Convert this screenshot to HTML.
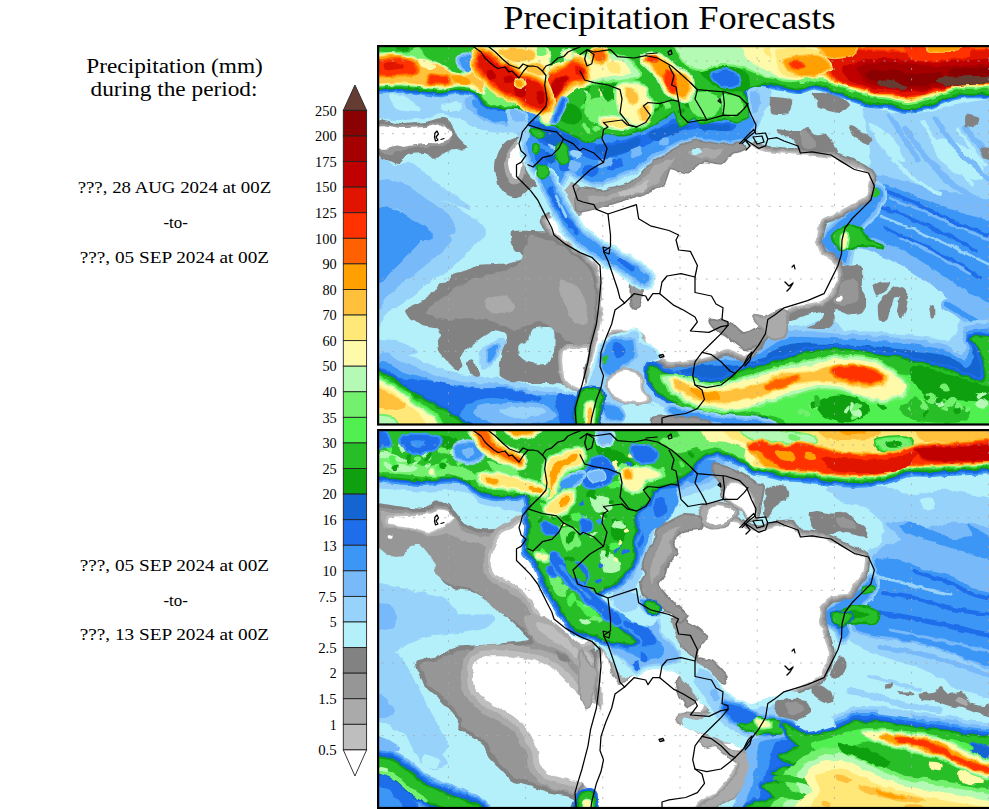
<!DOCTYPE html>
<html><head><meta charset="utf-8"><title>Precipitation Forecasts</title>
<style>html,body{margin:0;padding:0;background:#fff;}svg{display:block;}text{font-family:"Liberation Serif",serif;fill:#000;}</style></head><body>
<svg width="989" height="809" viewBox="0 0 989 809">
<rect width="989" height="809" fill="#fff"/>
<text x="669.5" y="29.2" font-size="33" text-anchor="middle" textLength="332.5" lengthAdjust="spacingAndGlyphs">Precipitation Forecasts</text>
<text x="174.6" y="73" font-size="20" text-anchor="middle" textLength="176.5" lengthAdjust="spacingAndGlyphs">Precipitation (mm)</text>
<text x="174" y="96.4" font-size="20" text-anchor="middle" textLength="167" lengthAdjust="spacingAndGlyphs">during the period:</text>
<text x="174.4" y="192.8" font-size="16.6" text-anchor="middle" textLength="193.5" lengthAdjust="spacingAndGlyphs">???, 28 AUG 2024 at 00Z</text>
<text x="175.6" y="227.8" font-size="16.6" text-anchor="middle" textLength="24.4" lengthAdjust="spacingAndGlyphs">-to-</text>
<text x="174.4" y="262.8" font-size="16.6" text-anchor="middle" textLength="189.3" lengthAdjust="spacingAndGlyphs">???, 05 SEP 2024 at 00Z</text>
<text x="174.4" y="570.6" font-size="16.6" text-anchor="middle" textLength="189.3" lengthAdjust="spacingAndGlyphs">???, 05 SEP 2024 at 00Z</text>
<text x="175.6" y="605.6" font-size="16.6" text-anchor="middle" textLength="24.4" lengthAdjust="spacingAndGlyphs">-to-</text>
<text x="174.4" y="640.0" font-size="16.6" text-anchor="middle" textLength="189.3" lengthAdjust="spacingAndGlyphs">???, 13 SEP 2024 at 00Z</text>
<g stroke="#222" stroke-width="0.9" stroke-linejoin="miter"><path d="M343.3 110.4 L354.95000000000005 85 L366.6 110.4 Z" fill="#643c32"/><rect x="343.3" y="110.40" width="23.30" height="25.58" fill="#8b0000"/><rect x="343.3" y="135.98" width="23.30" height="25.58" fill="#a50000"/><rect x="343.3" y="161.56" width="23.30" height="25.58" fill="#c00000"/><rect x="343.3" y="187.14" width="23.30" height="25.58" fill="#e11400"/><rect x="343.3" y="212.72" width="23.30" height="25.58" fill="#ff3200"/><rect x="343.3" y="238.30" width="23.30" height="25.58" fill="#ff6000"/><rect x="343.3" y="263.88" width="23.30" height="25.58" fill="#ffa000"/><rect x="343.3" y="289.46" width="23.30" height="25.58" fill="#ffc03c"/><rect x="343.3" y="315.04" width="23.30" height="25.58" fill="#ffe878"/><rect x="343.3" y="340.62" width="23.30" height="25.58" fill="#fffaaa"/><rect x="343.3" y="366.20" width="23.30" height="25.58" fill="#b4fab4"/><rect x="343.3" y="391.78" width="23.30" height="25.58" fill="#73f06e"/><rect x="343.3" y="417.36" width="23.30" height="25.58" fill="#50f050"/><rect x="343.3" y="442.94" width="23.30" height="25.58" fill="#28be28"/><rect x="343.3" y="468.52" width="23.30" height="25.58" fill="#0fa00f"/><rect x="343.3" y="494.10" width="23.30" height="25.58" fill="#1464d2"/><rect x="343.3" y="519.68" width="23.30" height="25.58" fill="#1e6eeb"/><rect x="343.3" y="545.26" width="23.30" height="25.58" fill="#3c96f5"/><rect x="343.3" y="570.84" width="23.30" height="25.58" fill="#78b9fa"/><rect x="343.3" y="596.42" width="23.30" height="25.58" fill="#96d2fa"/><rect x="343.3" y="622.00" width="23.30" height="25.58" fill="#b4f0fa"/><rect x="343.3" y="647.58" width="23.30" height="25.58" fill="#828282"/><rect x="343.3" y="673.16" width="23.30" height="25.58" fill="#969696"/><rect x="343.3" y="698.74" width="23.30" height="25.58" fill="#aaaaaa"/><rect x="343.3" y="724.32" width="23.30" height="25.58" fill="#bebebe"/><path d="M343.3 749.90 L354.95000000000005 776 L366.6 749.90 Z" fill="#fff"/></g>
<g font-size="14.2" text-anchor="end"><text x="336.7" y="115.6" textLength="21.6" lengthAdjust="spacingAndGlyphs">250</text><text x="336.7" y="141.2" textLength="21.6" lengthAdjust="spacingAndGlyphs">200</text><text x="336.7" y="166.8" textLength="21.6" lengthAdjust="spacingAndGlyphs">175</text><text x="336.7" y="192.3" textLength="21.6" lengthAdjust="spacingAndGlyphs">150</text><text x="336.7" y="217.9" textLength="21.6" lengthAdjust="spacingAndGlyphs">125</text><text x="336.7" y="243.5" textLength="21.6" lengthAdjust="spacingAndGlyphs">100</text><text x="336.7" y="269.1" textLength="14.3" lengthAdjust="spacingAndGlyphs">90</text><text x="336.7" y="294.7" textLength="14.3" lengthAdjust="spacingAndGlyphs">80</text><text x="336.7" y="320.2" textLength="14.3" lengthAdjust="spacingAndGlyphs">70</text><text x="336.7" y="345.8" textLength="14.3" lengthAdjust="spacingAndGlyphs">60</text><text x="336.7" y="371.4" textLength="14.3" lengthAdjust="spacingAndGlyphs">50</text><text x="336.7" y="397.0" textLength="14.3" lengthAdjust="spacingAndGlyphs">40</text><text x="336.7" y="422.6" textLength="14.3" lengthAdjust="spacingAndGlyphs">35</text><text x="336.7" y="448.1" textLength="14.3" lengthAdjust="spacingAndGlyphs">30</text><text x="336.7" y="473.7" textLength="14.3" lengthAdjust="spacingAndGlyphs">25</text><text x="336.7" y="499.3" textLength="14.3" lengthAdjust="spacingAndGlyphs">20</text><text x="336.7" y="524.9" textLength="14.3" lengthAdjust="spacingAndGlyphs">16</text><text x="336.7" y="550.5" textLength="14.3" lengthAdjust="spacingAndGlyphs">13</text><text x="336.7" y="576.0" textLength="14.3" lengthAdjust="spacingAndGlyphs">10</text><text x="336.7" y="601.6" textLength="18.5" lengthAdjust="spacingAndGlyphs">7.5</text><text x="336.7" y="627.2" textLength="6.9" lengthAdjust="spacingAndGlyphs">5</text><text x="336.7" y="652.8" textLength="18.5" lengthAdjust="spacingAndGlyphs">2.5</text><text x="336.7" y="678.4" textLength="6.9" lengthAdjust="spacingAndGlyphs">2</text><text x="336.7" y="703.9" textLength="18.5" lengthAdjust="spacingAndGlyphs">1.5</text><text x="336.7" y="729.5" textLength="6.9" lengthAdjust="spacingAndGlyphs">1</text><text x="336.7" y="755.1" textLength="18.5" lengthAdjust="spacingAndGlyphs">0.5</text></g>
<defs><filter id="rough" x="-2%" y="-2%" width="104%" height="104%" filterUnits="objectBoundingBox" color-interpolation-filters="sRGB"><feTurbulence type="fractalNoise" baseFrequency="0.1" numOctaves="2" seed="7" result="n"/><feDisplacementMap in="SourceGraphic" in2="n" scale="5" xChannelSelector="R" yChannelSelector="G"/></filter></defs><clipPath id="ct"><rect x="378" y="46" width="611" height="378.5"/></clipPath><g clip-path="url(#ct)"><rect x="378" y="46" width="611" height="378.5" fill="#b4f0fa"/><g filter="url(#rough)" stroke-linejoin="round" stroke-linecap="round"><path d="M379 200 C385.8 180.8 409.8 205 420 205 C430.2 205 431.7 198.3 440 200 C448.3 201.7 462.3 209.7 470 215 C477.7 220.3 486 226.2 486 232 C486 237.8 475.7 244 470 250 C464.3 256 458.3 263 452 268 C445.7 273 439.3 274.7 432 280 C424.7 285.3 415.8 294.3 408 300 C400.2 305.7 389.8 310.7 385 314 C380.2 317.3 380 339 379 320 C378 301 372.2 219.2 379 200 Z" fill="#96d2fa"/><path d="M379 220 C382.5 206.2 392.3 220.3 400 222 C407.7 223.7 417 227.7 425 230 C433 232.3 443.8 233.7 448 236 C452.2 238.3 452.7 240 450 244 C447.3 248 439.3 253.8 432 260 C424.7 266.2 413.5 274.8 406 281 C398.5 287.2 391.5 293 387 297 C382.5 301 380.3 317.8 379 305 C377.7 292.2 375.5 233.8 379 220 Z" fill="#78b9fa"/><path d="M379 232 C382.5 223.8 392.8 231.3 400 232 C407.2 232.7 420.7 232.2 422 236 C423.3 239.8 413 249.2 408 255 C403 260.8 396.8 266.7 392 271 C387.2 275.3 381.2 287.5 379 281 C376.8 274.5 375.5 240.2 379 232 Z" fill="#3c96f5"/><path d="M379 160 C381.7 154.2 389.3 164.5 395 165 C400.7 165.5 407.2 160.8 413 163 C418.8 165.2 423 172.7 430 178 C437 183.3 448.3 189.7 455 195 C461.7 200.3 472.5 209.2 470 210 C467.5 210.8 448.3 200.8 440 200 C431.7 199.2 430.2 205 420 205 C409.8 205 385.8 207.5 379 200 C372.2 192.5 376.3 165.8 379 160 Z" fill="#96d2fa"/><path d="M379 181 C383.5 177.2 398.3 181.2 406 184 C413.7 186.8 418 193 425 198 C432 203 443 208.2 448 214 C453 219.8 458 229.5 455 233 C452 236.5 437.3 237.3 430 235 C422.7 232.7 416.5 223.3 411 219 C405.5 214.7 402.3 211 397 209 C391.7 207 382 211.7 379 207 C376 202.3 374.5 184.8 379 181 Z" fill="#78b9fa"/><path d="M379 208 C382 203 391.7 208.2 397 210 C402.3 211.8 406 216 411 219 C416 222 423.8 224.5 427 228 C430.2 231.5 434.5 238 430 240 C425.5 242 408.5 240 400 240 C391.5 240 382.5 245.3 379 240 C375.5 234.7 376 213 379 208 Z" fill="#3c96f5"/><path d="M370 88 C370 88 394.3 87.5 402 88 C409.7 88.5 428.4 92 436 92 C443.6 92 461.6 87.5 467 88 C472.4 88.5 478.1 93.7 482 96 C485.9 98.3 495.1 106.1 500 108 C504.9 109.9 520.5 110.1 524 112 C527.5 113.9 531 121.7 530 124 C529 126.3 519.7 131.1 515 132 C510.3 132.9 495 132.7 490 132 C485 131.3 475.5 127.6 472 126 C468.5 124.4 462.7 119.2 460 118 C457.3 116.8 451.2 116.5 449 116 C446.8 115.5 443.8 113.8 441 114 C438.2 114.2 429.7 117.3 425 118 C420.3 118.7 407.4 120 401 120 C394.6 120 370 118 370 118 L370 88 Z" fill="#96d2fa"/><path d="M466 98 C468.3 96.7 475.3 96.7 480 98 C484.7 99.3 490.7 103 494 106 C497.3 109 500.7 113.7 500 116 C499.3 118.3 494.3 120.3 490 120 C485.7 119.7 478 116.3 474 114 C470 111.7 467.3 108.7 466 106 C464.7 103.3 463.7 99.3 466 98 Z" fill="#78b9fa"/><path d="M441.2 103 C443.7 102 459 101.9 461.3 103 C463.6 104.1 460.9 110.6 458.4 111.6 C455.9 112.6 444.9 111.3 442.6 110.2 C440.3 109.1 438.7 104 441.2 103 Z" fill="#b4f0fa"/><path d="M389.5 94.8 C391 93.8 399.8 94.1 403.8 95.8 C407.8 97.5 417.7 105.2 419.6 107.3 C421.5 109.4 420.9 111.2 418.2 111.6 C415.5 112 402.9 111.3 399.5 110.2 C396.1 109.1 393.7 105.1 392.4 103 C391.1 100.9 388 95.8 389.5 94.8 Z" fill="#b4f0fa"/><path d="M474 100 C476.3 99.7 482.5 105.7 490 108 C497.5 110.3 515.3 111.7 519 114 C522.7 116.3 516.8 121 512 122 C507.2 123 496 122 490 120 C484 118 478.7 113.3 476 110 C473.3 106.7 471.7 100.3 474 100 Z" fill="#78b9fa" stroke="#78b9fa" stroke-width="6"/><path d="M474 100 C476.3 99.7 482.5 105.7 490 108 C497.5 110.3 515.3 111.7 519 114 C522.7 116.3 516.8 121 512 122 C507.2 123 496 122 490 120 C484 118 478.7 113.3 476 110 C473.3 106.7 471.7 100.3 474 100 Z" fill="#3c96f5"/><path d="M379 340 C382.5 338.3 393.5 340 400 342 C406.5 344 418 349.7 418 352 C418 354.3 406.5 356 400 356 C393.5 356 382.5 354.7 379 352 C375.5 349.3 375.5 341.7 379 340 Z" fill="#96d2fa"/><path d="M379 346 C382.7 333.7 393.3 349.3 401 352 C408.7 354.7 417.2 358.8 425 362 C432.8 365.2 440.2 368.7 448 371 C455.8 373.3 463.3 374.8 472 376 C480.7 377.2 490.7 376.5 500 378 C509.3 379.5 518.7 383.3 528 385 C537.3 386.7 546.8 386.3 556 388 C565.2 389.7 575.7 393 583 395 C590.3 397 597.2 394.8 600 400 C602.8 405.2 600 426 600 426 L379 426 C379 426 375.3 358.3 379 346 Z" fill="#96d2fa"/><path d="M379 356 C382.7 345.3 393.3 359.5 401 362 C408.7 364.5 417.2 368.2 425 371 C432.8 373.8 440.2 377 448 379 C455.8 381 463.3 382.2 472 383 C480.7 383.8 490.7 382.8 500 384 C509.3 385.2 518.7 388.5 528 390 C537.3 391.5 547.3 391.3 556 393 C564.7 394.7 576 394.5 580 400 C584 405.5 580 426 580 426 L379 426 C379 426 375.3 366.7 379 356 Z" fill="#78b9fa"/><path d="M379 364 C382.7 354.8 393.3 368.7 401 371 C408.7 373.3 417.2 375.8 425 378 C432.8 380.2 438.8 382.3 448 384 C457.2 385.7 469.7 387.3 480 388 C490.3 388.7 500 386.7 510 388 C520 389.3 531.7 394.7 540 396 C548.3 397.3 553.3 395 560 396 C566.7 397 578.3 397 580 402 C581.7 407 570 426 570 426 L379 426 C379 426 375.3 373.2 379 364 Z" fill="#3c96f5"/><path d="M379 370 C382.5 362 391.2 376.2 400 378 C408.8 379.8 420.3 379.3 432 381 C443.7 382.7 457 386.7 470 388 C483 389.3 498 387.2 510 389 C522 390.8 540.5 397 542 399 C543.5 401 527.5 401.2 519 401 C510.5 400.8 499.7 397.3 491 398 C482.3 398.7 473 400.3 467 405 C461 409.7 455 426 455 426 L379 426 C379 426 375.5 378 379 370 Z" fill="#1e6eeb"/><path d="M476 407 C480.3 404 499 403.5 510 403 C521 402.5 534.3 401.5 542 404 C549.7 406.5 559.8 414.7 556 418 C552.2 421.3 531 423.5 519 424 C507 424.5 491.2 423.8 484 421 C476.8 418.2 471.7 410 476 407 Z" fill="#78b9fa"/><path d="M500 409 C503.3 407.2 527.5 406.2 535 407 C542.5 407.8 548.3 412.2 545 414 C541.7 415.8 522.5 418.8 515 418 C507.5 417.2 496.7 410.8 500 409 Z" fill="#96d2fa"/><path d="M556 395 C558.8 390.5 574.3 393.8 578 399 C581.7 404.2 578 426 578 426 L561 426 C561 426 553.2 399.5 556 395 Z" fill="#1e6eeb"/><path d="M370 370 C370 370 375.5 370.8 380 373 C384.5 375.2 391.5 379.3 397 383 C402.5 386.7 407.5 391.5 413 395 C418.5 398.5 424.2 400.8 430 404 C435.8 407.2 441.3 410 448 414 C454.7 418 470 428 470 428 L370 428 L370 370 Z" fill="#1464d2" stroke="#1464d2" stroke-width="8"/><path d="M370 370 C370 370 375.5 370.8 380 373 C384.5 375.2 391.5 379.3 397 383 C402.5 386.7 407.5 391.5 413 395 C418.5 398.5 424.2 400.8 430 404 C435.8 407.2 441.3 410 448 414 C454.7 418 470 428 470 428 L370 428 L370 370 Z" fill="#0fa00f" stroke="#0fa00f" stroke-width="4"/><path d="M370 370 C370 370 375.5 370.8 380 373 C384.5 375.2 391.5 379.3 397 383 C402.5 386.7 407.5 391.5 413 395 C418.5 398.5 424.2 400.8 430 404 C435.8 407.2 441.3 410 448 414 C454.7 418 470 428 470 428 L370 428 L370 370 Z" fill="#28be28"/><path d="M370 377 C370 377 375.5 376.2 380 378 C384.5 379.8 391.2 384.2 397 388 C402.8 391.8 409.2 396.8 415 401 C420.8 405.2 427 408.5 432 413 C437 417.5 445 428 445 428 L370 428 L370 377 Z" fill="#50f050" stroke="#50f050" stroke-width="4"/><path d="M370 377 C370 377 375.5 376.2 380 378 C384.5 379.8 391.2 384.2 397 388 C402.8 391.8 409.2 396.8 415 401 C420.8 405.2 427 408.5 432 413 C437 417.5 445 428 445 428 L370 428 L370 377 Z" fill="#73f06e"/><path d="M370 380 C370 380 375.5 379.2 380 381 C384.5 382.8 391.2 387 397 391 C402.8 395 409.2 400.7 415 405 C420.8 409.3 428.2 413.2 432 417 C435.8 420.8 438 428 438 428 L370 428 L370 380 Z" fill="#b4fab4" stroke="#b4fab4" stroke-width="3"/><path d="M370 380 C370 380 375.5 379.2 380 381 C384.5 382.8 391.2 387 397 391 C402.8 395 409.2 400.7 415 405 C420.8 409.3 428.2 413.2 432 417 C435.8 420.8 438 428 438 428 L370 428 L370 380 Z" fill="#fffaaa"/><path d="M370 384 C370 384 375.8 383.3 380 385 C384.2 386.7 389.7 390.2 395 394 C400.3 397.8 407 403.7 412 408 C417 412.3 422.5 416.7 425 420 C427.5 423.3 427 428 427 428 L370 428 L370 384 Z" fill="#ffe878"/><path d="M370 388 C370 388 376.3 386.8 380 388 C383.7 389.2 387.7 392.3 392 395 C396.3 397.7 404.5 401.7 406 404 C407.5 406.3 404.2 408.2 401 409 C397.8 409.8 392.2 409.7 387 409 C381.8 408.3 370 405 370 405 L370 388 Z" fill="#ffc03c"/><path d="M370 417 C370 417 385 416.2 390 418 C395 419.8 400 428 400 428 L370 428 L370 417 Z" fill="#73f06e" stroke="#73f06e" stroke-width="4"/><path d="M370 417 C370 417 385 416.2 390 418 C395 419.8 400 428 400 428 L370 428 L370 417 Z" fill="#b4fab4"/><path d="M864 106 C868 103.3 879.8 111 890 112 C900.2 113 913.3 113.3 925 112 C936.7 110.7 948.3 106.3 960 104 C971.7 101.7 995 98 995 98 L995 430 L930 430 C930 430 881.7 373 860 360 C838.3 347 816.7 354.5 800 352 C783.3 349.5 761.7 348.7 760 345 C758.3 341.3 778.3 334.2 790 330 C801.7 325.8 820 319.2 830 320 C840 320.8 838.3 330.8 850 335 C861.7 339.2 883.3 344.2 900 345 C916.7 345.8 940 347.5 950 340 C960 332.5 961.7 311.7 960 300 C958.3 288.3 950 277.5 940 270 C930 262.5 911.7 258.3 900 255 C888.3 251.7 878.3 251.7 870 250 C861.7 248.3 850 250.8 850 245 C850 239.2 865.3 223.8 870 215 C874.7 206.2 878 198.5 878 192 C878 185.5 871.3 183 870 176 C868.7 169 870.7 158 870 150 C869.3 142 867 135.3 866 128 C865 120.7 860 108.7 864 106 Z" fill="#96d2fa"/><path d="M855 270 C863.3 263.7 885.8 261.2 900 262 C914.2 262.8 930.8 267.8 940 275 C949.2 282.2 954.2 295 955 305 C955.8 315 954.2 328.8 945 335 C935.8 341.2 914.2 342 900 342 C885.8 342 868.3 342 860 335 C851.7 328 850.8 310.8 850 300 C849.2 289.2 846.7 276.3 855 270 Z" fill="#b4f0fa"/><path d="M934 139 C939.3 137.3 963.5 143.5 972 150 C980.5 156.5 987 173.8 985 178 C983 182.2 967.5 178 960 175 C952.5 172 944.3 166 940 160 C935.7 154 928.7 140.7 934 139 Z" fill="#b4f0fa"/><path d="M868 122 C870.3 121.2 883.8 128.7 890 135 C896.2 141.3 904.7 156.2 905 160 C905.3 163.8 896.8 161.3 892 158 C887.2 154.7 880 146 876 140 C872 134 865.7 122.8 868 122 Z" fill="#b4f0fa"/><path d="M874 176 C877.3 173.7 893.5 178.6 900 180 C906.5 181.4 923 186.4 930 188 C937 189.6 952.4 192.6 960 194 C967.6 195.4 995 200 995 200 L995 332 C995 332 971.4 316.7 965 312 C958.6 307.3 945.8 296.4 940 292 C934.2 287.6 920.8 277.7 915 274 C909.2 270.3 895.5 262.8 890 260 C884.5 257.2 873.1 252.1 868 250 C862.9 247.9 846.9 245.3 846 242 C845.1 238.7 857 226.9 860 222 C863 217.1 870.4 205.4 872 200 C873.6 194.6 870.7 178.3 874 176 Z" fill="#78b9fa"/><path d="M878 184 C882.3 181.7 898.4 189.7 905 192 C911.6 194.3 928 201.4 935 204 C942 206.6 958 211.9 965 214 C972 216.1 995 222 995 222 L995 306 C995 306 969.4 292.4 962 288 C954.6 283.6 939 272.4 932 268 C925 263.6 908.8 253.5 902 250 C895.2 246.5 879.1 239.4 874 238 C868.9 236.6 858.7 241 858 238 C857.3 235 865.7 218.3 868 212 C870.3 205.7 873.7 186.3 878 184 Z" fill="#3c96f5"/><path d="M884 190 C889.2 192.2 904 198 915 203 C926 208 937.2 214.5 950 220 C962.8 225.5 992 236 992 236" fill="none" stroke="#1e6eeb" stroke-width="3.5"/><path d="M878 206 C883.3 208 898.8 213.3 910 218 C921.2 222.7 934.2 228.7 945 234 C955.8 239.3 970 247.3 975 250" fill="none" stroke="#1e6eeb" stroke-width="3.5"/><path d="M885 228 C890.8 230.7 908.3 238.3 920 244 C931.7 249.7 945 256.3 955 262 C965 267.7 975.8 275.3 980 278" fill="none" stroke="#1e6eeb" stroke-width="3"/><path d="M890 198 C895.8 200.3 912.5 206.7 925 212 C937.5 217.3 953.8 225.3 965 230 C976.2 234.7 992 240 992 240" fill="none" stroke="#78b9fa" stroke-width="2.5"/><path d="M880 216 C885.8 218.3 902.5 224.7 915 230 C927.5 235.3 942.2 242 955 248 C967.8 254 992 266 992 266" fill="none" stroke="#96d2fa" stroke-width="2.5"/><path d="M900 238 C905.8 240.7 923.3 248 935 254 C946.7 260 964.2 270.7 970 274" fill="none" stroke="#78b9fa" stroke-width="2.5"/><path d="M948 305 C951.7 307.2 962.7 313.5 970 318 C977.3 322.5 992 332 992 332" fill="none" stroke="#78b9fa" stroke-width="12"/><path d="M948 305 C951.7 307.2 962.7 313.5 970 318 C977.3 322.5 992 332 992 332" fill="none" stroke="#3c96f5" stroke-width="6"/><path d="M905 128 C908.3 132.7 917.5 147 925 156 C932.5 165 940 174 950 182 C960 190 979.2 200.3 985 204" fill="none" stroke="#78b9fa" stroke-width="6"/><path d="M890 116 C892.3 119.7 899.3 130.7 904 138 C908.7 145.3 915.7 156.3 918 160" fill="none" stroke="#78b9fa" stroke-width="5"/><path d="M935 118 C938.8 123.3 948.8 139.7 958 150 C967.2 160.3 984.7 175 990 180" fill="none" stroke="#78b9fa" stroke-width="5"/><path d="M965 128 L992 160" fill="none" stroke="#78b9fa" stroke-width="6"/><path d="M922 122 C925.3 126.7 933.7 139.7 942 150 C950.3 160.3 967 178.3 972 184" fill="none" stroke="#b4f0fa" stroke-width="4"/><path d="M893 160 C896.7 163.3 907.2 174.3 915 180 C922.8 185.7 935.8 191.7 940 194" fill="none" stroke="#b4f0fa" stroke-width="4"/><path d="M958 130 L985 165" fill="none" stroke="#b4f0fa" stroke-width="3"/><path d="M648 360 C650.6 356.4 668.8 364.6 674 364 C679.2 363.4 693 355 700 354 C707 353 737 355.6 744 354 C751 352.4 765.4 340.4 770 338 C774.6 335.6 784 330.5 790 330 C796 329.5 823.6 332.5 830 333 C836.4 333.5 849 334.7 854 335 C859 335.3 872.9 335.4 880 336 C887.1 336.6 918 339.9 925 341 C932 342.1 946.3 345.7 950 347 C953.7 348.3 960.4 353.9 962 354 C963.6 354.1 966 349.8 966 348 C966 346.2 962 338.2 962 336 C962 333.8 962.7 327.4 966 326 C969.3 324.6 995 322 995 322 L995 400 C995 400 682.7 404 648 400 C613.3 396 645.4 363.6 648 360 Z" fill="#96d2fa" stroke="#96d2fa" stroke-width="8"/><path d="M648 360 C650.6 356.4 668.8 364.6 674 364 C679.2 363.4 693 355 700 354 C707 353 737 355.6 744 354 C751 352.4 765.4 340.4 770 338 C774.6 335.6 784 330.5 790 330 C796 329.5 823.6 332.5 830 333 C836.4 333.5 849 334.7 854 335 C859 335.3 872.9 335.4 880 336 C887.1 336.6 918 339.9 925 341 C932 342.1 946.3 345.7 950 347 C953.7 348.3 960.4 353.9 962 354 C963.6 354.1 966 349.8 966 348 C966 346.2 962 338.2 962 336 C962 333.8 962.7 327.4 966 326 C969.3 324.6 995 322 995 322 L995 400 C995 400 682.7 404 648 400 C613.3 396 645.4 363.6 648 360 Z" fill="#78b9fa"/><path d="M650 363 C652.4 359.8 669 368.3 674 368 C679 367.7 693 360.8 700 360 C707 359.2 737 361.4 744 360 C751 358.6 765.4 348.3 770 346 C774.6 343.7 784 337.8 790 337 C796 336.2 823.6 337.8 830 338 C836.4 338.2 849 339.2 854 339.5 C859 339.8 872.9 340.4 880 341 C887.1 341.6 918 344.9 925 346 C932 347.1 946.1 350.6 950 352 C953.9 353.4 962 360 964 360 C966 360 969.8 354 970 352 C970.2 350 966.2 342.1 966 340 C965.8 337.9 965.1 332.2 968 331 C970.9 329.8 995 328 995 328 L995 400 C995 400 684.5 403.7 650 400 C615.5 396.3 647.6 366.2 650 363 Z" fill="#3c96f5"/><path d="M650 365 C652.4 362.1 669 370.9 674 371 C679 371.1 693 366.6 700 366 C707 365.4 737 366.3 744 365 C751 363.7 765.4 355.1 770 353 C774.6 350.9 784 344.9 790 344 C796 343.1 823.6 343.9 830 344 C836.4 344.1 849 344.7 854 345 C859 345.3 872.9 346.3 880 347 C887.1 347.7 918 351 925 352 C932 353 945.9 355.5 950 357 C954.1 358.5 963.6 366.9 966 367 C968.4 367.1 973.6 360.3 974 358 C974.4 355.7 970.4 346.3 970 344 C969.6 341.7 967.5 336.1 970 335 C972.5 333.9 995 332.5 995 332.5 L995 400 C995 400 684.5 403.5 650 400 C615.5 396.5 647.6 367.9 650 365 Z" fill="#1464d2"/><path d="M822 240 C823 236 829.7 230.2 834 226 C838.3 221.8 843.3 218.7 848 215 C852.7 211.3 858 207.8 862 204 C866 200.2 869.3 195 872 192 C874.7 189 876.3 185.3 878 186 C879.7 186.7 883 191.3 882 196 C881 200.7 876 208.7 872 214 C868 219.3 861.7 223 858 228 C854.3 233 852 238.3 850 244 C848 249.7 848 259.7 846 262 C844 264.3 841 260 838 258 C835 256 830.7 253 828 250 C825.3 247 821 244 822 240 Z" fill="#96d2fa" stroke="#96d2fa" stroke-width="10"/><path d="M822 240 C823 236 829.7 230.2 834 226 C838.3 221.8 843.3 218.7 848 215 C852.7 211.3 858 207.8 862 204 C866 200.2 869.3 195 872 192 C874.7 189 876.3 185.3 878 186 C879.7 186.7 883 191.3 882 196 C881 200.7 876 208.7 872 214 C868 219.3 861.7 223 858 228 C854.3 233 852 238.3 850 244 C848 249.7 848 259.7 846 262 C844 264.3 841 260 838 258 C835 256 830.7 253 828 250 C825.3 247 821 244 822 240 Z" fill="#78b9fa" stroke="#78b9fa" stroke-width="5"/><path d="M822 240 C823 236 829.7 230.2 834 226 C838.3 221.8 843.3 218.7 848 215 C852.7 211.3 858 207.8 862 204 C866 200.2 869.3 195 872 192 C874.7 189 876.3 185.3 878 186 C879.7 186.7 883 191.3 882 196 C881 200.7 876 208.7 872 214 C868 219.3 861.7 223 858 228 C854.3 233 852 238.3 850 244 C848 249.7 848 259.7 846 262 C844 264.3 841 260 838 258 C835 256 830.7 253 828 250 C825.3 247 821 244 822 240 Z" fill="#3c96f5"/><path d="M833 236 C834.7 232.7 843.8 227.3 848 226 C852.2 224.7 854.7 225.7 858 228 C861.3 230.3 864 236.8 868 240 C872 243.2 883.5 246.2 882 247 C880.5 247.8 865.5 244.5 859 245 C852.5 245.5 846.5 249.8 843 250 C839.5 250.2 839.7 248.3 838 246 C836.3 243.7 831.3 239.3 833 236 Z" fill="#0fa00f" stroke="#0fa00f" stroke-width="4"/><path d="M833 236 C834.7 232.7 843.8 227.3 848 226 C852.2 224.7 854.7 225.7 858 228 C861.3 230.3 864 236.8 868 240 C872 243.2 883.5 246.2 882 247 C880.5 247.8 865.5 244.5 859 245 C852.5 245.5 846.5 249.8 843 250 C839.5 250.2 839.7 248.3 838 246 C836.3 243.7 831.3 239.3 833 236 Z" fill="#28be28"/><path d="M874 186 C875.2 185 878.5 188 879 190 C879.5 192 878.2 197 877 198 C875.8 199 872.5 198 872 196 C871.5 194 872.8 187 874 186 Z" fill="#28be28"/><path d="M842 236 C843 234 847.3 232 848 234 C848.7 236 847 246 846 248 C845 250 842.7 248 842 246 C841.3 244 841 238 842 236 Z" fill="#73f06e" stroke="#73f06e" stroke-width="4"/><path d="M842 236 C843 234 847.3 232 848 234 C848.7 236 847 246 846 248 C845 250 842.7 248 842 246 C841.3 244 841 238 842 236 Z" fill="#b4fab4" stroke="#b4fab4" stroke-width="2"/><path d="M842 236 C843 234 847.3 232 848 234 C848.7 236 847 246 846 248 C845 250 842.7 248 842 246 C841.3 244 841 238 842 236 Z" fill="#fffaaa"/><path d="M379 121 C381.6 117.3 395.6 123.9 401 124 C406.4 124.1 420.3 122.7 425 122 C429.7 121.3 438.2 118.1 441 118 C443.8 117.9 447 118.8 449 121 C451 123.2 455.8 133.8 458 137 C460.2 140.2 468.4 146.5 468 148 C467.6 149.5 457.6 149.7 455 150 C452.4 150.3 448.4 149.9 446 151 C443.6 152.1 436.4 158.8 434 159 C431.6 159.2 428 153.5 425 153 C422 152.5 411 153.7 408 155 C405 156.3 401.1 163.3 399 164 C396.9 164.7 392.3 161.9 390 161 C387.7 160.1 380.3 160.7 379 156 C377.7 151.3 376.4 124.7 379 121 Z" fill="#828282"/><path d="M379 124 C381.6 121.2 395.6 125.9 401 126 C406.4 126.1 420.3 125.5 425 125 C429.7 124.5 437.9 121.3 441 122 C444.1 122.7 450.8 128.9 452 131 C453.2 133.1 452.4 138.2 451 140 C449.6 141.8 443 145.3 440 146 C437 146.7 429.1 145.7 425 146 C420.9 146.3 408.9 148.1 405 149 C401.1 149.9 395 153.9 392 154 C389 154.1 380.5 153.5 379 150 C377.5 146.5 376.4 126.8 379 124 Z" fill="#969696"/><path d="M379 126 C381.6 123.7 395.6 127.9 401 128 C406.4 128.1 420.3 127.4 425 127 C429.7 126.6 438 123.9 441 124.5 C444 125.1 450.1 130.3 451 132 C451.9 133.7 450.5 137.7 449 139 C447.5 140.3 440.9 142.5 438 143 C435.1 143.5 428.3 142.7 424 143 C419.7 143.3 406.2 145.4 401 146 C395.8 146.6 381.6 150.3 379 148 C376.4 145.7 376.4 128.3 379 126 Z" fill="#ffffff"/><path d="M519 138 C516.3 136.8 510.7 139.3 508 141 C505.3 142.7 500.7 147.5 499 151 C497.3 154.5 495.1 162.7 495 167 C494.9 171.3 496.5 179.3 498 183 C499.5 186.7 503.5 193 506 195 C508.5 197 514.1 198.7 517 198 C519.9 197.3 524.9 191.6 528 190 C531.1 188.4 537.3 185.3 540 186 C542.7 186.7 548 195.8 548 195 C548 194.2 542.7 186 540 180 C537.3 174 530.8 155.6 528 150 C525.2 144.4 521.7 139.2 519 138 Z" fill="#828282"/><path d="M520 139 C517.6 139.3 512.1 144.9 510 148 C507.9 151.1 504.4 158 504 162 C503.6 166 505.4 175.1 507 178 C508.6 180.9 513.7 184 516 184 C518.3 184 522.7 181.2 524 178 C525.3 174.8 525.5 164.3 526 160 C526.5 155.7 528.8 148.8 528 146 C527.2 143.2 522.4 138.7 520 139 Z" fill="#aaaaaa"/><path d="M520 141 C518.5 140.7 513.6 148.2 512 151 C510.4 153.8 508.1 158.8 508 162 C507.9 165.2 509.8 172.9 511 175 C512.2 177.1 515.7 178.9 517 178 C518.3 177.1 520.2 171.3 521 168 C521.8 164.7 523.1 156.6 523 153 C522.9 149.4 521.5 141.3 520 141 Z" fill="#ffffff"/><path d="M511 232 C509.4 233.8 512.7 246.4 514 249 C515.3 251.6 524.4 256.6 524 258 C523.6 259.4 512.9 262.4 510 263 C507.1 263.6 498.3 263.8 495 264 C491.7 264.2 479.8 264.4 477 265 C474.2 265.6 469.4 269.1 467 270 C464.6 270.9 454.9 272.8 453 274 C451.1 275.2 449.4 281 448 282 C446.6 283 440.8 282.6 439 284 C437.2 285.4 432.1 294.1 430 296 C427.9 297.9 420.5 301.6 418 303 C415.5 304.4 405.7 308.3 405 310 C404.3 311.7 409.2 318.5 411 320 C412.8 321.5 420.4 324.2 423 325 C425.6 325.8 435.2 327.1 437 328 C438.8 328.9 441 332.5 441 334 C441 335.5 437.2 341.2 437 343 C436.8 344.8 437.9 350.1 439 352 C440.1 353.9 446.1 360.1 448 362 C449.9 363.9 456.6 370.9 458 371 C459.4 371.1 461.8 364.4 462 363 C462.2 361.6 459 358.8 460 357 C461 355.2 469.9 346.9 472 345 C474.1 343.1 478.9 339.4 481 338 C483.1 336.6 490.6 331.4 493 331 C495.4 330.6 503.6 333.3 505 334 C506.4 334.7 507.3 336.2 507 338 C506.7 339.8 502.7 349.2 502 352 C501.3 354.8 500.2 363.6 500 366 C499.8 368.4 499 374.5 500 376 C501 377.5 507.2 380.3 510 381 C512.8 381.7 524.3 382.8 528 383 C531.7 383.2 543.4 382.8 547 383 C550.6 383.2 560.4 384.3 564 385 C567.6 385.7 579.8 390 583 390 C586.2 390 594.2 389 596 385 C597.8 381 600.4 358.5 601 350 C601.6 341.5 602.1 308.2 602 300 C601.9 291.8 602.2 273 600 268 C597.8 263 584 253 580 250 C576 247 562.8 239.8 560 238 C557.2 236.2 555 232.7 552 232 C549 231.3 534.1 231 530 231 C525.9 231 512.6 230.2 511 232 Z" fill="#828282"/><path d="M520 262 C516 266.8 506.7 269.6 500 272 C493.3 274.4 477.3 276.8 470 280 C462.7 283.2 451 291.7 445 296 C439 300.3 425 308.8 425 312 C425 315.2 439 319.2 445 320 C451 320.8 463.3 317.7 470 318 C476.7 318.3 489 320.4 495 322 C501 323.6 509 330 515 330 C521 330 534 321.3 540 322 C546 322.7 555.3 331.9 560 335 C564.7 338.1 571 344.3 575 345 C579 345.7 587.2 346 590 340 C592.8 334 596 309.3 596 300 C596 290.7 593.5 276.4 590 270 C586.5 263.6 575.6 256 570 252 C564.4 248 553.3 242.1 548 240 C542.7 237.9 533.7 233.1 530 236 C526.3 238.9 524 257.2 520 262 Z" fill="#969696"/><path d="M487 298 C490.2 296 500.3 294.3 505 296 C509.7 297.7 516.2 305 515 308 C513.8 311 502.8 314 498 314 C493.2 314 487.8 310.7 486 308 C484.2 305.3 483.8 300 487 298 Z" fill="#aaaaaa"/><path d="M560 280 C563 278.3 575.3 283.3 580 290 C584.7 296.7 588.8 314.7 588 320 C587.2 325.3 579.3 325.3 575 322 C570.7 318.7 564.5 307 562 300 C559.5 293 557 281.7 560 280 Z" fill="#aaaaaa"/><path d="M533 329 C535.2 327.4 544.5 326.8 547 327 C549.5 327.2 553.2 328.1 554 331 C554.8 333.9 554.8 348.1 554 352 C553.2 355.9 550 362.8 547 364 C544 365.2 531.3 363.1 528 362 C524.7 360.9 520 357 519 355 C518 353 518 346.6 519 345 C520 343.4 526.4 342.9 528 341 C529.6 339.1 530.8 330.6 533 329 Z" fill="#b4f0fa"/><path d="M481 350 C484.2 345.3 496 338.8 500 338 C504 337.2 507 339.8 505 345 C503 350.2 492 365.5 488 369 C484 372.5 482.2 369.2 481 366 C479.8 362.8 477.8 354.7 481 350 Z" fill="#96d2fa"/><path d="M488 350 C489.7 347 497 343 498 344 C499 345 495.7 353 494 356 C492.3 359 489 363 488 362 C487 361 486.3 353 488 350 Z" fill="#78b9fa" stroke="#78b9fa" stroke-width="4"/><path d="M488 350 C489.7 347 497 343 498 344 C499 345 495.7 353 494 356 C492.3 359 489 363 488 362 C487 361 486.3 353 488 350 Z" fill="#3c96f5"/><path d="M467 363 C467.3 360.3 472 357.8 474 360 C476 362.2 479.3 373.3 479 376 C478.7 378.7 474 378.2 472 376 C470 373.8 466.7 365.7 467 363 Z" fill="#828282"/><path d="M563 352 C564.8 347.5 570.2 349.3 575 349 C579.8 348.7 588.8 346.5 592 350 C595.2 353.5 595 363.7 594 370 C593 376.3 589.8 385.5 586 388 C582.2 390.5 574.7 387 571 385 C567.3 383 565.3 381.5 564 376 C562.7 370.5 561.2 356.5 563 352 Z" fill="#aaaaaa" stroke="#aaaaaa" stroke-width="8"/><path d="M563 352 C564.8 347.5 570.2 349.3 575 349 C579.8 348.7 588.8 346.5 592 350 C595.2 353.5 595 363.7 594 370 C593 376.3 589.8 385.5 586 388 C582.2 390.5 574.7 387 571 385 C567.3 383 565.3 381.5 564 376 C562.7 370.5 561.2 356.5 563 352 Z" fill="#bebebe" stroke="#bebebe" stroke-width="4"/><path d="M563 352 C564.8 347.5 570.2 349.3 575 349 C579.8 348.7 588.8 346.5 592 350 C595.2 353.5 595 363.7 594 370 C593 376.3 589.8 385.5 586 388 C582.2 390.5 574.7 387 571 385 C567.3 383 565.3 381.5 564 376 C562.7 370.5 561.2 356.5 563 352 Z" fill="#ffffff"/><path d="M767 97 C769 95.7 791.1 98.4 793 100 C794.9 101.6 788 111.7 786 113 C784 114.3 774.9 114.6 773 113 C771.1 111.4 765 98.3 767 97 Z" fill="#828282"/><path d="M812 94 C813.4 93.2 827.9 92.5 831 93 C834.1 93.5 841.1 97.7 843 99 C844.9 100.3 850.3 104.6 850 106 C849.7 107.4 843.1 112.8 840 113 C836.9 113.2 821.3 109.2 819 108 C816.7 106.8 817.7 102.4 817 101 C816.3 99.6 810.6 94.8 812 94 Z" fill="#828282"/><path d="M784 100 C785.1 98.7 792.5 97.7 793 99 C793.5 100.3 790.1 111.7 789 113 C787.9 114.3 782.5 113.3 782 112 C781.5 110.7 782.9 101.3 784 100 Z" fill="#828282"/><path d="M849 127 C849.1 126 852.8 125.8 855 127 C857.2 128.2 869.7 137.3 871 139 C872.3 140.7 869.7 144.2 868 144 C866.3 143.8 855.9 138.7 854 137 C852.1 135.3 848.9 128 849 127 Z" fill="#828282"/><path d="M965 115 C966.4 114.1 977.9 117 979 118 C980.1 119 977.4 124.1 976 125 C974.6 125.9 966.1 128 965 127 C963.9 126 963.6 115.9 965 115 Z" fill="#828282"/><path d="M980 148 C980.7 147 991 148 991 148 L991 160 C991 160 985.1 159.2 984 158 C982.9 156.8 979.3 149 980 148 Z" fill="#828282"/><path d="M929 305 C929.3 303.8 933.5 304.8 934 306 C934.5 307.2 934.3 315.8 934 317 C933.7 318.2 931.5 319.2 931 318 C930.5 316.8 928.7 306.2 929 305 Z" fill="#828282"/><path d="M776 129 C777.4 128.5 794.9 132.2 798 132 C801.1 131.8 805.3 126.8 807 127 C808.7 127.2 813.1 133.3 815 134 C816.9 134.7 823.7 132.3 826 134 C828.3 135.7 837.5 148.8 838 151 C838.5 153.2 833.3 155.9 831 156 C828.7 156.1 818.1 152.5 815 152 C811.9 151.5 802.2 152.3 800 151 C797.8 149.7 794.6 140.4 793 139 C791.4 137.6 785.7 138 784 137 C782.3 136 774.6 129.5 776 129 Z" fill="#828282"/><path d="M800 132 C800.7 129.7 807.5 131.7 810 134 C812.5 136.3 815.7 143.7 815 146 C814.3 148.3 808.5 150.3 806 148 C803.5 145.7 799.3 134.3 800 132 Z" fill="#969696"/><path d="M840 267 C842.5 265.3 858.8 262.8 861 265 C863.2 267.2 861.6 285.9 862 289 C862.4 292.1 864.8 293.7 865 296 C865.2 298.3 865.3 310.1 864 312 C862.7 313.9 854.8 315.2 852 315 C849.2 314.8 837.8 309.1 836 310 C834.2 310.9 835.2 322.1 834 324 C832.8 325.9 826.7 328.6 824 329 C821.3 329.4 807.5 328.7 807 328 C806.5 327.3 817.3 323.6 819 322 C820.7 320.4 825.2 312.7 824 312 C822.8 311.3 811 313.8 807 315 C803 316.2 787.7 322.5 784 324 C780.3 325.5 771.9 330.2 770 330 C768.1 329.8 763.6 324.2 765 322 C766.4 319.8 779.8 309.9 784 308 C788.2 306.1 802.8 304 807 303 C811.2 302 823.1 300.1 826 298 C828.9 295.9 834.6 285.1 836 282 C837.4 278.9 837.5 268.7 840 267 Z" fill="#828282"/><path d="M838 285 C841.8 281.3 851.7 277.5 855 280 C858.3 282.5 859.7 295.7 858 300 C856.3 304.3 849.3 305.7 845 306 C840.7 306.3 833.2 305.5 832 302 C830.8 298.5 834.2 288.7 838 285 Z" fill="#969696"/><path d="M836 297 C837 296.2 841 295.3 842 296 C843 296.7 843 300.2 842 301 C841 301.8 837 301.7 836 301 C835 300.3 835 297.8 836 297 Z" fill="#ffffff"/><path d="M872 287 C872.4 285.5 878.2 282.5 880 282 C881.8 281.5 889.3 281.3 890 282 C890.7 282.7 888.4 287.5 887 289 C885.6 290.5 877.5 297.2 876 297 C874.5 296.8 871.6 288.5 872 287 Z" fill="#828282"/><path d="M878 305 C878.6 302.6 883.4 297.8 885 296 C886.6 294.2 892.1 287.7 894 287 C895.9 286.3 902.6 288.1 904 289 C905.4 289.9 907.8 293.9 908 296 C908.2 298.1 906.7 307.8 906 310 C905.3 312.2 901.9 317.8 901 318 C900.1 318.2 897.2 314 897 312 C896.8 310 899.3 299.4 899 298 C898.7 296.6 894.9 296.8 894 298 C893.1 299.2 890.7 307.8 890 310 C889.3 312.2 888.1 319 887 320 C885.9 321 879.9 321.5 879 320 C878.1 318.5 877.4 307.4 878 305 Z" fill="#828282"/><path d="M546 222 C546 219.8 556.6 215.5 560 214 C563.4 212.5 575.2 208.4 580 207 C584.8 205.6 602.1 201.6 608 200 C613.9 198.4 633.6 192.9 639 191 C644.4 189.1 659 183.7 662 181 C665 178.3 666.6 165.1 669 164 C671.4 162.9 682.7 170.6 686 170 C689.3 169.4 698.5 159 702 158 C705.5 157 718.2 160.9 721 160 C723.8 159.1 727.7 150.4 730 149 C732.3 147.6 740.3 145.7 744 146 C747.7 146.3 761.5 151.1 767 152 C772.5 152.9 792.6 154.4 799 155 C805.4 155.6 824.5 156.4 831 158 C837.5 159.6 860.1 168.8 864 171 C867.9 173.2 869.8 177.6 870 180 C870.2 182.4 867.8 192.6 866 195 C864.2 197.4 855 202.2 852 204 C849 205.8 839 211.5 836 213 C833 214.5 823.9 217.1 822 219 C820.1 220.9 817.6 229.7 817 232 C816.4 234.3 815.5 239.7 816 242 C816.5 244.3 820.2 253 822 255 C823.8 257 832.4 260 834 262 C835.6 264 838.3 272.1 838 275 C837.7 277.9 832.6 288.4 831 291 C829.4 293.6 825.2 299.6 822 301 C818.8 302.4 803.6 303.7 799 305 C794.4 306.3 779.2 312.2 776 314 C772.8 315.8 768.9 320.1 767 323 C765.1 325.9 759.3 339.8 757 343 C754.7 346.2 746.9 354.4 744 355 C741.1 355.6 731.2 349 728 349 C724.8 349 715.2 354 712 355 C708.8 356 700.2 358.3 696 359 C691.8 359.7 674.4 362.7 670 362 C665.6 361.3 655 355 652 352 C649 349 644 334.2 640 332 C636 329.8 615.7 328.7 612 330 C608.3 331.3 604.4 341.4 603 345 C601.6 348.6 599.1 361.7 598 366 C596.9 370.3 592.8 387.4 592 388 C591.2 388.6 589.6 376.3 590 372 C590.4 367.7 594.9 350.2 596 345 C597.1 339.8 600.4 325.5 601 320 C601.6 314.5 602.3 295.2 602 290 C601.7 284.8 600.2 272 598 268 C595.8 264 583.8 253.2 580 250 C576.2 246.8 563.4 238.8 560 236 C556.6 233.2 546 224.2 546 222 Z" fill="#828282" stroke="#828282" stroke-width="12.8"/><path d="M546 222 C546 219.8 556.6 215.5 560 214 C563.4 212.5 575.2 208.4 580 207 C584.8 205.6 602.1 201.6 608 200 C613.9 198.4 633.6 192.9 639 191 C644.4 189.1 659 183.7 662 181 C665 178.3 666.6 165.1 669 164 C671.4 162.9 682.7 170.6 686 170 C689.3 169.4 698.5 159 702 158 C705.5 157 718.2 160.9 721 160 C723.8 159.1 727.7 150.4 730 149 C732.3 147.6 740.3 145.7 744 146 C747.7 146.3 761.5 151.1 767 152 C772.5 152.9 792.6 154.4 799 155 C805.4 155.6 824.5 156.4 831 158 C837.5 159.6 860.1 168.8 864 171 C867.9 173.2 869.8 177.6 870 180 C870.2 182.4 867.8 192.6 866 195 C864.2 197.4 855 202.2 852 204 C849 205.8 839 211.5 836 213 C833 214.5 823.9 217.1 822 219 C820.1 220.9 817.6 229.7 817 232 C816.4 234.3 815.5 239.7 816 242 C816.5 244.3 820.2 253 822 255 C823.8 257 832.4 260 834 262 C835.6 264 838.3 272.1 838 275 C837.7 277.9 832.6 288.4 831 291 C829.4 293.6 825.2 299.6 822 301 C818.8 302.4 803.6 303.7 799 305 C794.4 306.3 779.2 312.2 776 314 C772.8 315.8 768.9 320.1 767 323 C765.1 325.9 759.3 339.8 757 343 C754.7 346.2 746.9 354.4 744 355 C741.1 355.6 731.2 349 728 349 C724.8 349 715.2 354 712 355 C708.8 356 700.2 358.3 696 359 C691.8 359.7 674.4 362.7 670 362 C665.6 361.3 655 355 652 352 C649 349 644 334.2 640 332 C636 329.8 615.7 328.7 612 330 C608.3 331.3 604.4 341.4 603 345 C601.6 348.6 599.1 361.7 598 366 C596.9 370.3 592.8 387.4 592 388 C591.2 388.6 589.6 376.3 590 372 C590.4 367.7 594.9 350.2 596 345 C597.1 339.8 600.4 325.5 601 320 C601.6 314.5 602.3 295.2 602 290 C601.7 284.8 600.2 272 598 268 C595.8 264 583.8 253.2 580 250 C576.2 246.8 563.4 238.8 560 236 C556.6 233.2 546 224.2 546 222 Z" fill="#969696" stroke="#969696" stroke-width="9.6"/><path d="M546 222 C546 219.8 556.6 215.5 560 214 C563.4 212.5 575.2 208.4 580 207 C584.8 205.6 602.1 201.6 608 200 C613.9 198.4 633.6 192.9 639 191 C644.4 189.1 659 183.7 662 181 C665 178.3 666.6 165.1 669 164 C671.4 162.9 682.7 170.6 686 170 C689.3 169.4 698.5 159 702 158 C705.5 157 718.2 160.9 721 160 C723.8 159.1 727.7 150.4 730 149 C732.3 147.6 740.3 145.7 744 146 C747.7 146.3 761.5 151.1 767 152 C772.5 152.9 792.6 154.4 799 155 C805.4 155.6 824.5 156.4 831 158 C837.5 159.6 860.1 168.8 864 171 C867.9 173.2 869.8 177.6 870 180 C870.2 182.4 867.8 192.6 866 195 C864.2 197.4 855 202.2 852 204 C849 205.8 839 211.5 836 213 C833 214.5 823.9 217.1 822 219 C820.1 220.9 817.6 229.7 817 232 C816.4 234.3 815.5 239.7 816 242 C816.5 244.3 820.2 253 822 255 C823.8 257 832.4 260 834 262 C835.6 264 838.3 272.1 838 275 C837.7 277.9 832.6 288.4 831 291 C829.4 293.6 825.2 299.6 822 301 C818.8 302.4 803.6 303.7 799 305 C794.4 306.3 779.2 312.2 776 314 C772.8 315.8 768.9 320.1 767 323 C765.1 325.9 759.3 339.8 757 343 C754.7 346.2 746.9 354.4 744 355 C741.1 355.6 731.2 349 728 349 C724.8 349 715.2 354 712 355 C708.8 356 700.2 358.3 696 359 C691.8 359.7 674.4 362.7 670 362 C665.6 361.3 655 355 652 352 C649 349 644 334.2 640 332 C636 329.8 615.7 328.7 612 330 C608.3 331.3 604.4 341.4 603 345 C601.6 348.6 599.1 361.7 598 366 C596.9 370.3 592.8 387.4 592 388 C591.2 388.6 589.6 376.3 590 372 C590.4 367.7 594.9 350.2 596 345 C597.1 339.8 600.4 325.5 601 320 C601.6 314.5 602.3 295.2 602 290 C601.7 284.8 600.2 272 598 268 C595.8 264 583.8 253.2 580 250 C576.2 246.8 563.4 238.8 560 236 C556.6 233.2 546 224.2 546 222 Z" fill="#aaaaaa" stroke="#aaaaaa" stroke-width="6.4"/><path d="M546 222 C546 219.8 556.6 215.5 560 214 C563.4 212.5 575.2 208.4 580 207 C584.8 205.6 602.1 201.6 608 200 C613.9 198.4 633.6 192.9 639 191 C644.4 189.1 659 183.7 662 181 C665 178.3 666.6 165.1 669 164 C671.4 162.9 682.7 170.6 686 170 C689.3 169.4 698.5 159 702 158 C705.5 157 718.2 160.9 721 160 C723.8 159.1 727.7 150.4 730 149 C732.3 147.6 740.3 145.7 744 146 C747.7 146.3 761.5 151.1 767 152 C772.5 152.9 792.6 154.4 799 155 C805.4 155.6 824.5 156.4 831 158 C837.5 159.6 860.1 168.8 864 171 C867.9 173.2 869.8 177.6 870 180 C870.2 182.4 867.8 192.6 866 195 C864.2 197.4 855 202.2 852 204 C849 205.8 839 211.5 836 213 C833 214.5 823.9 217.1 822 219 C820.1 220.9 817.6 229.7 817 232 C816.4 234.3 815.5 239.7 816 242 C816.5 244.3 820.2 253 822 255 C823.8 257 832.4 260 834 262 C835.6 264 838.3 272.1 838 275 C837.7 277.9 832.6 288.4 831 291 C829.4 293.6 825.2 299.6 822 301 C818.8 302.4 803.6 303.7 799 305 C794.4 306.3 779.2 312.2 776 314 C772.8 315.8 768.9 320.1 767 323 C765.1 325.9 759.3 339.8 757 343 C754.7 346.2 746.9 354.4 744 355 C741.1 355.6 731.2 349 728 349 C724.8 349 715.2 354 712 355 C708.8 356 700.2 358.3 696 359 C691.8 359.7 674.4 362.7 670 362 C665.6 361.3 655 355 652 352 C649 349 644 334.2 640 332 C636 329.8 615.7 328.7 612 330 C608.3 331.3 604.4 341.4 603 345 C601.6 348.6 599.1 361.7 598 366 C596.9 370.3 592.8 387.4 592 388 C591.2 388.6 589.6 376.3 590 372 C590.4 367.7 594.9 350.2 596 345 C597.1 339.8 600.4 325.5 601 320 C601.6 314.5 602.3 295.2 602 290 C601.7 284.8 600.2 272 598 268 C595.8 264 583.8 253.2 580 250 C576.2 246.8 563.4 238.8 560 236 C556.6 233.2 546 224.2 546 222 Z" fill="#bebebe" stroke="#bebebe" stroke-width="3.2"/><path d="M546 222 C546 219.8 556.6 215.5 560 214 C563.4 212.5 575.2 208.4 580 207 C584.8 205.6 602.1 201.6 608 200 C613.9 198.4 633.6 192.9 639 191 C644.4 189.1 659 183.7 662 181 C665 178.3 666.6 165.1 669 164 C671.4 162.9 682.7 170.6 686 170 C689.3 169.4 698.5 159 702 158 C705.5 157 718.2 160.9 721 160 C723.8 159.1 727.7 150.4 730 149 C732.3 147.6 740.3 145.7 744 146 C747.7 146.3 761.5 151.1 767 152 C772.5 152.9 792.6 154.4 799 155 C805.4 155.6 824.5 156.4 831 158 C837.5 159.6 860.1 168.8 864 171 C867.9 173.2 869.8 177.6 870 180 C870.2 182.4 867.8 192.6 866 195 C864.2 197.4 855 202.2 852 204 C849 205.8 839 211.5 836 213 C833 214.5 823.9 217.1 822 219 C820.1 220.9 817.6 229.7 817 232 C816.4 234.3 815.5 239.7 816 242 C816.5 244.3 820.2 253 822 255 C823.8 257 832.4 260 834 262 C835.6 264 838.3 272.1 838 275 C837.7 277.9 832.6 288.4 831 291 C829.4 293.6 825.2 299.6 822 301 C818.8 302.4 803.6 303.7 799 305 C794.4 306.3 779.2 312.2 776 314 C772.8 315.8 768.9 320.1 767 323 C765.1 325.9 759.3 339.8 757 343 C754.7 346.2 746.9 354.4 744 355 C741.1 355.6 731.2 349 728 349 C724.8 349 715.2 354 712 355 C708.8 356 700.2 358.3 696 359 C691.8 359.7 674.4 362.7 670 362 C665.6 361.3 655 355 652 352 C649 349 644 334.2 640 332 C636 329.8 615.7 328.7 612 330 C608.3 331.3 604.4 341.4 603 345 C601.6 348.6 599.1 361.7 598 366 C596.9 370.3 592.8 387.4 592 388 C591.2 388.6 589.6 376.3 590 372 C590.4 367.7 594.9 350.2 596 345 C597.1 339.8 600.4 325.5 601 320 C601.6 314.5 602.3 295.2 602 290 C601.7 284.8 600.2 272 598 268 C595.8 264 583.8 253.2 580 250 C576.2 246.8 563.4 238.8 560 236 C556.6 233.2 546 224.2 546 222 Z" fill="#ffffff"/><path d="M711 320 C713.3 319.2 724.5 321.7 730 324 C735.5 326.3 739.3 333.2 744 334 C748.7 334.8 754 329 758 329 C762 329 768 331.3 768 334 C768 336.7 762 342.7 758 345 C754 347.3 748.7 349.2 744 348 C739.3 346.8 734.7 341.2 730 338 C725.3 334.8 719.2 332 716 329 C712.8 326 708.7 320.8 711 320 Z" fill="#828282" stroke="#828282" stroke-width="4"/><path d="M711 320 C713.3 319.2 724.5 321.7 730 324 C735.5 326.3 739.3 333.2 744 334 C748.7 334.8 754 329 758 329 C762 329 768 331.3 768 334 C768 336.7 762 342.7 758 345 C754 347.3 748.7 349.2 744 348 C739.3 346.8 734.7 341.2 730 338 C725.3 334.8 719.2 332 716 329 C712.8 326 708.7 320.8 711 320 Z" fill="#969696"/><path d="M754 317 C754.5 315.7 759.8 319.2 765 318 C770.2 316.8 781.7 307.5 785 310 C788.3 312.5 787.2 328.3 785 333 C782.8 337.7 775.8 339.2 772 338 C768.2 336.8 765 329.5 762 326 C759 322.5 753.5 318.3 754 317 Z" fill="#969696" stroke="#969696" stroke-width="4"/><path d="M754 317 C754.5 315.7 759.8 319.2 765 318 C770.2 316.8 781.7 307.5 785 310 C788.3 312.5 787.2 328.3 785 333 C782.8 337.7 775.8 339.2 772 338 C768.2 336.8 765 329.5 762 326 C759 322.5 753.5 318.3 754 317 Z" fill="#aaaaaa"/><path d="M632 282 C633.5 279.3 639.8 285.2 641 289 C642.2 292.8 640.5 302.3 639 305 C637.5 307.7 633.2 308.8 632 305 C630.8 301.2 630.5 284.7 632 282 Z" fill="#828282" stroke="#828282" stroke-width="3"/><path d="M632 282 C633.5 279.3 639.8 285.2 641 289 C642.2 292.8 640.5 302.3 639 305 C637.5 307.7 633.2 308.8 632 305 C630.8 301.2 630.5 284.7 632 282 Z" fill="#969696"/><path d="M563 181 C564.5 178.3 571.7 180.8 575 184 C578.3 187.2 582.5 195 583 200 C583.5 205 580.8 214 578 214 C575.2 214 568.5 205.5 566 200 C563.5 194.5 561.5 183.7 563 181 Z" fill="#969696" stroke="#969696" stroke-width="4"/><path d="M563 181 C564.5 178.3 571.7 180.8 575 184 C578.3 187.2 582.5 195 583 200 C583.5 205 580.8 214 578 214 C575.2 214 568.5 205.5 566 200 C563.5 194.5 561.5 183.7 563 181 Z" fill="#aaaaaa"/><path d="M640 180 C641.2 177.7 649.5 176.3 652 178 C654.5 179.7 656.2 187.7 655 190 C653.8 192.3 647.5 193.7 645 192 C642.5 190.3 638.8 182.3 640 180 Z" fill="#969696"/><path d="M684 152 C685 150.3 690.3 149 692 150 C693.7 151 695 156.3 694 158 C693 159.7 687.7 161 686 160 C684.3 159 683 153.7 684 152 Z" fill="#b4f0fa"/><path d="M370 88.4 C370 88.4 377 88.4 380 88.3 C383 88.2 396.1 87.1 400.4 87.2 C404.7 87.3 418.9 89 422.9 89.4 C426.9 89.9 437.4 91.8 440.8 91.7 C444.2 91.6 454.1 88.7 457 88.5 C459.9 88.3 467.9 89.4 470 89.9 C472.1 90.4 477.1 92.3 478.5 93.5 C479.9 94.7 482.8 100.1 484.2 101.4 C485.6 102.7 490.6 105.8 492.9 106.4 C495.2 107 504.5 107 507.2 107.2 C509.9 107.4 517.7 107.7 520 107.9 C522.3 108.1 528.6 108.2 530.6 108.8 C532.6 109.4 538.2 112.4 539.6 113.5 C541 114.6 543 118.5 545 120 C547 121.5 556.5 126.2 560 128 C563.5 129.8 576.8 136.6 580 138 C583.2 139.4 589.6 142.5 592 142 C594.4 141.5 601.4 133.7 604 133 C606.6 132.3 614.5 135.3 618 135 C621.5 134.7 635 131.4 639 130 C643 128.6 654.5 122.8 658 121 C661.5 119.2 671.7 111.5 674 112 C676.3 112.5 679.1 125.5 681 126 C682.9 126.5 690.9 117.3 693 117 C695.1 116.7 699.2 122.8 702 123 C704.8 123.2 717.2 119.2 721 119 C724.8 118.8 737.3 121.2 740 121 C742.7 120.8 747.3 118.7 748 117 C748.7 115.3 747.5 106.5 747 104 C746.5 101.5 742.7 93.8 743 92 C743.3 90.2 747.5 86.9 750 86 C752.5 85.1 764.6 83 768 83 C771.4 83 781 85.5 784 86 C787 86.5 795 88.7 798 88.5 C801 88.3 810.7 84 814 84 C817.3 84 827.4 87.3 831 88.5 C834.6 89.7 845.8 94.1 850 95.5 C854.2 96.9 869 101.7 873 102.5 C877 103.3 886.7 103.4 890 104 C893.3 104.6 902.5 108.4 906 108.5 C909.5 108.6 921.2 106 925 105 C928.8 104 940.3 99.2 944 98 C947.7 96.8 956.9 93.5 962 93 C967.1 92.5 995 93 995 93 L995 40 L370 40 L370 88.4 Z" fill="#3c96f5" stroke="#3c96f5" stroke-width="11"/><path d="M370 88.4 C370 88.4 377 88.4 380 88.3 C383 88.2 396.1 87.1 400.4 87.2 C404.7 87.3 418.9 89 422.9 89.4 C426.9 89.9 437.4 91.8 440.8 91.7 C444.2 91.6 454.1 88.7 457 88.5 C459.9 88.3 467.9 89.4 470 89.9 C472.1 90.4 477.1 92.3 478.5 93.5 C479.9 94.7 482.8 100.1 484.2 101.4 C485.6 102.7 490.6 105.8 492.9 106.4 C495.2 107 504.5 107 507.2 107.2 C509.9 107.4 517.7 107.7 520 107.9 C522.3 108.1 528.6 108.2 530.6 108.8 C532.6 109.4 538.2 112.4 539.6 113.5 C541 114.6 543 118.5 545 120 C547 121.5 556.5 126.2 560 128 C563.5 129.8 576.8 136.6 580 138 C583.2 139.4 589.6 142.5 592 142 C594.4 141.5 601.4 133.7 604 133 C606.6 132.3 614.5 135.3 618 135 C621.5 134.7 635 131.4 639 130 C643 128.6 654.5 122.8 658 121 C661.5 119.2 671.7 111.5 674 112 C676.3 112.5 679.1 125.5 681 126 C682.9 126.5 690.9 117.3 693 117 C695.1 116.7 699.2 122.8 702 123 C704.8 123.2 717.2 119.2 721 119 C724.8 118.8 737.3 121.2 740 121 C742.7 120.8 747.3 118.7 748 117 C748.7 115.3 747.5 106.5 747 104 C746.5 101.5 742.7 93.8 743 92 C743.3 90.2 747.5 86.9 750 86 C752.5 85.1 764.6 83 768 83 C771.4 83 781 85.5 784 86 C787 86.5 795 88.7 798 88.5 C801 88.3 810.7 84 814 84 C817.3 84 827.4 87.3 831 88.5 C834.6 89.7 845.8 94.1 850 95.5 C854.2 96.9 869 101.7 873 102.5 C877 103.3 886.7 103.4 890 104 C893.3 104.6 902.5 108.4 906 108.5 C909.5 108.6 921.2 106 925 105 C928.8 104 940.3 99.2 944 98 C947.7 96.8 956.9 93.5 962 93 C967.1 92.5 995 93 995 93 L995 40 L370 40 L370 88.4 Z" fill="#1e6eeb" stroke="#1e6eeb" stroke-width="8"/><path d="M370 88.4 C370 88.4 377 88.4 380 88.3 C383 88.2 396.1 87.1 400.4 87.2 C404.7 87.3 418.9 89 422.9 89.4 C426.9 89.9 437.4 91.8 440.8 91.7 C444.2 91.6 454.1 88.7 457 88.5 C459.9 88.3 467.9 89.4 470 89.9 C472.1 90.4 477.1 92.3 478.5 93.5 C479.9 94.7 482.8 100.1 484.2 101.4 C485.6 102.7 490.6 105.8 492.9 106.4 C495.2 107 504.5 107 507.2 107.2 C509.9 107.4 517.7 107.7 520 107.9 C522.3 108.1 528.6 108.2 530.6 108.8 C532.6 109.4 538.2 112.4 539.6 113.5 C541 114.6 543 118.5 545 120 C547 121.5 556.5 126.2 560 128 C563.5 129.8 576.8 136.6 580 138 C583.2 139.4 589.6 142.5 592 142 C594.4 141.5 601.4 133.7 604 133 C606.6 132.3 614.5 135.3 618 135 C621.5 134.7 635 131.4 639 130 C643 128.6 654.5 122.8 658 121 C661.5 119.2 671.7 111.5 674 112 C676.3 112.5 679.1 125.5 681 126 C682.9 126.5 690.9 117.3 693 117 C695.1 116.7 699.2 122.8 702 123 C704.8 123.2 717.2 119.2 721 119 C724.8 118.8 737.3 121.2 740 121 C742.7 120.8 747.3 118.7 748 117 C748.7 115.3 747.5 106.5 747 104 C746.5 101.5 742.7 93.8 743 92 C743.3 90.2 747.5 86.9 750 86 C752.5 85.1 764.6 83 768 83 C771.4 83 781 85.5 784 86 C787 86.5 795 88.7 798 88.5 C801 88.3 810.7 84 814 84 C817.3 84 827.4 87.3 831 88.5 C834.6 89.7 845.8 94.1 850 95.5 C854.2 96.9 869 101.7 873 102.5 C877 103.3 886.7 103.4 890 104 C893.3 104.6 902.5 108.4 906 108.5 C909.5 108.6 921.2 106 925 105 C928.8 104 940.3 99.2 944 98 C947.7 96.8 956.9 93.5 962 93 C967.1 92.5 995 93 995 93 L995 40 L370 40 L370 88.4 Z" fill="#1464d2" stroke="#1464d2" stroke-width="5.6"/><path d="M370 88.4 C370 88.4 377 88.4 380 88.3 C383 88.2 396.1 87.1 400.4 87.2 C404.7 87.3 418.9 89 422.9 89.4 C426.9 89.9 437.4 91.8 440.8 91.7 C444.2 91.6 454.1 88.7 457 88.5 C459.9 88.3 467.9 89.4 470 89.9 C472.1 90.4 477.1 92.3 478.5 93.5 C479.9 94.7 482.8 100.1 484.2 101.4 C485.6 102.7 490.6 105.8 492.9 106.4 C495.2 107 504.5 107 507.2 107.2 C509.9 107.4 517.7 107.7 520 107.9 C522.3 108.1 528.6 108.2 530.6 108.8 C532.6 109.4 538.2 112.4 539.6 113.5 C541 114.6 543 118.5 545 120 C547 121.5 556.5 126.2 560 128 C563.5 129.8 576.8 136.6 580 138 C583.2 139.4 589.6 142.5 592 142 C594.4 141.5 601.4 133.7 604 133 C606.6 132.3 614.5 135.3 618 135 C621.5 134.7 635 131.4 639 130 C643 128.6 654.5 122.8 658 121 C661.5 119.2 671.7 111.5 674 112 C676.3 112.5 679.1 125.5 681 126 C682.9 126.5 690.9 117.3 693 117 C695.1 116.7 699.2 122.8 702 123 C704.8 123.2 717.2 119.2 721 119 C724.8 118.8 737.3 121.2 740 121 C742.7 120.8 747.3 118.7 748 117 C748.7 115.3 747.5 106.5 747 104 C746.5 101.5 742.7 93.8 743 92 C743.3 90.2 747.5 86.9 750 86 C752.5 85.1 764.6 83 768 83 C771.4 83 781 85.5 784 86 C787 86.5 795 88.7 798 88.5 C801 88.3 810.7 84 814 84 C817.3 84 827.4 87.3 831 88.5 C834.6 89.7 845.8 94.1 850 95.5 C854.2 96.9 869 101.7 873 102.5 C877 103.3 886.7 103.4 890 104 C893.3 104.6 902.5 108.4 906 108.5 C909.5 108.6 921.2 106 925 105 C928.8 104 940.3 99.2 944 98 C947.7 96.8 956.9 93.5 962 93 C967.1 92.5 995 93 995 93 L995 40 L370 40 L370 88.4 Z" fill="#0fa00f" stroke="#0fa00f" stroke-width="3.2"/><path d="M370 88.4 C370 88.4 377 88.4 380 88.3 C383 88.2 396.1 87.1 400.4 87.2 C404.7 87.3 418.9 89 422.9 89.4 C426.9 89.9 437.4 91.8 440.8 91.7 C444.2 91.6 454.1 88.7 457 88.5 C459.9 88.3 467.9 89.4 470 89.9 C472.1 90.4 477.1 92.3 478.5 93.5 C479.9 94.7 482.8 100.1 484.2 101.4 C485.6 102.7 490.6 105.8 492.9 106.4 C495.2 107 504.5 107 507.2 107.2 C509.9 107.4 517.7 107.7 520 107.9 C522.3 108.1 528.6 108.2 530.6 108.8 C532.6 109.4 538.2 112.4 539.6 113.5 C541 114.6 543 118.5 545 120 C547 121.5 556.5 126.2 560 128 C563.5 129.8 576.8 136.6 580 138 C583.2 139.4 589.6 142.5 592 142 C594.4 141.5 601.4 133.7 604 133 C606.6 132.3 614.5 135.3 618 135 C621.5 134.7 635 131.4 639 130 C643 128.6 654.5 122.8 658 121 C661.5 119.2 671.7 111.5 674 112 C676.3 112.5 679.1 125.5 681 126 C682.9 126.5 690.9 117.3 693 117 C695.1 116.7 699.2 122.8 702 123 C704.8 123.2 717.2 119.2 721 119 C724.8 118.8 737.3 121.2 740 121 C742.7 120.8 747.3 118.7 748 117 C748.7 115.3 747.5 106.5 747 104 C746.5 101.5 742.7 93.8 743 92 C743.3 90.2 747.5 86.9 750 86 C752.5 85.1 764.6 83 768 83 C771.4 83 781 85.5 784 86 C787 86.5 795 88.7 798 88.5 C801 88.3 810.7 84 814 84 C817.3 84 827.4 87.3 831 88.5 C834.6 89.7 845.8 94.1 850 95.5 C854.2 96.9 869 101.7 873 102.5 C877 103.3 886.7 103.4 890 104 C893.3 104.6 902.5 108.4 906 108.5 C909.5 108.6 921.2 106 925 105 C928.8 104 940.3 99.2 944 98 C947.7 96.8 956.9 93.5 962 93 C967.1 92.5 995 93 995 93 L995 40 L370 40 L370 88.4 Z" fill="#28be28"/><path d="M522 112 C523.6 110.6 535.6 116.4 540 118 C544.4 119.6 553.9 123.4 560 126 C566.1 128.6 586.9 139.1 592 140 C597.1 140.9 598.5 135.2 604 134 C609.5 132.8 632.7 131.5 639 130 C645.3 128.5 653.9 123.1 658 121 C662.1 118.9 669.1 112.6 674 112 C678.9 111.4 692.3 115.3 700 116 C707.7 116.7 734.2 118.5 740 118 C745.8 117.5 748.1 111.8 750 112 C751.9 112.2 755.8 118.1 756 120 C756.2 121.9 753.3 125.9 752 128 C750.7 130.1 748.6 136.5 745 138 C741.4 139.5 726.6 141.1 721 141 C715.4 140.9 701.9 137 697 137 C692.1 137 683.3 139.4 679 141 C674.7 142.6 663.9 148.8 660 151 C656.1 153.2 649.3 157.9 646 160 C642.7 162.1 635.6 167.1 632 169 C628.4 170.9 619.4 174.4 615 176 C610.6 177.6 598.1 183 594 183 C589.9 183 583 177.5 580 176 C577 174.5 570.3 169.3 568 170 C565.7 170.7 562.3 181.1 560 182 C557.7 182.9 550.8 179.4 548 178 C545.2 176.6 538.3 173.3 536 170 C533.7 166.7 529.2 154.7 528 150 C526.8 145.3 526.7 134.4 526 130 C525.3 125.6 520.4 113.4 522 112 Z" fill="#b4f0fa" stroke="#b4f0fa" stroke-width="17"/><path d="M522 112 C523.6 110.6 535.6 116.4 540 118 C544.4 119.6 553.9 123.4 560 126 C566.1 128.6 586.9 139.1 592 140 C597.1 140.9 598.5 135.2 604 134 C609.5 132.8 632.7 131.5 639 130 C645.3 128.5 653.9 123.1 658 121 C662.1 118.9 669.1 112.6 674 112 C678.9 111.4 692.3 115.3 700 116 C707.7 116.7 734.2 118.5 740 118 C745.8 117.5 748.1 111.8 750 112 C751.9 112.2 755.8 118.1 756 120 C756.2 121.9 753.3 125.9 752 128 C750.7 130.1 748.6 136.5 745 138 C741.4 139.5 726.6 141.1 721 141 C715.4 140.9 701.9 137 697 137 C692.1 137 683.3 139.4 679 141 C674.7 142.6 663.9 148.8 660 151 C656.1 153.2 649.3 157.9 646 160 C642.7 162.1 635.6 167.1 632 169 C628.4 170.9 619.4 174.4 615 176 C610.6 177.6 598.1 183 594 183 C589.9 183 583 177.5 580 176 C577 174.5 570.3 169.3 568 170 C565.7 170.7 562.3 181.1 560 182 C557.7 182.9 550.8 179.4 548 178 C545.2 176.6 538.3 173.3 536 170 C533.7 166.7 529.2 154.7 528 150 C526.8 145.3 526.7 134.4 526 130 C525.3 125.6 520.4 113.4 522 112 Z" fill="#96d2fa" stroke="#96d2fa" stroke-width="10"/><path d="M522 112 C523.6 110.6 535.6 116.4 540 118 C544.4 119.6 553.9 123.4 560 126 C566.1 128.6 586.9 139.1 592 140 C597.1 140.9 598.5 135.2 604 134 C609.5 132.8 632.7 131.5 639 130 C645.3 128.5 653.9 123.1 658 121 C662.1 118.9 669.1 112.6 674 112 C678.9 111.4 692.3 115.3 700 116 C707.7 116.7 734.2 118.5 740 118 C745.8 117.5 748.1 111.8 750 112 C751.9 112.2 755.8 118.1 756 120 C756.2 121.9 753.3 125.9 752 128 C750.7 130.1 748.6 136.5 745 138 C741.4 139.5 726.6 141.1 721 141 C715.4 140.9 701.9 137 697 137 C692.1 137 683.3 139.4 679 141 C674.7 142.6 663.9 148.8 660 151 C656.1 153.2 649.3 157.9 646 160 C642.7 162.1 635.6 167.1 632 169 C628.4 170.9 619.4 174.4 615 176 C610.6 177.6 598.1 183 594 183 C589.9 183 583 177.5 580 176 C577 174.5 570.3 169.3 568 170 C565.7 170.7 562.3 181.1 560 182 C557.7 182.9 550.8 179.4 548 178 C545.2 176.6 538.3 173.3 536 170 C533.7 166.7 529.2 154.7 528 150 C526.8 145.3 526.7 134.4 526 130 C525.3 125.6 520.4 113.4 522 112 Z" fill="#78b9fa" stroke="#78b9fa" stroke-width="5"/><path d="M522 112 C523.6 110.6 535.6 116.4 540 118 C544.4 119.6 553.9 123.4 560 126 C566.1 128.6 586.9 139.1 592 140 C597.1 140.9 598.5 135.2 604 134 C609.5 132.8 632.7 131.5 639 130 C645.3 128.5 653.9 123.1 658 121 C662.1 118.9 669.1 112.6 674 112 C678.9 111.4 692.3 115.3 700 116 C707.7 116.7 734.2 118.5 740 118 C745.8 117.5 748.1 111.8 750 112 C751.9 112.2 755.8 118.1 756 120 C756.2 121.9 753.3 125.9 752 128 C750.7 130.1 748.6 136.5 745 138 C741.4 139.5 726.6 141.1 721 141 C715.4 140.9 701.9 137 697 137 C692.1 137 683.3 139.4 679 141 C674.7 142.6 663.9 148.8 660 151 C656.1 153.2 649.3 157.9 646 160 C642.7 162.1 635.6 167.1 632 169 C628.4 170.9 619.4 174.4 615 176 C610.6 177.6 598.1 183 594 183 C589.9 183 583 177.5 580 176 C577 174.5 570.3 169.3 568 170 C565.7 170.7 562.3 181.1 560 182 C557.7 182.9 550.8 179.4 548 178 C545.2 176.6 538.3 173.3 536 170 C533.7 166.7 529.2 154.7 528 150 C526.8 145.3 526.7 134.4 526 130 C525.3 125.6 520.4 113.4 522 112 Z" fill="#3c96f5"/><path d="M532 120 C534.9 119.3 553 127.2 560 130 C567 132.8 585 142.8 592 144 C599 145.2 613.2 141.4 620 140 C626.8 138.6 643.9 134.3 650 132 C656.1 129.7 666.2 121.2 672 120 C677.8 118.8 692.6 121.5 700 122 C707.4 122.5 731.5 123 735 124 C738.5 125 734.1 130.4 730 131 C725.9 131.6 706.1 128.9 700 129 C693.9 129.1 683.2 130.6 678 132 C672.8 133.4 660 138.9 655 141 C650 143.1 640 148.1 635 150 C630 151.9 616.8 155.8 612 157 C607.2 158.2 598.3 160.6 594 160 C589.7 159.4 579 153.2 575 152 C571 150.8 563.5 150.7 560 150 C556.5 149.3 547.9 147.6 545 146 C542.1 144.4 536.5 139 535 136 C533.5 133 529.1 120.7 532 120 Z" fill="#1e6eeb"/><path d="M536 150 C537.1 147.9 544.4 149.9 546 152 C547.6 154.1 549.1 163.9 548 166 C546.9 168.1 539.6 170.1 538 168 C536.4 165.9 534.9 152.1 536 150 Z" fill="#1e6eeb"/><path d="M560 156 C561.6 154.4 570.7 156.1 572 158 C573.3 159.9 571.6 168.4 570 170 C568.4 171.6 561.3 171.9 560 170 C558.7 168.1 558.4 157.6 560 156 Z" fill="#1e6eeb"/><path d="M584 166 C585.9 164.9 596.4 164.7 598 166 C599.6 167.3 597.9 174.9 596 176 C594.1 177.1 585.6 175.3 584 174 C582.4 172.7 582.1 167.1 584 166 Z" fill="#1e6eeb"/><path d="M606 162 C607.6 160.4 617.9 157.5 620 158 C622.1 158.5 623.6 164.4 622 166 C620.4 167.6 610.1 170.5 608 170 C605.9 169.5 604.4 163.6 606 162 Z" fill="#1e6eeb"/><path d="M550 140 C551.3 139.2 558.9 140.7 560 142 C561.1 143.3 559.3 149.2 558 150 C556.7 150.8 551.1 149.3 550 148 C548.9 146.7 548.7 140.8 550 140 Z" fill="#96d2fa"/><path d="M572 150 C573.3 149.5 580.9 150.9 582 152 C583.1 153.1 581.3 157.5 580 158 C578.7 158.5 573.1 157.1 572 156 C570.9 154.9 570.7 150.5 572 150 Z" fill="#96d2fa"/><path d="M540 172 C541.1 171.5 547.2 172.9 548 174 C548.8 175.1 547.1 179.5 546 180 C544.9 180.5 540.8 179.1 540 178 C539.2 176.9 538.9 172.5 540 172 Z" fill="#96d2fa"/><path d="M540 124 C542.7 123.2 554.7 129.6 560 132 C565.3 134.4 578 139.6 580 142 C582 144.4 578.2 149.5 575 150 C571.8 150.5 560.7 147.6 556 146 C551.3 144.4 542.1 140.9 540 138 C537.9 135.1 537.3 124.8 540 124 Z" fill="#1464d2"/><path d="M596 146 C598.9 144.5 614.1 144.1 620 143 C625.9 141.9 637.9 137.3 640 138 C642.1 138.7 639.7 145.6 636 148 C632.3 150.4 617.1 155.2 612 156 C606.9 156.8 600.1 155.3 598 154 C595.9 152.7 593.1 147.5 596 146 Z" fill="#1464d2"/><path d="M650 134 C652.1 131.6 666.7 125.1 672 124 C677.3 122.9 689.5 124.7 690 126 C690.5 127.3 680.5 131.9 676 134 C671.5 136.1 659.5 142 656 142 C652.5 142 647.9 136.4 650 134 Z" fill="#1464d2"/><path d="M700 124 C703.7 123.6 726.5 125.1 730 126 C733.5 126.9 729.7 130.6 726 131 C722.3 131.4 705.5 129.9 702 129 C698.5 128.1 696.3 124.4 700 124 Z" fill="#1464d2"/><path d="M546 152 C547.3 151.5 554.9 154.4 556 156 C557.1 157.6 555.3 163.5 554 164 C552.7 164.5 547.1 161.6 546 160 C544.9 158.4 544.7 152.5 546 152 Z" fill="#1464d2"/><path d="M600 160 C601.6 158.7 610.7 157.2 612 158 C613.3 158.8 611.6 164.7 610 166 C608.4 167.3 601.3 168.8 600 168 C598.7 167.2 598.4 161.3 600 160 Z" fill="#78b9fa"/><path d="M630 150 C631.1 148.4 638.4 145.5 640 146 C641.6 146.5 643.1 152.4 642 154 C640.9 155.6 633.6 158.5 632 158 C630.4 157.5 628.9 151.6 630 150 Z" fill="#78b9fa"/><path d="M570 160 C571.6 159.5 579.2 162.4 580 164 C580.8 165.6 577.6 171.5 576 172 C574.4 172.5 568.8 169.6 568 168 C567.2 166.4 568.4 160.5 570 160 Z" fill="#78b9fa"/><path d="M660 140 C661.1 138.9 666.9 137.5 668 138 C669.1 138.5 669.1 142.9 668 144 C666.9 145.1 661.1 146.5 660 146 C658.9 145.5 658.9 141.1 660 140 Z" fill="#78b9fa"/><path d="M748 90 C750 87.7 756 86 760 86 C764 86 770.3 87.7 772 90 C773.7 92.3 771.3 96.3 770 100 C768.7 103.7 766.3 108.3 764 112 C761.7 115.7 758.3 122 756 122 C753.7 122 751.3 115.7 750 112 C748.7 108.3 748.3 103.7 748 100 C747.7 96.3 746 92.3 748 90 Z" fill="#96d2fa"/><path d="M750 94 C750.7 90.7 756.3 90.3 758 92 C759.7 93.7 760.7 100.7 760 104 C759.3 107.3 755.7 113.7 754 112 C752.3 110.3 749.3 97.3 750 94 Z" fill="#78b9fa"/><path d="M506 108 C507.9 106.6 521.2 109.7 524 112 C526.8 114.3 529.8 124.5 530 128 C530.2 131.5 527.6 141.1 526 142 C524.4 142.9 518.1 138.1 516 136 C513.9 133.9 509.2 127.3 508 124 C506.8 120.7 504.1 109.4 506 108 Z" fill="#96d2fa"/><path d="M510 110 C511.3 108.8 519.7 111 522 113 C524.3 115 525.3 120.8 524 122 C522.7 123.2 516.3 122 514 120 C511.7 118 508.7 111.2 510 110 Z" fill="#78b9fa"/><path d="M545 178 C546.8 181.7 551.5 191.7 556 200 C560.5 208.3 566.3 220.5 572 228 C577.7 235.5 583.3 240 590 245 C596.7 250 605 253.8 612 258 C619 262.2 626.7 266.5 632 270 C637.3 273.5 642 277.5 644 279" fill="none" stroke="#b4f0fa" stroke-width="23.2"/><path d="M545 178 C546.8 181.7 551.5 191.7 556 200 C560.5 208.3 566.3 220.5 572 228 C577.7 235.5 583.3 240 590 245 C596.7 250 605 253.8 612 258 C619 262.2 626.7 266.5 632 270 C637.3 273.5 642 277.5 644 279" fill="none" stroke="#96d2fa" stroke-width="18.8"/><path d="M545 178 C546.8 181.7 551.5 191.7 556 200 C560.5 208.3 566.3 220.5 572 228 C577.7 235.5 583.3 240 590 245 C596.7 250 605 253.8 612 258 C619 262.2 626.7 266.5 632 270 C637.3 273.5 642 277.5 644 279" fill="none" stroke="#78b9fa" stroke-width="14.4"/><path d="M545 178 C546.8 181.7 551.5 191.7 556 200 C560.5 208.3 566.3 220.5 572 228 C577.7 235.5 583.3 240 590 245 C596.7 250 605 253.8 612 258 C619 262.2 626.7 266.5 632 270 C637.3 273.5 642 277.5 644 279" fill="none" stroke="#3c96f5" stroke-width="10"/><path d="M550 190 C552 193.7 557.7 205 562 212 C566.3 219 573.7 228.7 576 232" fill="none" stroke="#1e6eeb" stroke-width="5"/><path d="M556 196 L566 216" fill="none" stroke="#96d2fa" stroke-width="2.5"/><path d="M620 260 L632 269" fill="none" stroke="#1e6eeb" stroke-width="5"/><path d="M578 189 C580.5 187 598.1 191.4 603 191 C607.9 190.6 623.4 186.5 627 185 C630.6 183.5 636.7 178 639 176 C641.3 174 647.7 166.9 650 165 C652.3 163.1 659.1 158.8 662 157 C664.9 155.2 675.5 148.6 679 147 C682.5 145.4 692.8 141.2 697 141 C701.2 140.8 716.6 144.8 721 145 C725.4 145.2 738.6 142.6 741 143 C743.4 143.4 746 148 745 149 C744 150 733.3 151.6 731 153 C728.7 154.4 724.8 162.2 722 163 C719.2 163.8 706.5 160 703 161 C699.5 162 690.3 172.3 687 173 C683.7 173.7 672.4 166.9 670 168 C667.6 169.1 666 181.4 663 184 C660 186.6 645.4 192 640 194 C634.6 196 615.2 202.3 609 204 C602.8 205.7 581.1 212.5 578 211 C574.9 209.5 575.5 191 578 189 Z" fill="#828282" stroke="#828282" stroke-width="3"/><path d="M578 189 C580.5 187 598.1 191.4 603 191 C607.9 190.6 623.4 186.5 627 185 C630.6 183.5 636.7 178 639 176 C641.3 174 647.7 166.9 650 165 C652.3 163.1 659.1 158.8 662 157 C664.9 155.2 675.5 148.6 679 147 C682.5 145.4 692.8 141.2 697 141 C701.2 140.8 716.6 144.8 721 145 C725.4 145.2 738.6 142.6 741 143 C743.4 143.4 746 148 745 149 C744 150 733.3 151.6 731 153 C728.7 154.4 724.8 162.2 722 163 C719.2 163.8 706.5 160 703 161 C699.5 162 690.3 172.3 687 173 C683.7 173.7 672.4 166.9 670 168 C667.6 169.1 666 181.4 663 184 C660 186.6 645.4 192 640 194 C634.6 196 615.2 202.3 609 204 C602.8 205.7 581.1 212.5 578 211 C574.9 209.5 575.5 191 578 189 Z" fill="#969696"/><path d="M590 196 C592.2 195 607.6 195 612 194 C616.4 193 630.6 187.8 634 186 C637.4 184.2 643.9 178 646 176 C648.1 174 652.8 167.6 655 166 C657.2 164.4 665.9 160.8 668 160 C670.1 159.2 676.4 156.8 676 158 C675.6 159.2 666 169.4 664 172 C662 174.6 658.8 182 656 184 C653.2 186 640.6 190.4 636 192 C631.4 193.6 614.6 198.8 610 200 C605.4 201.2 592 204.4 590 204 C588 203.6 587.8 197 590 196 Z" fill="#aaaaaa"/><path d="M620 192 C621.6 190.9 637 187.2 640 186 C643 184.8 649.6 179.6 650 180 C650.4 180.4 646.6 188.3 644 190 C641.4 191.7 626.4 196.8 624 197 C621.6 197.2 618.4 193.1 620 192 Z" fill="#bebebe"/><path d="M688 152 C688.4 151 700.6 148.2 704 148 C707.4 147.8 720.8 149 722 150 C723.2 151 718.2 157.2 716 158 C713.8 158.8 702.8 158.6 700 158 C697.2 157.4 687.6 153 688 152 Z" fill="#aaaaaa"/><path d="M692 150 C692.8 148.8 697.5 147.5 699 148 C700.5 148.5 701.8 151.8 701 153 C700.2 154.2 695.5 155.5 694 155 C692.5 154.5 691.2 151.2 692 150 Z" fill="#b4f0fa"/><path d="M531 130 C532.5 129.2 540.3 129.8 542 131 C543.7 132.2 542.5 136.2 541 137 C539.5 137.8 534.7 137.2 533 136 C531.3 134.8 529.5 130.8 531 130 Z" fill="#0fa00f" stroke="#0fa00f" stroke-width="3"/><path d="M531 130 C532.5 129.2 540.3 129.8 542 131 C543.7 132.2 542.5 136.2 541 137 C539.5 137.8 534.7 137.2 533 136 C531.3 134.8 529.5 130.8 531 130 Z" fill="#28be28"/><path d="M557 144 C558.7 143 564.2 143.3 566 146 C567.8 148.7 569 157.3 568 160 C567 162.7 562 163.3 560 162 C558 160.7 556.5 155 556 152 C555.5 149 555.3 145 557 144 Z" fill="#0fa00f" stroke="#0fa00f" stroke-width="3"/><path d="M557 144 C558.7 143 564.2 143.3 566 146 C567.8 148.7 569 157.3 568 160 C567 162.7 562 163.3 560 162 C558 160.7 556.5 155 556 152 C555.5 149 555.3 145 557 144 Z" fill="#28be28"/><path d="M538 167 C539.3 165.7 545.7 166.5 547 168 C548.3 169.5 547.3 174.7 546 176 C544.7 177.3 540.3 177.5 539 176 C537.7 174.5 536.7 168.3 538 167 Z" fill="#0fa00f" stroke="#0fa00f" stroke-width="3"/><path d="M538 167 C539.3 165.7 545.7 166.5 547 168 C548.3 169.5 547.3 174.7 546 176 C544.7 177.3 540.3 177.5 539 176 C537.7 174.5 536.7 168.3 538 167 Z" fill="#28be28"/><path d="M534 146 C534.7 145 537.3 145 538 146 C538.7 147 538.7 151 538 152 C537.3 153 534.7 153 534 152 C533.3 151 533.3 147 534 146 Z" fill="#0fa00f" stroke="#0fa00f" stroke-width="3"/><path d="M534 146 C534.7 145 537.3 145 538 146 C538.7 147 538.7 151 538 152 C537.3 153 534.7 153 534 152 C533.3 151 533.3 147 534 146 Z" fill="#28be28"/><path d="M612 338 C616.2 336 632.9 330.6 636 331 C639.1 331.4 637.4 339.2 639 341 C640.6 342.8 647.7 344.1 650 346 C652.3 347.9 658.9 355.1 659 357 C659.1 358.9 652.2 360.4 651 362 C649.8 363.6 648.4 368.3 649 371 C649.6 373.7 653.7 381.7 656 385 C658.3 388.3 665.9 396.3 669 399 C672.1 401.7 682 406.4 683 408 C684 409.6 680.5 413.2 678 413 C675.5 412.8 665.3 407.5 662 406 C658.7 404.5 652.5 400.2 650 400 C647.5 399.8 644.3 403.3 641 404 C637.7 404.7 624 403 622 406 C620 409 624 430 624 430 L578 430 C578 430 580.8 405.2 582 400 C583.2 394.8 586.5 389 588 385 C589.5 381 593.6 370.3 595 366 C596.4 361.7 598 351.3 600 348 C602 344.7 607.8 340 612 338 Z" fill="#b4f0fa" stroke="#b4f0fa" stroke-width="5"/><path d="M612 338 C616.2 336 632.9 330.6 636 331 C639.1 331.4 637.4 339.2 639 341 C640.6 342.8 647.7 344.1 650 346 C652.3 347.9 658.9 355.1 659 357 C659.1 358.9 652.2 360.4 651 362 C649.8 363.6 648.4 368.3 649 371 C649.6 373.7 653.7 381.7 656 385 C658.3 388.3 665.9 396.3 669 399 C672.1 401.7 682 406.4 683 408 C684 409.6 680.5 413.2 678 413 C675.5 412.8 665.3 407.5 662 406 C658.7 404.5 652.5 400.2 650 400 C647.5 399.8 644.3 403.3 641 404 C637.7 404.7 624 403 622 406 C620 409 624 430 624 430 L578 430 C578 430 580.8 405.2 582 400 C583.2 394.8 586.5 389 588 385 C589.5 381 593.6 370.3 595 366 C596.4 361.7 598 351.3 600 348 C602 344.7 607.8 340 612 338 Z" fill="#96d2fa"/><path d="M611 341 C616.2 338.3 628.2 338.3 632 341 C635.8 343.7 635.7 352.8 634 357 C632.3 361.2 625.5 362.8 622 366 C618.5 369.2 616 375.2 613 376 C610 376.8 606 374.2 604 371 C602 367.8 599.8 362 601 357 C602.2 352 605.8 343.7 611 341 Z" fill="#78b9fa" stroke="#78b9fa" stroke-width="5"/><path d="M611 341 C616.2 338.3 628.2 338.3 632 341 C635.8 343.7 635.7 352.8 634 357 C632.3 361.2 625.5 362.8 622 366 C618.5 369.2 616 375.2 613 376 C610 376.8 606 374.2 604 371 C602 367.8 599.8 362 601 357 C602.2 352 605.8 343.7 611 341 Z" fill="#3c96f5"/><path d="M614 345 C615 342.7 620.3 342.5 622 344 C623.7 345.5 625 351.7 624 354 C623 356.3 617.7 359.5 616 358 C614.3 356.5 613 347.3 614 345 Z" fill="#1e6eeb"/><path d="M603 357 C603.7 355.8 606.3 355 607 356 C607.7 357 607.7 361.8 607 363 C606.3 364.2 603.7 364 603 363 C602.3 362 602.3 358.2 603 357 Z" fill="#28be28"/><path d="M613 376 C615.7 374 620.7 371 625 371 C629.3 371 636.3 372.8 639 376 C641.7 379.2 639.5 386.2 641 390 C642.5 393.8 648.3 397 648 399 C647.7 401 643.7 402 639 402 C634.3 402 624.7 400.7 620 399 C615.3 397.3 612.8 394.7 611 392 C609.2 389.3 608.7 385.7 609 383 C609.3 380.3 610.3 378 613 376 Z" fill="#aaaaaa" stroke="#aaaaaa" stroke-width="6"/><path d="M613 376 C615.7 374 620.7 371 625 371 C629.3 371 636.3 372.8 639 376 C641.7 379.2 639.5 386.2 641 390 C642.5 393.8 648.3 397 648 399 C647.7 401 643.7 402 639 402 C634.3 402 624.7 400.7 620 399 C615.3 397.3 612.8 394.7 611 392 C609.2 389.3 608.7 385.7 609 383 C609.3 380.3 610.3 378 613 376 Z" fill="#bebebe" stroke="#bebebe" stroke-width="3"/><path d="M613 376 C615.7 374 620.7 371 625 371 C629.3 371 636.3 372.8 639 376 C641.7 379.2 639.5 386.2 641 390 C642.5 393.8 648.3 397 648 399 C647.7 401 643.7 402 639 402 C634.3 402 624.7 400.7 620 399 C615.3 397.3 612.8 394.7 611 392 C609.2 389.3 608.7 385.7 609 383 C609.3 380.3 610.3 378 613 376 Z" fill="#ffffff"/><path d="M604 404 C606 402.5 617 406.3 620 409 C623 411.7 624 418.5 622 420 C620 421.5 611 420.7 608 418 C605 415.3 602 405.5 604 404 Z" fill="#78b9fa" stroke="#78b9fa" stroke-width="4"/><path d="M604 404 C606 402.5 617 406.3 620 409 C623 411.7 624 418.5 622 420 C620 421.5 611 420.7 608 418 C605 415.3 602 405.5 604 404 Z" fill="#3c96f5"/><path d="M652 364 C653.3 362.7 658.7 368 662 372 C665.3 376 667.3 383.3 672 388 C676.7 392.7 688.7 397.3 690 400 C691.3 402.7 684.3 405 680 404 C675.7 403 668.3 398 664 394 C659.7 390 656 385 654 380 C652 375 650.7 365.3 652 364 Z" fill="#78b9fa" stroke="#78b9fa" stroke-width="4"/><path d="M652 364 C653.3 362.7 658.7 368 662 372 C665.3 376 667.3 383.3 672 388 C676.7 392.7 688.7 397.3 690 400 C691.3 402.7 684.3 405 680 404 C675.7 403 668.3 398 664 394 C659.7 390 656 385 654 380 C652 375 650.7 365.3 652 364 Z" fill="#3c96f5"/><path d="M580 395 C583.3 388.3 592.5 389.3 596 390 C599.5 390.7 601.3 392.3 601 399 C600.7 405.7 594 430 594 430 L576 430 C576 430 576.7 401.7 580 395 Z" fill="#1464d2" stroke="#1464d2" stroke-width="8"/><path d="M580 395 C583.3 388.3 592.5 389.3 596 390 C599.5 390.7 601.3 392.3 601 399 C600.7 405.7 594 430 594 430 L576 430 C576 430 576.7 401.7 580 395 Z" fill="#0fa00f" stroke="#0fa00f" stroke-width="4"/><path d="M580 395 C583.3 388.3 592.5 389.3 596 390 C599.5 390.7 601.3 392.3 601 399 C600.7 405.7 594 430 594 430 L576 430 C576 430 576.7 401.7 580 395 Z" fill="#28be28"/><path d="M586 406 C587.5 401.7 593 400 594 404 C595 408 592 430 592 430 L585 430 C585 430 584.5 410.3 586 406 Z" fill="#73f06e" stroke="#73f06e" stroke-width="4"/><path d="M586 406 C587.5 401.7 593 400 594 404 C595 408 592 430 592 430 L585 430 C585 430 584.5 410.3 586 406 Z" fill="#b4fab4" stroke="#b4fab4" stroke-width="2"/><path d="M586 406 C587.5 401.7 593 400 594 404 C595 408 592 430 592 430 L585 430 C585 430 584.5 410.3 586 406 Z" fill="#fffaaa"/><path d="M588 410 C588.8 406.8 591.5 406 592 409 C592.5 412 591 428 591 428 L587 428 C587 428 587.2 413.2 588 410 Z" fill="#ffc03c"/><path d="M370 88.4 C370 88.4 377 88.4 380 88.3 C383 88.2 396.1 87.1 400.4 87.2 C404.7 87.3 418.9 89 422.9 89.4 C426.9 89.9 437.4 91.8 440.8 91.7 C444.2 91.6 454.1 88.7 457 88.5 C459.9 88.3 467.9 89.4 470 89.9 C472.1 90.4 477.1 92.3 478.5 93.5 C479.9 94.7 482.8 100.1 484.2 101.4 C485.6 102.7 490.6 105.8 492.9 106.4 C495.2 107 504.5 107 507.2 107.2 C509.9 107.4 517.7 107.7 520 107.9 C522.3 108.1 528.6 108.2 530.6 108.8 C532.6 109.4 538.2 112.4 539.6 113.5 C541 114.6 543 118.5 545 120 C547 121.5 556.5 126.2 560 128 C563.5 129.8 576.8 136.6 580 138 C583.2 139.4 589.6 142.5 592 142 C594.4 141.5 601.4 133.7 604 133 C606.6 132.3 614.5 135.3 618 135 C621.5 134.7 635 131.4 639 130 C643 128.6 654.5 122.8 658 121 C661.5 119.2 671.7 111.5 674 112 C676.3 112.5 679.1 125.5 681 126 C682.9 126.5 690.9 117.3 693 117 C695.1 116.7 699.2 122.8 702 123 C704.8 123.2 717.2 119.2 721 119 C724.8 118.8 737.3 121.2 740 121 C742.7 120.8 747.3 118.7 748 117 C748.7 115.3 747.5 106.5 747 104 C746.5 101.5 742.7 93.8 743 92 C743.3 90.2 747.5 86.9 750 86 C752.5 85.1 764.6 83 768 83 C771.4 83 781 85.5 784 86 C787 86.5 795 88.7 798 88.5 C801 88.3 810.7 84 814 84 C817.3 84 827.4 87.3 831 88.5 C834.6 89.7 845.8 94.1 850 95.5 C854.2 96.9 869 101.7 873 102.5 C877 103.3 886.7 103.4 890 104 C893.3 104.6 902.5 108.4 906 108.5 C909.5 108.6 921.2 106 925 105 C928.8 104 940.3 99.2 944 98 C947.7 96.8 956.9 93.5 962 93 C967.1 92.5 995 93 995 93 L995 40 L370 40 L370 88.4 Z" fill="#0fa00f" stroke="#0fa00f" stroke-width="3.2"/><path d="M370 88.4 C370 88.4 377 88.4 380 88.3 C383 88.2 396.1 87.1 400.4 87.2 C404.7 87.3 418.9 89 422.9 89.4 C426.9 89.9 437.4 91.8 440.8 91.7 C444.2 91.6 454.1 88.7 457 88.5 C459.9 88.3 467.9 89.4 470 89.9 C472.1 90.4 477.1 92.3 478.5 93.5 C479.9 94.7 482.8 100.1 484.2 101.4 C485.6 102.7 490.6 105.8 492.9 106.4 C495.2 107 504.5 107 507.2 107.2 C509.9 107.4 517.7 107.7 520 107.9 C522.3 108.1 528.6 108.2 530.6 108.8 C532.6 109.4 538.2 112.4 539.6 113.5 C541 114.6 543 118.5 545 120 C547 121.5 556.5 126.2 560 128 C563.5 129.8 576.8 136.6 580 138 C583.2 139.4 589.6 142.5 592 142 C594.4 141.5 601.4 133.7 604 133 C606.6 132.3 614.5 135.3 618 135 C621.5 134.7 635 131.4 639 130 C643 128.6 654.5 122.8 658 121 C661.5 119.2 671.7 111.5 674 112 C676.3 112.5 679.1 125.5 681 126 C682.9 126.5 690.9 117.3 693 117 C695.1 116.7 699.2 122.8 702 123 C704.8 123.2 717.2 119.2 721 119 C724.8 118.8 737.3 121.2 740 121 C742.7 120.8 747.3 118.7 748 117 C748.7 115.3 747.5 106.5 747 104 C746.5 101.5 742.7 93.8 743 92 C743.3 90.2 747.5 86.9 750 86 C752.5 85.1 764.6 83 768 83 C771.4 83 781 85.5 784 86 C787 86.5 795 88.7 798 88.5 C801 88.3 810.7 84 814 84 C817.3 84 827.4 87.3 831 88.5 C834.6 89.7 845.8 94.1 850 95.5 C854.2 96.9 869 101.7 873 102.5 C877 103.3 886.7 103.4 890 104 C893.3 104.6 902.5 108.4 906 108.5 C909.5 108.6 921.2 106 925 105 C928.8 104 940.3 99.2 944 98 C947.7 96.8 956.9 93.5 962 93 C967.1 92.5 995 93 995 93 L995 40 L370 40 L370 88.4 Z" fill="#28be28"/><path d="M593.6 115.8 C593.1 115.5 592.8 114.3 592.8 113.5 C592.7 112.8 593 111.9 593.4 111.3 C593.8 110.7 594.7 110 595.2 109.9 C595.7 109.9 596.2 110.4 596.5 110.9 C596.7 111.3 596.9 111.9 596.7 112.6 C596.5 113.3 595.9 114.5 595.4 115.1 C594.9 115.6 594 116 593.6 115.8 Z" fill="#0fa00f"/><path d="M710.7 108.2 C710.4 108.9 709 109.3 707.9 109.3 C706.8 109.4 705.1 109.2 704.1 108.7 C703.1 108.3 702.3 107.5 702 106.7 C701.7 106 701.7 104.7 702.4 104.2 C703 103.6 704.5 103.3 705.7 103.5 C706.9 103.6 708.6 104.4 709.5 105.2 C710.3 106 710.9 107.5 710.7 108.2 Z" fill="#50f050"/><path d="M702.6 107.4 C702.2 107.2 702.5 106.5 703 105.7 C703.4 104.9 704.5 103.3 705.4 102.6 C706.2 102 707.4 101.6 707.9 101.6 C708.5 101.7 708.7 102.3 708.6 102.8 C708.4 103.3 707.8 104.2 707.2 104.9 C706.6 105.6 705.6 106.5 704.8 106.9 C704 107.3 702.9 107.6 702.6 107.4 Z" fill="#73f06e"/><path d="M722.6 106.8 C722.1 106.5 721.7 105.3 721.8 104.3 C721.9 103.3 722.7 101.7 723.2 100.8 C723.8 99.9 724.4 99.1 725.1 98.9 C725.8 98.7 727 98.9 727.4 99.6 C727.7 100.2 727.5 101.9 727 103 C726.6 104 725.5 105.2 724.8 105.9 C724 106.5 723.1 107.1 722.6 106.8 Z" fill="#0fa00f"/><path d="M622.2 123.3 C622 124.2 621.5 125.2 620.4 125.5 C619.3 125.8 617.1 125.6 615.8 125.2 C614.5 124.8 613.1 123.9 612.7 123.1 C612.3 122.2 612.7 120.8 613.4 120.2 C614 119.6 615.3 119.5 616.7 119.5 C618 119.5 620.5 119.5 621.4 120.2 C622.3 120.8 622.4 122.4 622.2 123.3 Z" fill="#73f06e"/><path d="M612.4 95.6 C612 96.4 610.9 97.3 609.9 97.3 C608.8 97.3 607 96.6 606.2 95.7 C605.4 94.9 605.2 93.4 605.2 92.3 C605.2 91.3 605.3 89.7 606.1 89.4 C606.8 89.1 608.6 89.9 609.7 90.5 C610.8 91 612.1 91.8 612.6 92.7 C613.1 93.5 612.9 94.8 612.4 95.6 Z" fill="#73f06e"/><path d="M590 133.7 C589.3 134.2 587.2 133.1 585.9 132.3 C584.7 131.5 583.3 130.2 582.5 129 C581.7 127.9 581.2 126.3 581.3 125.3 C581.4 124.4 582.3 123.5 583.2 123.5 C584.1 123.5 585.5 124.6 586.6 125.5 C587.7 126.4 589.2 127.5 589.8 128.8 C590.3 130.2 590.6 133.1 590 133.7 Z" fill="#73f06e"/><path d="M603 120.6 C603 120 603.1 118.8 603.9 118.4 C604.7 117.9 606.5 117.8 607.7 117.7 C608.8 117.6 610.5 117.5 611 117.9 C611.5 118.3 611.2 119.5 610.8 120.2 C610.4 120.9 609.8 121.7 608.7 122 C607.6 122.3 605.1 122 604.1 121.8 C603.2 121.5 603.1 121.1 603 120.6 Z" fill="#b4fab4"/><path d="M601.8 100.2 C601.4 100.1 600.9 99.7 600.5 98.8 C600.1 98 599.3 96 599.3 95 C599.3 93.9 599.9 93 600.3 92.5 C600.8 92 601.4 91.5 601.9 91.9 C602.3 92.3 603.1 93.7 603.3 94.9 C603.5 96.1 603.3 98.3 603.1 99.2 C602.9 100.1 602.2 100.2 601.8 100.2 Z" fill="#b4fab4"/><path d="M584 101.8 C583.7 101.5 583.3 101 583.4 100.5 C583.5 99.9 584.2 98.8 584.8 98.2 C585.4 97.7 586.5 97.1 587 97.1 C587.5 97.1 587.7 97.6 587.8 98.1 C587.8 98.6 587.6 99.4 587.2 100 C586.8 100.7 585.8 101.7 585.2 102 C584.7 102.3 584.3 102 584 101.8 Z" fill="#0fa00f"/><path d="M597.5 117.4 C596.7 117.7 595 117 594.3 116.1 C593.5 115.1 593.1 113.1 593 112 C593 110.8 593.3 109.9 593.9 109.2 C594.6 108.4 595.9 107.3 596.8 107.5 C597.7 107.7 598.9 109.1 599.3 110.2 C599.8 111.4 599.8 113.4 599.5 114.6 C599.3 115.8 598.4 117.2 597.5 117.4 Z" fill="#73f06e"/><path d="M566.9 116.4 C566.7 116.2 566.7 115.8 566.9 115.4 C567.1 115 567.6 114.4 568 114.1 C568.5 113.7 569.2 113.3 569.6 113.3 C570 113.4 570.5 113.9 570.5 114.3 C570.5 114.8 570 115.6 569.7 116.1 C569.3 116.5 568.7 116.8 568.2 116.9 C567.8 116.9 567.2 116.7 566.9 116.4 Z" fill="#73f06e"/><path d="M616 116.4 C615.5 117.1 613.9 117.3 612.8 117.2 C611.7 117.1 610.3 116.5 609.5 115.8 C608.8 115.2 608.6 114.2 608.4 113.2 C608.2 112.3 607.9 110.6 608.6 110.2 C609.2 109.8 611.1 110.6 612.4 111.1 C613.6 111.6 615.2 112.3 615.8 113.2 C616.4 114.1 616.5 115.8 616 116.4 Z" fill="#73f06e"/><path d="M677.2 112.2 C677.1 111.7 677.6 110.8 678.3 110.3 C678.9 109.8 680.2 109.4 681 109.2 C681.8 109.1 682.6 109.2 683.1 109.5 C683.6 109.7 684.2 110.2 684 110.8 C683.8 111.3 682.9 112.3 682 112.7 C681.2 113.1 679.6 113.2 678.8 113.1 C678 113 677.3 112.7 677.2 112.2 Z" fill="#0fa00f"/><path d="M689.8 108 C689.3 108.3 688.2 108 687.3 107.6 C686.4 107.3 685.1 106.5 684.5 105.8 C683.9 105 683.7 103.9 683.8 103.1 C683.9 102.3 684.4 101.3 685.1 101.2 C685.8 101.1 687.3 101.6 688.2 102.4 C689.1 103.2 690.1 104.9 690.4 105.9 C690.6 106.8 690.4 107.7 689.8 108 Z" fill="#0fa00f"/><path d="M630.6 127.3 C630.1 128 628.8 128.3 627.8 128 C626.7 127.8 625 126.6 624.2 125.7 C623.4 124.8 623 123.9 623 122.8 C623.1 121.8 623.4 119.9 624.4 119.5 C625.3 119.1 627.7 119.8 628.7 120.5 C629.8 121.2 630.3 122.7 630.6 123.8 C630.9 124.9 631.1 126.6 630.6 127.3 Z" fill="#0fa00f"/><path d="M612.5 111.4 C611.9 111.2 611.5 109.7 611.3 108.6 C611.2 107.4 611.2 105.9 611.7 104.5 C612.3 103.2 613.9 101.1 614.6 100.5 C615.4 99.9 616 100.1 616.4 100.9 C616.7 101.8 616.9 104.1 616.7 105.6 C616.5 107 615.7 108.6 615 109.6 C614.3 110.6 613.1 111.6 612.5 111.4 Z" fill="#73f06e"/><path d="M621.1 125.5 C620.8 126.1 620.2 126.7 619.2 126.5 C618.2 126.3 616 125.1 615 124.4 C613.9 123.6 613.2 122.7 613 121.9 C612.9 121.1 613.2 119.7 614 119.4 C614.8 119.1 616.7 119.5 617.8 120.1 C619 120.7 620.4 122.1 620.9 123 C621.4 123.9 621.4 124.9 621.1 125.5 Z" fill="#0fa00f"/><path d="M600.3 107.2 C599.5 107.1 598.1 106.5 597.6 105.6 C597.1 104.8 597 103.1 597.3 101.8 C597.5 100.6 598.5 98.8 599.2 98.3 C599.9 97.9 600.8 98.7 601.7 99.4 C602.5 100 603.9 101.1 604.1 102.2 C604.3 103.3 603.3 105.3 602.6 106.1 C602 106.9 601.1 107.3 600.3 107.2 Z" fill="#73f06e"/><path d="M581.8 108.5 C581.4 108.1 581.2 106.9 581.7 106 C582.1 105.1 583.4 103.7 584.5 102.9 C585.7 102 587.5 100.9 588.4 100.7 C589.2 100.6 589.9 101.3 589.8 102.1 C589.7 102.9 588.7 104.4 587.7 105.5 C586.8 106.6 585.3 108.2 584.3 108.6 C583.3 109.1 582.2 108.9 581.8 108.5 Z" fill="#50f050"/><path d="M654.5 108 C654.4 108.6 654.2 109.5 653.5 109.8 C652.8 110.1 651.2 110.2 650.2 109.9 C649.3 109.5 648.1 108.6 647.8 108 C647.5 107.4 647.9 106.9 648.4 106.5 C648.8 106.1 649.9 105.5 650.8 105.5 C651.7 105.5 653.2 106 653.9 106.4 C654.5 106.8 654.6 107.5 654.5 108 Z" fill="#0fa00f"/><path d="M587 93.3 C586.4 93.4 585.6 93 585.2 92.2 C584.8 91.4 584.3 89.6 584.6 88.5 C584.9 87.4 586.1 85.9 586.9 85.6 C587.6 85.2 588.5 85.8 589 86.3 C589.5 86.9 589.8 88.1 589.8 89 C589.8 89.9 589.5 91.1 589 91.8 C588.5 92.6 587.7 93.3 587 93.3 Z" fill="#0fa00f"/><path d="M588.3 93.6 C588.1 93.9 587.6 94 587.1 94 C586.6 94 585.8 93.9 585.3 93.5 C584.8 93.2 584.2 92.2 584.1 91.8 C584.1 91.4 584.5 91.1 585 90.9 C585.4 90.8 586.5 90.5 587 90.8 C587.5 91 587.9 91.9 588.2 92.4 C588.4 92.8 588.5 93.4 588.3 93.6 Z" fill="#b4fab4"/><path d="M619 90.6 C618.7 90.9 617.4 90.2 616.6 89.7 C615.8 89.3 614.8 88.6 614.3 87.9 C613.8 87.2 613.8 86.2 613.8 85.6 C613.9 84.9 614.2 84.2 614.7 84.2 C615.1 84.3 616.1 85.3 616.7 85.9 C617.3 86.6 617.9 87.3 618.2 88.1 C618.6 88.9 619.2 90.4 619 90.6 Z" fill="#0fa00f"/><path d="M611.8 121.4 C611.3 121.9 609.9 122 608.8 121.3 C607.7 120.6 606.1 118.6 605.1 117 C604.2 115.5 603.1 113 603.1 112 C603.2 111 604.4 110.5 605.4 110.8 C606.4 111.2 608 112.7 609.1 113.9 C610.2 115.1 611.5 116.7 612 118 C612.4 119.2 612.3 120.8 611.8 121.4 Z" fill="#73f06e"/><path d="M627.7 109.5 C627.7 110.1 626.6 110.9 625.9 111.3 C625.1 111.6 624.1 111.8 623.3 111.6 C622.4 111.4 621.1 110.5 620.7 109.9 C620.3 109.3 620.4 108.4 620.8 108 C621.3 107.5 622.8 107.2 623.7 107.2 C624.5 107.2 625.3 107.4 626 107.7 C626.7 108.1 627.7 108.9 627.7 109.5 Z" fill="#0fa00f"/><path d="M655.3 107.9 C654.9 107.5 654.6 107.1 655 106.2 C655.4 105.2 656.7 103.1 657.8 102.4 C658.8 101.7 660.4 101.5 661.2 101.7 C662 101.9 662.4 102.8 662.4 103.6 C662.4 104.5 662.1 105.8 661.2 106.7 C660.4 107.5 658.4 108.6 657.4 108.8 C656.4 109 655.7 108.3 655.3 107.9 Z" fill="#0fa00f"/><path d="M665.7 110.4 C665.3 110.4 665.1 109.7 665.1 108.9 C665.1 108.1 665.3 106.4 665.6 105.5 C665.9 104.7 666.5 104.2 667 103.8 C667.5 103.5 668.3 102.9 668.5 103.3 C668.8 103.7 668.8 105.4 668.6 106.3 C668.4 107.3 667.8 108.4 667.3 109.1 C666.8 109.7 666.1 110.5 665.7 110.4 Z" fill="#50f050"/><path d="M648.4 105.9 C648.2 105.1 648.2 103.9 649.2 103.3 C650.2 102.6 653.1 102 654.5 101.9 C655.8 101.9 656.6 102.2 657.3 102.8 C657.9 103.5 658.5 105.1 658.2 106 C657.8 106.8 656.5 107.3 655.2 107.7 C653.9 108 651.4 108.5 650.3 108.2 C649.1 107.9 648.6 106.8 648.4 105.9 Z" fill="#50f050"/><path d="M635.4 103.6 C634.9 103.9 633.6 103.9 632.7 103.6 C631.9 103.3 630.8 102.7 630.3 101.8 C629.8 100.9 629.4 99 629.6 98.3 C629.9 97.5 631.1 97.5 631.9 97.6 C632.7 97.6 633.9 98 634.6 98.6 C635.3 99.2 636.1 100.5 636.2 101.3 C636.4 102.1 636 103.2 635.4 103.6 Z" fill="#0fa00f"/><path d="M610.6 96.3 C610.3 97 609.2 97.9 608.1 98 C607.1 98.2 605.3 98 604.2 97.3 C603 96.6 601.3 94.7 601.2 93.9 C601.1 93 602.7 92.4 603.6 92 C604.6 91.7 605.8 91.3 606.9 91.6 C608 92 609.5 93.3 610.1 94 C610.7 94.8 611 95.7 610.6 96.3 Z" fill="#73f06e"/><path d="M600.8 128.7 C600.9 129.3 600 129.9 599.2 130.2 C598.3 130.5 596.7 130.9 595.6 130.7 C594.5 130.4 593.1 129.3 592.7 128.6 C592.2 128 592.3 126.9 592.9 126.5 C593.5 126.1 595.2 126 596.2 126 C597.2 126 598.1 125.9 598.9 126.4 C599.7 126.8 600.8 128.1 600.8 128.7 Z" fill="#73f06e"/><path d="M670.8 107.5 C670.2 108.2 668.9 108.5 667.8 108.4 C666.7 108.2 665.1 107.6 664.1 106.7 C663.1 105.8 661.8 103.9 661.8 103 C661.8 102.2 663.1 101.9 664.1 101.6 C665.1 101.3 666.6 101 667.7 101.4 C668.9 101.9 670.6 103.3 671.1 104.3 C671.6 105.3 671.3 106.8 670.8 107.5 Z" fill="#73f06e"/><path d="M653.7 110 C653.5 109.3 653.3 108.2 653.7 107.8 C654.2 107.3 655.5 107.2 656.4 107.2 C657.3 107.2 658.5 107.2 659 107.6 C659.4 108 659.2 109.1 658.9 109.7 C658.7 110.2 658.1 110.7 657.4 111 C656.7 111.4 655.5 112 654.9 111.9 C654.2 111.7 653.9 110.7 653.7 110 Z" fill="#0fa00f"/><path d="M613.5 106.5 C613.1 106.8 612.1 106.6 611.3 106.2 C610.5 105.8 609.2 104.9 608.4 104 C607.7 103.2 606.8 101.5 606.8 101 C606.8 100.4 608 100.6 608.6 100.7 C609.3 100.9 609.8 101.1 610.6 101.7 C611.4 102.4 612.8 103.7 613.3 104.5 C613.8 105.3 613.8 106.2 613.5 106.5 Z" fill="#73f06e"/><path d="M598.7 113 C598.6 112.5 598.5 111.6 598.9 111.3 C599.3 110.9 600.3 111 601 111.1 C601.7 111.1 602.8 111.3 603.1 111.7 C603.4 112.1 603 113.1 602.8 113.5 C602.5 114 602.2 114.1 601.6 114.3 C601 114.5 599.7 114.9 599.2 114.7 C598.7 114.4 598.7 113.6 598.7 113 Z" fill="#73f06e"/><path d="M593.7 104.9 C593.3 104.6 592.6 103.8 592.9 102.9 C593.1 101.9 594.3 99.9 595.2 99 C596.1 98.1 597.3 97.4 598.2 97.2 C599 97 600 97 600.2 97.8 C600.4 98.6 600.1 100.8 599.3 102 C598.6 103.2 596.6 104.5 595.7 105 C594.7 105.5 594.2 105.3 593.7 104.9 Z" fill="#0fa00f"/><path d="M601.2 95 C600.8 95.2 600.2 95.6 599.8 95 C599.4 94.5 599 92.7 598.8 91.7 C598.6 90.6 598.6 89.2 598.8 88.7 C599 88.2 599.5 88.3 600 88.7 C600.4 89.1 601.2 90.2 601.6 91.1 C601.9 91.9 602.1 93.2 602 93.9 C602 94.5 601.6 94.8 601.2 95 Z" fill="#fffaaa"/><path d="M616.1 99.4 C615.9 98.8 616.8 98 617.8 97.5 C618.9 97 620.9 96.4 622.3 96.5 C623.7 96.5 625.6 97.2 626.3 97.7 C627 98.3 626.8 99.2 626.3 99.8 C625.7 100.5 624.3 101.3 623 101.5 C621.8 101.8 619.9 101.7 618.7 101.3 C617.6 101 616.2 100.1 616.1 99.4 Z" fill="#0fa00f"/><path d="M631.3 119 C631.1 118.7 631.5 118 632.1 117.4 C632.7 116.8 634 116 635 115.5 C636 115.1 637.5 114.7 638.1 114.8 C638.7 114.9 638.9 115.4 638.6 115.9 C638.3 116.4 637.1 117.3 636.2 117.8 C635.4 118.3 634.3 118.8 633.5 119 C632.6 119.2 631.5 119.2 631.3 119 Z" fill="#b4fab4"/><path d="M625.5 121.2 C625.1 121.7 623.5 122 622.5 121.9 C621.5 121.8 620.5 121.2 619.6 120.7 C618.7 120.1 617.3 119.4 617.1 118.6 C616.9 117.8 617.6 116.6 618.4 116.1 C619.1 115.6 620.6 115.4 621.8 115.8 C622.9 116.2 624.6 117.7 625.2 118.6 C625.9 119.5 626 120.6 625.5 121.2 Z" fill="#0fa00f"/><path d="M626.8 111.4 C626.4 112 625.6 112.5 624.4 112.2 C623.3 111.9 620.8 110.8 619.7 109.8 C618.5 108.9 617.7 107.7 617.5 106.7 C617.4 105.8 617.6 104.5 618.6 104.2 C619.5 103.9 621.8 104.2 623.2 105 C624.5 105.8 626.2 107.9 626.8 109 C627.4 110 627.2 110.9 626.8 111.4 Z" fill="#73f06e"/><path d="M616.9 107.8 C616.6 108.2 615.8 108.6 614.9 108.3 C614 107.9 612.4 106.6 611.6 105.9 C610.8 105.1 610.3 104.5 610.1 103.8 C609.9 103.2 609.7 102 610.3 101.8 C611 101.6 613 102.1 614 102.7 C615.1 103.3 616 104.6 616.5 105.5 C617 106.3 617.2 107.3 616.9 107.8 Z" fill="#50f050"/><path d="M587.2 104.2 C586.5 104.1 585.3 103 585.1 101.7 C584.8 100.5 585.4 98.1 585.7 96.6 C586.1 95.1 586.6 93.3 587.2 92.8 C587.9 92.4 589.1 92.9 589.7 93.6 C590.4 94.3 591.2 95.7 591.1 97.1 C591 98.6 589.9 101.1 589.3 102.3 C588.7 103.5 587.9 104.3 587.2 104.2 Z" fill="#73f06e"/><path d="M732 104.3 C731.8 104.8 730.4 105.3 729.6 105.4 C728.7 105.6 727.8 105.5 727.1 105.3 C726.3 105.1 725.5 104.7 725.1 104.2 C724.7 103.8 724.3 103 724.7 102.7 C725.1 102.3 726.6 102.2 727.5 102.1 C728.4 102.1 729.5 102.2 730.3 102.6 C731 102.9 732.1 103.8 732 104.3 Z" fill="#73f06e"/><path d="M595.4 124.5 C594.9 124.3 594.1 123.7 594 123.1 C593.9 122.5 594.5 121.5 594.9 120.8 C595.3 120.1 595.7 119 596.3 118.9 C596.8 118.7 597.7 119.3 598.2 119.9 C598.6 120.5 599.1 121.6 599 122.3 C598.8 123 597.8 123.9 597.2 124.3 C596.6 124.7 596 124.7 595.4 124.5 Z" fill="#0fa00f"/><path d="M590 100 C594 96.7 604.2 94.7 610 96 C615.8 97.3 620 103.2 625 108 C630 112.8 640.8 121.3 640 125 C639.2 128.7 626.7 129.8 620 130 C613.3 130.2 605.7 128.3 600 126 C594.3 123.7 587.7 120.3 586 116 C584.3 111.7 586 103.3 590 100 Z" fill="#73f06e"/><path d="M560 108 C562.8 105.7 571.3 102.3 575 104 C578.7 105.7 582.8 114.7 582 118 C581.2 121.3 574 124 570 124 C566 124 559.7 120.7 558 118 C556.3 115.3 557.2 110.3 560 108 Z" fill="#0fa00f"/><path d="M600 86 C602 83.3 614.3 82.3 618 84 C621.7 85.7 624 93.3 622 96 C620 98.7 609.7 101.7 606 100 C602.3 98.3 598 88.7 600 86 Z" fill="#0fa00f"/><path d="M690 95 C693 92.3 703 91.2 708 92 C713 92.8 718.7 96.3 720 100 C721.3 103.7 719.3 111 716 114 C712.7 117 704.3 119 700 118 C695.7 117 691.7 111.8 690 108 C688.3 104.2 687 97.7 690 95 Z" fill="#73f06e"/><path d="M722 95 C724.7 93 734.7 93.5 738 96 C741.3 98.5 743.3 106.7 742 110 C740.7 113.3 733.3 116.3 730 116 C726.7 115.7 723.3 111.5 722 108 C720.7 104.5 719.3 97 722 95 Z" fill="#73f06e"/><path d="M700 70 C700.3 67 707 66 714 66 C721 66 736 67 742 70 C748 73 750.3 80.3 750 84 C749.7 87.7 744.3 91 740 92 C735.7 93 728.7 91.3 724 90 C719.3 88.7 716 87.3 712 84 C708 80.7 699.7 73 700 70 Z" fill="#0fa00f"/><path d="M714 73 C716.7 71.5 725.7 69.3 730 71 C734.3 72.7 740.7 80.3 740 83 C739.3 85.7 730.3 87.5 726 87 C721.7 86.5 716 82.3 714 80 C712 77.7 711.3 74.5 714 73 Z" fill="#3c96f5" stroke="#3c96f5" stroke-width="4"/><path d="M714 73 C716.7 71.5 725.7 69.3 730 71 C734.3 72.7 740.7 80.3 740 83 C739.3 85.7 730.3 87.5 726 87 C721.7 86.5 716 82.3 714 80 C712 77.7 711.3 74.5 714 73 Z" fill="#1e6eeb"/><path d="M674 44 L800 44 C800 44 805.3 72.7 800 78 C794.7 83.3 777.3 77.8 768 76 C758.7 74.2 751.8 69 744 67 C736.2 65 728 63.7 721 64 C714 64.3 707.8 69 702 69 C696.2 69 690.7 68.2 686 64 C681.3 59.8 674 44 674 44 Z" fill="#73f06e" stroke="#73f06e" stroke-width="4"/><path d="M674 44 L800 44 C800 44 805.3 72.7 800 78 C794.7 83.3 777.3 77.8 768 76 C758.7 74.2 751.8 69 744 67 C736.2 65 728 63.7 721 64 C714 64.3 707.8 69 702 69 C696.2 69 690.7 68.2 686 64 C681.3 59.8 674 44 674 44 Z" fill="#b4fab4"/><path d="M740 44 L800 44 C800 44 805.3 68.7 800 73 C794.7 77.3 776.7 72.2 768 70 C759.3 67.8 752.7 64.3 748 60 C743.3 55.7 740 44 740 44 Z" fill="#fffaaa"/><path d="M765 48 C769.2 45.3 800 46 800 46 C800 46 804.2 59.3 800 62 C795.8 64.7 780.8 64.3 775 62 C769.2 59.7 760.8 50.7 765 48 Z" fill="#ffe878"/><path d="M620 85 C624 82.5 636 82.2 641 85 C646 87.8 648.5 97 650 102 C651.5 107 651.8 111.2 650 115 C648.2 118.8 643.7 125 639 125 C634.3 125 625.7 119.2 622 115 C618.3 110.8 617.3 105 617 100 C616.7 95 616 87.5 620 85 Z" fill="#73f06e" stroke="#73f06e" stroke-width="6"/><path d="M620 85 C624 82.5 636 82.2 641 85 C646 87.8 648.5 97 650 102 C651.5 107 651.8 111.2 650 115 C648.2 118.8 643.7 125 639 125 C634.3 125 625.7 119.2 622 115 C618.3 110.8 617.3 105 617 100 C616.7 95 616 87.5 620 85 Z" fill="#b4fab4" stroke="#b4fab4" stroke-width="3"/><path d="M620 85 C624 82.5 636 82.2 641 85 C646 87.8 648.5 97 650 102 C651.5 107 651.8 111.2 650 115 C648.2 118.8 643.7 125 639 125 C634.3 125 625.7 119.2 622 115 C618.3 110.8 617.3 105 617 100 C616.7 95 616 87.5 620 85 Z" fill="#fffaaa"/><path d="M625 90 C625.7 87.3 631.8 86.3 634 88 C636.2 89.7 638.7 97.3 638 100 C637.3 102.7 632.2 105.7 630 104 C627.8 102.3 624.3 92.7 625 90 Z" fill="#ffe878" stroke="#ffe878" stroke-width="3"/><path d="M625 90 C625.7 87.3 631.8 86.3 634 88 C636.2 89.7 638.7 97.3 638 100 C637.3 102.7 632.2 105.7 630 104 C627.8 102.3 624.3 92.7 625 90 Z" fill="#ffc03c"/><path d="M640 108 C641.2 106 646.7 106 648 108 C649.3 110 649.2 118 648 120 C646.8 122 642.3 122 641 120 C639.7 118 638.8 110 640 108 Z" fill="#ffe878" stroke="#ffe878" stroke-width="3"/><path d="M640 108 C641.2 106 646.7 106 648 108 C649.3 110 649.2 118 648 120 C646.8 122 642.3 122 641 120 C639.7 118 638.8 110 640 108 Z" fill="#ffc03c"/><path d="M603 118 C606.8 117.7 623.5 120.3 627 122 C630.5 123.7 627.8 127.7 624 128 C620.2 128.3 607.5 125.7 604 124 C600.5 122.3 599.2 118.3 603 118 Z" fill="#b4fab4" stroke="#b4fab4" stroke-width="6"/><path d="M603 118 C606.8 117.7 623.5 120.3 627 122 C630.5 123.7 627.8 127.7 624 128 C620.2 128.3 607.5 125.7 604 124 C600.5 122.3 599.2 118.3 603 118 Z" fill="#fffaaa" stroke="#fffaaa" stroke-width="3"/><path d="M603 118 C606.8 117.7 623.5 120.3 627 122 C630.5 123.7 627.8 127.7 624 128 C620.2 128.3 607.5 125.7 604 124 C600.5 122.3 599.2 118.3 603 118 Z" fill="#ffe878"/><path d="M580 59 C583.3 53.5 592.2 52 600 52 C607.8 52 620.5 55.2 627 59 C633.5 62.8 640.2 71.5 639 75 C637.8 78.5 626 79.2 620 80 C614 80.8 609.7 79.2 603 80 C596.3 80.8 583.8 88.5 580 85 C576.2 81.5 576.7 64.5 580 59 Z" fill="#73f06e" stroke="#73f06e" stroke-width="4"/><path d="M580 59 C583.3 53.5 592.2 52 600 52 C607.8 52 620.5 55.2 627 59 C633.5 62.8 640.2 71.5 639 75 C637.8 78.5 626 79.2 620 80 C614 80.8 609.7 79.2 603 80 C596.3 80.8 583.8 88.5 580 85 C576.2 81.5 576.7 64.5 580 59 Z" fill="#b4fab4"/><path d="M584 62 C585.7 58.7 593.7 58 600 58 C606.3 58 617 59.5 622 62 C627 64.5 632 70.7 630 73 C628 75.3 616.7 75.2 610 76 C603.3 76.8 594.3 80.3 590 78 C585.7 75.7 582.3 65.3 584 62 Z" fill="#fffaaa"/><path d="M594 52 C595.5 50.7 602.3 50.7 604 52 C605.7 53.3 605.5 58.7 604 60 C602.5 61.3 596.7 61.3 595 60 C593.3 58.7 592.5 53.3 594 52 Z" fill="#ffe878" stroke="#ffe878" stroke-width="9"/><path d="M594 52 C595.5 50.7 602.3 50.7 604 52 C605.7 53.3 605.5 58.7 604 60 C602.5 61.3 596.7 61.3 595 60 C593.3 58.7 592.5 53.3 594 52 Z" fill="#ffc03c" stroke="#ffc03c" stroke-width="6"/><path d="M594 52 C595.5 50.7 602.3 50.7 604 52 C605.7 53.3 605.5 58.7 604 60 C602.5 61.3 596.7 61.3 595 60 C593.3 58.7 592.5 53.3 594 52 Z" fill="#ffa000" stroke="#ffa000" stroke-width="3"/><path d="M594 52 C595.5 50.7 602.3 50.7 604 52 C605.7 53.3 605.5 58.7 604 60 C602.5 61.3 596.7 61.3 595 60 C593.3 58.7 592.5 53.3 594 52 Z" fill="#ff6000"/><path d="M608 64 C609.3 62.7 616 62.7 618 64 C620 65.3 621.3 70.7 620 72 C618.7 73.3 612 73.3 610 72 C608 70.7 606.7 65.3 608 64 Z" fill="#ffe878"/><path d="M646 59 C647.3 58 653.3 56 658 58 C662.7 60 669 67.3 674 71 C679 74.7 686 75.7 688 80 C690 84.3 688.3 95 686 97 C683.7 99 677.2 93.7 674 92 C670.8 90.3 669 89.7 667 87 C665 84.3 664.8 79.8 662 76 C659.2 72.2 652.7 66.8 650 64 C647.3 61.2 644.7 60 646 59 Z" fill="#b4fab4" stroke="#b4fab4" stroke-width="12"/><path d="M646 59 C647.3 58 653.3 56 658 58 C662.7 60 669 67.3 674 71 C679 74.7 686 75.7 688 80 C690 84.3 688.3 95 686 97 C683.7 99 677.2 93.7 674 92 C670.8 90.3 669 89.7 667 87 C665 84.3 664.8 79.8 662 76 C659.2 72.2 652.7 66.8 650 64 C647.3 61.2 644.7 60 646 59 Z" fill="#fffaaa" stroke="#fffaaa" stroke-width="9"/><path d="M646 59 C647.3 58 653.3 56 658 58 C662.7 60 669 67.3 674 71 C679 74.7 686 75.7 688 80 C690 84.3 688.3 95 686 97 C683.7 99 677.2 93.7 674 92 C670.8 90.3 669 89.7 667 87 C665 84.3 664.8 79.8 662 76 C659.2 72.2 652.7 66.8 650 64 C647.3 61.2 644.7 60 646 59 Z" fill="#ffe878" stroke="#ffe878" stroke-width="6"/><path d="M646 59 C647.3 58 653.3 56 658 58 C662.7 60 669 67.3 674 71 C679 74.7 686 75.7 688 80 C690 84.3 688.3 95 686 97 C683.7 99 677.2 93.7 674 92 C670.8 90.3 669 89.7 667 87 C665 84.3 664.8 79.8 662 76 C659.2 72.2 652.7 66.8 650 64 C647.3 61.2 644.7 60 646 59 Z" fill="#ffc03c" stroke="#ffc03c" stroke-width="3"/><path d="M646 59 C647.3 58 653.3 56 658 58 C662.7 60 669 67.3 674 71 C679 74.7 686 75.7 688 80 C690 84.3 688.3 95 686 97 C683.7 99 677.2 93.7 674 92 C670.8 90.3 669 89.7 667 87 C665 84.3 664.8 79.8 662 76 C659.2 72.2 652.7 66.8 650 64 C647.3 61.2 644.7 60 646 59 Z" fill="#ffa000"/><path d="M666 72 C667.3 71 671.3 71 673 74 C674.7 77 676.5 87.3 676 90 C675.5 92.7 671.8 91.7 670 90 C668.2 88.3 665.7 83 665 80 C664.3 77 664.7 73 666 72 Z" fill="#ff6000" stroke="#ff6000" stroke-width="3"/><path d="M666 72 C667.3 71 671.3 71 673 74 C674.7 77 676.5 87.3 676 90 C675.5 92.7 671.8 91.7 670 90 C668.2 88.3 665.7 83 665 80 C664.3 77 664.7 73 666 72 Z" fill="#ff3200"/><path d="M648 57 C649 56.2 654.5 56.2 656 57 C657.5 57.8 658 61.2 657 62 C656 62.8 651.5 62.8 650 62 C648.5 61.2 647 57.8 648 57 Z" fill="#ff6000" stroke="#ff6000" stroke-width="3"/><path d="M648 57 C649 56.2 654.5 56.2 656 57 C657.5 57.8 658 61.2 657 62 C656 62.8 651.5 62.8 650 62 C648.5 61.2 647 57.8 648 57 Z" fill="#ff3200"/><path d="M547 80 C548.7 74.2 552.8 75 556 73 C559.2 71 563 69.8 566 68 C569 66.2 571.2 62.3 574 62 C576.8 61.7 581.3 63.3 583 66 C584.7 68.7 585.5 75.7 584 78 C582.5 80.3 577 78.7 574 80 C571 81.3 568.5 83.8 566 86 C563.5 88.2 561.3 90 559 93 C556.7 96 554.2 101.5 552 104 C549.8 106.5 546.8 112 546 108 C545.2 104 545.3 85.8 547 80 Z" fill="#fffaaa" stroke="#fffaaa" stroke-width="17"/><path d="M547 80 C548.7 74.2 552.8 75 556 73 C559.2 71 563 69.8 566 68 C569 66.2 571.2 62.3 574 62 C576.8 61.7 581.3 63.3 583 66 C584.7 68.7 585.5 75.7 584 78 C582.5 80.3 577 78.7 574 80 C571 81.3 568.5 83.8 566 86 C563.5 88.2 561.3 90 559 93 C556.7 96 554.2 101.5 552 104 C549.8 106.5 546.8 112 546 108 C545.2 104 545.3 85.8 547 80 Z" fill="#ffe878" stroke="#ffe878" stroke-width="13.6"/><path d="M547 80 C548.7 74.2 552.8 75 556 73 C559.2 71 563 69.8 566 68 C569 66.2 571.2 62.3 574 62 C576.8 61.7 581.3 63.3 583 66 C584.7 68.7 585.5 75.7 584 78 C582.5 80.3 577 78.7 574 80 C571 81.3 568.5 83.8 566 86 C563.5 88.2 561.3 90 559 93 C556.7 96 554.2 101.5 552 104 C549.8 106.5 546.8 112 546 108 C545.2 104 545.3 85.8 547 80 Z" fill="#ffc03c" stroke="#ffc03c" stroke-width="10.2"/><path d="M547 80 C548.7 74.2 552.8 75 556 73 C559.2 71 563 69.8 566 68 C569 66.2 571.2 62.3 574 62 C576.8 61.7 581.3 63.3 583 66 C584.7 68.7 585.5 75.7 584 78 C582.5 80.3 577 78.7 574 80 C571 81.3 568.5 83.8 566 86 C563.5 88.2 561.3 90 559 93 C556.7 96 554.2 101.5 552 104 C549.8 106.5 546.8 112 546 108 C545.2 104 545.3 85.8 547 80 Z" fill="#ffa000" stroke="#ffa000" stroke-width="6.8"/><path d="M547 80 C548.7 74.2 552.8 75 556 73 C559.2 71 563 69.8 566 68 C569 66.2 571.2 62.3 574 62 C576.8 61.7 581.3 63.3 583 66 C584.7 68.7 585.5 75.7 584 78 C582.5 80.3 577 78.7 574 80 C571 81.3 568.5 83.8 566 86 C563.5 88.2 561.3 90 559 93 C556.7 96 554.2 101.5 552 104 C549.8 106.5 546.8 112 546 108 C545.2 104 545.3 85.8 547 80 Z" fill="#ff6000" stroke="#ff6000" stroke-width="3.4"/><path d="M547 80 C548.7 74.2 552.8 75 556 73 C559.2 71 563 69.8 566 68 C569 66.2 571.2 62.3 574 62 C576.8 61.7 581.3 63.3 583 66 C584.7 68.7 585.5 75.7 584 78 C582.5 80.3 577 78.7 574 80 C571 81.3 568.5 83.8 566 86 C563.5 88.2 561.3 90 559 93 C556.7 96 554.2 101.5 552 104 C549.8 106.5 546.8 112 546 108 C545.2 104 545.3 85.8 547 80 Z" fill="#ff3200"/><path d="M552 84 C553.5 80.5 557.3 78 560 77 C562.7 76 567.7 76.2 568 78 C568.3 79.8 564 85 562 88 C560 91 557.8 94.3 556 96 C554.2 97.7 551.7 100 551 98 C550.3 96 550.5 87.5 552 84 Z" fill="#e11400" stroke="#e11400" stroke-width="3"/><path d="M552 84 C553.5 80.5 557.3 78 560 77 C562.7 76 567.7 76.2 568 78 C568.3 79.8 564 85 562 88 C560 91 557.8 94.3 556 96 C554.2 97.7 551.7 100 551 98 C550.3 96 550.5 87.5 552 84 Z" fill="#c00000"/><path d="M576 65 C577.2 64 582 66.2 583 68 C584 69.8 583.2 75 582 76 C580.8 77 577 75.8 576 74 C575 72.2 574.8 66 576 65 Z" fill="#e11400"/><path d="M562 52 C562.8 50.7 568.3 49 570 50 C571.7 51 572.8 56.7 572 58 C571.2 59.3 566.7 59 565 58 C563.3 57 561.2 53.3 562 52 Z" fill="#b4fab4" stroke="#b4fab4" stroke-width="4"/><path d="M562 52 C562.8 50.7 568.3 49 570 50 C571.7 51 572.8 56.7 572 58 C571.2 59.3 566.7 59 565 58 C563.3 57 561.2 53.3 562 52 Z" fill="#fffaaa"/><path d="M542 113 C543.5 112 550.7 112.5 552 114 C553.3 115.5 551.5 121 550 122 C548.5 123 544.3 121.5 543 120 C541.7 118.5 540.5 114 542 113 Z" fill="#73f06e" stroke="#73f06e" stroke-width="6"/><path d="M542 113 C543.5 112 550.7 112.5 552 114 C553.3 115.5 551.5 121 550 122 C548.5 123 544.3 121.5 543 120 C541.7 118.5 540.5 114 542 113 Z" fill="#b4fab4" stroke="#b4fab4" stroke-width="3"/><path d="M542 113 C543.5 112 550.7 112.5 552 114 C553.3 115.5 551.5 121 550 122 C548.5 123 544.3 121.5 543 120 C541.7 118.5 540.5 114 542 113 Z" fill="#fffaaa"/><path d="M564 101 C563.3 102.5 561.5 107 560 110 C558.5 113 555.8 117.5 555 119" fill="none" stroke="#78b9fa" stroke-width="10"/><path d="M564 101 C563.3 102.5 561.5 107 560 110 C558.5 113 555.8 117.5 555 119" fill="none" stroke="#3c96f5" stroke-width="7"/><path d="M564 101 C563.3 102.5 561.5 107 560 110 C558.5 113 555.8 117.5 555 119" fill="none" stroke="#1e6eeb" stroke-width="4"/><path d="M370 44 L546 44 C546 44 546.6 101.2 546 108 C545.4 114.8 541.1 111.6 539.6 111.5 C538.1 111.4 532.6 107.4 530.6 106.8 C528.6 106.2 522.3 106.1 520 105.9 C517.7 105.7 509.9 105.4 507.2 105.2 C504.5 105 495.2 105 492.9 104.4 C490.6 103.8 485.6 100.7 484.2 99.4 C482.8 98.1 479.9 92.7 478.5 91.5 C477.1 90.3 472.1 88.4 470 87.9 C467.9 87.4 459.9 86.3 457 86.5 C454.1 86.7 444.2 89.6 440.8 89.7 C437.4 89.8 426.9 87.9 422.9 87.4 C418.9 87 404.7 85.3 400.4 85.2 C396.1 85.1 383 86.2 380 86.3 C377 86.4 370 86.4 370 86.4 L370 44 Z" fill="#73f06e"/><path d="M420 44 L480 44 C480 44 479.7 55 478 60 C476.3 65 473.7 72 470 74 C466.3 76 461 73.7 456 72 C451 70.3 445.2 66.7 440 64 C434.8 61.3 428.3 59.3 425 56 C421.7 52.7 420 44 420 44 Z" fill="#28be28"/><path d="M460 57 C461.3 55.3 466.7 54.5 469 56 C471.3 57.5 474.2 63.3 474 66 C473.8 68.7 470.2 72 468 72 C465.8 72 462.3 68.5 461 66 C459.7 63.5 458.7 58.7 460 57 Z" fill="#96d2fa" stroke="#96d2fa" stroke-width="6"/><path d="M460 57 C461.3 55.3 466.7 54.5 469 56 C471.3 57.5 474.2 63.3 474 66 C473.8 68.7 470.2 72 468 72 C465.8 72 462.3 68.5 461 66 C459.7 63.5 458.7 58.7 460 57 Z" fill="#78b9fa" stroke="#78b9fa" stroke-width="3"/><path d="M460 57 C461.3 55.3 466.7 54.5 469 56 C471.3 57.5 474.2 63.3 474 66 C473.8 68.7 470.2 72 468 72 C465.8 72 462.3 68.5 461 66 C459.7 63.5 458.7 58.7 460 57 Z" fill="#3c96f5"/><path d="M379 44 L420 44 C420 44 415 49.7 410 51 C405 52.3 395.2 52 390 52 C384.8 52 380.8 52.3 379 51 C377.2 49.7 379 44 379 44 Z" fill="#28be28"/><path d="M396 46 L410 46 C410 46 410 49.3 408 50 C406 50.7 400 50.7 398 50 C396 49.3 396 46 396 46 Z" fill="#0fa00f"/><path d="M484 48 C489.4 47.2 539.8 44.8 546 48 C552.2 51.2 547.6 77.2 546 80 C544.4 82.8 533 77 530 76 C527 75 518.6 71.4 516 70 C513.4 68.6 506.4 63.4 504 62 C501.6 60.6 494 57.4 492 56 C490 54.6 478.6 48.8 484 48 Z" fill="#b4fab4" stroke="#b4fab4" stroke-width="3"/><path d="M484 48 C489.4 47.2 539.8 44.8 546 48 C552.2 51.2 547.6 77.2 546 80 C544.4 82.8 533 77 530 76 C527 75 518.6 71.4 516 70 C513.4 68.6 506.4 63.4 504 62 C501.6 60.6 494 57.4 492 56 C490 54.6 478.6 48.8 484 48 Z" fill="#fffaaa"/><path d="M500 50 C504 48.7 524.3 48.7 530 50 C535.7 51.3 535.7 56 534 58 C532.3 60 524.7 62 520 62 C515.3 62 509.3 60 506 58 C502.7 56 496 51.3 500 50 Z" fill="#ffe878" stroke="#ffe878" stroke-width="2.4"/><path d="M500 50 C504 48.7 524.3 48.7 530 50 C535.7 51.3 535.7 56 534 58 C532.3 60 524.7 62 520 62 C515.3 62 509.3 60 506 58 C502.7 56 496 51.3 500 50 Z" fill="#ffc03c"/><path d="M526 66 C527.3 64.3 537 62.7 540 64 C543 65.3 545.3 72.3 544 74 C542.7 75.7 535 75.3 532 74 C529 72.7 524.7 67.7 526 66 Z" fill="#ffe878" stroke="#ffe878" stroke-width="2.4"/><path d="M526 66 C527.3 64.3 537 62.7 540 64 C543 65.3 545.3 72.3 544 74 C542.7 75.7 535 75.3 532 74 C529 72.7 524.7 67.7 526 66 Z" fill="#ffc03c"/><path d="M536 46 L546 46 C546 46 547.3 52.7 546 54 C544.7 55.3 539.7 55.3 538 54 C536.3 52.7 536 46 536 46 Z" fill="#73f06e"/><path d="M370 54.5 C370 54.5 377.9 54.6 380 54.5 C382.1 54.4 388.3 53.1 391.5 53.4 C394.7 53.6 408.6 56 411.7 57 C414.8 58 420.8 62.5 423 63 C425.2 63.5 431.8 61 434 61.5 C436.2 62 443.2 66.9 445 68 C446.8 69.1 449.7 71.9 452 72.5 C454.3 73.1 465.1 74.2 467.8 73.6 C470.5 72.9 477.4 65.4 479 66 C480.6 66.6 483.5 77.2 484 80 C484.5 82.8 485.4 93.3 484 94 C482.6 94.7 472.7 87.6 470 86.7 C467.3 85.8 459.9 85.1 457 85.3 C454.1 85.5 444.2 88.4 440.8 88.5 C437.4 88.6 426.9 86.7 422.9 86.2 C418.9 85.8 404.7 84.1 400.4 84 C396.1 83.9 383 85 380 85.1 C377 85.2 370 85.2 370 85.2 L370 54.5 Z" fill="#b4fab4" stroke="#b4fab4" stroke-width="2.4"/><path d="M370 54.5 C370 54.5 377.9 54.6 380 54.5 C382.1 54.4 388.3 53.1 391.5 53.4 C394.7 53.6 408.6 56 411.7 57 C414.8 58 420.8 62.5 423 63 C425.2 63.5 431.8 61 434 61.5 C436.2 62 443.2 66.9 445 68 C446.8 69.1 449.7 71.9 452 72.5 C454.3 73.1 465.1 74.2 467.8 73.6 C470.5 72.9 477.4 65.4 479 66 C480.6 66.6 483.5 77.2 484 80 C484.5 82.8 485.4 93.3 484 94 C482.6 94.7 472.7 87.6 470 86.7 C467.3 85.8 459.9 85.1 457 85.3 C454.1 85.5 444.2 88.4 440.8 88.5 C437.4 88.6 426.9 86.7 422.9 86.2 C418.9 85.8 404.7 84.1 400.4 84 C396.1 83.9 383 85 380 85.1 C377 85.2 370 85.2 370 85.2 L370 54.5 Z" fill="#fffaaa"/><path d="M370 56.2 C370 56.2 377.9 56.3 380 56.2 C382.1 56.1 388.3 54.8 391.5 55 C394.7 55.2 408.6 57.5 411.7 58.5 C414.8 59.5 420.8 64.5 423 65 C425.2 65.5 431.8 63 434 63.5 C436.2 64 443.2 68.6 445 69.7 C446.8 70.8 449.7 73.6 452 74.2 C454.3 74.8 465 75.8 467.8 75.3 C470.6 74.8 478.4 68.5 480 69 C481.6 69.5 483.8 77.7 484 80 C484.2 82.3 482.9 91.5 482 92 C481.1 92.5 477 85.5 474.5 84.6 C472 83.7 460 83 456.6 83.2 C453.2 83.4 444.2 86.5 440.8 86.6 C437.4 86.7 426.9 84.8 422.9 84.4 C418.9 84 404.7 82.3 400.4 82.2 C396.1 82.1 383 83.1 380 83.2 C377 83.3 370 83.2 370 83.2 L370 56.2 Z" fill="#ffe878" stroke="#ffe878" stroke-width="2.4"/><path d="M370 56.2 C370 56.2 377.9 56.3 380 56.2 C382.1 56.1 388.3 54.8 391.5 55 C394.7 55.2 408.6 57.5 411.7 58.5 C414.8 59.5 420.8 64.5 423 65 C425.2 65.5 431.8 63 434 63.5 C436.2 64 443.2 68.6 445 69.7 C446.8 70.8 449.7 73.6 452 74.2 C454.3 74.8 465 75.8 467.8 75.3 C470.6 74.8 478.4 68.5 480 69 C481.6 69.5 483.8 77.7 484 80 C484.2 82.3 482.9 91.5 482 92 C481.1 92.5 477 85.5 474.5 84.6 C472 83.7 460 83 456.6 83.2 C453.2 83.4 444.2 86.5 440.8 86.6 C437.4 86.7 426.9 84.8 422.9 84.4 C418.9 84 404.7 82.3 400.4 82.2 C396.1 82.1 383 83.1 380 83.2 C377 83.3 370 83.2 370 83.2 L370 56.2 Z" fill="#ffc03c"/><path d="M418 59 C419 57.7 425 58.8 428 60 C431 61.2 435.3 64.3 436 66 C436.7 67.7 434.3 69.7 432 70 C429.7 70.3 424.3 69.8 422 68 C419.7 66.2 417 60.3 418 59 Z" fill="#fffaaa"/><path d="M370 60.7 C370 60.7 374.9 61.1 380 60.7 C385.1 60.3 394.7 57.8 400.4 58.5 C406.1 59.2 411.4 62.8 414 65 C416.6 67.2 418.3 70.4 416 72 C413.7 73.6 406.4 74.1 400.4 74.5 C394.4 74.9 385.1 74.5 380 74.5 C374.9 74.5 370 74.5 370 74.5 L370 60.7 Z" fill="#ffa000" stroke="#ffa000" stroke-width="6.4"/><path d="M370 60.7 C370 60.7 374.9 61.1 380 60.7 C385.1 60.3 394.7 57.8 400.4 58.5 C406.1 59.2 411.4 62.8 414 65 C416.6 67.2 418.3 70.4 416 72 C413.7 73.6 406.4 74.1 400.4 74.5 C394.4 74.9 385.1 74.5 380 74.5 C374.9 74.5 370 74.5 370 74.5 L370 60.7 Z" fill="#ff6000" stroke="#ff6000" stroke-width="3.2"/><path d="M370 60.7 C370 60.7 374.9 61.1 380 60.7 C385.1 60.3 394.7 57.8 400.4 58.5 C406.1 59.2 411.4 62.8 414 65 C416.6 67.2 418.3 70.4 416 72 C413.7 73.6 406.4 74.1 400.4 74.5 C394.4 74.9 385.1 74.5 380 74.5 C374.9 74.5 370 74.5 370 74.5 L370 60.7 Z" fill="#ff3200"/><path d="M384 63 C386.3 61.9 394.7 61.8 398 62.5 C401.3 63.2 405 65.8 404 67 C403 68.2 395.3 69.7 392 70 C388.7 70.3 385.3 70.2 384 69 C382.7 67.8 381.7 64.1 384 63 Z" fill="#e11400"/><path d="M429.6 76.4 C431.8 75.3 442.3 75.5 445.3 76.4 C448.3 77.3 449.8 80.9 447.6 82 C445.4 83.1 434.9 83.9 431.9 83 C428.9 82.1 427.4 77.5 429.6 76.4 Z" fill="#ffa000" stroke="#ffa000" stroke-width="5.6"/><path d="M429.6 76.4 C431.8 75.3 442.3 75.5 445.3 76.4 C448.3 77.3 449.8 80.9 447.6 82 C445.4 83.1 434.9 83.9 431.9 83 C428.9 82.1 427.4 77.5 429.6 76.4 Z" fill="#ff6000" stroke="#ff6000" stroke-width="2.8"/><path d="M429.6 76.4 C431.8 75.3 442.3 75.5 445.3 76.4 C448.3 77.3 449.8 80.9 447.6 82 C445.4 83.1 434.9 83.9 431.9 83 C428.9 82.1 427.4 77.5 429.6 76.4 Z" fill="#ff3200"/><path d="M452 76 C453.7 75.2 463 75.7 466 77 C469 78.3 471.7 83.2 470 84 C468.3 84.8 459 83.3 456 82 C453 80.7 450.3 76.8 452 76 Z" fill="#ffa000"/><path d="M479 54 C480.1 52.9 485.6 55.1 488 56.5 C490.4 57.9 497.5 64.6 500 66 C502.5 67.4 507.3 67.1 509.5 68.5 C511.7 69.9 516.5 76.7 519 78 C521.5 79.3 528.3 79 531 80 C533.7 81 540.1 84.7 542 87 C543.9 89.3 546.5 97.7 547 100 C547.5 102.3 546.8 106 546 107 C545.2 108 542.1 108.8 540 108.5 C537.9 108.2 530.5 105.3 528 104 C525.5 102.7 521.7 98.4 519 97 C516.3 95.6 507.7 93.4 505 92 C502.3 90.6 497.7 86.9 495.5 85 C493.3 83.1 487.9 77.7 486 75.5 C484.1 73.3 479.8 68.5 479 66 C478.2 63.5 477.9 55.1 479 54 Z" fill="#ffe878" stroke="#ffe878" stroke-width="15.6"/><path d="M479 54 C480.1 52.9 485.6 55.1 488 56.5 C490.4 57.9 497.5 64.6 500 66 C502.5 67.4 507.3 67.1 509.5 68.5 C511.7 69.9 516.5 76.7 519 78 C521.5 79.3 528.3 79 531 80 C533.7 81 540.1 84.7 542 87 C543.9 89.3 546.5 97.7 547 100 C547.5 102.3 546.8 106 546 107 C545.2 108 542.1 108.8 540 108.5 C537.9 108.2 530.5 105.3 528 104 C525.5 102.7 521.7 98.4 519 97 C516.3 95.6 507.7 93.4 505 92 C502.3 90.6 497.7 86.9 495.5 85 C493.3 83.1 487.9 77.7 486 75.5 C484.1 73.3 479.8 68.5 479 66 C478.2 63.5 477.9 55.1 479 54 Z" fill="#ffc03c" stroke="#ffc03c" stroke-width="12.6"/><path d="M479 54 C480.1 52.9 485.6 55.1 488 56.5 C490.4 57.9 497.5 64.6 500 66 C502.5 67.4 507.3 67.1 509.5 68.5 C511.7 69.9 516.5 76.7 519 78 C521.5 79.3 528.3 79 531 80 C533.7 81 540.1 84.7 542 87 C543.9 89.3 546.5 97.7 547 100 C547.5 102.3 546.8 106 546 107 C545.2 108 542.1 108.8 540 108.5 C537.9 108.2 530.5 105.3 528 104 C525.5 102.7 521.7 98.4 519 97 C516.3 95.6 507.7 93.4 505 92 C502.3 90.6 497.7 86.9 495.5 85 C493.3 83.1 487.9 77.7 486 75.5 C484.1 73.3 479.8 68.5 479 66 C478.2 63.5 477.9 55.1 479 54 Z" fill="#ffa000" stroke="#ffa000" stroke-width="9.6"/><path d="M479 54 C480.1 52.9 485.6 55.1 488 56.5 C490.4 57.9 497.5 64.6 500 66 C502.5 67.4 507.3 67.1 509.5 68.5 C511.7 69.9 516.5 76.7 519 78 C521.5 79.3 528.3 79 531 80 C533.7 81 540.1 84.7 542 87 C543.9 89.3 546.5 97.7 547 100 C547.5 102.3 546.8 106 546 107 C545.2 108 542.1 108.8 540 108.5 C537.9 108.2 530.5 105.3 528 104 C525.5 102.7 521.7 98.4 519 97 C516.3 95.6 507.7 93.4 505 92 C502.3 90.6 497.7 86.9 495.5 85 C493.3 83.1 487.9 77.7 486 75.5 C484.1 73.3 479.8 68.5 479 66 C478.2 63.5 477.9 55.1 479 54 Z" fill="#ff6000" stroke="#ff6000" stroke-width="6.4"/><path d="M479 54 C480.1 52.9 485.6 55.1 488 56.5 C490.4 57.9 497.5 64.6 500 66 C502.5 67.4 507.3 67.1 509.5 68.5 C511.7 69.9 516.5 76.7 519 78 C521.5 79.3 528.3 79 531 80 C533.7 81 540.1 84.7 542 87 C543.9 89.3 546.5 97.7 547 100 C547.5 102.3 546.8 106 546 107 C545.2 108 542.1 108.8 540 108.5 C537.9 108.2 530.5 105.3 528 104 C525.5 102.7 521.7 98.4 519 97 C516.3 95.6 507.7 93.4 505 92 C502.3 90.6 497.7 86.9 495.5 85 C493.3 83.1 487.9 77.7 486 75.5 C484.1 73.3 479.8 68.5 479 66 C478.2 63.5 477.9 55.1 479 54 Z" fill="#ff3200" stroke="#ff3200" stroke-width="3.2"/><path d="M479 54 C480.1 52.9 485.6 55.1 488 56.5 C490.4 57.9 497.5 64.6 500 66 C502.5 67.4 507.3 67.1 509.5 68.5 C511.7 69.9 516.5 76.7 519 78 C521.5 79.3 528.3 79 531 80 C533.7 81 540.1 84.7 542 87 C543.9 89.3 546.5 97.7 547 100 C547.5 102.3 546.8 106 546 107 C545.2 108 542.1 108.8 540 108.5 C537.9 108.2 530.5 105.3 528 104 C525.5 102.7 521.7 98.4 519 97 C516.3 95.6 507.7 93.4 505 92 C502.3 90.6 497.7 86.9 495.5 85 C493.3 83.1 487.9 77.7 486 75.5 C484.1 73.3 479.8 68.5 479 66 C478.2 63.5 477.9 55.1 479 54 Z" fill="#e11400"/><path d="M486 72 C486.3 70.3 490.3 69 492 70 C493.7 71 496.3 76.3 496 78 C495.7 79.7 491.7 81 490 80 C488.3 79 485.7 73.7 486 72 Z" fill="#c00000"/><path d="M514 88 C514.7 86.3 520 85 522 86 C524 87 526.7 92.3 526 94 C525.3 95.7 520 97 518 96 C516 95 513.3 89.7 514 88 Z" fill="#c00000"/><path d="M536 92 C536.7 90.3 540.7 90.3 542 92 C543.3 93.7 544.7 100.3 544 102 C543.3 103.7 539.3 103.7 538 102 C536.7 100.3 535.3 93.7 536 92 Z" fill="#c00000"/><path d="M504 76 C505 75 510.3 75 512 76 C513.7 77 515 81 514 82 C513 83 507.7 83 506 82 C504.3 81 503 77 504 76 Z" fill="#c00000"/><path d="M517 81 C517.7 80.2 521 80.2 522 81 C523 81.8 523.7 85.2 523 86 C522.3 86.8 519 86.8 518 86 C517 85.2 516.3 81.8 517 81 Z" fill="#ffe878" stroke="#ffe878" stroke-width="4.8"/><path d="M517 81 C517.7 80.2 521 80.2 522 81 C523 81.8 523.7 85.2 523 86 C522.3 86.8 519 86.8 518 86 C517 85.2 516.3 81.8 517 81 Z" fill="#ffc03c" stroke="#ffc03c" stroke-width="2.4"/><path d="M517 81 C517.7 80.2 521 80.2 522 81 C523 81.8 523.7 85.2 523 86 C522.3 86.8 519 86.8 518 86 C517 85.2 516.3 81.8 517 81 Z" fill="#ffa000"/><path d="M800 44 L995 44 L995 89 C995 89 967.1 88.5 962 89 C956.9 89.5 947.7 92.8 944 94 C940.3 95.2 928.8 100 925 101 C921.2 102 909.5 104.1 906 104 C902.5 103.9 893.3 100.6 890 100 C886.7 99.4 877 98.9 873 98 C869 97.1 854.2 92.4 850 91 C845.8 89.6 834.6 85.1 831 84 C827.4 82.9 817.1 80.1 814 80 C810.9 79.9 801.4 86.6 800 83 C798.6 79.4 800 44 800 44 Z" fill="#73f06e"/><path d="M770 44 L995 44 L995 87 C995 87 967.1 86.5 962 87 C956.9 87.5 947.7 90.8 944 92 C940.3 93.2 928.8 98 925 99 C921.2 100 909.5 102.1 906 102 C902.5 101.9 893.3 98.6 890 98 C886.7 97.4 877 96.9 873 96 C869 95.1 854.2 90.4 850 89 C845.8 87.6 834.6 83.2 831 82 C827.4 80.8 817.3 77.2 814 77 C810.7 76.8 801 79.9 798 80 C795 80.1 786.6 78.8 784 78 C781.4 77.2 773.4 75.4 772 72 C770.6 68.6 770 44 770 44 Z" fill="#fffaaa"/><path d="M776 50 C778 47.6 794.6 47.8 800 48 C805.4 48.2 827 49.2 830 52 C833 54.8 831.8 73.8 830 76 C828.2 78.2 815.4 73.9 812 74 C808.6 74.1 799.2 77.2 796 77 C792.8 76.8 782 74.7 780 72 C778 69.3 774 52.4 776 50 Z" fill="#ffe878"/><path d="M812 62 C812.4 60 818.2 53.6 820 52 C821.8 50.4 830 46 830 46 L995 44 L995 85 C995 85 967.1 84.5 962 85 C956.9 85.5 947.7 88.8 944 90 C940.3 91.2 928.6 96 925 97 C921.4 98 911.3 100.1 908 100 C904.7 99.9 895.5 96.6 892 96 C888.5 95.4 877 94.9 873 94 C869 93.1 855.5 88.2 852 87 C848.5 85.8 840.6 82.9 838 82 C835.4 81.1 828.2 79 826 78 C823.8 77 817.4 73.6 816 72 C814.6 70.4 811.6 64 812 62 Z" fill="#ffe878" stroke="#ffe878" stroke-width="2.4"/><path d="M812 62 C812.4 60 818.2 53.6 820 52 C821.8 50.4 830 46 830 46 L995 44 L995 85 C995 85 967.1 84.5 962 85 C956.9 85.5 947.7 88.8 944 90 C940.3 91.2 928.6 96 925 97 C921.4 98 911.3 100.1 908 100 C904.7 99.9 895.5 96.6 892 96 C888.5 95.4 877 94.9 873 94 C869 93.1 855.5 88.2 852 87 C848.5 85.8 840.6 82.9 838 82 C835.4 81.1 828.2 79 826 78 C823.8 77 817.4 73.6 816 72 C814.6 70.4 811.6 64 812 62 Z" fill="#ffc03c"/><path d="M820 62 C820 60.1 824.6 55.4 826 54 C827.4 52.6 817.1 49 834 48 C850.9 47 995 44 995 44 L995 84 C995 84 967.1 83.5 962 84 C956.9 84.5 947.7 87.9 944 89 C940.3 90.1 928.6 94.1 925 95 C921.4 95.9 910.8 98.1 908 98 C905.2 97.9 900 94.5 897 94 C894 93.5 881.6 93.6 878 93 C874.4 92.4 864.3 88.9 861 88 C857.7 87.1 847.6 84.8 845 84 C842.4 83.2 836.9 81.1 835 80 C833.1 78.9 827.5 74.8 826 73 C824.5 71.2 820 63.9 820 62 Z" fill="#ffa000" stroke="#ffa000" stroke-width="2.4"/><path d="M820 62 C820 60.1 824.6 55.4 826 54 C827.4 52.6 817.1 49 834 48 C850.9 47 995 44 995 44 L995 84 C995 84 967.1 83.5 962 84 C956.9 84.5 947.7 87.9 944 89 C940.3 90.1 928.6 94.1 925 95 C921.4 95.9 910.8 98.1 908 98 C905.2 97.9 900 94.5 897 94 C894 93.5 881.6 93.6 878 93 C874.4 92.4 864.3 88.9 861 88 C857.7 87.1 847.6 84.8 845 84 C842.4 83.2 836.9 81.1 835 80 C833.1 78.9 827.5 74.8 826 73 C824.5 71.2 820 63.9 820 62 Z" fill="#ff6000"/><path d="M828 62 C828.6 60.4 832.8 55.2 836 54 C839.2 52.8 853.6 50.2 860 50 C866.4 49.8 892 51.8 900 52 C908 52.2 930.5 52.2 940 52 C949.5 51.8 995 50 995 50 L995 83 C995 83 967.1 82.5 962 83 C956.9 83.5 947.7 86.9 944 88 C940.3 89.1 928.6 93.1 925 94 C921.4 94.9 910.8 97.1 908 97 C905.2 96.9 900 93.5 897 93 C894 92.5 881.6 92.6 878 92 C874.4 91.4 864.3 87.9 861 87 C857.7 86.1 847.5 83.9 845 83 C842.5 82.1 837.5 79.3 836 78 C834.5 76.7 830.8 71.6 830 70 C829.2 68.4 827.4 63.6 828 62 Z" fill="#ff3200" stroke="#ff3200" stroke-width="3"/><path d="M828 62 C828.6 60.4 832.8 55.2 836 54 C839.2 52.8 853.6 50.2 860 50 C866.4 49.8 892 51.8 900 52 C908 52.2 930.5 52.2 940 52 C949.5 51.8 995 50 995 50 L995 83 C995 83 967.1 82.5 962 83 C956.9 83.5 947.7 86.9 944 88 C940.3 89.1 928.6 93.1 925 94 C921.4 94.9 910.8 97.1 908 97 C905.2 96.9 900 93.5 897 93 C894 92.5 881.6 92.6 878 92 C874.4 91.4 864.3 87.9 861 87 C857.7 86.1 847.5 83.9 845 83 C842.5 82.1 837.5 79.3 836 78 C834.5 76.7 830.8 71.6 830 70 C829.2 68.4 827.4 63.6 828 62 Z" fill="#e11400"/><path d="M842 66 C845.2 63.8 871.2 58.4 880 58 C888.8 57.6 918.5 62 930 62 C941.5 62 995 58 995 58 L995 82 C995 82 956 86 948 87 C940 88 920.1 91.7 915 92 C909.9 92.3 901.2 90.4 897 90 C892.8 89.6 877.9 89 873 88 C868.1 87 851.1 82.2 848 80 C844.9 77.8 838.8 68.2 842 66 Z" fill="#c00000"/><path d="M857 66 C859.4 64 881.7 62 890 62 C898.3 62 929.5 65.8 940 66 C950.5 66.2 995 64 995 64 L995 81 C995 81 958 84.1 950 85 C942 85.9 920.8 89.8 915 90 C909.2 90.2 896.9 87.8 892 87 C887.1 86.2 869.5 84.1 866 82 C862.5 79.9 854.6 68 857 66 Z" fill="#a50000"/><path d="M866 72 C868.7 70.7 883.5 69.7 890 70 C896.5 70.3 908.3 73.7 915 74 C921.7 74.3 936.7 70.9 940 72 C943.3 73.1 943.3 80.1 940 82 C936.7 83.9 921.7 85.9 915 86 C908.3 86.1 896 83.8 890 83 C884 82.2 873.2 81.5 870 80 C866.8 78.5 863.3 73.3 866 72 Z" fill="#8b0000"/><path d="M950 70 C955.3 67.9 995 67 995 67 L995 80 C995 80 961 84.3 955 83 C949 81.7 944.7 72.1 950 70 Z" fill="#8b0000"/><path d="M940.6 77.4 C948.9 75.8 995 76 995 76 L995 83 C995 83 954.1 86.4 945 85.5 C935.9 84.6 932.3 79 940.6 77.4 Z" fill="#643c32"/><path d="M878 81 C879.5 80 886.2 79.4 889.7 79.7 C893.2 80 896 81.8 899 83 C902 84.2 908 85.7 908 86.7 C908 87.7 903.6 89.2 899 89 C894.4 88.8 883.9 86.8 880.4 85.5 C876.9 84.2 876.5 82 878 81 Z" fill="#643c32"/><path d="M785.5 60 C788 57.8 799.2 57.5 805 57 C810.8 56.5 815.9 55.2 820 57 C824.1 58.8 831 65 829.5 68 C828 71 817.6 74.6 811 75 C804.4 75.4 794.2 73 790 70.5 C785.8 68 783 62.2 785.5 60 Z" fill="#ffe878" stroke="#ffe878" stroke-width="6"/><path d="M785.5 60 C788 57.8 799.2 57.5 805 57 C810.8 56.5 815.9 55.2 820 57 C824.1 58.8 831 65 829.5 68 C828 71 817.6 74.6 811 75 C804.4 75.4 794.2 73 790 70.5 C785.8 68 783 62.2 785.5 60 Z" fill="#ffc03c" stroke="#ffc03c" stroke-width="3"/><path d="M785.5 60 C788 57.8 799.2 57.5 805 57 C810.8 56.5 815.9 55.2 820 57 C824.1 58.8 831 65 829.5 68 C828 71 817.6 74.6 811 75 C804.4 75.4 794.2 73 790 70.5 C785.8 68 783 62.2 785.5 60 Z" fill="#ffa000"/><path d="M790 63.5 C790.8 62.3 796.8 61.6 799 62 C801.2 62.4 803.8 64.8 803 66 C802.2 67.2 796.2 69.4 794 69 C791.8 68.6 789.2 64.7 790 63.5 Z" fill="#ff6000" stroke="#ff6000" stroke-width="3"/><path d="M790 63.5 C790.8 62.3 796.8 61.6 799 62 C801.2 62.4 803.8 64.8 803 66 C802.2 67.2 796.2 69.4 794 69 C791.8 68.6 789.2 64.7 790 63.5 Z" fill="#ff3200"/><path d="M903.5 44 L968 44 C968 44 975.7 53.8 968 56.6 C960.3 59.4 932 61 922 61 C912 61 911.1 59.4 908 56.6 C904.9 53.8 903.5 44 903.5 44 Z" fill="#ff3200"/><path d="M925 44 L960 44 C960 44 960 48.8 955 50 C950 51.2 935 52 930 51 C925 50 925 44 925 44 Z" fill="#ffc03c" stroke="#ffc03c" stroke-width="3"/><path d="M925 44 L960 44 C960 44 960 48.8 955 50 C950 51.2 935 52 930 51 C925 50 925 44 925 44 Z" fill="#ffa000"/><path d="M818 44 L857 44 C857 44 857.2 51.8 852.6 54 C848 56.2 835.3 58.7 829.5 57 C823.7 55.3 818 44 818 44 Z" fill="#ffc03c" stroke="#ffc03c" stroke-width="3"/><path d="M818 44 L857 44 C857 44 857.2 51.8 852.6 54 C848 56.2 835.3 58.7 829.5 57 C823.7 55.3 818 44 818 44 Z" fill="#ffa000"/><path d="M650 367 C651 366.1 657.6 370.1 660 371 C662.4 371.9 670.8 375.2 674 376 C677.2 376.8 689.2 377.8 692 378.5 C694.8 379.2 699.4 382.6 702 383 C704.6 383.4 715.2 383.6 718 383 C720.8 382.4 727.4 378.8 730 377.5 C732.6 376.2 740.7 371.6 744 370.5 C747.3 369.4 759 367.6 763 366.5 C767 365.4 779.6 361.4 784 360 C788.4 358.6 802.3 354 807 353 C811.7 352 826.3 350.2 831 350 C835.7 349.8 849.3 350.5 854 351 C858.7 351.5 873.3 354.2 878 355 C882.7 355.8 896.3 357.4 901 358.5 C905.7 359.6 920.3 364.3 925 365.5 C929.7 366.7 943.9 369.2 948 370.5 C952.1 371.8 962.8 376.8 966 378 C969.2 379.2 977.9 383.2 980 383 C982.1 382.8 986.7 378.7 987 376 C987.3 373.3 983.9 359 983 356 C982.1 353 979.6 347.7 978.5 346 C977.4 344.3 969.9 339.9 971.5 339 C973.1 338.1 995 337.5 995 337.5 L995 430 L776 430 C776 430 769.7 416.4 767 415 C764.3 413.6 752.7 416.1 749 416 C745.3 415.9 733.8 414 730 413.5 C726.2 413 714.7 411.4 711 411 C707.3 410.6 696.7 409.9 693 409 C689.3 408.1 677.3 403.7 674 402 C670.7 400.3 662.4 394.2 660 392 C657.6 389.8 651 382.5 650 380 C649 377.5 649 367.9 650 367 Z" fill="#1e6eeb" stroke="#1e6eeb" stroke-width="10"/><path d="M650 367 C651 366.1 657.6 370.1 660 371 C662.4 371.9 670.8 375.2 674 376 C677.2 376.8 689.2 377.8 692 378.5 C694.8 379.2 699.4 382.6 702 383 C704.6 383.4 715.2 383.6 718 383 C720.8 382.4 727.4 378.8 730 377.5 C732.6 376.2 740.7 371.6 744 370.5 C747.3 369.4 759 367.6 763 366.5 C767 365.4 779.6 361.4 784 360 C788.4 358.6 802.3 354 807 353 C811.7 352 826.3 350.2 831 350 C835.7 349.8 849.3 350.5 854 351 C858.7 351.5 873.3 354.2 878 355 C882.7 355.8 896.3 357.4 901 358.5 C905.7 359.6 920.3 364.3 925 365.5 C929.7 366.7 943.9 369.2 948 370.5 C952.1 371.8 962.8 376.8 966 378 C969.2 379.2 977.9 383.2 980 383 C982.1 382.8 986.7 378.7 987 376 C987.3 373.3 983.9 359 983 356 C982.1 353 979.6 347.7 978.5 346 C977.4 344.3 969.9 339.9 971.5 339 C973.1 338.1 995 337.5 995 337.5 L995 430 L776 430 C776 430 769.7 416.4 767 415 C764.3 413.6 752.7 416.1 749 416 C745.3 415.9 733.8 414 730 413.5 C726.2 413 714.7 411.4 711 411 C707.3 410.6 696.7 409.9 693 409 C689.3 408.1 677.3 403.7 674 402 C670.7 400.3 662.4 394.2 660 392 C657.6 389.8 651 382.5 650 380 C649 377.5 649 367.9 650 367 Z" fill="#1464d2" stroke="#1464d2" stroke-width="6.4"/><path d="M650 367 C651 366.1 657.6 370.1 660 371 C662.4 371.9 670.8 375.2 674 376 C677.2 376.8 689.2 377.8 692 378.5 C694.8 379.2 699.4 382.6 702 383 C704.6 383.4 715.2 383.6 718 383 C720.8 382.4 727.4 378.8 730 377.5 C732.6 376.2 740.7 371.6 744 370.5 C747.3 369.4 759 367.6 763 366.5 C767 365.4 779.6 361.4 784 360 C788.4 358.6 802.3 354 807 353 C811.7 352 826.3 350.2 831 350 C835.7 349.8 849.3 350.5 854 351 C858.7 351.5 873.3 354.2 878 355 C882.7 355.8 896.3 357.4 901 358.5 C905.7 359.6 920.3 364.3 925 365.5 C929.7 366.7 943.9 369.2 948 370.5 C952.1 371.8 962.8 376.8 966 378 C969.2 379.2 977.9 383.2 980 383 C982.1 382.8 986.7 378.7 987 376 C987.3 373.3 983.9 359 983 356 C982.1 353 979.6 347.7 978.5 346 C977.4 344.3 969.9 339.9 971.5 339 C973.1 338.1 995 337.5 995 337.5 L995 430 L776 430 C776 430 769.7 416.4 767 415 C764.3 413.6 752.7 416.1 749 416 C745.3 415.9 733.8 414 730 413.5 C726.2 413 714.7 411.4 711 411 C707.3 410.6 696.7 409.9 693 409 C689.3 408.1 677.3 403.7 674 402 C670.7 400.3 662.4 394.2 660 392 C657.6 389.8 651 382.5 650 380 C649 377.5 649 367.9 650 367 Z" fill="#0fa00f" stroke="#0fa00f" stroke-width="3.2"/><path d="M650 367 C651 366.1 657.6 370.1 660 371 C662.4 371.9 670.8 375.2 674 376 C677.2 376.8 689.2 377.8 692 378.5 C694.8 379.2 699.4 382.6 702 383 C704.6 383.4 715.2 383.6 718 383 C720.8 382.4 727.4 378.8 730 377.5 C732.6 376.2 740.7 371.6 744 370.5 C747.3 369.4 759 367.6 763 366.5 C767 365.4 779.6 361.4 784 360 C788.4 358.6 802.3 354 807 353 C811.7 352 826.3 350.2 831 350 C835.7 349.8 849.3 350.5 854 351 C858.7 351.5 873.3 354.2 878 355 C882.7 355.8 896.3 357.4 901 358.5 C905.7 359.6 920.3 364.3 925 365.5 C929.7 366.7 943.9 369.2 948 370.5 C952.1 371.8 962.8 376.8 966 378 C969.2 379.2 977.9 383.2 980 383 C982.1 382.8 986.7 378.7 987 376 C987.3 373.3 983.9 359 983 356 C982.1 353 979.6 347.7 978.5 346 C977.4 344.3 969.9 339.9 971.5 339 C973.1 338.1 995 337.5 995 337.5 L995 430 L776 430 C776 430 769.7 416.4 767 415 C764.3 413.6 752.7 416.1 749 416 C745.3 415.9 733.8 414 730 413.5 C726.2 413 714.7 411.4 711 411 C707.3 410.6 696.7 409.9 693 409 C689.3 408.1 677.3 403.7 674 402 C670.7 400.3 662.4 394.2 660 392 C657.6 389.8 651 382.5 650 380 C649 377.5 649 367.9 650 367 Z" fill="#28be28"/><path d="M700 392 C702 389.7 731.6 387 740 385 C748.4 383 774.9 374.3 784 372 C793.1 369.7 823.4 363 831 362 C838.6 361 853.9 361 860 362 C866.1 363 885.5 370.2 892 372 C898.5 373.8 918.2 378 925 380 C931.8 382 953 390.2 960 392 C967 393.8 995 398 995 398 L995 430 L790 430 C790 430 784 419.8 780 418 C776 416.2 756 413 750 412 C744 411 725 410 720 408 C715 406 698 394.3 700 392 Z" fill="#50f050"/><path d="M915 366 C921.5 365.2 940.5 371.3 950 374 C959.5 376.7 964.5 379.7 972 382 C979.5 384.3 995 388 995 388 L995 402 C995 402 948 400.8 934 397 C920 393.2 914.2 384.2 911 379 C907.8 373.8 908.5 366.8 915 366 Z" fill="#0fa00f"/><path d="M820 400 C824.7 396.7 841.7 394.3 850 396 C858.3 397.7 870 405.7 870 410 C870 414.3 858 421 850 422 C842 423 827 419.7 822 416 C817 412.3 815.3 403.3 820 400 Z" fill="#0fa00f"/><path d="M900 405 C904.2 401.7 928.3 399.2 940 400 C951.7 400.8 966.7 406.3 970 410 C973.3 413.7 969.2 420.3 960 422 C950.8 423.7 925 422.8 915 420 C905 417.2 895.8 408.3 900 405 Z" fill="#28be28"/><path d="M934.2 403.3 C933.7 404 931.8 404.1 930.7 403.7 C929.5 403.2 927.9 401.7 927.2 400.7 C926.4 399.8 925.9 398.9 926 398 C926 397 926.6 395.3 927.5 395.1 C928.4 394.9 930.4 395.8 931.5 396.5 C932.5 397.2 933.2 398.3 933.7 399.4 C934.1 400.5 934.7 402.6 934.2 403.3 Z" fill="#73f06e"/><path d="M818.3 405 C818.4 406.1 818.2 408.1 817.3 408.7 C816.4 409.3 814.3 409 812.9 408.6 C811.5 408.2 809.7 407.1 809.1 406.2 C808.5 405.3 808.6 404.3 809.3 403.3 C809.9 402.3 811.8 400.4 813 400.2 C814.3 399.9 816 400.9 816.9 401.7 C817.8 402.5 818.2 403.8 818.3 405 Z" fill="#73f06e"/><path d="M927.7 412.1 C926.9 412.7 925.4 413 924.1 412 C922.8 411 920.5 408 919.8 406.1 C919.1 404.2 919.2 401.5 919.7 400.4 C920.2 399.2 921.7 398.8 922.8 399.2 C923.8 399.5 925.2 400.9 926.1 402.5 C927.1 404.1 928.5 407.2 928.7 408.8 C929 410.3 928.4 411.6 927.7 412.1 Z" fill="#73f06e"/><path d="M945.9 406.6 C945.3 405.8 945.8 403.4 946.3 402.1 C946.9 400.7 948.1 399.2 949.2 398.3 C950.3 397.5 951.8 397 952.7 397 C953.6 397.1 954.6 397.8 954.7 398.6 C954.9 399.4 954.5 400.6 953.6 402 C952.8 403.3 951.1 405.8 949.8 406.5 C948.6 407.3 946.5 407.3 945.9 406.6 Z" fill="#73f06e"/><path d="M985.2 396.6 C985 397.1 983.9 397.7 983.2 397.8 C982.4 397.8 981.4 397.4 980.8 396.9 C980.1 396.4 979.2 395.4 979.1 394.7 C979 394.1 979.6 393.3 980.1 393 C980.7 392.7 981.9 392.6 982.6 392.9 C983.3 393.2 983.9 394 984.3 394.6 C984.8 395.2 985.4 396.1 985.2 396.6 Z" fill="#0fa00f"/><path d="M810.1 415.6 C809.7 416.1 808.7 416.9 807.7 416.8 C806.8 416.8 805.2 416.1 804.5 415.5 C803.8 414.9 803.7 414 803.6 413.1 C803.4 412.2 803.1 410.7 803.7 410.4 C804.3 410 806.2 410.4 807.3 411 C808.4 411.5 809.7 413 810.2 413.8 C810.6 414.5 810.5 415.1 810.1 415.6 Z" fill="#73f06e"/><path d="M915.7 406 C915.1 405.6 914.9 404.8 915.1 403.9 C915.2 403.1 915.7 401.7 916.4 401 C917.1 400.3 918.6 399.7 919.4 399.8 C920.2 399.9 921 400.6 921.2 401.4 C921.5 402.2 921.4 403.9 920.9 404.7 C920.5 405.5 919.4 405.9 918.6 406.1 C917.7 406.3 916.3 406.3 915.7 406 Z" fill="#28be28"/><path d="M915.6 411.6 C915.1 412 914.6 412.7 913.7 412.5 C912.7 412.4 910.8 411.6 909.8 410.8 C908.8 410 907.8 408.4 907.7 407.6 C907.7 406.9 908.8 406.3 909.6 406 C910.4 405.8 911.4 405.6 912.6 406.2 C913.7 406.8 916 408.7 916.5 409.6 C917 410.5 916.1 411.1 915.6 411.6 Z" fill="#73f06e"/><path d="M949.8 390.1 C949.7 390.8 948.5 391.5 947.4 391.6 C946.2 391.7 944.1 391.3 943.1 390.7 C942 390.1 941.2 388.7 940.9 387.8 C940.6 386.9 940.4 386 941.2 385.5 C942 384.9 944.2 384.3 945.4 384.6 C946.6 385 947.6 386.5 948.4 387.4 C949.1 388.3 950 389.4 949.8 390.1 Z" fill="#73f06e"/><path d="M962.4 409.4 C961.8 410 960.3 410.1 959.3 409.7 C958.3 409.4 957 408.4 956.4 407.4 C955.9 406.3 955.8 404.3 956.1 403.6 C956.4 402.9 957.5 403 958.3 403 C959.1 403 960.2 403.1 961 403.6 C961.7 404.1 962.5 405.1 962.8 406.1 C963 407 963 408.8 962.4 409.4 Z" fill="#73f06e"/><path d="M885.7 408.8 C885.2 409.3 883.9 410.1 882.9 409.9 C881.9 409.7 880.5 408.5 879.5 407.6 C878.5 406.7 877.2 405.3 877.1 404.5 C876.9 403.6 877.8 402.9 878.7 402.6 C879.7 402.3 881.4 402.1 882.6 402.8 C883.8 403.4 885.5 405.6 886 406.6 C886.5 407.6 886.2 408.2 885.7 408.8 Z" fill="#0fa00f"/><path d="M852 418.8 C851.4 418.5 850.5 418.2 850.7 417.3 C850.9 416.4 852.2 414.4 852.9 413.5 C853.7 412.6 854.5 412.3 855.4 412.1 C856.4 412 858.4 411.9 858.8 412.8 C859.2 413.6 858.6 416.2 857.8 417.3 C857 418.4 855.1 419.2 854.2 419.4 C853.2 419.7 852.6 419.2 852 418.8 Z" fill="#73f06e"/><path d="M928.8 399.3 C928.1 399.5 926.6 398.5 925.9 397.9 C925.2 397.3 924.9 396.7 924.7 395.7 C924.6 394.8 924.5 393.1 924.9 392.4 C925.3 391.7 926.5 391.2 927.2 391.4 C927.9 391.7 928.7 393.1 929.2 394 C929.7 394.9 930.3 395.8 930.2 396.7 C930.2 397.6 929.5 399.1 928.8 399.3 Z" fill="#0fa00f"/><path d="M947.6 410.8 C947.2 411.4 946.6 411.9 945.8 411.9 C944.9 411.8 943.1 411.3 942.3 410.5 C941.5 409.8 940.9 408 941 407.2 C941.1 406.5 942 406.1 942.8 406 C943.6 405.8 944.8 405.9 945.6 406.3 C946.5 406.7 947.7 407.8 948.1 408.5 C948.4 409.3 948 410.3 947.6 410.8 Z" fill="#73f06e"/><path d="M988.7 405.8 C988.4 407.1 985.8 408.1 984.2 408.5 C982.6 408.8 980.5 408.7 979 408 C977.5 407.4 975.5 405.8 975.2 404.7 C975 403.5 976.4 401.9 977.5 401 C978.5 400 980.1 398.9 981.5 398.8 C983 398.8 985.1 399.6 986.3 400.7 C987.5 401.9 989.1 404.5 988.7 405.8 Z" fill="#b4fab4"/><path d="M825 411.2 C824.3 410.4 823.6 409.5 824.3 408.4 C825 407.4 827.7 405.5 829.2 404.9 C830.7 404.3 832.1 404.4 833.2 404.7 C834.3 405.1 835.7 406 835.7 407.1 C835.6 408.1 834.2 410.2 832.9 411.2 C831.7 412.2 829.4 413 828.1 413.1 C826.7 413.1 825.6 412 825 411.2 Z" fill="#0fa00f"/><path d="M982.8 395.6 C982.7 396.1 981.2 396.4 980.4 396.6 C979.6 396.7 978.8 396.6 978 396.3 C977.3 396.1 976.5 395.5 976.2 395.1 C975.8 394.6 975.5 393.8 975.9 393.4 C976.3 393.1 977.7 393 978.6 393 C979.5 393.1 980.5 393.3 981.2 393.7 C981.9 394.1 983 395.2 982.8 395.6 Z" fill="#73f06e"/><path d="M954.9 413.7 C954.2 413.1 954.2 411.5 954.2 410.5 C954.2 409.6 954.4 408.4 955 407.9 C955.6 407.3 957 407.2 957.9 407.2 C958.8 407.3 960 407.5 960.5 408.2 C960.9 409 960.8 411 960.4 411.9 C960.1 412.8 959.3 413.4 958.4 413.7 C957.4 413.9 955.6 414.2 954.9 413.7 Z" fill="#0fa00f"/><path d="M942.6 405.3 C942.1 404.5 942.5 403.3 943.6 402.2 C944.7 401.1 947.2 399.4 949.2 398.8 C951.2 398.1 954.5 398 955.6 398.6 C956.8 399.1 956.7 400.9 956.1 402.1 C955.4 403.3 953.4 404.9 951.7 405.7 C950.1 406.5 947.9 407.1 946.4 407 C944.9 407 943.1 406.1 942.6 405.3 Z" fill="#73f06e"/><path d="M814.8 407.7 C814.1 408 812.9 408.2 812.2 407.8 C811.5 407.4 810.6 406.4 810.5 405.3 C810.3 404.3 810.7 402.4 811.2 401.7 C811.8 401.1 812.9 401.1 813.7 401.3 C814.6 401.6 815.8 402.1 816.3 402.9 C816.7 403.8 816.7 405.5 816.5 406.3 C816.2 407.1 815.5 407.5 814.8 407.7 Z" fill="#0fa00f"/><path d="M923.5 417.7 C923.1 417.5 922.7 416.9 922.7 415.8 C922.8 414.7 923.2 412.4 923.8 411.2 C924.5 410 925.9 409 926.7 408.6 C927.4 408.3 928.2 408.5 928.5 409.2 C928.8 410 929 412 928.5 413.3 C928 414.6 926.3 416.1 925.5 416.8 C924.7 417.6 924 417.9 923.5 417.7 Z" fill="#0fa00f"/><path d="M844.7 412.9 C844.3 412.6 843.9 412.3 844.1 411.5 C844.2 410.8 845 409.1 845.7 408.3 C846.4 407.5 847.5 406.8 848.1 406.8 C848.7 406.8 849.2 407.5 849.3 408.1 C849.4 408.7 849 409.4 848.6 410.3 C848.1 411.1 847.1 412.8 846.5 413.2 C845.8 413.6 845.1 413.2 844.7 412.9 Z" fill="#b4fab4"/><path d="M861.2 416.7 C860.2 417.4 857.7 416.7 855.9 415.8 C854.1 414.9 851.5 412.8 850.5 411.4 C849.4 409.9 849.5 408.4 849.5 406.9 C849.5 405.5 849.5 402.7 850.5 402.6 C851.6 402.5 854.1 404.9 855.9 406.4 C857.7 407.9 860.6 409.8 861.4 411.5 C862.3 413.2 862.1 415.9 861.2 416.7 Z" fill="#b4fab4"/><path d="M797.3 412.5 C797.1 411.9 797.9 411 798.4 410.4 C799 409.7 799.7 408.6 800.5 408.5 C801.3 408.4 802.7 409.1 803.2 409.6 C803.8 410.2 803.8 411.2 803.6 411.8 C803.4 412.4 802.6 413.1 802 413.5 C801.3 413.9 800.4 414.3 799.6 414.1 C798.8 413.9 797.5 413.1 797.3 412.5 Z" fill="#73f06e"/><path d="M818.4 406.2 C817.4 406.5 816.3 407.2 815.5 406.3 C814.6 405.5 813.6 402.5 813.3 401.1 C813 399.7 813.2 398.8 813.7 397.9 C814.2 397.1 815.3 395.9 816.3 396.1 C817.3 396.3 818.8 397.8 819.7 399.2 C820.5 400.5 821.6 403.1 821.4 404.3 C821.2 405.5 819.4 405.8 818.4 406.2 Z" fill="#28be28"/><path d="M964.3 410.3 C964.1 409.6 964.6 408.6 965.1 408 C965.7 407.4 966.7 406.7 967.4 406.6 C968.2 406.5 969.1 407.1 969.6 407.5 C970.1 408 970.4 408.9 970.4 409.6 C970.3 410.2 969.8 411.1 969.1 411.5 C968.4 411.9 967 412.2 966.2 412 C965.4 411.7 964.5 411 964.3 410.3 Z" fill="#73f06e"/><path d="M941.3 405.8 C940.5 406.2 939.6 406.4 938.6 406 C937.7 405.6 936.4 404.3 935.7 403.3 C934.9 402.3 934 400.8 934 399.9 C934.1 398.9 935 397.7 936 397.6 C937 397.5 938.7 398.5 939.9 399.5 C941.1 400.5 942.9 402.5 943.2 403.5 C943.4 404.5 942 405.3 941.3 405.8 Z" fill="#b4fab4"/><path d="M957.8 393.3 C957.1 393.5 956 392.8 954.9 392 C953.8 391.1 952 389.7 951.3 388.1 C950.7 386.6 950.7 383.9 951.1 382.7 C951.5 381.5 952.8 380.5 953.8 381 C954.9 381.4 956.3 383.8 957.2 385.4 C958.1 387 959.3 389.4 959.4 390.7 C959.5 392 958.6 393 957.8 393.3 Z" fill="#0fa00f"/><path d="M934.7 396.8 C934.5 397.4 933.6 397.8 932.7 397.8 C931.8 397.7 930.4 397 929.3 396.3 C928.3 395.7 926.7 394.5 926.5 393.9 C926.3 393.3 927.3 392.9 928.1 392.6 C928.8 392.4 930.1 392.4 931.1 392.7 C932.1 392.9 933.4 393.6 934 394.3 C934.6 395 934.9 396.2 934.7 396.8 Z" fill="#73f06e"/><path d="M852.3 409.5 C851.9 408.9 852.7 407.3 853.3 406.2 C853.9 405.1 854.9 403.6 855.8 403.2 C856.8 402.7 858.1 403.3 859 403.7 C859.9 404.1 861.3 404.7 861.3 405.4 C861.3 406.2 859.7 407.7 858.8 408.4 C857.8 409.1 856.8 409.4 855.7 409.6 C854.6 409.8 852.7 410.1 852.3 409.5 Z" fill="#73f06e"/><path d="M922.9 414.7 C922.4 414.8 921.4 414.5 921.1 414 C920.7 413.5 920.7 412.4 920.8 411.7 C920.8 411 921.1 410.3 921.4 409.9 C921.7 409.5 922.2 409.1 922.7 409.3 C923.1 409.5 923.8 410.5 924 411.2 C924.2 411.9 924 413 923.8 413.6 C923.6 414.2 923.4 414.6 922.9 414.7 Z" fill="#28be28"/><path d="M935.9 402.6 C935.3 402 935.2 401 935.6 399.9 C936 398.7 937.3 396.8 938.3 395.9 C939.3 394.9 940.7 394.2 941.6 394.3 C942.5 394.3 943.5 395.3 943.7 396.2 C943.9 397.1 943.4 398.7 942.8 399.8 C942.1 400.9 940.8 402.6 939.6 403 C938.5 403.5 936.6 403.1 935.9 402.6 Z" fill="#0fa00f"/><path d="M975.8 398.4 C975.6 397.8 975.8 396.8 976.7 396 C977.5 395.1 979.5 393.8 980.9 393.3 C982.2 392.7 983.9 392.4 984.7 392.5 C985.6 392.6 986.2 393.3 985.8 394 C985.4 394.8 983.7 395.9 982.3 396.9 C981 397.8 979 399.3 977.9 399.6 C976.8 399.8 976 399 975.8 398.4 Z" fill="#b4fab4"/><path d="M912 413.4 C911 412.9 910.5 409.8 910 407.9 C909.5 406.1 908.4 404.3 909 402.4 C909.6 400.5 912.3 397.3 913.8 396.6 C915.2 395.9 917 396.9 917.9 398.2 C918.7 399.4 919.1 402 918.8 404.2 C918.5 406.3 917.3 409.5 916.1 411.1 C915 412.6 913 413.9 912 413.4 Z" fill="#28be28"/><path d="M662 376 C663.3 374.6 679.5 375.4 683 376 C686.5 376.6 694.2 381.1 697 382 C699.8 382.9 707.7 385 711 385 C714.3 385 726.7 382.7 730 382 C733.3 381.3 740.7 378.9 744 378 C747.3 377.1 759 374.2 763 373 C767 371.8 779.6 367.1 784 366 C788.4 364.9 802.3 362.9 807 362 C811.7 361.1 826.3 357.5 831 357 C835.7 356.5 849.3 356.6 854 357 C858.7 357.4 874 359.5 878 361 C882 362.5 891 369.6 894 372 C897 374.4 907.1 382.6 908 385 C908.9 387.4 905.5 394.3 903 396 C900.5 397.7 886.9 401.7 883 402 C879.1 402.3 868 400.2 864 399 C860 397.8 847.5 391.1 843 390 C838.5 388.9 823.5 387.7 819 388 C814.5 388.3 802.9 391.6 798 393 C793.1 394.4 775.8 400.3 770 402 C764.2 403.7 745.4 409.2 740 410 C734.6 410.8 720.3 410.4 716 410 C711.7 409.6 700.3 407.1 697 406 C693.7 404.9 685.7 400.6 683 399 C680.3 397.4 672.1 392.3 670 390 C667.9 387.7 660.7 377.4 662 376 Z" fill="#73f06e" stroke="#73f06e" stroke-width="4"/><path d="M662 376 C663.3 374.6 679.5 375.4 683 376 C686.5 376.6 694.2 381.1 697 382 C699.8 382.9 707.7 385 711 385 C714.3 385 726.7 382.7 730 382 C733.3 381.3 740.7 378.9 744 378 C747.3 377.1 759 374.2 763 373 C767 371.8 779.6 367.1 784 366 C788.4 364.9 802.3 362.9 807 362 C811.7 361.1 826.3 357.5 831 357 C835.7 356.5 849.3 356.6 854 357 C858.7 357.4 874 359.5 878 361 C882 362.5 891 369.6 894 372 C897 374.4 907.1 382.6 908 385 C908.9 387.4 905.5 394.3 903 396 C900.5 397.7 886.9 401.7 883 402 C879.1 402.3 868 400.2 864 399 C860 397.8 847.5 391.1 843 390 C838.5 388.9 823.5 387.7 819 388 C814.5 388.3 802.9 391.6 798 393 C793.1 394.4 775.8 400.3 770 402 C764.2 403.7 745.4 409.2 740 410 C734.6 410.8 720.3 410.4 716 410 C711.7 409.6 700.3 407.1 697 406 C693.7 404.9 685.7 400.6 683 399 C680.3 397.4 672.1 392.3 670 390 C667.9 387.7 660.7 377.4 662 376 Z" fill="#b4fab4"/><path d="M669 378 C670.1 377 680.2 377.3 683 378 C685.8 378.7 694.2 384 697 385 C699.8 386 707.7 387.6 711 387.6 C714.3 387.6 726.7 385.7 730 385 C733.3 384.3 740.7 381.5 744 380.6 C747.3 379.7 759 377.2 763 376 C767 374.8 779.5 369.9 784 369 C788.5 368.1 802.8 367.4 807.5 366.5 C812.2 365.6 826.3 360.2 831 359.5 C835.7 358.8 849.7 359.1 854.4 359.5 C859.1 359.9 874.2 362.6 878 364 C881.8 365.4 889.2 371.4 892 373.5 C894.8 375.6 905.1 382.9 906 385 C906.9 387.1 903.3 393.3 901 394.7 C898.7 396.1 886.3 399.2 882.6 399.4 C878.9 399.6 867.8 398.2 863.8 397 C859.8 395.8 847.2 388.8 842.7 387.6 C838.2 386.4 823.5 384.8 819 385 C814.5 385.2 802.9 388.6 798 390 C793.1 391.4 775.8 397.1 770 399 C764.2 400.9 745.1 407.8 739.7 408.7 C734.3 409.6 720.2 408.1 716 407.6 C711.8 407.1 700.7 405.1 697.4 404 C694.1 402.9 685.9 398.6 683.3 397 C680.7 395.4 673 389.5 671.6 387.6 C670.2 385.7 667.9 379 669 378 Z" fill="#fffaaa"/><path d="M674 380.6 C674.7 380 681.4 381.1 683.3 381.8 C685.2 382.5 690.8 386.8 692.7 387.6 C694.6 388.4 699.7 389.5 702 390 C704.3 390.5 712.7 392.3 716 392.3 C719.3 392.3 730.3 390.9 735 390 C739.7 389.1 758.1 384.6 763 383 C767.9 381.4 779.5 374.4 784 373.5 C788.5 372.6 802.8 374.2 807.5 373.5 C812.2 372.8 826.3 367.4 831 366.5 C835.7 365.6 849.7 363.6 854.4 364 C859.1 364.4 874.7 368.6 878 370 C881.3 371.4 886.8 376.5 887.3 378 C887.8 379.5 885 384 882.6 385 C880.2 386 867.6 387.8 863.8 387.6 C860 387.4 849.5 383.7 845 383 C840.5 382.3 823.7 380.6 819 380.6 C814.3 380.6 801.5 382.3 798 383 C794.5 383.7 787.5 386.8 784 388 C780.5 389.2 767 393.6 763 394.7 C759 395.8 747.7 398.7 744 399.4 C740.3 400.1 728.9 401.3 725.6 401.7 C722.4 402.1 714.3 403.2 711.5 403 C708.7 402.8 700 400.2 697.4 399.4 C694.8 398.6 687.8 395.9 685.7 394.7 C683.6 393.5 677.2 389 676 387.6 C674.8 386.2 673.3 381.2 674 380.6 Z" fill="#ffe878" stroke="#ffe878" stroke-width="3"/><path d="M674 380.6 C674.7 380 681.4 381.1 683.3 381.8 C685.2 382.5 690.8 386.8 692.7 387.6 C694.6 388.4 699.7 389.5 702 390 C704.3 390.5 712.7 392.3 716 392.3 C719.3 392.3 730.3 390.9 735 390 C739.7 389.1 758.1 384.6 763 383 C767.9 381.4 779.5 374.4 784 373.5 C788.5 372.6 802.8 374.2 807.5 373.5 C812.2 372.8 826.3 367.4 831 366.5 C835.7 365.6 849.7 363.6 854.4 364 C859.1 364.4 874.7 368.6 878 370 C881.3 371.4 886.8 376.5 887.3 378 C887.8 379.5 885 384 882.6 385 C880.2 386 867.6 387.8 863.8 387.6 C860 387.4 849.5 383.7 845 383 C840.5 382.3 823.7 380.6 819 380.6 C814.3 380.6 801.5 382.3 798 383 C794.5 383.7 787.5 386.8 784 388 C780.5 389.2 767 393.6 763 394.7 C759 395.8 747.7 398.7 744 399.4 C740.3 400.1 728.9 401.3 725.6 401.7 C722.4 402.1 714.3 403.2 711.5 403 C708.7 402.8 700 400.2 697.4 399.4 C694.8 398.6 687.8 395.9 685.7 394.7 C683.6 393.5 677.2 389 676 387.6 C674.8 386.2 673.3 381.2 674 380.6 Z" fill="#ffc03c"/><path d="M765 385 C767.7 383 780.2 379.3 786 378 C791.8 376.7 799.3 376 800 377 C800.7 378 795 381.8 790 384 C785 386.2 774.2 389.8 770 390 C765.8 390.2 762.3 387 765 385 Z" fill="#ffa000" stroke="#ffa000" stroke-width="3"/><path d="M765 385 C767.7 383 780.2 379.3 786 378 C791.8 376.7 799.3 376 800 377 C800.7 378 795 381.8 790 384 C785 386.2 774.2 389.8 770 390 C765.8 390.2 762.3 387 765 385 Z" fill="#ff6000"/><path d="M690 388 C691 387 699.7 390.2 704 391 C708.3 391.8 713.3 391.7 716 393 C718.7 394.3 721 397.7 720 399 C719 400.3 713.7 401.3 710 401 C706.3 400.7 701.3 399.2 698 397 C694.7 394.8 689 389 690 388 Z" fill="#ffa000"/><path d="M833 369 C835.7 367.4 847.3 366.2 854 366.5 C860.7 366.8 868.2 369.1 873 371 C877.8 372.9 882.6 376.2 882.6 378 C882.6 379.8 877.8 381.6 873 382 C868.2 382.4 859.8 381.6 854 380.6 C848.2 379.6 841.5 377.9 838 376 C834.5 374.1 830.3 370.6 833 369 Z" fill="#ffa000" stroke="#ffa000" stroke-width="6"/><path d="M833 369 C835.7 367.4 847.3 366.2 854 366.5 C860.7 366.8 868.2 369.1 873 371 C877.8 372.9 882.6 376.2 882.6 378 C882.6 379.8 877.8 381.6 873 382 C868.2 382.4 859.8 381.6 854 380.6 C848.2 379.6 841.5 377.9 838 376 C834.5 374.1 830.3 370.6 833 369 Z" fill="#ff6000" stroke="#ff6000" stroke-width="3"/><path d="M833 369 C835.7 367.4 847.3 366.2 854 366.5 C860.7 366.8 868.2 369.1 873 371 C877.8 372.9 882.6 376.2 882.6 378 C882.6 379.8 877.8 381.6 873 382 C868.2 382.4 859.8 381.6 854 380.6 C848.2 379.6 841.5 377.9 838 376 C834.5 374.1 830.3 370.6 833 369 Z" fill="#ff3200"/><path d="M672 408 C676.7 408 689.7 412.2 700 414 C710.3 415.8 722.8 417.7 734 419 C745.2 420.3 760 420.2 767 422 C774 423.8 776 430 776 430 L760 427 C760 427 740 425 730 424 C720 423 709.7 422.7 700 421 C690.3 419.3 676.7 416.2 672 414 C667.3 411.8 667.3 408 672 408 Z" fill="#96d2fa" stroke="#96d2fa" stroke-width="8"/><path d="M672 408 C676.7 408 689.7 412.2 700 414 C710.3 415.8 722.8 417.7 734 419 C745.2 420.3 760 420.2 767 422 C774 423.8 776 430 776 430 L760 427 C760 427 740 425 730 424 C720 423 709.7 422.7 700 421 C690.3 419.3 676.7 416.2 672 414 C667.3 411.8 667.3 408 672 408 Z" fill="#78b9fa" stroke="#78b9fa" stroke-width="4"/><path d="M672 408 C676.7 408 689.7 412.2 700 414 C710.3 415.8 722.8 417.7 734 419 C745.2 420.3 760 420.2 767 422 C774 423.8 776 430 776 430 L760 427 C760 427 740 425 730 424 C720 423 709.7 422.7 700 421 C690.3 419.3 676.7 416.2 672 414 C667.3 411.8 667.3 408 672 408 Z" fill="#3c96f5"/><path d="M655 418 C662.5 416.3 689.8 418 700 420 C710.2 422 716 430 716 430 L655 430 C655 430 647.5 419.7 655 418 Z" fill="#828282" stroke="#828282" stroke-width="4"/><path d="M655 418 C662.5 416.3 689.8 418 700 420 C710.2 422 716 430 716 430 L655 430 C655 430 647.5 419.7 655 418 Z" fill="#969696"/><path d="M976 341 C978.5 339.6 995 339.5 995 339.5 L995 384 C995 384 990.7 380.3 989 376 C987.3 371.7 986.5 362.7 985 358 C983.5 353.3 981.5 350.8 980 348 C978.5 345.2 973.5 342.4 976 341 Z" fill="#28be28"/></g><g stroke="#a8a8a8" stroke-width="1" stroke-dasharray="2 8.46" fill="none" opacity="0.8"><path d="M381.5 61.0 H990"/><path d="M381.5 133.7 H990"/><path d="M381.5 206.3 H990"/><path d="M381.5 279.0 H990"/><path d="M381.5 351.6 H990"/><path d="M448.4 47 V425"/><path d="M525.6 47 V425"/><path d="M602.8 47 V425"/><path d="M680.0 47 V425"/><path d="M757.2 47 V425"/><path d="M834.4 47 V425"/><path d="M911.6 47 V425"/><path d="M988.8 47 V425"/></g><g stroke-linejoin="round" stroke-linecap="round"><path d="M474 47 L481 52 L485 58 L488 61 L494 66 L498 68.5 L505 67 L509 72 L512 71 L519 78 L523.6 71 L528 66 L533 66 L537.7 67 L542.4 71 L546 75.5 L544.7 85 L547 99 L546 106 L540 113 L535 117.8 L528 124.8 L522.4 131.9 L521 137.7 L519 143.6 L521 150.7 L526 155.4 L521 162.4 L516.5 164.7 L516.5 176.5 L523.6 183.5 L530.6 190.6 L537.7 200 L542.4 209.4 L547 218.8 L551.8 228 L554 235 L565.8 244.4 L580 252.6 L591.7 257.3 L600 265.5 L601 282 L598.8 305.4 L596.4 324 L590.6 345.4 L588 361.8 L582 385 L577.6 399.4 L575 408.7 L576.4 426" fill="none" stroke="#000" stroke-width="1.25"/><path d="M489 47 L495.4 52 L502.5 59 L509.5 65 L519 68.5 L523 64 L528 66" fill="none" stroke="#000" stroke-width="1.25"/><path d="M542.4 71 L546 66 L551.8 63.8 L558 58 L563.5 56.7 L568 52 L573 49.7 L580 47" fill="none" stroke="#000" stroke-width="1.25"/><path d="M580 54.4 L587 49.7 L594 52 L610.5 49.7 L617.6 56.7 L634 58 L645.7 55.6 L657.5 58 L671.6 66 L678.6 72 L690.4 82.6 L697.4 89.6 L711.5 90.8 L725.6 92 L739.7 96.7 L746.7 103.7 L751.4 115.4 L756 124.8 L755 131.9 L749 136.6 L742 143.6" fill="none" stroke="#000" stroke-width="1.25"/><path d="M587 49.7 L594 54.4 L591.7 63.8 L587 66 L584.7 59 L587 49.7" fill="none" stroke="#000" stroke-width="1.25"/><path d="M646 54 L657 53" fill="none" stroke="#000" stroke-width="1.25"/><path d="M668 52 L671 50 L672 54 L669 55 Z" fill="none" stroke="#000" stroke-width="1.25"/><path d="M739.7 143.6 L749 134 L753.8 129.5 L756 134 L765.5 133 L767.8 139 L765.5 146 L758.5 148.3 L751.4 143.6 L744.4 139 L750 146 L746 150" fill="none" stroke="#000" stroke-width="1.25"/><path d="M753 137 L762 136 L764 142 L757 144 L753 137" fill="none" stroke="#000" stroke-width="1.25"/><path d="M767.8 139 L777 137.7 L784 141 L798 146 L800.4 153 L812 151.8 L831 155 L842.7 162.4 L854.4 169.5 L868.5 173 L874.4 185.9 L870.9 200 L861.5 209.4 L852 218.8 L845 228 L842 240 L841.5 253.8 L838 265.5 L831 279.6 L824 293.7 L807.5 300.7 L784 307.8 L775 314.8 L767.8 319.5 L765.5 333.6 L758.5 345.4 L751.4 354.7 L744.4 364 L735 373.5 L730 378 L721 385 L706.8 387.6 L695 385" fill="none" stroke="#000" stroke-width="1.25"/><path d="M528 124.8 L542.4 129.5 L556.5 131.9 L563.5 139 L558.8 148.3 L551.8 155.4 L542.4 157.7 L533 167 L528 164.7" fill="none" stroke="#000" stroke-width="1.25"/><path d="M563.5 139 L573 143.6 L580 150.7 L583 148.3 L594 153 L603.5 162.4 L598.8 164.7 L590 170 L583 176.5 L573 186 L577.6 200 L583 202 L594 204.7 L596.4 209.4 L608 214 L636.4 204.7 L638.7 218.8 L650.4 225.8 L669 230.5 L678.6 235 L676 240 L678.6 250 L690.4 251.4 L692.7 256 L697.4 265.5 L695 277" fill="none" stroke="#000" stroke-width="1.25"/><path d="M580 70.8 L584.7 80 L594 82.6 L608 85 L620 89.6 L622 99 L620 113 L629.3 124.8 L636.4 127 L645.7 122.5 L650.4 115.4 L643.4 106 L648 102.5 L659.8 103.7 L671.6 100 L678.6 101.4 L676 87 L671.6 85 L674 75.5 L669 66" fill="none" stroke="#000" stroke-width="1.25"/><path d="M603.5 162.4 L607 148.3 L602 139 L603.5 129.5 L608 127 L603.5 122.5 L622 120 L627 124.8 L636.4 127" fill="none" stroke="#000" stroke-width="1.25"/><path d="M678.6 101.4 L681 115.4 L688 122.5 L702 120 L706.8 120 L723 115.4 L737.3 115.4 L744.4 108.4 L748 103.7" fill="none" stroke="#000" stroke-width="1.25"/><path d="M690.4 82.6 L697.4 89.6 L695 99 L702 110.7 L706.8 120" fill="none" stroke="#000" stroke-width="1.25"/><path d="M723 92 L724.4 103.7 L723 115.4" fill="none" stroke="#000" stroke-width="1.25"/><path d="M608 214 L610.5 235 L610.5 246.7 L603.5 251.4 L608 260.8 L612.9 275 L617.6 289 L620 298.4 L624.6 303 L615 310 L611.7 324 L605.8 338.3 L601 352.4 L600 366.5 L603.5 375.9 L601 387.6 L596.4 399.4 L591.7 418 L590.6 426" fill="none" stroke="#000" stroke-width="1.25"/><path d="M603 247 L610 249 L609 254 L604 252 Z" fill="none" stroke="#000" stroke-width="1.25"/><path d="M624.6 303 L634 293.7 L645.7 296 L648 300.7 L652.8 293.7 L659.8 293.7 L662 282 L667 276 L681 273.7 L695 277 L695 292.5 L711.5 296 L716 304 L723 307.8 L722 319.5 L728 321.9 L728 325.4" fill="none" stroke="#000" stroke-width="1.25"/><path d="M659.8 293.7 L674 305.4 L683.3 310 L695 317 L697.4 321.9 L690.4 331 L709 332.4 L721 326.6 L728 325.4 L721 333.6 L711.5 343 L702 352.4 L695 361.8 L692.7 375.9 L695 385 L702 390 L704.5 399.4 L697.4 408.7 L685.7 413.5 L669 415.8 L662 418 L662 426" fill="none" stroke="#000" stroke-width="1.25"/><path d="M702 352.4 L711.5 354.7 L721 361.8 L730 371 L735 373.5" fill="none" stroke="#000" stroke-width="1.25"/><path d="M744 364 L748 356 L752 352 L750 360 L745 366" fill="none" stroke="#000" stroke-width="1.25"/><path d="M435 133 L437 131 L438.5 134 L436 137 L438 140 L435.5 141 L434.5 137 Z" fill="none" stroke="#000" stroke-width="1.2"/><path d="M441 139.5 L444 138.5" fill="none" stroke="#000" stroke-width="1.2"/><path d="M792 267 L794 265 L795 269" fill="none" stroke="#000" stroke-width="1.2"/><path d="M785 282 L789 286 L793 283 L790 288 L787 291" fill="none" stroke="#000" stroke-width="1.4"/><path d="M718 101 L720 99 L721 103 Z" fill="none" stroke="#000" stroke-width="1.25"/><path d="M659 355.5 L663 354.5 L664 356.5 L660 357.5 Z" fill="none" stroke="#000" stroke-width="1.3"/></g></g><clipPath id="cb"><rect x="378" y="430" width="611" height="378"/></clipPath><g clip-path="url(#cb)"><rect x="378" y="430" width="611" height="378" fill="#b4f0fa"/><g filter="url(#rough)" stroke-linejoin="round" stroke-linecap="round"><path d="M370 476 C370 476 396.5 478.6 402 479 C407.5 479.4 420.4 480.1 425 480 C429.6 479.9 443.8 478 448 478 C452.2 478 463.9 478.7 467 480 C470.1 481.3 476.2 489.5 479 491 C481.8 492.5 491.5 494.7 495 495 C498.5 495.3 510.7 494 514 494 C517.3 494 525.4 494.4 528 495 C530.6 495.6 538.8 498.3 540 500 C541.2 501.7 542 510.8 540 512 C538 513.2 524 512.4 520 512 C516 511.6 504 508.8 500 508 C496 507.2 483 505.4 480 504 C477 502.6 473 495.4 470 494 C467 492.6 454.5 490.2 450 490 C445.5 489.8 429.8 492 425 492 C420.2 492 407.5 490.4 402 490 C396.5 489.6 370 488 370 488 L370 476 Z" fill="#96d2fa"/><path d="M370 615 C370 615 474.5 613.5 488 615 C501.5 616.5 489.3 625.9 486 628 C482.7 630.1 465.7 632.2 460 633 C454.3 633.8 442.5 634 437 635 C431.5 636 418.2 639.8 413 642 C407.8 644.2 395.4 651 392 654 C388.6 657 384 663.8 384 668 C384 672.2 389.4 685.3 392 690 C394.6 694.7 404.8 704.7 406 708 C407.2 711.3 404.1 717.3 402 718 C399.9 718.7 391.7 716.1 388 714 C384.3 711.9 370 700 370 700 L370 615 Z" fill="#96d2fa"/><path d="M370 600 C370 600 410.7 604.6 420 606 C429.3 607.4 445.3 609.9 450 612 C454.7 614.1 462.3 621.9 460 624 C457.7 626.1 437 628.8 430 630 C423 631.2 407 632.8 400 634 C393 635.2 370 640 370 640 L370 600 Z" fill="#96d2fa"/><path d="M370 582 C370 582 394.6 586.7 401 588 C407.4 589.3 420 591.8 425 593 C430 594.2 440.5 595.3 444 598 C447.5 600.7 463.6 613.4 455 616 C446.4 618.6 370 620 370 620 L370 582 Z" fill="#96d2fa"/><path d="M370 603 C370 603 387.5 602.3 392 605 C396.5 607.7 397 615.2 397 619 C397 622.8 395.2 626.2 392 628 C388.8 629.8 381.7 630 378 630 C374.3 630 370 628 370 628 L370 603 Z" fill="#78b9fa"/><path d="M370 698 C370 698 387.7 705.3 390 708 C392.3 710.7 387.3 713.3 384 714 C380.7 714.7 370 712 370 712 L370 698 Z" fill="#78b9fa"/><path d="M406 718 C408.9 719.6 421.1 732.3 425 736 C428.9 739.7 436.3 746.7 439 750 C441.7 753.3 448.6 761.8 448 764 C447.4 766.2 437.3 769.5 434 769 C430.7 768.5 423.3 763.9 420 760 C416.7 756.1 408.3 740.4 406 736 C403.7 731.6 400 724.1 400 722 C400 719.9 403.1 716.4 406 718 Z" fill="#96d2fa"/><path d="M425 755 C427.7 754.3 438.2 757.8 440 760 C441.8 762.2 438.7 767.3 436 768 C433.3 768.7 425.8 766.2 424 764 C422.2 761.8 422.3 755.7 425 755 Z" fill="#b4f0fa"/><path d="M370 640 C370 640 387.6 644.7 392 648 C396.4 651.3 404.5 662.6 408 668 C411.5 673.4 418.7 687.7 422 694 C425.3 700.3 433 715.9 436 722 C439 728.1 447.5 742.3 448 746 C448.5 749.7 442.8 754 440 754 C437.2 754 428.1 748.2 424 746 C419.9 743.8 409.6 737.6 405 735 C400.4 732.4 389.1 725.8 385 724 C380.9 722.2 370 720 370 720 L370 640 Z" fill="#96d2fa"/><path d="M370 690 C370 690 380 692.3 384 696 C388 699.7 394 708.3 394 712 C394 715.7 388 717.3 384 718 C380 718.7 370 716 370 716 L370 690 Z" fill="#78b9fa"/><path d="M370 736 C370 736 380 736 385 738 C390 740 399.2 745.7 400 748 C400.8 750.3 395 752 390 752 C385 752 370 748 370 748 L370 736 Z" fill="#78b9fa"/><path d="M826 488 C827.4 486.1 846.5 486 854 486 C861.5 486 883.4 486.9 890 488 C896.6 489.1 904.2 495 911 495 C917.8 495 938.2 487.4 948 488 C957.8 488.6 995 500 995 500 L995 700 C995 700 967.6 693.3 960 690 C952.4 686.7 937 675.3 930 672 C923 668.7 907 664.3 900 662 C893 659.7 875.8 654.6 870 652 C864.2 649.4 853.3 642.8 850 640 C846.7 637.2 842 631.3 842 628 C842 624.7 847.7 615.5 850 612 C852.3 608.5 859.2 602.3 862 598 C864.8 593.7 873.3 580.5 874 575 C874.7 569.5 867.1 554.9 868 551 C868.9 547.1 880.4 545.3 882 542 C883.6 538.7 884.1 527.2 882 523 C879.9 518.8 868.7 508.4 864 506 C859.3 503.6 846.4 504.1 842 502 C837.6 499.9 824.6 489.9 826 488 Z" fill="#96d2fa"/><path d="M911 476 C916.8 473 936 475 950 474 C964 473 995 470 995 470 L995 500 C995 500 961.3 491.3 948 490 C934.7 488.7 921.2 494.3 915 492 C908.8 489.7 905.2 479 911 476 Z" fill="#b4f0fa"/><path d="M887 523 C888.6 522 901.6 520.4 906 521 C910.4 521.6 920.1 527.8 925 528 C929.9 528.2 942.5 523.6 948 523 C953.5 522.4 966.5 522 972 523 C977.5 524 995 532 995 532 L995 672 C995 672 976.4 664.6 970 662 C963.6 659.4 946.4 652.1 940 650 C933.6 647.9 920.8 645.2 915 644 C909.2 642.8 896.2 640.9 890 640 C883.8 639.1 866.7 637.6 862 636 C857.3 634.4 849.8 630.2 850 626 C850.2 621.8 861 605.6 864 600 C867 594.4 875 583.1 876 578 C877 572.9 872 559.7 873 556 C874 552.3 881.7 547.9 885 546 C888.3 544.1 900.2 541.9 901 540 C901.8 538.1 893.6 532 892 530 C890.4 528 885.4 524 887 523 Z" fill="#78b9fa"/><path d="M920 500 C921.3 498 929.7 496.7 932 498 C934.3 499.3 935.3 506 934 508 C932.7 510 926.3 511.3 924 510 C921.7 508.7 918.7 502 920 500 Z" fill="#b4f0fa"/><path d="M899 525 C900 524 910.9 522.2 915 523 C919.1 523.8 929.6 530.1 934 532 C938.4 533.9 948.6 538.6 953 539 C957.4 539.4 970.4 536.9 972 535 C973.6 533.1 964.3 522.4 967 523 C969.7 523.6 995 540 995 540 L995 562 C995 562 968 552.9 962 551 C956 549.1 948.3 547.4 944 546 C939.7 544.6 929.4 540.6 925 539 C920.6 537.4 909 533.6 906 532 C903 530.4 898 526 899 525 Z" fill="#3c96f5"/><path d="M876 560 C878.7 557.4 895.3 558.8 901 560 C906.7 561.2 919.5 568.2 925 570 C930.5 571.8 942.5 572.9 948 575 C953.5 577.1 966.5 585.8 972 588 C977.5 590.2 995 594 995 594 L995 668 C995 668 976.4 662.3 970 660 C963.6 657.7 946.4 650.1 940 648 C933.6 645.9 920.8 643.2 915 642 C909.2 640.8 896 638.9 890 638 C884 637.1 868.2 635.6 864 634 C859.8 632.4 853.5 628 854 624 C854.5 620 865.2 604.9 868 600 C870.8 595.1 877.1 586.7 878 582 C878.9 577.3 873.3 562.6 876 560 Z" fill="#3c96f5"/><path d="M915 572 C920.5 573.7 938.5 578.3 948 582 C957.5 585.7 964.7 591.2 972 594 C979.3 596.8 992 599 992 599" fill="none" stroke="#1e6eeb" stroke-width="4"/><path d="M884 594 C889.2 594.7 904.3 595.7 915 598 C925.7 600.3 935.2 605.2 948 608 C960.8 610.8 992 615 992 615" fill="none" stroke="#1e6eeb" stroke-width="4"/><path d="M878 577 C881.8 577.8 892.3 579.8 901 582 C909.7 584.2 921.8 588 930 590 C938.2 592 946.7 593.3 950 594" fill="none" stroke="#96d2fa" stroke-width="3"/><path d="M870 612 C875 612.7 888.3 614 900 616 C911.7 618 924.7 620.7 940 624 C955.3 627.3 992 636 992 636" fill="none" stroke="#1e6eeb" stroke-width="5"/><path d="M890 630 C896.7 631.3 913 634.3 930 638 C947 641.7 992 652 992 652" fill="none" stroke="#78b9fa" stroke-width="3"/><path d="M880 647 C887.5 648.3 906.3 650.2 925 655 C943.7 659.8 992 676 992 676" fill="none" stroke="#78b9fa" stroke-width="5"/><path d="M820 619 C820 615 831 607.8 836 604 C841 600.2 845.7 598.7 850 596 C854.3 593.3 858.3 591.3 862 588 C865.7 584.7 869.7 576.7 872 576 C874.3 575.3 876.3 580.7 876 584 C875.7 587.3 873 592.3 870 596 C867 599.7 861.7 602.7 858 606 C854.3 609.3 849.7 611.7 848 616 C846.3 620.3 849 628 848 632 C847 636 844 640.7 842 640 C840 639.3 839.7 631.5 836 628 C832.3 624.5 820 623 820 619 Z" fill="#96d2fa" stroke="#96d2fa" stroke-width="8"/><path d="M820 619 C820 615 831 607.8 836 604 C841 600.2 845.7 598.7 850 596 C854.3 593.3 858.3 591.3 862 588 C865.7 584.7 869.7 576.7 872 576 C874.3 575.3 876.3 580.7 876 584 C875.7 587.3 873 592.3 870 596 C867 599.7 861.7 602.7 858 606 C854.3 609.3 849.7 611.7 848 616 C846.3 620.3 849 628 848 632 C847 636 844 640.7 842 640 C840 639.3 839.7 631.5 836 628 C832.3 624.5 820 623 820 619 Z" fill="#78b9fa" stroke="#78b9fa" stroke-width="4"/><path d="M820 619 C820 615 831 607.8 836 604 C841 600.2 845.7 598.7 850 596 C854.3 593.3 858.3 591.3 862 588 C865.7 584.7 869.7 576.7 872 576 C874.3 575.3 876.3 580.7 876 584 C875.7 587.3 873 592.3 870 596 C867 599.7 861.7 602.7 858 606 C854.3 609.3 849.7 611.7 848 616 C846.3 620.3 849 628 848 632 C847 636 844 640.7 842 640 C840 639.3 839.7 631.5 836 628 C832.3 624.5 820 623 820 619 Z" fill="#3c96f5"/><path d="M864 589 C865.3 587.8 871.8 585.7 873 586 C874.2 586.3 872.3 589.8 871 591 C869.7 592.2 866.2 593.3 865 593 C863.8 592.7 862.7 590.2 864 589 Z" fill="#0fa00f" stroke="#0fa00f" stroke-width="2.4"/><path d="M864 589 C865.3 587.8 871.8 585.7 873 586 C874.2 586.3 872.3 589.8 871 591 C869.7 592.2 866.2 593.3 865 593 C863.8 592.7 862.7 590.2 864 589 Z" fill="#28be28"/><path d="M843 610 C847.3 607.5 858.2 606.2 864 607 C869.8 607.8 876.5 612 878 614.5 C879.5 617 877.7 620.8 873 622 C868.3 623.2 854.7 621.3 850 622 C845.3 622.7 847 626 845 626 C843 626 838.3 624.7 838 622 C837.7 619.3 838.7 612.5 843 610 Z" fill="#0fa00f" stroke="#0fa00f" stroke-width="4"/><path d="M843 610 C847.3 607.5 858.2 606.2 864 607 C869.8 607.8 876.5 612 878 614.5 C879.5 617 877.7 620.8 873 622 C868.3 623.2 854.7 621.3 850 622 C845.3 622.7 847 626 845 626 C843 626 838.3 624.7 838 622 C837.7 619.3 838.7 612.5 843 610 Z" fill="#28be28"/><path d="M848 612 C849.7 610.8 858.7 610.3 862 611 C865.3 611.7 869.7 614.8 868 616 C866.3 617.2 855.3 618.7 852 618 C848.7 617.3 846.3 613.2 848 612 Z" fill="#0fa00f"/><path d="M760 706 C762.4 697.9 780.7 708 784 708.7 C787.3 709.4 791 712.2 793.4 713.4 C795.8 714.6 804.2 719.9 807.5 720.4 C810.8 720.9 822.2 718.9 826 718 C829.8 717.1 842.2 712.2 845 711 C847.8 709.8 851.1 706.8 854.4 706.3 C857.7 705.8 873.3 705.9 878 706.3 C882.7 706.6 896.7 709.1 901.4 709.8 C906.1 710.5 920.3 712.8 925 713.4 C929.7 714 943.7 715 948.4 715.7 C953.1 716.4 967.1 719.7 971.8 720.4 C976.5 721.1 995 722.7 995 722.7 L995 790 C995 790 783.5 798.4 760 790 C736.5 781.6 757.6 714.1 760 706 Z" fill="#96d2fa"/><path d="M760 709.5 C762.4 701.7 780.7 711.5 784 712.2 C787.3 712.9 791 715.7 793.4 716.9 C795.8 718.1 804.2 723.4 807.5 723.9 C810.8 724.4 822.2 722.4 826 721.5 C829.8 720.6 842.2 715.7 845 714.5 C847.8 713.3 851.1 710.3 854.4 709.8 C857.7 709.3 873.3 709.4 878 709.8 C882.7 710.1 896.7 712.6 901.4 713.3 C906.1 714 920.3 716.3 925 716.9 C929.7 717.5 943.7 718.5 948.4 719.2 C953.1 719.9 967.1 723.2 971.8 723.9 C976.5 724.6 995 726.2 995 726.2 L995 790 C995 790 783.5 798 760 790 C736.5 782 757.6 717.3 760 709.5 Z" fill="#78b9fa"/><path d="M760 713 C762.4 705.6 780.7 715 784 715.7 C787.3 716.4 791 719.2 793.4 720.4 C795.8 721.6 804.2 726.9 807.5 727.4 C810.8 727.9 822.2 725.9 826 725 C829.8 724.1 842.2 719.2 845 718 C847.8 716.8 851.1 713.8 854.4 713.3 C857.7 712.8 873.3 712.9 878 713.3 C882.7 713.6 896.7 716.1 901.4 716.8 C906.1 717.5 920.3 719.8 925 720.4 C929.7 721 943.7 722 948.4 722.7 C953.1 723.4 967.1 726.7 971.8 727.4 C976.5 728.1 995 729.7 995 729.7 L995 790 C995 790 783.5 797.7 760 790 C736.5 782.3 757.6 720.4 760 713 Z" fill="#3c96f5"/><path d="M760 716 C762.4 708.9 780.7 718 784 718.7 C787.3 719.4 791 722.2 793.4 723.4 C795.8 724.6 804.2 729.9 807.5 730.4 C810.8 730.9 822.2 728.9 826 728 C829.8 727.1 842.2 722.2 845 721 C847.8 719.8 851.1 716.8 854.4 716.3 C857.7 715.8 873.3 715.9 878 716.3 C882.7 716.6 896.7 719.1 901.4 719.8 C906.1 720.5 920.3 722.8 925 723.4 C929.7 724 943.7 725 948.4 725.7 C953.1 726.4 967.1 729.7 971.8 730.4 C976.5 731.1 995 732.7 995 732.7 L995 790 C995 790 783.5 797.4 760 790 C736.5 782.6 757.6 723.1 760 716 Z" fill="#1e6eeb"/><path d="M850 690 C855 691.3 870 695.3 880 698 C890 700.7 900 704 910 706 C920 708 935 709.3 940 710" fill="none" stroke="#96d2fa" stroke-width="6"/><path d="M870 676 C875 677.3 891.7 681.7 900 684 C908.3 686.3 916.7 689 920 690" fill="none" stroke="#96d2fa" stroke-width="4"/><path d="M880 712 L910 716" fill="none" stroke="#96d2fa" stroke-width="5"/><path d="M809.8 513.5 C810.4 512.3 814.9 511 817 511 C819.1 511 828 513.4 831 513.5 C834 513.6 845.1 511.7 847.4 512.4 C849.7 513.1 852.8 519.1 854.4 520.6 C856 522.1 862.4 526 863.8 527.6 C865.2 529.2 869.4 536.3 868.5 537 C867.6 537.7 857.2 535.2 854.4 534.7 C851.6 534.2 843.2 532.3 840.4 532.3 C837.6 532.3 828.6 534.9 826 534.7 C823.4 534.5 816 531.2 814.5 530 C813 528.8 811.5 524.6 811 523 C810.5 521.4 809.2 514.7 809.8 513.5 Z" fill="#828282"/><path d="M784 490 C784.7 489.4 788.2 490.3 788.7 491 C789.2 491.7 789.4 496.4 788.7 497 C788 497.6 782.5 497.7 782 497 C781.5 496.3 783.3 490.6 784 490 Z" fill="#828282"/><path d="M917.8 694 C918.9 693.2 931.7 692.5 934 691.8 C936.3 691.1 939.6 686.8 941 687 C942.4 687.2 946.2 693.5 948.4 694 C950.5 694.5 960.2 690.8 962.5 691.8 C964.8 692.8 969.7 702.1 971.8 703.5 C973.9 704.9 981.3 706.1 983.6 705.9 C985.9 705.6 995 701 995 701 L995 717.6 C995 717.6 979.8 714 976.5 713 C973.2 712 965.3 708.7 962.5 708 C959.7 707.3 951.2 706.6 948.4 705.9 C945.5 705.2 936.6 701.6 934 701 C931.4 700.4 924.1 700.7 922.5 700 C920.9 699.3 916.6 694.8 917.8 694 Z" fill="#828282"/><path d="M885 684.7 C885.6 684.2 891.4 683.3 892 683.6 C892.6 683.9 891.6 687.5 891 688 C890.4 688.5 886.6 688.8 886 688.5 C885.4 688.2 884.4 685.2 885 684.7 Z" fill="#828282"/><path d="M896.7 691.8 C897.9 691.6 909.2 691.4 910.8 691.8 C912.4 692.1 914.2 695.1 913 695.3 C911.8 695.5 900.6 694.4 899 694 C897.4 693.6 895.5 692 896.7 691.8 Z" fill="#828282"/><path d="M812 687 C813 686.1 819.7 684.2 821.6 684.7 C823.5 685.2 829.8 690.2 831 691.8 C832.2 693.4 833.8 699.8 833.3 701 C832.8 702.2 827.6 703.7 826 703.5 C824.4 703.3 818.4 699.8 817 698.8 C815.6 697.8 812.5 695.2 812 694 C811.5 692.8 811 687.9 812 687 Z" fill="#828282"/><path d="M776 701 C778.2 699.6 794.9 698.8 798 698.8 C801.1 698.8 806.1 699.8 807.5 701 C808.9 702.2 812.5 708.9 812 710.6 C811.5 712.3 804.4 716.7 802.8 717.6 C801.2 718.5 797.6 720 795.7 720 C793.8 720 786 718.3 784 717.6 C782 716.9 776.8 714.7 776 713 C775.2 711.3 773.8 702.4 776 701 Z" fill="#828282"/><path d="M840.4 656.6 C841.6 655.9 844.5 657.6 845 659 C845.5 660.4 845.7 668.8 845 670.7 C844.3 672.6 839.4 677.2 838 677.7 C836.6 678.2 831.5 676.6 831 675.4 C830.5 674.2 832.4 667.9 833.3 666 C834.2 664.1 839.2 657.3 840.4 656.6 Z" fill="#828282"/><path d="M765.5 490 C766.5 488.6 773 485.6 775 485.4 C777 485.2 784 486.3 785 487.7 C786 489.1 785.5 498 785 499.4 C784.5 500.8 780.9 500.6 779.6 501.8 C778.4 503 773.7 509.4 772.5 511 C771.3 512.6 768.8 517.8 767.8 518 C766.8 518.2 763.2 515.4 763 513.5 C762.8 511.6 765.2 501.8 765.5 499.4 C765.8 497 764.5 491.4 765.5 490 Z" fill="#828282"/><path d="M836 518 C837.3 516.8 846.7 518.3 850 520 C853.3 521.7 857.3 526.8 856 528 C854.7 529.2 845.3 528.7 842 527 C838.7 525.3 834.7 519.2 836 518 Z" fill="#969696"/><path d="M958 696 C960 695.7 966.7 698.3 968 700 C969.3 701.7 968 705.7 966 706 C964 706.3 957.3 703.7 956 702 C954.7 700.3 956 696.3 958 696 Z" fill="#aaaaaa"/><path d="M370 502 C370 502 396 505.8 401.5 506.5 C407 507.2 421.7 509.3 425 508.8 C428.3 508.3 432.3 502.4 434.4 501.8 C436.5 501.2 443.9 502.1 446 503 C448.1 503.9 453.6 509 455.5 511 C457.4 513 462.6 521.2 465 523 C467.4 524.8 476 528.2 479 528.8 C482 529.4 492.3 529.4 495.4 528.8 C498.4 528.2 506.9 523.9 509.5 523 C512.1 522.1 519 519.7 521 519.4 C523 519.1 527.9 518.9 529 520 C530.1 521.1 531.9 526.8 532 530 C532.1 533.2 529.2 548.8 530 552 C530.8 555.2 538.5 559.5 540 562 C541.5 564.5 543.6 573.7 545 577 C546.4 580.3 551.9 591.3 554 595 C556.1 598.7 563.9 610.3 566 614 C568.1 617.7 572.6 629.2 575 632 C577.4 634.8 587.5 639.2 590 642 C592.5 644.8 598.8 654.2 600 660 C601.2 665.8 602.2 692 602 700 C601.8 708 599.2 733 598 740 C596.8 747 591.5 765 590 770 C588.5 775 584.5 787 583 790 C581.5 793 576.7 799.4 575 800 C573.3 800.6 568.6 797 565.8 796.3 C563 795.6 550.8 793.9 547 792.8 C543.2 791.7 531.8 786.9 528.3 785.7 C524.8 784.5 514.6 782.6 511.8 781 C509 779.4 502.3 771.6 500 769.3 C497.7 766.9 490 759.9 488.4 757.5 C486.8 755.1 485.3 747.9 483.7 745.8 C482.1 743.7 474.6 738 472 736.4 C469.4 734.8 459.2 731 457.8 729.4 C456.4 727.8 458.5 721.9 457.8 720 C457.1 718.1 452.7 712.7 450.8 710.6 C448.9 708.5 441.6 701.2 439 698.8 C436.4 696.4 427.1 689.6 425 687 C422.9 684.4 418.9 675.6 418 673 C417.1 670.4 414 662.9 415.6 661.3 C417.2 659.7 431.4 657.5 434.4 656.6 C437.4 655.7 443.9 652.9 446 651.9 C448.1 650.9 451.7 647.7 455.5 647 C459.3 646.3 478.3 645.2 483.7 644.8 C489.1 644.3 505 643 509.5 642.5 C514 642 526.9 641 528.3 640 C529.7 639 525.5 635.1 523.6 633 C521.7 630.9 511.4 620.6 509.5 619 C507.6 617.4 506.2 618 504.8 616.8 C503.4 615.6 497.5 609.3 495.4 607.4 C493.3 605.5 486 599.6 483.7 598 C481.4 596.4 474.8 591.9 472 591 C469.2 590.1 458.3 589.6 455.5 588.7 C452.7 587.8 445.6 583.3 443.7 581.6 C441.8 579.9 437.2 573.7 436.7 572 C436.2 570.3 439.2 566.9 439 565 C438.8 563.1 436 555.9 434.4 553.4 C432.8 550.9 425.2 541.7 422.6 540.5 C420 539.3 410.6 540.7 408.5 541.7 C406.4 542.8 403.4 550.1 401.5 551 C399.6 551.9 391.8 551.7 389.7 551 C387.6 550.3 382 545.1 380 544 C378 542.9 370 540 370 540 L370 502 Z" fill="#828282"/><path d="M370 506 C370 506 396 509.4 401.5 510 C407 510.6 421.6 512.4 425 512 C428.4 511.6 433.9 506.5 436 506 C438.1 505.5 444.3 506.2 446 507 C447.7 507.8 451.4 512.1 453 514 C454.6 515.9 459.4 524.1 462 526 C464.6 527.9 475.6 531.9 479 532.5 C482.4 533.1 492.9 533 496 532.5 C499.1 532 507.5 528 510 527 C512.5 526 519.3 523.3 521 523 C522.7 522.7 526.3 523.1 527 524 C527.7 524.9 528.1 529.2 528 532 C527.9 534.8 525.2 548.8 526 552 C526.8 555.2 534.5 561.4 536 564 C537.5 566.6 539.6 574.8 541 578 C542.4 581.2 547.9 592.3 550 596 C552.1 599.7 559.9 611.3 562 615 C564.1 618.7 568.6 630 571 633 C573.4 636 583.5 642.1 586 645 C588.5 647.9 594.8 656.5 596 662 C597.2 667.5 598.2 692.2 598 700 C597.8 707.8 595.2 733 594 740 C592.8 747 587.5 765.2 586 770 C584.5 774.8 580.4 785.6 579 788 C577.6 790.4 573.4 793.6 572 794 C570.6 794.4 567.5 792.5 565 792 C562.5 791.5 550.5 789.5 547 788.5 C543.5 787.5 532.8 782.6 529.5 781.5 C526.2 780.4 516.6 778.5 514 777 C511.4 775.5 505.7 768.7 503.5 766.5 C501.3 764.3 494 757.3 492.4 755 C490.8 752.7 489.4 745.6 487.7 743.5 C486 741.4 477.6 735.1 475 733.5 C472.4 731.9 463.3 728.5 462 727 C460.7 725.5 462.8 720.4 462 718.5 C461.2 716.6 456 710.2 454 708 C452 705.8 444.6 698.4 442 696 C439.4 693.6 430.5 686.9 428.5 684.5 C426.5 682.1 422.9 674 422 672 C421.1 670 418.6 665.6 420 664.5 C421.4 663.4 433.2 661.4 436 660.5 C438.8 659.6 445.4 656.8 447.5 655.8 C449.6 654.8 452.9 651.7 456.5 651 C460.1 650.3 478.6 649.2 484 648.8 C489.4 648.3 505.1 647 510 646.5 C514.9 646 531.2 645 533 643.5 C534.8 642 529.9 634.4 528 632 C526.1 629.6 516.7 621.8 514 620 C511.3 618.2 503.2 615.5 501 614 C498.8 612.5 494 606.4 492 604.5 C490 602.6 483.2 596.6 481 595 C478.8 593.4 472.7 589 470 588 C467.3 587 456.9 586 454 585 C451.1 584 443.1 579.4 441 578 C438.9 576.6 433.6 572.3 433 571 C432.4 569.7 435.3 566.6 435 565 C434.7 563.4 431.4 557 430 555 C428.6 553 422.9 545.5 421 544.5 C419.1 543.5 412.8 544.5 411 545.5 C409.2 546.5 405.8 554 403.5 555 C401.2 556 390.4 555.7 388 555 C385.6 554.3 380.8 549 379 548 C377.2 547 370 545 370 545 L370 506 Z" fill="#969696"/><path d="M380 512 C381.6 510.7 397 514 401.5 514 C406 514 421.4 512.6 425 512 C428.6 511.4 434.7 508.3 437 508 C439.3 507.7 446.6 508 448.4 509 C450.2 510 453.6 515.9 455 518 C456.4 520.1 459.5 528.2 462 530 C464.5 531.8 476.5 535.4 480 536 C483.5 536.6 493.9 536.5 497 536 C500.1 535.5 508.7 531.9 511 531 C513.3 530.1 518.7 526.7 520 527 C521.3 527.3 523.8 531.5 524 534 C524.2 536.5 521.3 548.8 522 552 C522.7 555.2 529.5 563.2 531 566 C532.5 568.8 535.5 576.8 537 580 C538.5 583.2 543.9 594.3 546 598 C548.1 601.7 556 613.5 558 617 C560 620.5 565.8 631.1 566 633 C566.2 634.9 562.1 637.1 560 636 C557.9 634.9 548 625 545 622 C542 619 533.3 608.8 530 606 C526.7 603.2 515.5 596.4 512 594 C508.5 591.6 497.6 584.8 495 582 C492.4 579.2 486.8 569.2 486 566 C485.2 562.8 487.6 552.2 487 550 C486.4 547.8 482.5 545 480 544 C477.5 543 465.2 541 462 540 C458.8 539 451 534.4 448 534 C445 533.6 435.5 536.3 432 536 C428.5 535.7 416.5 531.8 413 531 C409.5 530.2 399.8 528.9 397 528.5 C394.2 528.1 386.7 528.6 385 527 C383.3 525.4 378.4 513.3 380 512 Z" fill="#aaaaaa"/><path d="M386 516 C387.9 515.1 402.1 515.8 406 515.5 C409.9 515.2 421.9 514.1 425 513.5 C428.1 512.9 434.7 509.4 437 509 C439.3 508.6 446.3 509.1 448 510 C449.7 510.9 454.1 516.4 454 518 C453.9 519.6 449.4 524.5 447 526 C444.6 527.5 433.4 533.2 430 533.5 C426.6 533.8 416.3 529.7 413 529 C409.7 528.3 399.6 527 397 526.5 C394.4 526 388.1 525.5 387 524.5 C385.9 523.5 384.1 516.9 386 516 Z" fill="#bebebe"/><path d="M389.7 518 C391.4 517.4 402.5 517.3 406 517 C409.5 516.7 421.9 515.4 425 514.7 C428.1 514 434.4 510.4 436.7 510 C439 509.6 446.8 510.2 448.4 511 C450 511.8 453.2 516.6 453 518 C452.8 519.4 448.3 523.6 446 525 C443.7 526.4 433 531.7 429.7 532 C426.4 532.3 416.3 528.3 413 527.6 C409.7 526.9 399.2 525.5 396.8 525 C394.4 524.5 389.3 523.7 388.6 523 C387.9 522.3 388 518.6 389.7 518 Z" fill="#ffffff"/><path d="M387 534.5 C387.8 534 391.2 534.3 392 535 C392.8 535.7 392.8 538 392 538.5 C391.2 539 388.3 538.7 387.5 538 C386.7 537.3 386.2 535 387 534.5 Z" fill="#ffffff"/><path d="M521 523 C519.5 522.6 516.1 526.4 514 527.6 C511.9 528.8 502.1 532.4 500 534.7 C497.9 537 493.9 548 493 551 C492.1 554 490.5 562.6 490.7 565 C490.9 567.4 493.5 572.9 495.4 574.6 C497.3 576.3 506.7 580 509.5 581.6 C512.3 583.2 521.2 588.9 523.6 591 C526 593.1 531.1 600 533 602.8 C534.9 605.6 540.5 616.1 542.4 619 C544.3 621.9 549.6 629.9 552 632 C554.4 634.1 562.9 638.8 566 640 C569.1 641.2 580.6 644 583 644 C585.4 644 590.8 641.4 590 640 C589.2 638.6 577.8 632.8 575 630 C572.2 627.2 564.3 615.7 562 612 C559.7 608.3 554 597.1 552 593.4 C550 589.7 543.5 577.9 542 574.6 C540.5 571.3 538.4 562.9 537 560.5 C535.6 558.1 528.8 553.9 528 551 C527.2 548.1 529.7 534.8 529 532 C528.3 529.2 522.5 523.4 521 523 Z" fill="#aaaaaa" stroke="#aaaaaa" stroke-width="16"/><path d="M521 523 C519.5 522.6 516.1 526.4 514 527.6 C511.9 528.8 502.1 532.4 500 534.7 C497.9 537 493.9 548 493 551 C492.1 554 490.5 562.6 490.7 565 C490.9 567.4 493.5 572.9 495.4 574.6 C497.3 576.3 506.7 580 509.5 581.6 C512.3 583.2 521.2 588.9 523.6 591 C526 593.1 531.1 600 533 602.8 C534.9 605.6 540.5 616.1 542.4 619 C544.3 621.9 549.6 629.9 552 632 C554.4 634.1 562.9 638.8 566 640 C569.1 641.2 580.6 644 583 644 C585.4 644 590.8 641.4 590 640 C589.2 638.6 577.8 632.8 575 630 C572.2 627.2 564.3 615.7 562 612 C559.7 608.3 554 597.1 552 593.4 C550 589.7 543.5 577.9 542 574.6 C540.5 571.3 538.4 562.9 537 560.5 C535.6 558.1 528.8 553.9 528 551 C527.2 548.1 529.7 534.8 529 532 C528.3 529.2 522.5 523.4 521 523 Z" fill="#bebebe" stroke="#bebebe" stroke-width="7"/><path d="M521 523 C519.5 522.6 516.1 526.4 514 527.6 C511.9 528.8 502.1 532.4 500 534.7 C497.9 537 493.9 548 493 551 C492.1 554 490.5 562.6 490.7 565 C490.9 567.4 493.5 572.9 495.4 574.6 C497.3 576.3 506.7 580 509.5 581.6 C512.3 583.2 521.2 588.9 523.6 591 C526 593.1 531.1 600 533 602.8 C534.9 605.6 540.5 616.1 542.4 619 C544.3 621.9 549.6 629.9 552 632 C554.4 634.1 562.9 638.8 566 640 C569.1 641.2 580.6 644 583 644 C585.4 644 590.8 641.4 590 640 C589.2 638.6 577.8 632.8 575 630 C572.2 627.2 564.3 615.7 562 612 C559.7 608.3 554 597.1 552 593.4 C550 589.7 543.5 577.9 542 574.6 C540.5 571.3 538.4 562.9 537 560.5 C535.6 558.1 528.8 553.9 528 551 C527.2 548.1 529.7 534.8 529 532 C528.3 529.2 522.5 523.4 521 523 Z" fill="#ffffff"/><path d="M466 664 C467.4 660.6 473.6 655.2 478 654 C482.4 652.8 503.3 651.7 509.5 652 C515.7 652.3 535 655.5 540 657 C545 658.5 556.6 664.5 560 667 C563.4 669.5 571.2 678.7 574 682 C576.8 685.3 586.4 691.2 588 700 C589.6 708.8 591.6 761.7 590 770 C588.4 778.3 576.2 782 572 783 C567.8 784 552 781.4 548 780 C544 778.6 534.2 771.8 532 769 C529.8 766.2 527.3 755.1 526 752 C524.7 748.9 520.4 740.5 519 738 C517.6 735.5 513.9 729 512 727 C510.1 725 502.8 719.8 500 718 C497.2 716.2 487 710.9 484 709 C481 707.1 472 701.1 470 699 C468 696.9 464.4 691.5 464 688 C463.6 684.5 464.6 667.4 466 664 Z" fill="#aaaaaa"/><path d="M470 664 C471.1 660.8 477.1 656.5 481 655.5 C484.9 654.5 503.7 654.1 509.5 654.5 C515.3 654.9 534.1 658 539 659.5 C543.9 661 554.7 667 558 669.5 C561.3 672 569.2 680.9 572 684 C574.8 687.1 584.4 692.2 586 701 C587.6 709.8 589.8 764.1 588 772 C586.2 779.9 571.9 779.5 568 780 C564.1 780.5 552.1 777.8 549 776.5 C545.9 775.2 538.6 769.5 537 767 C535.4 764.5 534.1 754 533 751 C531.9 748 527.4 739.5 526 737 C524.6 734.5 520.9 727.6 519 725.5 C517.1 723.4 509.8 717.9 507 716 C504.2 714.1 494 708.9 491 707 C488 705.1 479.1 699.5 477 697.5 C474.9 695.5 470.7 690.9 470 687.5 C469.3 684.1 468.9 667.2 470 664 Z" fill="#bebebe"/><path d="M474.3 663.6 C475.4 661.7 480.2 657.3 483.7 656.6 C487.2 655.9 504.1 656.1 509.5 656.6 C514.9 657.1 533 659.9 537.7 661.3 C542.4 662.7 553.2 668.4 556.5 670.7 C559.8 673 567.9 681.8 570.5 684.7 C573.1 687.6 580.5 697.4 583 700 C585.5 702.6 593.3 707 595 711 C596.7 715 599.8 733.9 600 740 C600.2 746.1 598.2 767.8 597 772 C595.8 776.2 591.1 781.3 588 782 C584.9 782.7 569.7 779.5 565.8 778.7 C561.9 777.9 552 775.4 549.4 774 C546.8 772.6 541.2 767 540 764.6 C538.8 762.2 538.6 753.3 537.7 750.5 C536.8 747.7 532 739 530.6 736.4 C529.2 733.8 525.5 726.8 523.6 724.7 C521.7 722.6 514.6 717.2 511.8 715.3 C509 713.4 498.4 707.8 495.4 705.9 C492.3 704 483.4 698.4 481.3 696.5 C479.2 694.6 475.1 689.1 474.3 687 C473.5 684.9 473 677.7 473 675.4 C473 673.1 473.2 665.5 474.3 663.6 Z" fill="#aaaaaa" stroke="#aaaaaa" stroke-width="24"/><path d="M474.3 663.6 C475.4 661.7 480.2 657.3 483.7 656.6 C487.2 655.9 504.1 656.1 509.5 656.6 C514.9 657.1 533 659.9 537.7 661.3 C542.4 662.7 553.2 668.4 556.5 670.7 C559.8 673 567.9 681.8 570.5 684.7 C573.1 687.6 580.5 697.4 583 700 C585.5 702.6 593.3 707 595 711 C596.7 715 599.8 733.9 600 740 C600.2 746.1 598.2 767.8 597 772 C595.8 776.2 591.1 781.3 588 782 C584.9 782.7 569.7 779.5 565.8 778.7 C561.9 777.9 552 775.4 549.4 774 C546.8 772.6 541.2 767 540 764.6 C538.8 762.2 538.6 753.3 537.7 750.5 C536.8 747.7 532 739 530.6 736.4 C529.2 733.8 525.5 726.8 523.6 724.7 C521.7 722.6 514.6 717.2 511.8 715.3 C509 713.4 498.4 707.8 495.4 705.9 C492.3 704 483.4 698.4 481.3 696.5 C479.2 694.6 475.1 689.1 474.3 687 C473.5 684.9 473 677.7 473 675.4 C473 673.1 473.2 665.5 474.3 663.6 Z" fill="#bebebe" stroke="#bebebe" stroke-width="12"/><path d="M474.3 663.6 C475.4 661.7 480.2 657.3 483.7 656.6 C487.2 655.9 504.1 656.1 509.5 656.6 C514.9 657.1 533 659.9 537.7 661.3 C542.4 662.7 553.2 668.4 556.5 670.7 C559.8 673 567.9 681.8 570.5 684.7 C573.1 687.6 580.5 697.4 583 700 C585.5 702.6 593.3 707 595 711 C596.7 715 599.8 733.9 600 740 C600.2 746.1 598.2 767.8 597 772 C595.8 776.2 591.1 781.3 588 782 C584.9 782.7 569.7 779.5 565.8 778.7 C561.9 777.9 552 775.4 549.4 774 C546.8 772.6 541.2 767 540 764.6 C538.8 762.2 538.6 753.3 537.7 750.5 C536.8 747.7 532 739 530.6 736.4 C529.2 733.8 525.5 726.8 523.6 724.7 C521.7 722.6 514.6 717.2 511.8 715.3 C509 713.4 498.4 707.8 495.4 705.9 C492.3 704 483.4 698.4 481.3 696.5 C479.2 694.6 475.1 689.1 474.3 687 C473.5 684.9 473 677.7 473 675.4 C473 673.1 473.2 665.5 474.3 663.6 Z" fill="#ffffff"/><path d="M524 617 C525.7 615.7 540.8 615.4 545 617 C549.2 618.6 562.5 630.2 566 633 C569.5 635.8 577.4 642.3 580 645 C582.6 647.7 590.2 656.5 592 660 C593.8 663.5 597.4 676 598 680 C598.6 684 598.8 699 598 700 C597.2 701 591.8 693 590 690 C588.2 687 582.4 673.6 580 670 C577.6 666.4 569 656.4 566 654 C563 651.6 553.1 647.4 550 646 C546.9 644.6 537.2 641.6 535 640 C532.8 638.4 529.1 632.3 528 630 C526.9 627.7 522.3 618.3 524 617 Z" fill="#aaaaaa"/><path d="M536 622 C537.2 621.4 548.8 624.2 552 626 C555.2 627.8 565 637.2 568 640 C571 642.8 579.8 651.2 582 654 C584.2 656.8 590 667 590 668 C590 669 584.2 665.8 582 664 C579.8 662.2 571 652.4 568 650 C565 647.6 554.8 641.8 552 640 C549.2 638.2 541.6 633.8 540 632 C538.4 630.2 534.8 622.6 536 622 Z" fill="#bebebe"/><path d="M556 652 C557 651.3 563.7 654.3 566 656 C568.3 657.7 571 661.3 570 662 C569 662.7 562.3 661.7 560 660 C557.7 658.3 555 652.7 556 652 Z" fill="#828282"/><path d="M580 652 C581.7 649.3 587 652.7 590 656 C593 659.3 596.3 664.7 598 672 C599.7 679.3 600.7 694.3 600 700 C599.3 705.7 596.3 707.3 594 706 C591.7 704.7 588.3 697.7 586 692 C583.7 686.3 581 678.7 580 672 C579 665.3 578.3 654.7 580 652 Z" fill="#aaaaaa" stroke="#aaaaaa" stroke-width="4"/><path d="M580 652 C581.7 649.3 587 652.7 590 656 C593 659.3 596.3 664.7 598 672 C599.7 679.3 600.7 694.3 600 700 C599.3 705.7 596.3 707.3 594 706 C591.7 704.7 588.3 697.7 586 692 C583.7 686.3 581 678.7 580 672 C579 665.3 578.3 654.7 580 652 Z" fill="#bebebe"/><path d="M596 664 C596.8 660 601 669.3 602 676 C603 682.7 602.8 700 602 704 C601.2 708 598 706.7 597 700 C596 693.3 595.2 668 596 664 Z" fill="#ffffff"/><path d="M681 527.6 C683.8 526.5 694.4 527.9 697.4 527.6 C700.4 527.3 707.7 525.5 711.5 525 C715.3 524.5 731.7 522.7 735 523 C738.3 523.3 742 526.7 744.4 527.6 C746.8 528.5 755.4 532 758.5 532 C761.6 532 771.9 528.2 775 527.6 C778.1 527 787.5 525.2 790 526 C792.5 526.8 797 534.8 800 536 C803 537.2 816 537 820 538 C824 539 836.4 544.4 840 546 C843.6 547.6 853.6 552.7 856 554 C858.4 555.3 863.5 556.9 864 559 C864.5 561.1 862.5 572.1 861.5 574.6 C860.5 577.1 855.8 582.1 854.4 584 C853 585.9 849.7 592.2 847.4 593.4 C845.1 594.6 833.6 594.5 831 595.7 C828.4 596.9 822.8 602.9 821.6 605 C820.4 607.1 819 614.5 819 617 C819 619.5 821.1 626.7 822 630 C822.9 633.3 827.6 646.6 828 650 C828.4 653.4 826.8 661.4 826 664 C825.2 666.6 822 674 820 676 C818 678 809 682.6 806 684 C803 685.4 793 688.7 790 690 C787 691.3 778.2 695.6 776 697 C773.8 698.4 769.6 701.5 768 704 C766.4 706.5 761.8 718.6 760 722 C758.2 725.4 752 735.2 750 738 C748 740.8 741.4 747.6 740 750 C738.6 752.4 737 759.5 736 762 C735 764.5 731.8 772.2 730 775 C728.2 777.8 721 787.5 718 790 C715 792.5 702.8 797.5 700 800 C697.2 802.5 690 815 690 815 L575 815 C575 815 583.3 794.5 585 790 C586.7 785.5 590.7 775 592 770 C593.3 765 597 747 598 740 C599 733 601.8 707.6 602 700 C602.2 692.4 599.8 668.8 600 664 C600.2 659.2 602.8 651.4 604 652 C605.2 652.6 609.9 667.2 612 670 C614.1 672.8 622.2 679.8 625 680 C627.8 680.2 637 673.2 640 672 C643 670.8 651.8 668.6 655 668 C658.2 667.4 669.1 665.6 672 666 C674.9 666.4 681.8 669.6 684 672 C686.2 674.4 692 686.7 694 690 C696 693.3 703.4 702.8 704 705 C704.6 707.2 701.9 711.3 700 712 C698.1 712.7 687 711 685 712 C683 713 679.5 720.2 680 722 C680.5 723.8 686.8 728.4 690 730 C693.2 731.6 708.4 736.6 712 738 C715.6 739.4 723.4 743.6 726 744 C728.6 744.4 735.8 743.6 738 742 C740.2 740.4 748 730.6 748 728 C748 725.4 740.6 718.2 738 716 C735.4 713.8 725 708.6 722 706 C719 703.4 710.6 693 708 690 C705.4 687 698.4 678.6 696 676 C693.6 673.4 686 666.6 684 664 C682 661.4 677.6 652.8 676 650 C674.4 647.2 669.6 638.8 668 636 C666.4 633.2 659.2 624.4 660 622 C660.8 619.6 675.3 613.9 676 612 C676.7 610.1 668.9 604.7 667 602.8 C665.1 600.9 659.2 595.3 657.5 593.4 C655.8 591.5 650.4 585.4 650.4 584 C650.4 582.6 656.6 580.4 657.5 579 C658.4 577.6 658.4 571.9 659.8 570 C661.2 568.1 670 562.4 671.6 560.5 C673.2 558.6 676.3 553.1 676 551 C675.7 548.9 668.5 541.3 669 539 C669.5 536.7 678.2 528.7 681 527.6 Z" fill="#828282" stroke="#828282" stroke-width="12.8"/><path d="M681 527.6 C683.8 526.5 694.4 527.9 697.4 527.6 C700.4 527.3 707.7 525.5 711.5 525 C715.3 524.5 731.7 522.7 735 523 C738.3 523.3 742 526.7 744.4 527.6 C746.8 528.5 755.4 532 758.5 532 C761.6 532 771.9 528.2 775 527.6 C778.1 527 787.5 525.2 790 526 C792.5 526.8 797 534.8 800 536 C803 537.2 816 537 820 538 C824 539 836.4 544.4 840 546 C843.6 547.6 853.6 552.7 856 554 C858.4 555.3 863.5 556.9 864 559 C864.5 561.1 862.5 572.1 861.5 574.6 C860.5 577.1 855.8 582.1 854.4 584 C853 585.9 849.7 592.2 847.4 593.4 C845.1 594.6 833.6 594.5 831 595.7 C828.4 596.9 822.8 602.9 821.6 605 C820.4 607.1 819 614.5 819 617 C819 619.5 821.1 626.7 822 630 C822.9 633.3 827.6 646.6 828 650 C828.4 653.4 826.8 661.4 826 664 C825.2 666.6 822 674 820 676 C818 678 809 682.6 806 684 C803 685.4 793 688.7 790 690 C787 691.3 778.2 695.6 776 697 C773.8 698.4 769.6 701.5 768 704 C766.4 706.5 761.8 718.6 760 722 C758.2 725.4 752 735.2 750 738 C748 740.8 741.4 747.6 740 750 C738.6 752.4 737 759.5 736 762 C735 764.5 731.8 772.2 730 775 C728.2 777.8 721 787.5 718 790 C715 792.5 702.8 797.5 700 800 C697.2 802.5 690 815 690 815 L575 815 C575 815 583.3 794.5 585 790 C586.7 785.5 590.7 775 592 770 C593.3 765 597 747 598 740 C599 733 601.8 707.6 602 700 C602.2 692.4 599.8 668.8 600 664 C600.2 659.2 602.8 651.4 604 652 C605.2 652.6 609.9 667.2 612 670 C614.1 672.8 622.2 679.8 625 680 C627.8 680.2 637 673.2 640 672 C643 670.8 651.8 668.6 655 668 C658.2 667.4 669.1 665.6 672 666 C674.9 666.4 681.8 669.6 684 672 C686.2 674.4 692 686.7 694 690 C696 693.3 703.4 702.8 704 705 C704.6 707.2 701.9 711.3 700 712 C698.1 712.7 687 711 685 712 C683 713 679.5 720.2 680 722 C680.5 723.8 686.8 728.4 690 730 C693.2 731.6 708.4 736.6 712 738 C715.6 739.4 723.4 743.6 726 744 C728.6 744.4 735.8 743.6 738 742 C740.2 740.4 748 730.6 748 728 C748 725.4 740.6 718.2 738 716 C735.4 713.8 725 708.6 722 706 C719 703.4 710.6 693 708 690 C705.4 687 698.4 678.6 696 676 C693.6 673.4 686 666.6 684 664 C682 661.4 677.6 652.8 676 650 C674.4 647.2 669.6 638.8 668 636 C666.4 633.2 659.2 624.4 660 622 C660.8 619.6 675.3 613.9 676 612 C676.7 610.1 668.9 604.7 667 602.8 C665.1 600.9 659.2 595.3 657.5 593.4 C655.8 591.5 650.4 585.4 650.4 584 C650.4 582.6 656.6 580.4 657.5 579 C658.4 577.6 658.4 571.9 659.8 570 C661.2 568.1 670 562.4 671.6 560.5 C673.2 558.6 676.3 553.1 676 551 C675.7 548.9 668.5 541.3 669 539 C669.5 536.7 678.2 528.7 681 527.6 Z" fill="#969696" stroke="#969696" stroke-width="9.6"/><path d="M681 527.6 C683.8 526.5 694.4 527.9 697.4 527.6 C700.4 527.3 707.7 525.5 711.5 525 C715.3 524.5 731.7 522.7 735 523 C738.3 523.3 742 526.7 744.4 527.6 C746.8 528.5 755.4 532 758.5 532 C761.6 532 771.9 528.2 775 527.6 C778.1 527 787.5 525.2 790 526 C792.5 526.8 797 534.8 800 536 C803 537.2 816 537 820 538 C824 539 836.4 544.4 840 546 C843.6 547.6 853.6 552.7 856 554 C858.4 555.3 863.5 556.9 864 559 C864.5 561.1 862.5 572.1 861.5 574.6 C860.5 577.1 855.8 582.1 854.4 584 C853 585.9 849.7 592.2 847.4 593.4 C845.1 594.6 833.6 594.5 831 595.7 C828.4 596.9 822.8 602.9 821.6 605 C820.4 607.1 819 614.5 819 617 C819 619.5 821.1 626.7 822 630 C822.9 633.3 827.6 646.6 828 650 C828.4 653.4 826.8 661.4 826 664 C825.2 666.6 822 674 820 676 C818 678 809 682.6 806 684 C803 685.4 793 688.7 790 690 C787 691.3 778.2 695.6 776 697 C773.8 698.4 769.6 701.5 768 704 C766.4 706.5 761.8 718.6 760 722 C758.2 725.4 752 735.2 750 738 C748 740.8 741.4 747.6 740 750 C738.6 752.4 737 759.5 736 762 C735 764.5 731.8 772.2 730 775 C728.2 777.8 721 787.5 718 790 C715 792.5 702.8 797.5 700 800 C697.2 802.5 690 815 690 815 L575 815 C575 815 583.3 794.5 585 790 C586.7 785.5 590.7 775 592 770 C593.3 765 597 747 598 740 C599 733 601.8 707.6 602 700 C602.2 692.4 599.8 668.8 600 664 C600.2 659.2 602.8 651.4 604 652 C605.2 652.6 609.9 667.2 612 670 C614.1 672.8 622.2 679.8 625 680 C627.8 680.2 637 673.2 640 672 C643 670.8 651.8 668.6 655 668 C658.2 667.4 669.1 665.6 672 666 C674.9 666.4 681.8 669.6 684 672 C686.2 674.4 692 686.7 694 690 C696 693.3 703.4 702.8 704 705 C704.6 707.2 701.9 711.3 700 712 C698.1 712.7 687 711 685 712 C683 713 679.5 720.2 680 722 C680.5 723.8 686.8 728.4 690 730 C693.2 731.6 708.4 736.6 712 738 C715.6 739.4 723.4 743.6 726 744 C728.6 744.4 735.8 743.6 738 742 C740.2 740.4 748 730.6 748 728 C748 725.4 740.6 718.2 738 716 C735.4 713.8 725 708.6 722 706 C719 703.4 710.6 693 708 690 C705.4 687 698.4 678.6 696 676 C693.6 673.4 686 666.6 684 664 C682 661.4 677.6 652.8 676 650 C674.4 647.2 669.6 638.8 668 636 C666.4 633.2 659.2 624.4 660 622 C660.8 619.6 675.3 613.9 676 612 C676.7 610.1 668.9 604.7 667 602.8 C665.1 600.9 659.2 595.3 657.5 593.4 C655.8 591.5 650.4 585.4 650.4 584 C650.4 582.6 656.6 580.4 657.5 579 C658.4 577.6 658.4 571.9 659.8 570 C661.2 568.1 670 562.4 671.6 560.5 C673.2 558.6 676.3 553.1 676 551 C675.7 548.9 668.5 541.3 669 539 C669.5 536.7 678.2 528.7 681 527.6 Z" fill="#aaaaaa" stroke="#aaaaaa" stroke-width="6.4"/><path d="M681 527.6 C683.8 526.5 694.4 527.9 697.4 527.6 C700.4 527.3 707.7 525.5 711.5 525 C715.3 524.5 731.7 522.7 735 523 C738.3 523.3 742 526.7 744.4 527.6 C746.8 528.5 755.4 532 758.5 532 C761.6 532 771.9 528.2 775 527.6 C778.1 527 787.5 525.2 790 526 C792.5 526.8 797 534.8 800 536 C803 537.2 816 537 820 538 C824 539 836.4 544.4 840 546 C843.6 547.6 853.6 552.7 856 554 C858.4 555.3 863.5 556.9 864 559 C864.5 561.1 862.5 572.1 861.5 574.6 C860.5 577.1 855.8 582.1 854.4 584 C853 585.9 849.7 592.2 847.4 593.4 C845.1 594.6 833.6 594.5 831 595.7 C828.4 596.9 822.8 602.9 821.6 605 C820.4 607.1 819 614.5 819 617 C819 619.5 821.1 626.7 822 630 C822.9 633.3 827.6 646.6 828 650 C828.4 653.4 826.8 661.4 826 664 C825.2 666.6 822 674 820 676 C818 678 809 682.6 806 684 C803 685.4 793 688.7 790 690 C787 691.3 778.2 695.6 776 697 C773.8 698.4 769.6 701.5 768 704 C766.4 706.5 761.8 718.6 760 722 C758.2 725.4 752 735.2 750 738 C748 740.8 741.4 747.6 740 750 C738.6 752.4 737 759.5 736 762 C735 764.5 731.8 772.2 730 775 C728.2 777.8 721 787.5 718 790 C715 792.5 702.8 797.5 700 800 C697.2 802.5 690 815 690 815 L575 815 C575 815 583.3 794.5 585 790 C586.7 785.5 590.7 775 592 770 C593.3 765 597 747 598 740 C599 733 601.8 707.6 602 700 C602.2 692.4 599.8 668.8 600 664 C600.2 659.2 602.8 651.4 604 652 C605.2 652.6 609.9 667.2 612 670 C614.1 672.8 622.2 679.8 625 680 C627.8 680.2 637 673.2 640 672 C643 670.8 651.8 668.6 655 668 C658.2 667.4 669.1 665.6 672 666 C674.9 666.4 681.8 669.6 684 672 C686.2 674.4 692 686.7 694 690 C696 693.3 703.4 702.8 704 705 C704.6 707.2 701.9 711.3 700 712 C698.1 712.7 687 711 685 712 C683 713 679.5 720.2 680 722 C680.5 723.8 686.8 728.4 690 730 C693.2 731.6 708.4 736.6 712 738 C715.6 739.4 723.4 743.6 726 744 C728.6 744.4 735.8 743.6 738 742 C740.2 740.4 748 730.6 748 728 C748 725.4 740.6 718.2 738 716 C735.4 713.8 725 708.6 722 706 C719 703.4 710.6 693 708 690 C705.4 687 698.4 678.6 696 676 C693.6 673.4 686 666.6 684 664 C682 661.4 677.6 652.8 676 650 C674.4 647.2 669.6 638.8 668 636 C666.4 633.2 659.2 624.4 660 622 C660.8 619.6 675.3 613.9 676 612 C676.7 610.1 668.9 604.7 667 602.8 C665.1 600.9 659.2 595.3 657.5 593.4 C655.8 591.5 650.4 585.4 650.4 584 C650.4 582.6 656.6 580.4 657.5 579 C658.4 577.6 658.4 571.9 659.8 570 C661.2 568.1 670 562.4 671.6 560.5 C673.2 558.6 676.3 553.1 676 551 C675.7 548.9 668.5 541.3 669 539 C669.5 536.7 678.2 528.7 681 527.6 Z" fill="#bebebe" stroke="#bebebe" stroke-width="3.2"/><path d="M681 527.6 C683.8 526.5 694.4 527.9 697.4 527.6 C700.4 527.3 707.7 525.5 711.5 525 C715.3 524.5 731.7 522.7 735 523 C738.3 523.3 742 526.7 744.4 527.6 C746.8 528.5 755.4 532 758.5 532 C761.6 532 771.9 528.2 775 527.6 C778.1 527 787.5 525.2 790 526 C792.5 526.8 797 534.8 800 536 C803 537.2 816 537 820 538 C824 539 836.4 544.4 840 546 C843.6 547.6 853.6 552.7 856 554 C858.4 555.3 863.5 556.9 864 559 C864.5 561.1 862.5 572.1 861.5 574.6 C860.5 577.1 855.8 582.1 854.4 584 C853 585.9 849.7 592.2 847.4 593.4 C845.1 594.6 833.6 594.5 831 595.7 C828.4 596.9 822.8 602.9 821.6 605 C820.4 607.1 819 614.5 819 617 C819 619.5 821.1 626.7 822 630 C822.9 633.3 827.6 646.6 828 650 C828.4 653.4 826.8 661.4 826 664 C825.2 666.6 822 674 820 676 C818 678 809 682.6 806 684 C803 685.4 793 688.7 790 690 C787 691.3 778.2 695.6 776 697 C773.8 698.4 769.6 701.5 768 704 C766.4 706.5 761.8 718.6 760 722 C758.2 725.4 752 735.2 750 738 C748 740.8 741.4 747.6 740 750 C738.6 752.4 737 759.5 736 762 C735 764.5 731.8 772.2 730 775 C728.2 777.8 721 787.5 718 790 C715 792.5 702.8 797.5 700 800 C697.2 802.5 690 815 690 815 L575 815 C575 815 583.3 794.5 585 790 C586.7 785.5 590.7 775 592 770 C593.3 765 597 747 598 740 C599 733 601.8 707.6 602 700 C602.2 692.4 599.8 668.8 600 664 C600.2 659.2 602.8 651.4 604 652 C605.2 652.6 609.9 667.2 612 670 C614.1 672.8 622.2 679.8 625 680 C627.8 680.2 637 673.2 640 672 C643 670.8 651.8 668.6 655 668 C658.2 667.4 669.1 665.6 672 666 C674.9 666.4 681.8 669.6 684 672 C686.2 674.4 692 686.7 694 690 C696 693.3 703.4 702.8 704 705 C704.6 707.2 701.9 711.3 700 712 C698.1 712.7 687 711 685 712 C683 713 679.5 720.2 680 722 C680.5 723.8 686.8 728.4 690 730 C693.2 731.6 708.4 736.6 712 738 C715.6 739.4 723.4 743.6 726 744 C728.6 744.4 735.8 743.6 738 742 C740.2 740.4 748 730.6 748 728 C748 725.4 740.6 718.2 738 716 C735.4 713.8 725 708.6 722 706 C719 703.4 710.6 693 708 690 C705.4 687 698.4 678.6 696 676 C693.6 673.4 686 666.6 684 664 C682 661.4 677.6 652.8 676 650 C674.4 647.2 669.6 638.8 668 636 C666.4 633.2 659.2 624.4 660 622 C660.8 619.6 675.3 613.9 676 612 C676.7 610.1 668.9 604.7 667 602.8 C665.1 600.9 659.2 595.3 657.5 593.4 C655.8 591.5 650.4 585.4 650.4 584 C650.4 582.6 656.6 580.4 657.5 579 C658.4 577.6 658.4 571.9 659.8 570 C661.2 568.1 670 562.4 671.6 560.5 C673.2 558.6 676.3 553.1 676 551 C675.7 548.9 668.5 541.3 669 539 C669.5 536.7 678.2 528.7 681 527.6 Z" fill="#ffffff"/><path d="M582 704 C583.6 696.6 595.6 704.9 598 707 C600.4 709.1 605.2 720.7 606 725 C606.8 729.3 606.4 745.3 606 750 C605.6 754.7 603.2 768.5 602 772 C600.8 775.5 596 784.1 594 785 C592 785.9 583.2 789.1 582 781 C580.8 772.9 580.4 711.4 582 704 Z" fill="#ffffff"/><path d="M667 621 C667.5 619.4 675.6 618.3 678.6 619 C681.6 619.7 694.6 626.5 697.4 628.4 C700.2 630.3 706.8 635.7 706.8 637.8 C706.8 639.9 698.6 647.4 697.4 649.5 C696.2 651.6 696.2 659 695 659 C693.8 659 687.8 651.9 685.7 649.5 C683.6 647.1 675.9 638.2 674 635.4 C672.1 632.5 666.5 622.6 667 621 Z" fill="#828282" stroke="#828282" stroke-width="3"/><path d="M667 621 C667.5 619.4 675.6 618.3 678.6 619 C681.6 619.7 694.6 626.5 697.4 628.4 C700.2 630.3 706.8 635.7 706.8 637.8 C706.8 639.9 698.6 647.4 697.4 649.5 C696.2 651.6 696.2 659 695 659 C693.8 659 687.8 651.9 685.7 649.5 C683.6 647.1 675.9 638.2 674 635.4 C672.1 632.5 666.5 622.6 667 621 Z" fill="#969696"/><path d="M697.4 659 C698.4 658.3 708.9 659.9 711.5 661.3 C714.1 662.7 721.6 670.9 723 673 C724.4 675.1 726.8 681.9 725.6 682.4 C724.5 682.9 713.9 679.1 711.5 677.7 C709.1 676.3 703.4 670.2 702 668.3 C700.6 666.4 696.4 659.7 697.4 659 Z" fill="#828282" stroke="#828282" stroke-width="3"/><path d="M697.4 659 C698.4 658.3 708.9 659.9 711.5 661.3 C714.1 662.7 721.6 670.9 723 673 C724.4 675.1 726.8 681.9 725.6 682.4 C724.5 682.9 713.9 679.1 711.5 677.7 C709.1 676.3 703.4 670.2 702 668.3 C700.6 666.4 696.4 659.7 697.4 659 Z" fill="#969696"/><path d="M678.6 677.7 C679.7 676.8 686.1 674.5 688 675.4 C689.9 676.3 696.5 684.7 697.4 687 C698.3 689.3 698.3 696.9 697.4 698.8 C696.5 700.7 689.6 706.1 688 705.9 C686.4 705.7 682.1 698.6 681 696.5 C679.9 694.4 677.6 686.6 677.4 684.7 C677.2 682.8 677.5 678.6 678.6 677.7 Z" fill="#828282" stroke="#828282" stroke-width="3"/><path d="M678.6 677.7 C679.7 676.8 686.1 674.5 688 675.4 C689.9 676.3 696.5 684.7 697.4 687 C698.3 689.3 698.3 696.9 697.4 698.8 C696.5 700.7 689.6 706.1 688 705.9 C686.4 705.7 682.1 698.6 681 696.5 C679.9 694.4 677.6 686.6 677.4 684.7 C677.2 682.8 677.5 678.6 678.6 677.7 Z" fill="#969696"/><path d="M676 717.6 C676.2 716.4 679.8 713.2 683.3 713 C686.8 712.8 707.3 713.9 711.5 715.3 C715.7 716.7 725.6 726.1 725.6 727 C725.6 727.9 714.8 725.2 711.5 724.7 C708.2 724.2 695.8 722.3 692.7 722.3 C689.7 722.3 682.7 725.2 681 724.7 C679.3 724.2 675.8 718.8 676 717.6 Z" fill="#969696" stroke="#969696" stroke-width="3"/><path d="M676 717.6 C676.2 716.4 679.8 713.2 683.3 713 C686.8 712.8 707.3 713.9 711.5 715.3 C715.7 716.7 725.6 726.1 725.6 727 C725.6 727.9 714.8 725.2 711.5 724.7 C708.2 724.2 695.8 722.3 692.7 722.3 C689.7 722.3 682.7 725.2 681 724.7 C679.3 724.2 675.8 718.8 676 717.6 Z" fill="#aaaaaa"/><path d="M702 738.7 C702.7 737.5 708.7 735.2 711.5 736.4 C714.3 737.6 726.7 748.9 730 750.5 C733.3 752.1 742 751.9 744.4 752.8 C746.8 753.7 753.3 758.2 753.8 759.9 C754.3 761.5 749.9 766.9 749 769.3 C748.1 771.6 745.8 780.6 744.4 783.4 C743 786.2 737.3 795.6 735 797.5 C732.7 799.4 723.4 800.5 721 802 C718.6 803.5 711.5 812 711.5 812 L692.7 812 C692.7 812 717 796.1 721 792.8 C725 789.5 730.7 781.5 732.6 778.7 C734.5 775.9 740 766.7 739.7 764.6 C739.4 762.5 732.4 759.4 730 757.5 C727.6 755.6 718.5 746.8 716 745.8 C713.5 744.8 705.9 748.7 704.5 748 C703.1 747.3 701.3 739.9 702 738.7 Z" fill="#969696" stroke="#969696" stroke-width="3"/><path d="M702 738.7 C702.7 737.5 708.7 735.2 711.5 736.4 C714.3 737.6 726.7 748.9 730 750.5 C733.3 752.1 742 751.9 744.4 752.8 C746.8 753.7 753.3 758.2 753.8 759.9 C754.3 761.5 749.9 766.9 749 769.3 C748.1 771.6 745.8 780.6 744.4 783.4 C743 786.2 737.3 795.6 735 797.5 C732.7 799.4 723.4 800.5 721 802 C718.6 803.5 711.5 812 711.5 812 L692.7 812 C692.7 812 717 796.1 721 792.8 C725 789.5 730.7 781.5 732.6 778.7 C734.5 775.9 740 766.7 739.7 764.6 C739.4 762.5 732.4 759.4 730 757.5 C727.6 755.6 718.5 746.8 716 745.8 C713.5 744.8 705.9 748.7 704.5 748 C703.1 747.3 701.3 739.9 702 738.7 Z" fill="#aaaaaa"/><path d="M775 701 C775.8 699.6 784 697.6 785 698.8 C786 700 785.8 711.6 785 713 C784.2 714.4 778 714.2 777 713 C776 711.8 774.2 702.4 775 701 Z" fill="#828282" stroke="#828282" stroke-width="3"/><path d="M775 701 C775.8 699.6 784 697.6 785 698.8 C786 700 785.8 711.6 785 713 C784.2 714.4 778 714.2 777 713 C776 711.8 774.2 702.4 775 701 Z" fill="#969696"/><path d="M580 651.9 C580.7 649.1 585.4 659.2 587 661.3 C588.6 663.4 595.7 670.2 596.4 673 C597.1 675.8 594.9 685.9 594 689.4 C593.1 692.9 588.4 708 587 708 C585.6 708 580.7 695 580 689.4 C579.3 683.8 579.3 654.7 580 651.9 Z" fill="#969696" stroke="#969696" stroke-width="3"/><path d="M580 651.9 C580.7 649.1 585.4 659.2 587 661.3 C588.6 663.4 595.7 670.2 596.4 673 C597.1 675.8 594.9 685.9 594 689.4 C593.1 692.9 588.4 708 587 708 C585.6 708 580.7 695 580 689.4 C579.3 683.8 579.3 654.7 580 651.9 Z" fill="#aaaaaa"/><path d="M610.5 661.3 C611.9 660.1 624.9 660.1 627 661.3 C629.1 662.5 632.4 670.9 631.7 673 C631 675.1 621.9 682.4 620 682.4 C618.1 682.4 613.9 675.1 612.9 673 C611.9 670.9 609.1 662.5 610.5 661.3 Z" fill="#969696" stroke="#969696" stroke-width="3"/><path d="M610.5 661.3 C611.9 660.1 624.9 660.1 627 661.3 C629.1 662.5 632.4 670.9 631.7 673 C631 675.1 621.9 682.4 620 682.4 C618.1 682.4 613.9 675.1 612.9 673 C611.9 670.9 609.1 662.5 610.5 661.3 Z" fill="#aaaaaa"/><path d="M627 586 C627.2 585.1 635 587 636.4 588.7 C637.8 590.4 641.2 601.9 641 602.8 C640.8 603.7 635.4 599.7 634 598 C632.6 596.3 626.8 586.9 627 586 Z" fill="#828282" stroke="#828282" stroke-width="3"/><path d="M627 586 C627.2 585.1 635 587 636.4 588.7 C637.8 590.4 641.2 601.9 641 602.8 C640.8 603.7 635.4 599.7 634 598 C632.6 596.3 626.8 586.9 627 586 Z" fill="#969696"/><path d="M650.4 615 C655.3 613.5 666.2 612.2 669 615 C671.8 617.8 676.2 638.1 678.6 642.5 C681 646.9 689.9 656.4 692.7 659 C695.5 661.6 704 665.7 706.8 668.3 C709.6 670.9 718.4 681.9 721 684.7 C723.6 687.5 729.8 694.6 732.6 696.5 C735.4 698.4 745.5 703.3 749 703.5 C752.5 703.7 763.7 700.2 767.8 698.8 C771.9 697.4 785.8 689.3 790 689.4 C794.2 689.5 806 697.4 810 700 C814 702.6 827 711 830 715 C833 719 843 735.5 840 740 C837 744.5 807 756 800 760 C793 764 774 774.5 770 780 C766 785.5 760 815 760 815 L730 815 C730 815 742 788.4 744.4 783.4 C746.8 778.4 753.8 767.9 753.8 764.6 C753.8 761.3 746.8 752.6 744.4 750.5 C742 748.4 733.3 744.8 730 743.4 C726.7 742 714.8 737.6 711.5 736.4 C708.2 735.2 700.2 732.6 697.4 731.7 C694.6 730.8 684.7 728.4 683.3 727 C681.9 725.6 681.9 718.3 683.3 717.6 C684.7 716.9 694.6 720.5 697.4 720 C700.2 719.5 711 714.6 711.5 713 C712 711.4 703.9 705.9 702 703.5 C700.1 701.1 695 692.2 692.7 689.4 C690.4 686.6 681.4 677.5 678.6 675.4 C675.8 673.3 667.8 669.2 664.5 668.3 C661.2 667.4 648.5 665.5 645.7 666 C642.9 666.5 638.8 671.8 636.4 673 C634 674.2 624.4 678.4 622 677.7 C619.6 677 614.5 668.8 612.9 666 C611.3 663.2 606.9 652.6 606 650 C605.1 647.4 602.1 642 603.5 640 C604.9 638 615.3 632.5 620 630 C624.7 627.5 645.5 616.5 650.4 615 Z" fill="#b4f0fa"/><path d="M700 668 C702.1 667.5 709.4 673.4 712 676 C714.6 678.6 719.4 687.2 722 690 C724.6 692.8 730.7 697.9 734 700 C737.3 702.1 745.8 707.3 750 708 C754.2 708.7 765.3 706.9 770 706 C774.7 705.1 787.7 694.9 790 700 C792.3 705.1 792.3 744.8 790 750 C787.7 755.2 774.7 746.4 770 745 C765.3 743.6 754.4 739.8 750 738 C745.6 736.2 735.5 731.9 732 730 C728.5 728.1 722.3 724.6 720 722 C717.7 719.4 714.1 711.3 712 708 C709.9 704.7 704.1 697.3 702 694 C699.9 690.7 694.2 683 694 680 C693.8 677 697.9 668.5 700 668 Z" fill="#96d2fa"/><path d="M725.6 703.5 C728.1 703.2 740.6 706.4 744.4 708 C748.2 709.6 753.2 715.9 758.5 717.6 C763.8 719.3 786.3 719.9 790 722.3 C793.7 724.7 792.6 736.5 790 738 C787.4 739.5 772.6 736 767.8 735 C763 734 753.1 731.1 749 729.4 C744.9 727.6 735.6 722.2 732.6 720 C729.6 717.8 723.8 712.5 723 710.6 C722.2 708.7 723.1 703.8 725.6 703.5 Z" fill="#78b9fa" stroke="#78b9fa" stroke-width="8"/><path d="M725.6 703.5 C728.1 703.2 740.6 706.4 744.4 708 C748.2 709.6 753.2 715.9 758.5 717.6 C763.8 719.3 786.3 719.9 790 722.3 C793.7 724.7 792.6 736.5 790 738 C787.4 739.5 772.6 736 767.8 735 C763 734 753.1 731.1 749 729.4 C744.9 727.6 735.6 722.2 732.6 720 C729.6 717.8 723.8 712.5 723 710.6 C722.2 708.7 723.1 703.8 725.6 703.5 Z" fill="#3c96f5" stroke="#3c96f5" stroke-width="4"/><path d="M725.6 703.5 C728.1 703.2 740.6 706.4 744.4 708 C748.2 709.6 753.2 715.9 758.5 717.6 C763.8 719.3 786.3 719.9 790 722.3 C793.7 724.7 792.6 736.5 790 738 C787.4 739.5 772.6 736 767.8 735 C763 734 753.1 731.1 749 729.4 C744.9 727.6 735.6 722.2 732.6 720 C729.6 717.8 723.8 712.5 723 710.6 C722.2 708.7 723.1 703.8 725.6 703.5 Z" fill="#1e6eeb"/><path d="M739.7 725.8 C740.5 724.6 750.7 723.7 753.8 722.3 C756.9 720.9 756.2 718 758.5 717.6 C760.8 717.2 762.5 718.8 767.8 720 C773 721.2 786.3 722.4 790 724.7 C793.7 727 793.7 732.8 790 734 C786.3 735.2 773 731.7 767.8 731.7 C762.5 731.7 761.6 734.4 758.5 734 C755.4 733.6 752.1 730.8 749 729.4 C745.9 728 738.9 727 739.7 725.8 Z" fill="#0fa00f" stroke="#0fa00f" stroke-width="3"/><path d="M739.7 725.8 C740.5 724.6 750.7 723.7 753.8 722.3 C756.9 720.9 756.2 718 758.5 717.6 C760.8 717.2 762.5 718.8 767.8 720 C773 721.2 786.3 722.4 790 724.7 C793.7 727 793.7 732.8 790 734 C786.3 735.2 773 731.7 767.8 731.7 C762.5 731.7 761.6 734.4 758.5 734 C755.4 733.6 752.1 730.8 749 729.4 C745.9 728 738.9 727 739.7 725.8 Z" fill="#28be28"/><path d="M756 720.5 C757 719.5 763.7 720.1 766 721 C768.3 721.9 771 725 770 726 C769 727 762.3 727.9 760 727 C757.7 726.1 755 721.5 756 720.5 Z" fill="#73f06e" stroke="#73f06e" stroke-width="4.8"/><path d="M756 720.5 C757 719.5 763.7 720.1 766 721 C768.3 721.9 771 725 770 726 C769 727 762.3 727.9 760 727 C757.7 726.1 755 721.5 756 720.5 Z" fill="#b4fab4" stroke="#b4fab4" stroke-width="2.4"/><path d="M756 720.5 C757 719.5 763.7 720.1 766 721 C768.3 721.9 771 725 770 726 C769 727 762.3 727.9 760 727 C757.7 726.1 755 721.5 756 720.5 Z" fill="#fffaaa"/><path d="M710 692 C710.3 690.3 714.3 689 716 690 C717.7 691 720.3 696.3 720 698 C719.7 699.7 715.7 701 714 700 C712.3 699 709.7 693.7 710 692 Z" fill="#78b9fa"/><path d="M776 701 C778.2 699.6 794.9 698.8 798 698.8 C801.1 698.8 806.1 699.8 807.5 701 C808.9 702.2 812.5 708.9 812 710.6 C811.5 712.3 804.4 716.7 802.8 717.6 C801.2 718.5 797.6 720 795.7 720 C793.8 720 786 718.3 784 717.6 C782 716.9 776.8 714.7 776 713 C775.2 711.3 773.8 702.4 776 701 Z" fill="#828282"/><path d="M784 704 C785 702.2 794.8 702 798 703 C801.2 704 804 708.2 803 710 C802 711.8 795.2 715 792 714 C788.8 713 783 705.8 784 704 Z" fill="#969696"/><path d="M574 612 C583.1 610.4 640.4 609.5 650.4 612 C660.4 614.5 657 628.9 659.8 633 C662.6 637.1 671.8 644 674 647 C676.2 650 679.2 657.1 678.6 659 C678 660.9 671.8 663.1 669 663.6 C666.2 664.1 658 663.3 655 663.6 C652 663.9 645.6 665.2 643.4 666 C641.2 666.8 638.3 671.2 636.4 670.7 C634.5 670.2 629.5 663.5 627 661.3 C624.5 659.1 617.7 654.1 615 651.9 C612.3 649.7 606.2 644.4 603.5 642.5 C600.8 640.6 594.4 636.5 591.7 635.4 C589 634.3 582.3 634.1 580 633 C577.7 631.9 572.7 628.5 572 626 C571.3 623.5 564.9 613.6 574 612 Z" fill="#b4f0fa" stroke="#b4f0fa" stroke-width="11"/><path d="M574 612 C583.1 610.4 640.4 609.5 650.4 612 C660.4 614.5 657 628.9 659.8 633 C662.6 637.1 671.8 644 674 647 C676.2 650 679.2 657.1 678.6 659 C678 660.9 671.8 663.1 669 663.6 C666.2 664.1 658 663.3 655 663.6 C652 663.9 645.6 665.2 643.4 666 C641.2 666.8 638.3 671.2 636.4 670.7 C634.5 670.2 629.5 663.5 627 661.3 C624.5 659.1 617.7 654.1 615 651.9 C612.3 649.7 606.2 644.4 603.5 642.5 C600.8 640.6 594.4 636.5 591.7 635.4 C589 634.3 582.3 634.1 580 633 C577.7 631.9 572.7 628.5 572 626 C571.3 623.5 564.9 613.6 574 612 Z" fill="#96d2fa" stroke="#96d2fa" stroke-width="5"/><path d="M574 612 C583.1 610.4 640.4 609.5 650.4 612 C660.4 614.5 657 628.9 659.8 633 C662.6 637.1 671.8 644 674 647 C676.2 650 679.2 657.1 678.6 659 C678 660.9 671.8 663.1 669 663.6 C666.2 664.1 658 663.3 655 663.6 C652 663.9 645.6 665.2 643.4 666 C641.2 666.8 638.3 671.2 636.4 670.7 C634.5 670.2 629.5 663.5 627 661.3 C624.5 659.1 617.7 654.1 615 651.9 C612.3 649.7 606.2 644.4 603.5 642.5 C600.8 640.6 594.4 636.5 591.7 635.4 C589 634.3 582.3 634.1 580 633 C577.7 631.9 572.7 628.5 572 626 C571.3 623.5 564.9 613.6 574 612 Z" fill="#78b9fa"/><path d="M600 616 C604.2 613.9 633.9 613.9 640 616 C646.1 618.1 649.2 630.3 652 634 C654.8 637.7 663.1 645.2 664 648 C664.9 650.8 662.3 656.6 660 658 C657.7 659.4 647.5 660.5 644 660 C640.5 659.5 633.3 655.9 630 654 C626.7 652.1 619 646.3 616 644 C613 641.7 605.9 637.3 604 634 C602.1 630.7 595.8 618.1 600 616 Z" fill="#3c96f5"/><path d="M640 652 C640.8 650.5 644.8 650.7 646 652 C647.2 653.3 647.8 658.5 647 660 C646.2 661.5 642.2 662.3 641 661 C639.8 659.7 639.2 653.5 640 652 Z" fill="#1e6eeb"/><path d="M634 662 C634.7 660.8 638 660.8 639 662 C640 663.2 640.7 667.8 640 669 C639.3 670.2 636 670.2 635 669 C634 667.8 633.3 663.2 634 662 Z" fill="#1e6eeb"/><path d="M612 626 C613.3 623 623.7 621.3 630 622 C636.3 622.7 645.8 626.3 650 630 C654.2 633.7 656.7 641.3 655 644 C653.3 646.7 645.5 646.7 640 646 C634.5 645.3 626.7 643.3 622 640 C617.3 636.7 610.7 629 612 626 Z" fill="#1e6eeb"/><path d="M574 618 C577.7 617.2 589.1 618.8 594 621 C598.9 623.2 600.8 630.5 603.5 631 C606.2 631.5 607.4 624 610.5 624 C613.6 624 617.7 627.9 622 631 C626.3 634.1 635.6 640.3 636.4 642.5 C637.2 644.7 630.6 644.2 627 644 C623.4 643.8 618.9 641.8 615 641 C611.1 640.2 607 640.2 603.5 639 C600 637.8 597.9 635.5 594 634 C590.1 632.5 583.7 631.3 580 630 C576.3 628.7 573 628 572 626 C571 624 570.3 618.8 574 618 Z" fill="#0fa00f" stroke="#0fa00f" stroke-width="3"/><path d="M574 618 C577.7 617.2 589.1 618.8 594 621 C598.9 623.2 600.8 630.5 603.5 631 C606.2 631.5 607.4 624 610.5 624 C613.6 624 617.7 627.9 622 631 C626.3 634.1 635.6 640.3 636.4 642.5 C637.2 644.7 630.6 644.2 627 644 C623.4 643.8 618.9 641.8 615 641 C611.1 640.2 607 640.2 603.5 639 C600 637.8 597.9 635.5 594 634 C590.1 632.5 583.7 631.3 580 630 C576.3 628.7 573 628 572 626 C571 624 570.3 618.8 574 618 Z" fill="#28be28"/><path d="M582 622 C582 621 589 622.5 592 624 C595 625.5 600 630 600 631 C600 632 595 631.5 592 630 C589 628.5 582 623 582 622 Z" fill="#b4fab4"/><path d="M614 630 C614.7 629.3 621.3 632.3 624 634 C626.7 635.7 630.7 639.3 630 640 C629.3 640.7 622.7 639.7 620 638 C617.3 636.3 613.3 630.7 614 630 Z" fill="#73f06e"/><path d="M580 797 C582.3 793.5 589.7 791 592 794 C594.3 797 594 815 594 815 L578 815 C578 815 577.7 800.5 580 797 Z" fill="#1e6eeb" stroke="#1e6eeb" stroke-width="9.6"/><path d="M580 797 C582.3 793.5 589.7 791 592 794 C594.3 797 594 815 594 815 L578 815 C578 815 577.7 800.5 580 797 Z" fill="#1464d2" stroke="#1464d2" stroke-width="6.4"/><path d="M580 797 C582.3 793.5 589.7 791 592 794 C594.3 797 594 815 594 815 L578 815 C578 815 577.7 800.5 580 797 Z" fill="#0fa00f" stroke="#0fa00f" stroke-width="3.2"/><path d="M580 797 C582.3 793.5 589.7 791 592 794 C594.3 797 594 815 594 815 L578 815 C578 815 577.7 800.5 580 797 Z" fill="#28be28"/><path d="M584 802 C585 799.7 589 798.8 590 801 C591 803.2 590 815 590 815 L584 815 C584 815 583 804.3 584 802 Z" fill="#b4fab4" stroke="#b4fab4" stroke-width="2"/><path d="M584 802 C585 799.7 589 798.8 590 801 C591 803.2 590 815 590 815 L584 815 C584 815 583 804.3 584 802 Z" fill="#fffaaa"/><path d="M758.5 783.4 C759.7 779.8 764.8 778.4 770 776 C775.2 773.6 786.7 762.8 790 769.3 C793.3 775.8 790 815 790 815 L767.8 815 C767.8 815 764.5 802.8 763 797.5 C761.5 792.2 757.3 787 758.5 783.4 Z" fill="#1e6eeb" stroke="#1e6eeb" stroke-width="12"/><path d="M758.5 783.4 C759.7 779.8 764.8 778.4 770 776 C775.2 773.6 786.7 762.8 790 769.3 C793.3 775.8 790 815 790 815 L767.8 815 C767.8 815 764.5 802.8 763 797.5 C761.5 792.2 757.3 787 758.5 783.4 Z" fill="#1464d2" stroke="#1464d2" stroke-width="8"/><path d="M758.5 783.4 C759.7 779.8 764.8 778.4 770 776 C775.2 773.6 786.7 762.8 790 769.3 C793.3 775.8 790 815 790 815 L767.8 815 C767.8 815 764.5 802.8 763 797.5 C761.5 792.2 757.3 787 758.5 783.4 Z" fill="#0fa00f" stroke="#0fa00f" stroke-width="4"/><path d="M758.5 783.4 C759.7 779.8 764.8 778.4 770 776 C775.2 773.6 786.7 762.8 790 769.3 C793.3 775.8 790 815 790 815 L767.8 815 C767.8 815 764.5 802.8 763 797.5 C761.5 792.2 757.3 787 758.5 783.4 Z" fill="#28be28"/><path d="M690 468 C692.4 465.2 697.4 454.2 700 452 C702.6 449.8 712.8 446.2 716 446 C719.2 445.8 729 448.8 732 450 C735 451.2 743.6 456.4 746 458 C748.4 459.6 753.6 465 756 466 C758.4 467 768.6 466.6 770 468 C771.4 469.4 771.4 478.4 770 480 C768.6 481.6 758.6 484 756 484 C753.4 484 746 479.8 744 480 C742 480.2 738 484.6 736 486 C734 487.4 726.4 492.6 724 494 C721.6 495.4 714.4 498.8 712 500 C709.6 501.2 702.2 504.8 700 506 C697.8 507.2 692 510.6 690 512 C688 513.4 682.2 518.4 680 520 C677.8 521.6 670 526 668 528 C666 530 661.2 537.2 660 540 C658.8 542.8 657 553 656 556 C655 559 650.8 567.2 650 570 C649.2 572.8 649 581.4 648 584 C647 586.6 639.8 593.8 640 596 C640.2 598.2 648 604 650 606 C652 608 660 614 660 616 C660 618 653 625.6 650 626 C647 626.4 634 622.6 630 620 C626 617.4 610 605 610 600 C610 595 627.4 577 630 570 C632.6 563 634 537.5 636 530 C638 522.5 646 500 650 495 C654 490 672 482.7 676 480 C680 477.3 687.6 470.8 690 468 Z" fill="#b4f0fa"/><path d="M690 470 C692.6 467.6 699.4 458 702 456 C704.6 454 713.2 450.2 716 450 C718.8 449.8 727.4 452.8 730 454 C732.6 455.2 741.6 460 742 462 C742.4 464 736 471.8 734 474 C732 476.2 724.6 482.4 722 484 C719.4 485.6 711 489 708 490 C705 491 695.2 493 692 494 C688.8 495 678.8 498.4 676 500 C673.2 501.6 666 507.6 664 510 C662 512.4 657.2 521 656 524 C654.8 527 652.8 536.8 652 540 C651.2 543.2 649 552.8 648 556 C647 559.2 643.2 569 642 572 C640.8 575 637.6 583.6 636 586 C634.4 588.4 628.6 594.6 626 596 C623.4 597.4 609.6 602.6 610 600 C610.4 597.4 627.4 577 630 570 C632.6 563 634 537.5 636 530 C638 522.5 646 500 650 495 C654 490 672 482.5 676 480 C680 477.5 687.4 472.4 690 470 Z" fill="#96d2fa"/><path d="M688 474 C690.6 472.2 699.2 463.8 702 462 C704.8 460.2 713.6 456.2 716 456 C718.4 455.8 725.4 458.4 726 460 C726.6 461.6 723.8 469.8 722 472 C720.2 474.2 711 480.6 708 482 C705 483.4 695.4 485 692 486 C688.6 487 677.2 490.2 674 492 C670.8 493.8 662.4 501.4 660 504 C657.6 506.6 651.4 515 650 518 C648.6 521 646.6 530.8 646 534 C645.4 537.2 644.8 546.8 644 550 C643.2 553.2 639.4 563 638 566 C636.6 569 632 577.6 630 580 C628 582.4 620.2 588.6 618 590 C615.8 591.4 606.8 596 608 594 C609.2 592 627.2 576.4 630 570 C632.8 563.6 634 537.5 636 530 C638 522.5 646 500 650 495 C654 490 672.2 482.1 676 480 C679.8 477.9 685.4 475.8 688 474 Z" fill="#78b9fa"/><path d="M640 600 C640.7 598.7 648.7 602 652 604 C655.3 606 660.7 610.7 660 612 C659.3 613.3 651.3 614 648 612 C644.7 610 639.3 601.3 640 600 Z" fill="#96d2fa" stroke="#96d2fa" stroke-width="6"/><path d="M640 600 C640.7 598.7 648.7 602 652 604 C655.3 606 660.7 610.7 660 612 C659.3 613.3 651.3 614 648 612 C644.7 610 639.3 601.3 640 600 Z" fill="#78b9fa" stroke="#78b9fa" stroke-width="3"/><path d="M640 600 C640.7 598.7 648.7 602 652 604 C655.3 606 660.7 610.7 660 612 C659.3 613.3 651.3 614 648 612 C644.7 610 639.3 601.3 640 600 Z" fill="#3c96f5"/><path d="M640 486 C641.9 483.9 652.3 482 656 482 C659.7 482 669.4 484.1 672 486 C674.6 487.9 677.8 495 678 498 C678.2 501 675.6 509 674 512 C672.4 515 666.6 521.7 664 524 C661.4 526.3 654.3 529.2 652 532 C649.7 534.8 645.6 544.5 644 548 C642.4 551.5 639.6 558.7 638 562 C636.4 565.3 631.9 573.4 630 576 C628.1 578.6 622.5 585.9 622 584 C621.5 582.1 624.8 565.1 626 560 C627.2 554.9 630.8 544.7 632 540 C633.2 535.3 635.1 524.7 636 520 C636.9 515.3 639.5 504 640 500 C640.5 496 638.1 488.1 640 486 Z" fill="#3c96f5"/><path d="M652 500 C653.2 497.6 662 497.3 664 499 C666 500.7 668.2 510.6 667 513 C665.8 515.4 657 518.7 655 517 C653 515.3 650.8 502.4 652 500 Z" fill="#1e6eeb"/><path d="M634 528 C635.5 526.1 642.1 528.5 643 531 C643.9 533.5 642.5 545.1 641 547 C639.5 548.9 632.9 547.5 632 545 C631.1 542.5 632.5 529.9 634 528 Z" fill="#1e6eeb"/><path d="M690 470 C692.1 467.1 700.5 461.1 704 460 C707.5 458.9 714.9 460.1 716 462 C717.1 463.9 714.1 471.3 712 474 C709.9 476.7 703.2 480.9 700 482 C696.8 483.1 689.3 483.6 688 482 C686.7 480.4 687.9 472.9 690 470 Z" fill="#3c96f5"/><path d="M370 476 C370 476 376.9 475.8 380 476 C383.1 476.2 397 477.9 401.5 478.3 C406 478.7 420.3 479.6 425 479.5 C429.7 479.4 444.2 477 448.4 477 C452.6 477 463.9 478.2 467 479.5 C470.1 480.8 476.2 488.5 479 490 C481.8 491.5 491.9 494.3 495.4 494.7 C498.9 495.1 510.7 493.6 514 493.6 C517.3 493.6 526.2 493.6 528 494.7 C529.8 495.8 532 503.4 532 505 C532 506.6 528.1 508.7 528 511 C527.9 513.3 530.6 523.6 530.6 527.6 C530.6 531.6 527.3 547.7 528 551 C528.7 554.3 536.3 558.1 537.7 560.5 C539.1 562.9 541 571.3 542.4 574.6 C543.8 577.9 549.7 589.7 551.8 593.4 C553.9 597.1 561.5 608.7 563.5 612 C565.5 615.3 570.4 624.2 572 626 C573.6 627.8 577.8 629.2 580 630 C582.2 630.8 591.6 633.1 594 634 C596.4 634.9 601.4 638.3 603.5 639 C605.6 639.7 612.6 640.5 615 641 C617.4 641.5 624.9 643.9 627 644 C629.1 644.1 636.5 643.3 636 642 C635.5 640.7 624.6 633 622 631 C619.4 629 611.9 623.9 610 622 C608.1 620.1 604.6 614 603 612 C601.4 610 596.3 604 594 602 C591.7 600 580 592.9 580 592 C580 591.1 591.6 593.7 594 593.4 C596.4 593.1 601.4 589.9 603.5 588.7 C605.6 587.5 612.6 583.5 615 581.6 C617.4 579.7 625.1 572.6 627 570 C628.9 567.4 633.5 558.6 634 555.8 C634.5 553 631.5 544.1 631.7 541.7 C631.9 539.3 636.2 533.9 636.4 532 C636.6 530.1 634 525.1 634 523 C634 520.9 635 513.1 636.4 511 C637.8 508.9 646.6 503.7 648 501.8 C649.4 499.9 649.2 494 650.4 492.4 C651.6 490.8 657.4 486.3 659.8 485.4 C662.2 484.5 672.1 483.7 674 483 C675.9 482.3 677 479.2 678.6 478 C680.2 476.8 688.8 472.4 690.4 471 C692 469.6 693.8 465.6 695 464 C696.2 462.4 699.9 456.1 702 454.8 C704.1 453.5 713.2 451 716 451 C718.8 451 727.2 453.7 730 454.8 C732.8 455.9 742 460.5 744.4 461.9 C746.8 463.3 751.5 468.1 753.8 469 C756.1 469.9 764.8 470.4 767.8 471 C770.8 471.6 780 474.5 784 475 C788 475.5 802.8 475.6 807.5 476 C812.2 476.4 826.3 478.9 831 479.5 C835.7 480.1 850.2 481.4 854.4 481.5 C858.6 481.6 869.2 480.5 873 480 C876.8 479.5 888.2 477.3 892 476.3 C895.8 475.3 906.6 471 910.8 470.4 C915 469.8 929.3 470.6 934 470.5 C938.7 470.4 951.7 469.3 957.8 469 C963.9 468.7 995 467.5 995 467.5 L995 420 L370 420 L370 476 Z" fill="#3c96f5" stroke="#3c96f5" stroke-width="12.8"/><path d="M370 476 C370 476 376.9 475.8 380 476 C383.1 476.2 397 477.9 401.5 478.3 C406 478.7 420.3 479.6 425 479.5 C429.7 479.4 444.2 477 448.4 477 C452.6 477 463.9 478.2 467 479.5 C470.1 480.8 476.2 488.5 479 490 C481.8 491.5 491.9 494.3 495.4 494.7 C498.9 495.1 510.7 493.6 514 493.6 C517.3 493.6 526.2 493.6 528 494.7 C529.8 495.8 532 503.4 532 505 C532 506.6 528.1 508.7 528 511 C527.9 513.3 530.6 523.6 530.6 527.6 C530.6 531.6 527.3 547.7 528 551 C528.7 554.3 536.3 558.1 537.7 560.5 C539.1 562.9 541 571.3 542.4 574.6 C543.8 577.9 549.7 589.7 551.8 593.4 C553.9 597.1 561.5 608.7 563.5 612 C565.5 615.3 570.4 624.2 572 626 C573.6 627.8 577.8 629.2 580 630 C582.2 630.8 591.6 633.1 594 634 C596.4 634.9 601.4 638.3 603.5 639 C605.6 639.7 612.6 640.5 615 641 C617.4 641.5 624.9 643.9 627 644 C629.1 644.1 636.5 643.3 636 642 C635.5 640.7 624.6 633 622 631 C619.4 629 611.9 623.9 610 622 C608.1 620.1 604.6 614 603 612 C601.4 610 596.3 604 594 602 C591.7 600 580 592.9 580 592 C580 591.1 591.6 593.7 594 593.4 C596.4 593.1 601.4 589.9 603.5 588.7 C605.6 587.5 612.6 583.5 615 581.6 C617.4 579.7 625.1 572.6 627 570 C628.9 567.4 633.5 558.6 634 555.8 C634.5 553 631.5 544.1 631.7 541.7 C631.9 539.3 636.2 533.9 636.4 532 C636.6 530.1 634 525.1 634 523 C634 520.9 635 513.1 636.4 511 C637.8 508.9 646.6 503.7 648 501.8 C649.4 499.9 649.2 494 650.4 492.4 C651.6 490.8 657.4 486.3 659.8 485.4 C662.2 484.5 672.1 483.7 674 483 C675.9 482.3 677 479.2 678.6 478 C680.2 476.8 688.8 472.4 690.4 471 C692 469.6 693.8 465.6 695 464 C696.2 462.4 699.9 456.1 702 454.8 C704.1 453.5 713.2 451 716 451 C718.8 451 727.2 453.7 730 454.8 C732.8 455.9 742 460.5 744.4 461.9 C746.8 463.3 751.5 468.1 753.8 469 C756.1 469.9 764.8 470.4 767.8 471 C770.8 471.6 780 474.5 784 475 C788 475.5 802.8 475.6 807.5 476 C812.2 476.4 826.3 478.9 831 479.5 C835.7 480.1 850.2 481.4 854.4 481.5 C858.6 481.6 869.2 480.5 873 480 C876.8 479.5 888.2 477.3 892 476.3 C895.8 475.3 906.6 471 910.8 470.4 C915 469.8 929.3 470.6 934 470.5 C938.7 470.4 951.7 469.3 957.8 469 C963.9 468.7 995 467.5 995 467.5 L995 420 L370 420 L370 476 Z" fill="#1e6eeb" stroke="#1e6eeb" stroke-width="8.8"/><path d="M370 476 C370 476 376.9 475.8 380 476 C383.1 476.2 397 477.9 401.5 478.3 C406 478.7 420.3 479.6 425 479.5 C429.7 479.4 444.2 477 448.4 477 C452.6 477 463.9 478.2 467 479.5 C470.1 480.8 476.2 488.5 479 490 C481.8 491.5 491.9 494.3 495.4 494.7 C498.9 495.1 510.7 493.6 514 493.6 C517.3 493.6 526.2 493.6 528 494.7 C529.8 495.8 532 503.4 532 505 C532 506.6 528.1 508.7 528 511 C527.9 513.3 530.6 523.6 530.6 527.6 C530.6 531.6 527.3 547.7 528 551 C528.7 554.3 536.3 558.1 537.7 560.5 C539.1 562.9 541 571.3 542.4 574.6 C543.8 577.9 549.7 589.7 551.8 593.4 C553.9 597.1 561.5 608.7 563.5 612 C565.5 615.3 570.4 624.2 572 626 C573.6 627.8 577.8 629.2 580 630 C582.2 630.8 591.6 633.1 594 634 C596.4 634.9 601.4 638.3 603.5 639 C605.6 639.7 612.6 640.5 615 641 C617.4 641.5 624.9 643.9 627 644 C629.1 644.1 636.5 643.3 636 642 C635.5 640.7 624.6 633 622 631 C619.4 629 611.9 623.9 610 622 C608.1 620.1 604.6 614 603 612 C601.4 610 596.3 604 594 602 C591.7 600 580 592.9 580 592 C580 591.1 591.6 593.7 594 593.4 C596.4 593.1 601.4 589.9 603.5 588.7 C605.6 587.5 612.6 583.5 615 581.6 C617.4 579.7 625.1 572.6 627 570 C628.9 567.4 633.5 558.6 634 555.8 C634.5 553 631.5 544.1 631.7 541.7 C631.9 539.3 636.2 533.9 636.4 532 C636.6 530.1 634 525.1 634 523 C634 520.9 635 513.1 636.4 511 C637.8 508.9 646.6 503.7 648 501.8 C649.4 499.9 649.2 494 650.4 492.4 C651.6 490.8 657.4 486.3 659.8 485.4 C662.2 484.5 672.1 483.7 674 483 C675.9 482.3 677 479.2 678.6 478 C680.2 476.8 688.8 472.4 690.4 471 C692 469.6 693.8 465.6 695 464 C696.2 462.4 699.9 456.1 702 454.8 C704.1 453.5 713.2 451 716 451 C718.8 451 727.2 453.7 730 454.8 C732.8 455.9 742 460.5 744.4 461.9 C746.8 463.3 751.5 468.1 753.8 469 C756.1 469.9 764.8 470.4 767.8 471 C770.8 471.6 780 474.5 784 475 C788 475.5 802.8 475.6 807.5 476 C812.2 476.4 826.3 478.9 831 479.5 C835.7 480.1 850.2 481.4 854.4 481.5 C858.6 481.6 869.2 480.5 873 480 C876.8 479.5 888.2 477.3 892 476.3 C895.8 475.3 906.6 471 910.8 470.4 C915 469.8 929.3 470.6 934 470.5 C938.7 470.4 951.7 469.3 957.8 469 C963.9 468.7 995 467.5 995 467.5 L995 420 L370 420 L370 476 Z" fill="#1464d2" stroke="#1464d2" stroke-width="5.8"/><path d="M370 476 C370 476 376.9 475.8 380 476 C383.1 476.2 397 477.9 401.5 478.3 C406 478.7 420.3 479.6 425 479.5 C429.7 479.4 444.2 477 448.4 477 C452.6 477 463.9 478.2 467 479.5 C470.1 480.8 476.2 488.5 479 490 C481.8 491.5 491.9 494.3 495.4 494.7 C498.9 495.1 510.7 493.6 514 493.6 C517.3 493.6 526.2 493.6 528 494.7 C529.8 495.8 532 503.4 532 505 C532 506.6 528.1 508.7 528 511 C527.9 513.3 530.6 523.6 530.6 527.6 C530.6 531.6 527.3 547.7 528 551 C528.7 554.3 536.3 558.1 537.7 560.5 C539.1 562.9 541 571.3 542.4 574.6 C543.8 577.9 549.7 589.7 551.8 593.4 C553.9 597.1 561.5 608.7 563.5 612 C565.5 615.3 570.4 624.2 572 626 C573.6 627.8 577.8 629.2 580 630 C582.2 630.8 591.6 633.1 594 634 C596.4 634.9 601.4 638.3 603.5 639 C605.6 639.7 612.6 640.5 615 641 C617.4 641.5 624.9 643.9 627 644 C629.1 644.1 636.5 643.3 636 642 C635.5 640.7 624.6 633 622 631 C619.4 629 611.9 623.9 610 622 C608.1 620.1 604.6 614 603 612 C601.4 610 596.3 604 594 602 C591.7 600 580 592.9 580 592 C580 591.1 591.6 593.7 594 593.4 C596.4 593.1 601.4 589.9 603.5 588.7 C605.6 587.5 612.6 583.5 615 581.6 C617.4 579.7 625.1 572.6 627 570 C628.9 567.4 633.5 558.6 634 555.8 C634.5 553 631.5 544.1 631.7 541.7 C631.9 539.3 636.2 533.9 636.4 532 C636.6 530.1 634 525.1 634 523 C634 520.9 635 513.1 636.4 511 C637.8 508.9 646.6 503.7 648 501.8 C649.4 499.9 649.2 494 650.4 492.4 C651.6 490.8 657.4 486.3 659.8 485.4 C662.2 484.5 672.1 483.7 674 483 C675.9 482.3 677 479.2 678.6 478 C680.2 476.8 688.8 472.4 690.4 471 C692 469.6 693.8 465.6 695 464 C696.2 462.4 699.9 456.1 702 454.8 C704.1 453.5 713.2 451 716 451 C718.8 451 727.2 453.7 730 454.8 C732.8 455.9 742 460.5 744.4 461.9 C746.8 463.3 751.5 468.1 753.8 469 C756.1 469.9 764.8 470.4 767.8 471 C770.8 471.6 780 474.5 784 475 C788 475.5 802.8 475.6 807.5 476 C812.2 476.4 826.3 478.9 831 479.5 C835.7 480.1 850.2 481.4 854.4 481.5 C858.6 481.6 869.2 480.5 873 480 C876.8 479.5 888.2 477.3 892 476.3 C895.8 475.3 906.6 471 910.8 470.4 C915 469.8 929.3 470.6 934 470.5 C938.7 470.4 951.7 469.3 957.8 469 C963.9 468.7 995 467.5 995 467.5 L995 420 L370 420 L370 476 Z" fill="#0fa00f" stroke="#0fa00f" stroke-width="3.2"/><path d="M370 476 C370 476 376.9 475.8 380 476 C383.1 476.2 397 477.9 401.5 478.3 C406 478.7 420.3 479.6 425 479.5 C429.7 479.4 444.2 477 448.4 477 C452.6 477 463.9 478.2 467 479.5 C470.1 480.8 476.2 488.5 479 490 C481.8 491.5 491.9 494.3 495.4 494.7 C498.9 495.1 510.7 493.6 514 493.6 C517.3 493.6 526.2 493.6 528 494.7 C529.8 495.8 532 503.4 532 505 C532 506.6 528.1 508.7 528 511 C527.9 513.3 530.6 523.6 530.6 527.6 C530.6 531.6 527.3 547.7 528 551 C528.7 554.3 536.3 558.1 537.7 560.5 C539.1 562.9 541 571.3 542.4 574.6 C543.8 577.9 549.7 589.7 551.8 593.4 C553.9 597.1 561.5 608.7 563.5 612 C565.5 615.3 570.4 624.2 572 626 C573.6 627.8 577.8 629.2 580 630 C582.2 630.8 591.6 633.1 594 634 C596.4 634.9 601.4 638.3 603.5 639 C605.6 639.7 612.6 640.5 615 641 C617.4 641.5 624.9 643.9 627 644 C629.1 644.1 636.5 643.3 636 642 C635.5 640.7 624.6 633 622 631 C619.4 629 611.9 623.9 610 622 C608.1 620.1 604.6 614 603 612 C601.4 610 596.3 604 594 602 C591.7 600 580 592.9 580 592 C580 591.1 591.6 593.7 594 593.4 C596.4 593.1 601.4 589.9 603.5 588.7 C605.6 587.5 612.6 583.5 615 581.6 C617.4 579.7 625.1 572.6 627 570 C628.9 567.4 633.5 558.6 634 555.8 C634.5 553 631.5 544.1 631.7 541.7 C631.9 539.3 636.2 533.9 636.4 532 C636.6 530.1 634 525.1 634 523 C634 520.9 635 513.1 636.4 511 C637.8 508.9 646.6 503.7 648 501.8 C649.4 499.9 649.2 494 650.4 492.4 C651.6 490.8 657.4 486.3 659.8 485.4 C662.2 484.5 672.1 483.7 674 483 C675.9 482.3 677 479.2 678.6 478 C680.2 476.8 688.8 472.4 690.4 471 C692 469.6 693.8 465.6 695 464 C696.2 462.4 699.9 456.1 702 454.8 C704.1 453.5 713.2 451 716 451 C718.8 451 727.2 453.7 730 454.8 C732.8 455.9 742 460.5 744.4 461.9 C746.8 463.3 751.5 468.1 753.8 469 C756.1 469.9 764.8 470.4 767.8 471 C770.8 471.6 780 474.5 784 475 C788 475.5 802.8 475.6 807.5 476 C812.2 476.4 826.3 478.9 831 479.5 C835.7 480.1 850.2 481.4 854.4 481.5 C858.6 481.6 869.2 480.5 873 480 C876.8 479.5 888.2 477.3 892 476.3 C895.8 475.3 906.6 471 910.8 470.4 C915 469.8 929.3 470.6 934 470.5 C938.7 470.4 951.7 469.3 957.8 469 C963.9 468.7 995 467.5 995 467.5 L995 420 L370 420 L370 476 Z" fill="#28be28"/><path d="M713.8 465.4 C715.2 464.7 726.9 467.9 730 469 C733.1 470.1 741.5 474.4 744.4 476 C747.2 477.6 756.6 484.2 758.5 485.4 C760.4 486.6 762.9 485.7 763 487.7 C763.1 489.7 760.6 502 760 505 C759.4 508 758.2 516.5 757 518 C755.8 519.5 749.5 520.8 748 520 C746.5 519.2 743.6 511.7 742 510 C740.4 508.3 733.8 504.2 732 503 C730.2 501.8 725 499.7 724 498 C723 496.3 722.8 488.2 722 486 C721.2 483.8 716.8 478.1 716 476 C715.2 473.9 712.4 466.1 713.8 465.4 Z" fill="#828282" stroke="#828282" stroke-width="4"/><path d="M713.8 465.4 C715.2 464.7 726.9 467.9 730 469 C733.1 470.1 741.5 474.4 744.4 476 C747.2 477.6 756.6 484.2 758.5 485.4 C760.4 486.6 762.9 485.7 763 487.7 C763.1 489.7 760.6 502 760 505 C759.4 508 758.2 516.5 757 518 C755.8 519.5 749.5 520.8 748 520 C746.5 519.2 743.6 511.7 742 510 C740.4 508.3 733.8 504.2 732 503 C730.2 501.8 725 499.7 724 498 C723 496.3 722.8 488.2 722 486 C721.2 483.8 716.8 478.1 716 476 C715.2 473.9 712.4 466.1 713.8 465.4 Z" fill="#969696"/><path d="M725.6 490 C726.8 487.7 729.5 483.4 732.6 483 C735.7 482.6 740.9 484.2 744.4 487.7 C747.9 491.2 751.9 499.3 753.8 504 C755.7 508.7 756.8 513.6 756 515.9 C755.2 518.2 751.3 519.2 749 518 C746.7 516.8 744.7 511.5 742 508.8 C739.3 506.1 735.3 503.8 732.6 501.8 C729.9 499.8 726.8 499 725.6 497 C724.4 495 724.4 492.3 725.6 490 Z" fill="#aaaaaa" stroke="#aaaaaa" stroke-width="4.8"/><path d="M725.6 490 C726.8 487.7 729.5 483.4 732.6 483 C735.7 482.6 740.9 484.2 744.4 487.7 C747.9 491.2 751.9 499.3 753.8 504 C755.7 508.7 756.8 513.6 756 515.9 C755.2 518.2 751.3 519.2 749 518 C746.7 516.8 744.7 511.5 742 508.8 C739.3 506.1 735.3 503.8 732.6 501.8 C729.9 499.8 726.8 499 725.6 497 C724.4 495 724.4 492.3 725.6 490 Z" fill="#bebebe" stroke="#bebebe" stroke-width="2.4"/><path d="M725.6 490 C726.8 487.7 729.5 483.4 732.6 483 C735.7 482.6 740.9 484.2 744.4 487.7 C747.9 491.2 751.9 499.3 753.8 504 C755.7 508.7 756.8 513.6 756 515.9 C755.2 518.2 751.3 519.2 749 518 C746.7 516.8 744.7 511.5 742 508.8 C739.3 506.1 735.3 503.8 732.6 501.8 C729.9 499.8 726.8 499 725.6 497 C724.4 495 724.4 492.3 725.6 490 Z" fill="#ffffff"/><path d="M700 512 C701.2 508.3 707.8 505 713 504 C718.2 503 727.2 504 731 506 C734.8 508 737.5 512.7 736 516 C734.5 519.3 727 524.3 722 526 C717 527.7 709.7 528.3 706 526 C702.3 523.7 698.8 515.7 700 512 Z" fill="#969696" stroke="#969696" stroke-width="4"/><path d="M700 512 C701.2 508.3 707.8 505 713 504 C718.2 503 727.2 504 731 506 C734.8 508 737.5 512.7 736 516 C734.5 519.3 727 524.3 722 526 C717 527.7 709.7 528.3 706 526 C702.3 523.7 698.8 515.7 700 512 Z" fill="#aaaaaa"/><path d="M706.8 513.5 C707.6 510.8 709.9 507.3 713.8 506.5 C717.7 505.7 726.9 507.2 730 508.8 C733.1 510.4 734.1 513.5 732.6 515.9 C731.1 518.3 724.9 521.8 721 523 C717.1 524.2 711.4 524.6 709 523 C706.6 521.4 706 516.2 706.8 513.5 Z" fill="#ffffff"/><path d="M683 516 C679.9 516.5 671.5 521.6 669 523 C666.5 524.4 658.9 528.1 657.5 530 C656.1 531.9 656 539.6 655 541.7 C654 543.8 649.2 548.7 648 551 C646.8 553.3 643.6 562.6 643.4 565 C643.2 567.4 645.9 572.7 645.7 574.6 C645.5 576.5 641.2 582.1 641 584 C640.8 585.9 642.5 591.8 643.4 593.4 C644.3 595 648.5 599 650.4 600.4 C652.3 601.8 659.6 606 662 607.4 C664.4 608.8 672.2 613 674 614.5 C675.8 616 678.8 621.9 680 622 C681.2 622.1 686.4 617.6 686 616 C685.6 614.4 678.2 608.2 676 606 C673.8 603.8 665.8 596.2 664 594 C662.2 591.8 658 586 658 584 C658 582 663 576.2 664 574 C665 571.8 666.8 564 668 562 C669.2 560 675.6 556.2 676 554 C676.4 551.8 671.2 542.4 672 540 C672.8 537.6 681.2 531.2 684 530 C686.8 528.8 698.4 529.2 700 528 C701.6 526.8 701.7 519.2 700 518 C698.3 516.8 686.1 515.5 683 516 Z" fill="#828282" stroke="#828282" stroke-width="3.6"/><path d="M683 516 C679.9 516.5 671.5 521.6 669 523 C666.5 524.4 658.9 528.1 657.5 530 C656.1 531.9 656 539.6 655 541.7 C654 543.8 649.2 548.7 648 551 C646.8 553.3 643.6 562.6 643.4 565 C643.2 567.4 645.9 572.7 645.7 574.6 C645.5 576.5 641.2 582.1 641 584 C640.8 585.9 642.5 591.8 643.4 593.4 C644.3 595 648.5 599 650.4 600.4 C652.3 601.8 659.6 606 662 607.4 C664.4 608.8 672.2 613 674 614.5 C675.8 616 678.8 621.9 680 622 C681.2 622.1 686.4 617.6 686 616 C685.6 614.4 678.2 608.2 676 606 C673.8 603.8 665.8 596.2 664 594 C662.2 591.8 658 586 658 584 C658 582 663 576.2 664 574 C665 571.8 666.8 564 668 562 C669.2 560 675.6 556.2 676 554 C676.4 551.8 671.2 542.4 672 540 C672.8 537.6 681.2 531.2 684 530 C686.8 528.8 698.4 529.2 700 528 C701.6 526.8 701.7 519.2 700 518 C698.3 516.8 686.1 515.5 683 516 Z" fill="#969696"/><path d="M664 534 C665.2 532.4 670.4 528.8 672 528 C673.6 527.2 680.2 524.8 680 526 C679.8 527.2 670.8 537.4 670 540 C669.2 542.6 672.6 549.8 672 552 C671.4 554.2 665.4 559.8 664 562 C662.6 564.2 659.2 571.8 658 574 C656.8 576.2 652.8 584.2 652 584 C651.2 583.8 649.8 574.8 650 572 C650.2 569.2 653 558.8 654 556 C655 553.2 659 546.2 660 544 C661 541.8 662.8 535.6 664 534 Z" fill="#aaaaaa"/><path d="M380 452 C381.9 450.4 392.3 452.4 396 454 C399.7 455.6 408 462.1 408 464 C408 465.9 399.5 467.7 396 468 C392.5 468.3 384.1 468.1 382 466 C379.9 463.9 378.1 453.6 380 452 Z" fill="#b4fab4"/><path d="M410 466 C413.3 465.2 435.5 468.7 440 470 C444.5 471.3 447.3 475.2 444 476 C440.7 476.8 419.5 477.3 415 476 C410.5 474.7 406.7 466.8 410 466 Z" fill="#73f06e"/><path d="M440 436 C441.6 434.7 453.9 436.7 456 438 C458.1 439.3 457.6 444.7 456 446 C454.4 447.3 446.1 449.3 444 448 C441.9 446.7 438.4 437.3 440 436 Z" fill="#0fa00f"/><path d="M486 462 C487.3 460.9 505.5 464.4 510 466 C514.5 467.6 521.3 472.9 520 474 C518.7 475.1 504.5 475.6 500 474 C495.5 472.4 484.7 463.1 486 462 Z" fill="#73f06e"/><path d="M590 495 C591.6 493.1 605.1 496 608 498 C610.9 500 613.6 508.1 612 510 C610.4 511.9 598.9 514 596 512 C593.1 510 588.4 496.9 590 495 Z" fill="#b4fab4"/><path d="M600 552 C601.3 549.9 613.3 553.6 616 556 C618.7 558.4 621.3 567.9 620 570 C618.7 572.1 608.7 574.4 606 572 C603.3 569.6 598.7 554.1 600 552 Z" fill="#b4fab4"/><path d="M560 530 C561.2 527.1 572.3 526 575 528 C577.7 530 581.2 542.1 580 545 C578.8 547.9 568.7 552 566 550 C563.3 548 558.8 532.9 560 530 Z" fill="#73f06e"/><path d="M612 520 C613.9 518.1 624.4 521.3 626 524 C627.6 526.7 625.9 538.1 624 540 C622.1 541.9 613.6 540.7 612 538 C610.4 535.3 610.1 521.9 612 520 Z" fill="#0fa00f"/><path d="M548 574 C548.5 571.9 557.6 575.1 560 578 C562.4 580.9 566.5 593.9 566 596 C565.5 598.1 558.4 596.9 556 594 C553.6 591.1 547.5 576.1 548 574 Z" fill="#73f06e"/><path d="M660 440 C661.9 437.9 684.7 435.2 690 436 C695.3 436.8 701.9 443.9 700 446 C698.1 448.1 681.3 452.8 676 452 C670.7 451.2 658.1 442.1 660 440 Z" fill="#73f06e"/><path d="M596 436 C597.1 435.5 600.8 443.9 604 446 C607.2 448.1 615.7 449.3 620 452 C624.3 454.7 636 463.6 636 466 C636 468.4 624 470.5 620 470 C616 469.5 609.2 464.7 606 462 C602.8 459.3 597.3 453.5 596 450 C594.7 446.5 594.9 436.5 596 436 Z" fill="#0fa00f"/><path d="M575 600 C575.3 598.7 586.7 603.6 590 606 C593.3 608.4 600.3 616.7 600 618 C599.7 619.3 591.3 618.4 588 616 C584.7 613.6 574.7 601.3 575 600 Z" fill="#50f050"/><path d="M379 458 C381.1 457 395.4 461.2 400 462 C404.6 462.8 420.2 465.8 425 466 C429.8 466.2 443.9 463.8 448 464 C452.1 464.2 463 466.6 466 468 C469 469.4 477.6 476.8 478 478 C478.4 479.2 473 480.4 470 480 C467 479.6 452.5 474.4 448 474 C443.5 473.6 429.8 476 425 476 C420.2 476 404.6 474.4 400 474 C395.4 473.6 381.1 473.6 379 472 C376.9 470.4 376.9 459 379 458 Z" fill="#73f06e"/><path d="M384 462 C385.7 461.2 394.3 464 400 465 C405.7 466 416.3 466.8 418 468 C419.7 469.2 414.7 471.7 410 472 C405.3 472.3 394.3 471.7 390 470 C385.7 468.3 382.3 462.8 384 462 Z" fill="#b4fab4"/><path d="M606.8 557.1 C606.1 557.2 605.3 556.5 605 555.3 C604.7 554 604.6 551.5 604.7 549.8 C604.8 548.1 605.1 545.4 605.8 544.9 C606.4 544.4 607.8 545.9 608.5 546.7 C609.1 547.5 609.8 548.1 609.8 549.5 C609.9 550.9 609.2 553.8 608.7 555.1 C608.1 556.3 607.4 557.1 606.8 557.1 Z" fill="#0fa00f"/><path d="M563 490.6 C562.6 490.8 561.9 490.2 561.5 489.5 C561 488.8 560.3 487.6 560.2 486.5 C560.1 485.5 560.4 483.7 560.8 483.2 C561.1 482.6 561.9 482.8 562.4 483.3 C562.9 483.7 563.4 485 563.7 485.9 C564 486.7 564.3 487.6 564.2 488.4 C564.1 489.2 563.5 490.4 563 490.6 Z" fill="#0fa00f"/><path d="M548.6 506.7 C548.3 507.4 547.5 508.1 546.6 508.2 C545.6 508.2 544.1 507.6 543 506.9 C541.8 506.3 540.2 505 539.8 504.3 C539.4 503.6 539.9 502.8 540.7 502.5 C541.5 502.3 543.4 502.4 544.6 502.6 C545.9 502.9 547.7 503.2 548.4 503.9 C549 504.5 548.9 505.9 548.6 506.7 Z" fill="#50f050"/><path d="M571.9 519.6 C571.6 520.3 570.4 520.8 569.1 520.8 C567.8 520.7 565.6 520 563.9 519.3 C562.3 518.6 559.9 517.4 559.2 516.6 C558.5 515.8 558.8 514.9 559.8 514.5 C560.9 514.1 563.5 513.8 565.3 514.2 C567.1 514.6 569.6 516 570.7 516.9 C571.8 517.8 572.1 519 571.9 519.6 Z" fill="#0fa00f"/><path d="M555.5 588.4 C555.4 587.5 557 585.5 558.2 584.7 C559.5 583.9 561.5 583.5 563.1 583.5 C564.6 583.5 566.7 584.1 567.6 584.8 C568.6 585.5 569.6 586.7 569 587.7 C568.5 588.7 565.8 590.4 564.2 590.8 C562.5 591.3 560.5 590.7 559.1 590.3 C557.6 589.9 555.7 589.4 555.5 588.4 Z" fill="#73f06e"/><path d="M622.7 464.9 C622.9 464.3 624.1 463.6 625 463.1 C625.9 462.6 627.1 461.8 628.3 461.8 C629.4 461.9 631.4 462.8 631.9 463.4 C632.5 464 632.1 464.8 631.5 465.4 C630.9 466 629.7 466.6 628.5 466.8 C627.2 466.9 625 466.7 624.1 466.4 C623.1 466.1 622.6 465.4 622.7 464.9 Z" fill="#1e6eeb"/><path d="M627.9 456.4 C627.6 455.7 628.6 454.1 629.5 453.3 C630.4 452.4 632.2 451.5 633.4 451.2 C634.6 450.9 635.9 451.3 636.8 451.6 C637.6 452 638.6 452.6 638.5 453.3 C638.3 454.1 636.9 455.4 635.7 456.1 C634.5 456.8 632.4 457.7 631 457.8 C629.7 457.8 628.1 457.2 627.9 456.4 Z" fill="#fffaaa"/><path d="M643.8 481.6 C643.3 481.2 642.9 480.4 642.8 479.6 C642.8 478.9 642.8 477.6 643.3 476.9 C643.9 476.2 645.4 475.4 646.1 475.4 C646.8 475.4 647.4 476 647.6 476.7 C647.9 477.3 647.9 478.6 647.6 479.5 C647.3 480.4 646.6 481.7 646 482 C645.4 482.4 644.3 482 643.8 481.6 Z" fill="#1e6eeb"/><path d="M559.7 532.6 C559.3 532.9 558.4 533 558 532.4 C557.5 531.7 557.1 530 556.9 528.8 C556.8 527.6 556.6 525.8 556.9 525.2 C557.2 524.5 558 524.6 558.6 525 C559.3 525.4 560.5 526.7 560.8 527.6 C561.1 528.5 560.8 529.8 560.7 530.6 C560.5 531.4 560.2 532.3 559.7 532.6 Z" fill="#73f06e"/><path d="M571 470.1 C570.5 470.2 569.8 469.5 569.5 468.9 C569.1 468.2 568.7 466.8 568.7 466 C568.6 465.2 568.9 464.7 569.2 464.3 C569.5 463.8 570.1 462.9 570.5 463.1 C571 463.4 571.7 464.6 571.9 465.5 C572.2 466.4 572.4 467.6 572.2 468.4 C572 469.2 571.4 470.1 571 470.1 Z" fill="#0fa00f"/><path d="M605.3 572.4 C604.4 572.2 603.9 570.1 603.6 568.3 C603.3 566.5 602.9 563.6 603.4 561.8 C603.9 560 605.7 557.9 606.8 557.5 C607.9 557.1 609.3 558.4 610.1 559.4 C611 560.4 611.9 561.8 611.8 563.5 C611.7 565.1 610.4 567.9 609.4 569.4 C608.3 570.9 606.3 572.6 605.3 572.4 Z" fill="#b4fab4"/><path d="M590.2 623.4 C589.8 624.2 587.6 625 586.3 625.3 C585 625.6 583.6 625.6 582.6 625 C581.6 624.5 580.6 623 580.1 622 C579.6 621.1 578.8 619.9 579.5 619.3 C580.2 618.7 582.8 618.4 584.3 618.5 C585.8 618.6 587.8 619.1 588.7 620 C589.7 620.8 590.6 622.5 590.2 623.4 Z" fill="#b4fab4"/><path d="M693.9 458.6 C693.5 459 692.5 458.8 691.7 458.4 C690.9 458 689.5 457.2 688.9 456.2 C688.3 455.2 687.9 453.3 688.1 452.5 C688.2 451.7 688.9 451.2 689.7 451.3 C690.4 451.5 691.8 452.5 692.5 453.3 C693.3 454.1 693.9 455.2 694.1 456.1 C694.3 457 694.3 458.2 693.9 458.6 Z" fill="#0fa00f"/><path d="M615.4 563.2 C614.9 563.1 614.5 562.7 614.2 562.1 C613.9 561.5 613.6 560.3 613.7 559.5 C613.8 558.7 614.2 557.4 614.7 557.2 C615.1 556.9 616 557.5 616.5 558 C617 558.4 617.3 559.1 617.4 559.8 C617.6 560.5 617.6 561.8 617.2 562.4 C616.9 562.9 615.9 563.2 615.4 563.2 Z" fill="#fffaaa"/><path d="M608.9 502.6 C608.7 502 608.7 501 609.1 500.6 C609.4 500.1 610.4 499.9 611.1 499.9 C611.8 499.9 612.9 500.3 613.4 500.7 C613.8 501.1 614.1 501.7 613.9 502.3 C613.7 502.8 612.7 503.6 612.1 503.9 C611.4 504.2 610.5 504.4 610 504.2 C609.4 504 609 503.2 608.9 502.6 Z" fill="#0fa00f"/><path d="M607.5 515.7 C607.2 516.4 606.3 517 605.4 516.9 C604.6 516.9 603.2 516 602.4 515.4 C601.6 514.8 600.8 514 600.6 513.3 C600.5 512.6 600.8 511.6 601.5 511.2 C602.3 510.8 604.1 510.7 605 511 C606 511.2 606.7 511.9 607.1 512.7 C607.5 513.5 607.8 515 607.5 515.7 Z" fill="#0fa00f"/><path d="M682.7 467 C682.2 467.4 681.2 467.6 680.6 467.4 C679.9 467.2 679.4 466.4 679 465.9 C678.7 465.3 678.4 464.9 678.5 464.2 C678.7 463.6 679.1 462.2 679.8 462 C680.4 461.8 681.6 462.5 682.3 463 C682.9 463.6 683.5 464.5 683.6 465.2 C683.7 465.8 683.3 466.7 682.7 467 Z" fill="#50f050"/><path d="M649.9 476.6 C649.8 477 648.9 477.3 648.2 477.6 C647.4 477.9 646.3 478.4 645.5 478.2 C644.7 478 643.3 477 643.1 476.4 C642.9 475.9 643.8 475.4 644.3 475 C644.8 474.6 645.4 474.1 646.1 474.2 C646.8 474.2 648 474.6 648.6 475 C649.2 475.4 649.9 476.1 649.9 476.6 Z" fill="#73f06e"/><path d="M614.3 529.4 C613.8 529.1 614 527.8 614.3 526.7 C614.7 525.6 615.6 523.6 616.4 522.7 C617.2 521.7 618.2 521.2 619.1 520.9 C620 520.6 621.7 520.1 621.9 520.8 C622.1 521.5 621.2 523.8 620.4 525.1 C619.6 526.4 618.1 528 617.1 528.7 C616.1 529.4 614.8 529.7 614.3 529.4 Z" fill="#73f06e"/><path d="M656.7 452.4 C656.7 453.1 656.3 454 655.5 454.4 C654.7 454.8 653 454.9 652 454.7 C651 454.6 649.8 453.9 649.4 453.2 C649.1 452.6 649.3 451.5 649.8 450.9 C650.2 450.3 651.1 449.8 652.1 449.7 C653 449.5 654.7 449.6 655.4 450.1 C656.2 450.5 656.7 451.7 656.7 452.4 Z" fill="#0fa00f"/><path d="M574.7 521.7 C574.3 521.8 573.4 521.4 572.9 521 C572.4 520.6 571.9 519.9 571.7 519.3 C571.6 518.7 571.8 517.7 572.1 517.3 C572.4 517 573.2 517.1 573.6 517.2 C574 517.4 574.3 517.6 574.5 518.1 C574.8 518.6 575.2 519.7 575.2 520.3 C575.3 520.9 575.1 521.6 574.7 521.7 Z" fill="#73f06e"/><path d="M615.7 473.2 C615.7 473.8 614.3 474.3 613.1 474.5 C611.9 474.7 609.7 474.7 608.5 474.3 C607.2 474 605.9 473.1 605.5 472.5 C605.1 471.8 605.2 470.9 605.8 470.5 C606.5 470.1 608.2 470.1 609.5 470.1 C610.7 470.1 612.5 470.1 613.5 470.6 C614.6 471.2 615.8 472.6 615.7 473.2 Z" fill="#0fa00f"/><path d="M588.6 619.6 C588.5 618.9 590.7 617.7 592.2 617.2 C593.7 616.8 595.7 616.8 597.5 617 C599.3 617.1 602.5 617.4 603.2 617.9 C604 618.5 603 619.7 602.1 620.3 C601.3 620.9 599.6 621.5 598 621.6 C596.5 621.8 594.5 621.7 592.9 621.4 C591.4 621 588.8 620.3 588.6 619.6 Z" fill="#73f06e"/><path d="M610.2 480.3 C610 480.7 609.4 481.1 608.7 481.2 C608 481.3 606.8 481 606.1 480.6 C605.3 480.2 604.3 479.4 604.1 478.8 C603.9 478.3 604.4 477.6 605 477.3 C605.6 477 607 476.7 607.8 476.9 C608.6 477.1 609.6 477.9 610 478.5 C610.4 479 610.4 479.8 610.2 480.3 Z" fill="#0fa00f"/><path d="M589.7 497.3 C588.9 497.3 587.2 497 587.1 495.9 C586.9 494.8 588.4 492 589 490.8 C589.7 489.6 590.2 489 591 488.7 C591.8 488.3 593.2 488.1 593.8 488.7 C594.4 489.4 594.7 491.6 594.4 492.8 C594.2 494 593.1 495.3 592.3 496.1 C591.5 496.8 590.6 497.4 589.7 497.3 Z" fill="#0fa00f"/><path d="M591 537.2 C590.6 536.9 590.2 536.4 590.5 535.7 C590.8 535 592.1 533.7 592.9 533 C593.7 532.3 594.7 531.7 595.3 531.6 C595.9 531.6 596.5 532 596.5 532.6 C596.5 533.1 595.9 534 595.3 534.9 C594.6 535.7 593.3 537.2 592.6 537.6 C591.8 538 591.3 537.6 591 537.2 Z" fill="#b4fab4"/><path d="M546.8 555.6 C546.3 555.8 545.4 555.5 544.5 554.9 C543.7 554.4 542.3 553.2 541.7 552.2 C541.1 551.2 541 549.7 541.1 549 C541.2 548.3 541.7 547.7 542.3 547.9 C542.9 548.1 543.9 549.2 544.8 550.1 C545.6 551.1 547.1 552.9 547.4 553.8 C547.8 554.7 547.3 555.4 546.8 555.6 Z" fill="#50f050"/><path d="M587.6 522.2 C587.1 522.7 585.9 522.8 584.8 522.4 C583.6 522.1 581.6 521.3 580.8 520.3 C579.9 519.3 579.4 517.3 579.5 516.4 C579.5 515.4 580.3 514.6 581.3 514.4 C582.3 514.3 584.5 514.5 585.5 515.3 C586.5 516.2 587.2 518.3 587.5 519.5 C587.8 520.6 588 521.8 587.6 522.2 Z" fill="#1e6eeb"/><path d="M615.1 552.9 C614.7 552.6 615 551 615.2 549.8 C615.4 548.6 615.6 546.6 616.2 545.6 C616.7 544.7 618 544 618.7 543.9 C619.4 543.7 620.3 544 620.5 544.6 C620.7 545.3 620.3 546.5 619.9 547.6 C619.4 548.7 618.7 550.5 617.9 551.4 C617.1 552.3 615.6 553.2 615.1 552.9 Z" fill="#1e6eeb"/><path d="M608.9 547.9 C608.5 547 608.9 545.4 609.8 544.5 C610.7 543.6 612.7 542.5 614.1 542.4 C615.5 542.3 617.2 543.1 618 543.9 C618.8 544.6 619.3 546 619 546.9 C618.6 547.8 616.9 548.8 615.8 549.4 C614.7 549.9 613.4 550.3 612.2 550.1 C611.1 549.8 609.3 548.8 608.9 547.9 Z" fill="#50f050"/><path d="M568.3 524.5 C568.1 524.9 567.1 525.1 566.3 525.3 C565.6 525.4 564.6 525.7 563.7 525.4 C562.8 525.2 561.3 524.2 561.1 523.8 C560.9 523.3 561.8 523 562.3 522.7 C562.9 522.5 563.5 522.2 564.4 522.2 C565.2 522.2 566.6 522.5 567.3 522.9 C567.9 523.2 568.5 524.1 568.3 524.5 Z" fill="#fffaaa"/><path d="M565.3 478 C564.9 477.5 565 476 565.3 475.2 C565.6 474.4 566.6 473.8 567.3 473.3 C568 472.8 568.9 472.3 569.5 472.4 C570.1 472.5 570.7 473.2 570.8 473.9 C571 474.6 570.8 476.1 570.3 476.8 C569.7 477.5 568.3 478 567.5 478.2 C566.7 478.4 565.7 478.5 565.3 478 Z" fill="#73f06e"/><path d="M618.2 545 C617.8 544.8 617.3 544.2 617.4 543.5 C617.5 542.8 618.4 541.5 618.8 540.9 C619.3 540.3 619.8 539.8 620.3 539.7 C620.8 539.6 621.4 539.9 621.6 540.3 C621.8 540.7 621.9 541.6 621.5 542.4 C621.2 543.1 620.1 544.4 619.6 544.9 C619 545.3 618.5 545.2 618.2 545 Z" fill="#fffaaa"/><path d="M616.5 471.2 C616.1 470.5 615.4 469.9 616 468.8 C616.7 467.7 618.6 465.7 620.3 464.8 C621.9 463.9 624.6 463.3 625.8 463.5 C626.9 463.7 627.5 465 627.2 466.1 C626.9 467.3 625.5 469.3 624 470.4 C622.5 471.5 619.4 472.7 618.2 472.8 C616.9 473 616.8 471.9 616.5 471.2 Z" fill="#73f06e"/><path d="M621.7 473.2 C621 473.6 619.6 473.6 618.8 473.2 C617.9 472.7 617.2 471.6 616.8 470.7 C616.3 469.7 615.9 468.5 616.1 467.6 C616.3 466.8 617.2 465.5 618.1 465.6 C618.9 465.6 620.4 466.8 621.1 467.8 C621.9 468.7 622.5 470.1 622.6 471.1 C622.7 472 622.3 472.9 621.7 473.2 Z" fill="#b4fab4"/><path d="M624.1 531.9 C623.8 531.5 623.7 530.9 623.9 530.4 C624.1 529.9 624.7 529.2 625.3 528.9 C625.9 528.6 627 528.4 627.4 528.6 C627.8 528.8 627.9 529.5 628 530.1 C628 530.6 627.9 531.5 627.5 531.9 C627.1 532.3 626.1 532.7 625.5 532.7 C625 532.7 624.4 532.2 624.1 531.9 Z" fill="#fffaaa"/><path d="M589.3 605.9 C589.2 606.5 589 607.2 588.3 607.3 C587.6 607.4 586 606.9 585.2 606.5 C584.5 606.1 583.8 605.5 583.6 604.9 C583.3 604.4 583.3 603.8 583.7 603.4 C584.1 603.1 585.2 602.8 586.1 602.9 C586.9 603 588.4 603.6 589 604.1 C589.5 604.6 589.4 605.4 589.3 605.9 Z" fill="#73f06e"/><path d="M584 524.5 C583.6 524.2 583.9 522.8 584.1 521.9 C584.3 521.1 584.6 520 585.2 519.4 C585.7 518.9 586.7 518.5 587.4 518.5 C588 518.4 588.9 518.5 589.1 519 C589.3 519.6 588.9 520.8 588.5 521.6 C588.1 522.5 587.3 523.4 586.5 523.9 C585.8 524.4 584.4 524.9 584 524.5 Z" fill="#b4fab4"/><path d="M614.8 471.6 C613.9 471.7 613 471.3 612.6 470.3 C612.1 469.2 612 466.9 612.2 465.4 C612.4 463.9 612.9 461.8 613.7 461.2 C614.6 460.6 616.3 461.2 617.1 461.9 C617.8 462.7 618.2 464.3 618.4 465.6 C618.6 466.9 618.7 468.8 618.1 469.8 C617.5 470.8 615.7 471.6 614.8 471.6 Z" fill="#fffaaa"/><path d="M621.6 551.3 C621.7 550.6 622 549.6 622.8 549.2 C623.5 548.8 625 548.7 626.1 548.9 C627.3 549.1 629.3 549.7 629.8 550.2 C630.4 550.7 630 551.4 629.4 551.9 C628.8 552.4 627.4 552.8 626.2 553.1 C624.9 553.3 622.8 553.6 622.1 553.3 C621.3 553.1 621.5 552 621.6 551.3 Z" fill="#1e6eeb"/><path d="M613.2 469.1 C612.9 469.5 612.1 469.6 611.2 469.4 C610.3 469.2 608.8 468.5 607.8 467.8 C606.8 467.2 605.4 466 605.3 465.4 C605.1 464.8 606.1 464.4 606.9 464.2 C607.6 464.1 608.8 464.1 609.9 464.5 C610.9 465 612.4 466.1 612.9 466.8 C613.5 467.6 613.5 468.7 613.2 469.1 Z" fill="#0fa00f"/><path d="M626.2 526.5 C626.1 527.4 624.6 528.6 623.1 528.8 C621.6 529.1 618.7 528.6 617.3 528.1 C615.8 527.7 614.7 527 614.2 526.1 C613.6 525.2 613 523.6 613.8 522.7 C614.6 521.9 617.2 521 618.8 521.1 C620.5 521.2 622.5 522.4 623.7 523.3 C624.9 524.2 626.3 525.6 626.2 526.5 Z" fill="#b4fab4"/><path d="M576.9 519.4 C576.6 518.9 577.6 518 578.5 517.3 C579.4 516.6 581.2 515.7 582.5 515.4 C583.9 515.2 585.8 515.4 586.5 515.8 C587.2 516.1 587.2 516.7 586.8 517.4 C586.3 518.1 584.9 519.7 583.8 520.1 C582.7 520.6 581.5 520.2 580.3 520 C579.2 519.9 577.2 519.8 576.9 519.4 Z" fill="#73f06e"/><path d="M578.3 505.3 C578.2 504.8 578.5 503.7 578.8 503.1 C579.2 502.6 579.8 502.3 580.5 501.9 C581.2 501.6 582.5 501 583 501.2 C583.5 501.3 583.5 502.1 583.4 502.7 C583.3 503.3 583 504.4 582.4 504.9 C581.8 505.4 580.4 505.6 579.7 505.7 C579 505.8 578.5 505.7 578.3 505.3 Z" fill="#1e6eeb"/><path d="M566.8 566.1 C566.8 566.7 566.5 567.6 566 567.9 C565.4 568.2 564.2 568.3 563.5 568 C562.7 567.7 561.5 566.8 561.3 566.2 C561.2 565.7 562 565.1 562.5 564.6 C563 564.1 563.6 563.3 564.2 563.3 C564.8 563.3 565.6 564 566 564.5 C566.5 565 566.8 565.6 566.8 566.1 Z" fill="#3c96f5"/><path d="M567.2 577.3 C566.4 577 565.3 576.4 565.4 575.1 C565.5 573.8 566.9 570.8 567.8 569.5 C568.7 568.2 569.9 567.5 570.9 567.2 C572 566.9 573.7 567.1 574 567.9 C574.4 568.8 573.6 570.7 572.9 572.2 C572.3 573.7 570.9 576.2 569.9 577.1 C569 577.9 568 577.6 567.2 577.3 Z" fill="#b4fab4"/><path d="M570.6 602.2 C570.3 601.9 570 601.1 570.2 600.5 C570.4 600 571.3 599.2 571.9 598.8 C572.6 598.4 573.6 597.9 574.1 597.9 C574.7 597.9 575.2 598.2 575.2 598.7 C575.2 599.3 574.7 600.4 574.2 601.1 C573.6 601.7 572.8 602.2 572.2 602.4 C571.6 602.6 571 602.5 570.6 602.2 Z" fill="#b4fab4"/><path d="M663.7 477.5 C663 477.7 661.8 476.3 661.1 475.1 C660.3 474 659.4 471.9 659.3 470.7 C659.2 469.4 659.8 468.5 660.4 467.7 C661 466.9 662.2 465.5 662.9 465.8 C663.6 466.1 664.5 468.1 664.9 469.5 C665.2 470.8 665.2 472.6 665 473.9 C664.8 475.2 664.4 477.3 663.7 477.5 Z" fill="#73f06e"/><path d="M611.7 527.8 C611.1 527.2 611 526.2 611.3 525.5 C611.6 524.7 612.6 523.6 613.3 523.3 C614 523 614.8 523.2 615.5 523.5 C616.3 523.7 617.4 524.3 617.6 525 C617.7 525.8 617.1 527.2 616.6 527.8 C616.1 528.5 615.4 528.9 614.5 528.9 C613.7 528.9 612.2 528.3 611.7 527.8 Z" fill="#b4fab4"/><path d="M555.9 491.4 C555.6 491 556 489.9 556.6 489.4 C557.1 488.8 558.1 488.3 559 487.8 C560 487.4 561.7 486.7 562.2 486.8 C562.7 486.9 562.4 488 562.1 488.5 C561.9 489 561.3 489.5 560.6 490 C559.9 490.6 558.8 491.6 558 491.8 C557.2 492 556.1 491.8 555.9 491.4 Z" fill="#50f050"/><path d="M557.1 518.1 C557 518.8 555.8 519.4 555.1 519.6 C554.4 519.8 553.5 519.8 552.9 519.5 C552.2 519.3 551.4 518.8 551.3 518.1 C551.2 517.5 551.6 516.3 552 515.7 C552.5 515.1 553.3 514.5 554 514.5 C554.6 514.5 555.4 515.1 555.9 515.7 C556.4 516.3 557.2 517.5 557.1 518.1 Z" fill="#0fa00f"/><path d="M636.7 451.5 C636.4 450.9 636.3 449.9 636.9 449.2 C637.5 448.5 639.4 447.6 640.5 447.3 C641.5 447 642.6 447.1 643.3 447.4 C643.9 447.7 644.6 448.5 644.4 449.2 C644.2 449.8 643.1 451 642.2 451.6 C641.3 452.2 639.8 452.7 638.9 452.7 C638 452.6 637.1 452.1 636.7 451.5 Z" fill="#50f050"/><path d="M578.8 522.1 C578.3 522.6 576.4 522.4 575.3 521.7 C574.2 520.9 572.8 518.9 572.1 517.8 C571.4 516.6 570.7 515.5 570.8 514.8 C571 514.1 572.1 513.6 573 513.5 C573.9 513.5 575.2 513.7 576.1 514.6 C576.9 515.5 577.7 517.5 578.1 518.7 C578.5 520 579.2 521.6 578.8 522.1 Z" fill="#50f050"/><path d="M596.3 488.2 C595.9 488 595.5 487.4 595.3 486.9 C595.2 486.4 595.2 485.7 595.5 485.2 C595.8 484.7 596.6 484 597.1 483.9 C597.5 483.8 597.8 484.3 598.1 484.6 C598.3 485 598.6 485.5 598.5 486.1 C598.5 486.6 598.3 487.5 597.9 487.8 C597.6 488.2 596.8 488.4 596.3 488.2 Z" fill="#73f06e"/><path d="M571.4 497.4 C571.4 497.9 571 498.6 570.4 499 C569.7 499.4 568.1 499.9 567.4 499.7 C566.7 499.5 566.3 498.5 566 497.8 C565.7 497.1 565.5 495.9 565.8 495.4 C566.1 494.9 567.2 494.8 568 494.8 C568.7 494.9 569.9 495.3 570.5 495.7 C571.1 496.1 571.4 496.8 571.4 497.4 Z" fill="#73f06e"/><path d="M604.1 519.6 C603.7 519.7 603.3 519.8 602.8 519.5 C602.3 519.1 601.5 518 601.2 517.3 C600.9 516.7 600.9 516.1 601 515.6 C601.1 515.2 601.4 514.6 601.8 514.7 C602.3 514.7 603.3 515.2 603.8 515.8 C604.3 516.4 604.8 517.7 604.9 518.3 C604.9 518.9 604.4 519.4 604.1 519.6 Z" fill="#b4fab4"/><path d="M540 522.3 C539.5 522.1 538.9 521.6 538.8 521 C538.7 520.4 539.2 519.4 539.5 518.6 C539.9 517.9 540.5 516.9 540.9 516.7 C541.3 516.5 541.9 516.8 542.1 517.3 C542.4 517.7 542.4 518.5 542.3 519.3 C542.3 520.1 542 521.5 541.6 522 C541.2 522.5 540.4 522.5 540 522.3 Z" fill="#0fa00f"/><path d="M597.2 523 C597 522.4 596.8 521.7 597.1 521 C597.5 520.3 598.6 519 599.4 518.8 C600.2 518.7 601.4 519.5 602 520 C602.6 520.6 603 521.5 602.9 522 C602.8 522.6 602 523.1 601.2 523.5 C600.5 524 599.2 524.7 598.5 524.6 C597.8 524.5 597.5 523.6 597.2 523 Z" fill="#3c96f5"/><path d="M568.4 543.3 C567.5 543 566.9 540.6 566.8 539.3 C566.7 538 567.1 536.5 567.9 535.4 C568.6 534.3 570.1 532.9 571.2 532.5 C572.2 532.2 573.8 532.3 574.3 533.3 C574.8 534.2 574.6 536.7 574.2 538.1 C573.8 539.5 572.9 540.8 571.9 541.6 C570.9 542.5 569.2 543.7 568.4 543.3 Z" fill="#0fa00f"/><path d="M595.7 498.3 C595.1 498.7 594.2 498.8 593.4 498.6 C592.5 498.3 591.5 497.6 590.7 496.8 C590 495.9 588.9 494.3 588.9 493.5 C588.9 492.7 590 492.1 590.8 492.1 C591.6 492.1 592.6 492.7 593.6 493.4 C594.6 494 596.5 495.3 596.8 496.1 C597.2 496.9 596.2 497.9 595.7 498.3 Z" fill="#0fa00f"/><path d="M569.3 585.9 C568.8 585.4 568.6 584.2 569 583.2 C569.4 582.2 570.8 580.3 571.7 579.7 C572.6 579 573.8 579.3 574.7 579.4 C575.5 579.4 576.8 579.5 576.8 580.2 C576.8 580.9 575.6 582.4 574.9 583.4 C574.1 584.5 573.2 586 572.3 586.4 C571.3 586.8 569.8 586.4 569.3 585.9 Z" fill="#b4fab4"/><path d="M598.7 565.6 C598.7 564.9 598.9 563.7 599.5 563.4 C600 563 601.3 563.2 602 563.4 C602.8 563.6 603.5 564 603.8 564.6 C604.2 565.1 604.4 566 604.1 566.6 C603.8 567.1 602.8 567.6 602 567.9 C601.2 568.1 599.8 568.3 599.2 568 C598.7 567.6 598.7 566.4 598.7 565.6 Z" fill="#1e6eeb"/><path d="M573.6 517.4 C573.6 516.6 574.9 515.9 575.7 515.2 C576.6 514.6 577.9 513.5 578.9 513.6 C579.9 513.7 581.3 514.8 581.8 515.6 C582.3 516.4 582.1 517.4 581.7 518.1 C581.3 518.9 580.2 519.8 579.2 520.1 C578.3 520.4 576.9 520.2 576 519.7 C575.1 519.3 573.7 518.1 573.6 517.4 Z" fill="#50f050"/><path d="M579.2 486.7 C578.8 487.1 577.6 486.4 576.8 486.1 C576 485.8 574.8 485.6 574.4 485 C574 484.5 574 483.4 574.1 482.8 C574.2 482.1 574.6 481.4 575.2 481.3 C575.7 481.2 576.7 481.6 577.4 482.1 C578 482.6 578.6 483.3 578.9 484.1 C579.2 484.9 579.5 486.4 579.2 486.7 Z" fill="#b4fab4"/><path d="M602 580.7 C602 581.2 601.6 582 600.8 582.3 C600.1 582.5 598.4 582.5 597.4 582.3 C596.5 582.1 595.6 581.4 595.1 580.9 C594.6 580.5 593.9 579.8 594.4 579.4 C594.8 579.1 596.7 578.8 597.8 578.8 C598.9 578.8 600.4 579.1 601.1 579.4 C601.8 579.7 602.1 580.3 602 580.7 Z" fill="#1e6eeb"/><path d="M590.5 528 C590.1 528.2 589.4 527.8 588.9 527.2 C588.5 526.7 588.2 525.6 588 524.8 C587.9 524 587.8 522.9 588 522.5 C588.2 522 588.8 521.8 589.3 522.1 C589.9 522.3 590.8 523.3 591.1 523.9 C591.4 524.6 591.2 525.3 591.1 526 C591 526.7 590.9 527.8 590.5 528 Z" fill="#0fa00f"/><path d="M559.2 514.6 C558.2 514.3 556.7 513.6 556.5 512.5 C556.4 511.3 557.5 508.8 558.5 507.5 C559.4 506.2 561 505.2 562.1 504.9 C563.2 504.6 564.6 504.7 565.1 505.7 C565.6 506.6 565.6 509.2 565.1 510.6 C564.7 512.1 563.3 513.6 562.3 514.3 C561.3 515 560.1 514.9 559.2 514.6 Z" fill="#73f06e"/><path d="M574.3 559.9 C574.4 560.6 573.7 561 572.6 561.4 C571.5 561.8 569.1 562.5 567.7 562.3 C566.3 562 564.6 560.7 564.1 559.9 C563.5 559.1 563.6 558.1 564.3 557.5 C565 556.9 567.1 556.4 568.3 556.3 C569.6 556.3 571 556.6 572 557.2 C573 557.8 574.2 559.1 574.3 559.9 Z" fill="#0fa00f"/><path d="M607 486.6 C607 485.6 608.4 483.5 609.6 482.7 C610.8 482 612.7 481.9 614.4 481.9 C616.1 481.9 618.8 481.8 619.7 482.5 C620.6 483.2 620.4 485 619.7 485.9 C619 486.8 617 487.8 615.3 488.2 C613.7 488.6 611.1 488.7 609.7 488.4 C608.3 488.1 607.1 487.5 607 486.6 Z" fill="#50f050"/><path d="M570.2 605.3 C569.5 605 568.8 604 568.3 602.7 C567.8 601.4 566.9 599.3 567.3 597.6 C567.7 595.8 569.9 593 570.9 592.5 C571.9 592 572.7 593.6 573.4 594.6 C574.1 595.6 575.2 596.7 575.1 598.4 C574.9 600.2 573.4 603.7 572.6 604.9 C571.8 606 570.9 605.7 570.2 605.3 Z" fill="#50f050"/><path d="M436.9 470 C436.4 469.4 436.1 467.9 436.8 466.6 C437.5 465.2 439.6 463.1 441 461.9 C442.4 460.7 444.1 459.8 445.2 459.5 C446.2 459.2 447.4 459.3 447.3 460.2 C447.2 461.2 445.8 463.5 444.6 465.2 C443.4 466.8 441.1 469.3 439.9 470.1 C438.6 470.9 437.4 470.6 436.9 470 Z" fill="#50f050"/><path d="M397.3 468 C397.1 468.6 396.7 469.7 396.1 470 C395.5 470.3 394.1 470.1 393.5 469.6 C392.8 469.2 392.3 468 392.4 467.2 C392.4 466.5 393.1 465.6 393.7 465 C394.2 464.5 395 463.9 395.7 464.1 C396.3 464.2 397.4 465.5 397.6 466.1 C397.9 466.8 397.6 467.4 397.3 468 Z" fill="#0fa00f"/><path d="M418 442.8 C417.6 443 416.4 442.6 415.7 442 C414.9 441.5 414.3 440.3 413.8 439.4 C413.3 438.6 412.6 437.3 412.7 436.8 C412.9 436.3 413.8 436.3 414.4 436.4 C415.1 436.5 415.9 436.9 416.5 437.7 C417.1 438.5 417.7 440.2 418 441 C418.2 441.9 418.4 442.7 418 442.8 Z" fill="#73f06e"/><path d="M462.3 448.7 C462.3 449.8 462 451.5 461.2 452 C460.3 452.4 458.3 451.8 457.2 451.3 C456.1 450.9 454.7 450.2 454.4 449.3 C454.2 448.4 455 446.8 455.6 445.9 C456.2 445 457.2 444 458.1 443.9 C459 443.7 460.5 444.2 461.2 445 C461.9 445.8 462.3 447.5 462.3 448.7 Z" fill="#73f06e"/><path d="M391.2 452.4 C390.5 452.7 389.2 451.9 388.2 451.1 C387.1 450.3 385.5 449.1 384.7 447.5 C384 445.8 383.3 442.1 383.7 441.2 C384.1 440.3 386.2 441.4 387.3 441.9 C388.4 442.5 389.2 443.1 390.1 444.3 C390.9 445.4 392 447.7 392.2 449 C392.4 450.3 391.8 452 391.2 452.4 Z" fill="#50f050"/><path d="M458.6 453.1 C458.5 452.3 458.9 450.9 459.5 450.2 C460.2 449.6 461.6 449 462.5 449 C463.3 449 464.2 449.7 464.7 450.3 C465.2 450.9 465.5 452 465.4 452.6 C465.2 453.3 464.6 453.9 463.8 454.4 C463 454.8 461.4 455.3 460.6 455.1 C459.7 454.9 458.8 453.9 458.6 453.1 Z" fill="#73f06e"/><path d="M456.9 455.2 C456.6 455.9 454.9 456.2 453.9 456.2 C452.9 456.2 451.7 455.7 450.8 455.2 C449.9 454.6 448.5 453.5 448.4 452.7 C448.3 451.8 449.5 450.7 450.3 450.2 C451.1 449.8 452.2 449.5 453.2 449.8 C454.2 450 455.6 451 456.2 451.9 C456.9 452.8 457.3 454.5 456.9 455.2 Z" fill="#b4fab4"/><path d="M411.5 466.7 C411.2 466.3 411.9 465 412.5 464 C413.2 463 414.3 461.6 415.2 460.9 C416.2 460.1 417.7 459.3 418.5 459.3 C419.3 459.2 420.1 459.8 420 460.6 C419.9 461.3 418.8 462.7 417.9 463.7 C417 464.7 415.7 466 414.6 466.5 C413.5 467 411.8 467.1 411.5 466.7 Z" fill="#b4fab4"/><path d="M458.3 453.9 C457.4 453.1 456.8 450.5 457.1 448.7 C457.5 447 459 444.8 460.3 443.4 C461.7 441.9 463.9 440.2 465.2 440 C466.5 439.7 467.9 440.5 468.3 441.9 C468.6 443.3 468.3 446.3 467.3 448.2 C466.4 450.1 464 452.6 462.4 453.5 C460.9 454.5 459.2 454.7 458.3 453.9 Z" fill="#50f050"/><path d="M446.6 466.5 C446.7 467.3 445.7 468.4 444.7 468.8 C443.8 469.2 442 469.2 441 468.9 C439.9 468.6 438.8 467.6 438.4 466.8 C438.1 466.1 438.3 465.2 438.8 464.6 C439.3 464 440.4 463.6 441.4 463.5 C442.3 463.4 443.5 463.5 444.4 464 C445.3 464.5 446.6 465.7 446.6 466.5 Z" fill="#0fa00f"/><path d="M414.1 459.9 C414 459.2 414.2 457.6 414.8 457.1 C415.3 456.5 416.5 456.6 417.5 456.5 C418.5 456.5 419.9 456.5 420.5 456.9 C421.1 457.3 421.3 458.2 421.1 459 C420.9 459.8 420.2 461.4 419.2 461.9 C418.3 462.3 416.4 462.1 415.5 461.8 C414.7 461.5 414.3 460.7 414.1 459.9 Z" fill="#73f06e"/><path d="M459.4 465.7 C458.6 465.4 457.6 463.2 457.5 462 C457.4 460.9 458.3 459.8 458.9 458.7 C459.5 457.6 460.2 455.9 461 455.7 C461.8 455.4 463 456.5 463.6 457.2 C464.1 458 464.5 458.9 464.3 460 C464.1 461 463.2 462.7 462.4 463.6 C461.6 464.6 460.2 465.9 459.4 465.7 Z" fill="#73f06e"/><path d="M425.2 451.4 C424.5 452 422.4 451.5 421.2 450.6 C420 449.7 418.9 447.6 418.1 446.2 C417.3 444.8 416.4 443.2 416.3 442.1 C416.3 441 416.8 439.5 417.8 439.7 C418.8 439.9 421 442.1 422.3 443.4 C423.5 444.6 424.9 445.6 425.4 447 C425.9 448.3 425.9 450.8 425.2 451.4 Z" fill="#b4fab4"/><path d="M406.6 464.6 C406 464.4 405.9 462.8 405.9 461.6 C406 460.3 406.3 458.3 406.9 457 C407.4 455.7 408.6 454.3 409.3 453.8 C410.1 453.2 411.1 453 411.4 453.8 C411.6 454.6 411.1 457 410.8 458.4 C410.5 459.9 410.2 461.6 409.5 462.7 C408.8 463.7 407.2 464.8 406.6 464.6 Z" fill="#0fa00f"/><path d="M469.5 459.6 C469 459.8 468.3 459.5 467.7 458.9 C467.2 458.2 466.3 456.7 466.2 455.8 C466.1 454.9 466.8 454.1 467.2 453.5 C467.6 452.9 468 452.1 468.6 452.3 C469.2 452.5 470.3 453.7 470.7 454.6 C471 455.5 470.8 456.9 470.6 457.7 C470.4 458.6 470 459.4 469.5 459.6 Z" fill="#0fa00f"/><path d="M431.1 458.1 C430.8 459 430.3 460.5 429.3 460.4 C428.2 460.4 426.2 458.7 425 457.9 C423.8 457 422.3 456.2 422 455.3 C421.6 454.3 422 452.6 423 452.1 C424 451.7 426.8 452 428.2 452.5 C429.5 453 430.6 454.1 431.1 455.1 C431.6 456 431.4 457.2 431.1 458.1 Z" fill="#b4fab4"/><path d="M443.1 450.5 C443.1 451.1 442.9 452 442.3 452.2 C441.8 452.5 440.4 452.1 439.7 451.8 C438.9 451.5 438.2 451.2 438 450.7 C437.7 450.2 437.6 449.4 438 448.9 C438.4 448.5 439.4 448.3 440.2 448.2 C440.9 448.2 441.9 448.3 442.4 448.7 C442.9 449.1 443.1 450 443.1 450.5 Z" fill="#0fa00f"/><path d="M393.3 465.2 C392.7 465.1 391.8 464.2 391.7 463.1 C391.5 461.9 391.9 459.7 392.3 458.4 C392.6 457.1 393.2 455.5 393.9 455.1 C394.5 454.7 395.7 455.2 396.2 455.9 C396.6 456.5 396.6 457.6 396.5 458.9 C396.3 460.2 395.8 462.5 395.3 463.6 C394.7 464.6 393.9 465.3 393.3 465.2 Z" fill="#50f050"/><path d="M391.8 461.1 C391.2 461 390.4 460.7 389.9 460.1 C389.4 459.5 388.6 458.1 388.7 457.3 C388.8 456.5 389.8 455.8 390.4 455.3 C391.1 454.7 392.1 453.8 392.6 454.1 C393.2 454.4 393.6 456 393.8 457.1 C394 458.1 394.1 459.8 393.7 460.4 C393.4 461.1 392.4 461.2 391.8 461.1 Z" fill="#50f050"/><path d="M404.3 450.9 C403.3 451.3 401.5 450.8 400.6 450.2 C399.8 449.6 399.2 448.1 399 447 C398.9 445.9 399.1 444.3 399.8 443.6 C400.4 442.9 401.7 442.6 402.7 442.8 C403.6 443 404.7 444.1 405.3 444.9 C406 445.7 406.7 446.5 406.5 447.5 C406.4 448.5 405.3 450.4 404.3 450.9 Z" fill="#b4fab4"/><path d="M424.3 466.6 C424.1 466.2 424.8 465.5 425.4 464.9 C426 464.4 426.8 463.8 427.7 463.6 C428.6 463.4 430.4 463.3 430.8 463.6 C431.3 463.8 430.9 464.6 430.5 465.2 C430.2 465.7 429.5 466.4 428.8 466.8 C428.1 467.1 427 467.5 426.2 467.5 C425.5 467.4 424.4 467.1 424.3 466.6 Z" fill="#b4fab4"/><path d="M450.1 446.8 C449.7 447.4 448.7 448.2 447.8 448.1 C446.9 448 445.5 447 444.6 446.2 C443.7 445.5 442.7 444.4 442.5 443.6 C442.2 442.9 442.4 441.7 443.1 441.6 C443.8 441.4 445.6 442.1 446.8 442.5 C448 443 449.8 443.7 450.3 444.4 C450.9 445.1 450.5 446.2 450.1 446.8 Z" fill="#0fa00f"/><path d="M450.3 452.1 C450.4 453.1 450.7 454.6 449.3 454.8 C448 455 443.9 454 442.1 453.5 C440.3 453 439.1 452.6 438.4 451.7 C437.7 450.7 437 448.5 437.9 447.8 C438.7 447.2 441.7 447.4 443.5 447.6 C445.2 447.8 447.4 448.3 448.5 449 C449.7 449.8 450.1 451.2 450.3 452.1 Z" fill="#73f06e"/><path d="M388 443.7 C387.9 444.6 387.4 445.8 386.7 446.2 C386 446.5 384.7 446.4 384 446.1 C383.2 445.8 382.7 445.1 382.3 444.3 C381.9 443.4 381.3 441.8 381.7 441.2 C382.1 440.5 383.7 440.3 384.7 440.3 C385.6 440.3 386.6 440.4 387.2 440.9 C387.7 441.5 388.1 442.8 388 443.7 Z" fill="#b4fab4"/><path d="M424.5 461.3 C424.1 461 424.4 459.6 424.9 458.5 C425.4 457.4 426.4 456.1 427.4 455 C428.5 454 430.2 452.2 431 452.1 C431.7 451.9 432 453.2 431.9 454.1 C431.8 455.1 431.1 456.6 430.4 457.7 C429.7 458.8 428.6 459.9 427.6 460.5 C426.6 461.1 425 461.7 424.5 461.3 Z" fill="#0fa00f"/><path d="M440 443.2 C439.9 443.7 439.4 444.1 438.8 444.3 C438.2 444.6 437.1 444.7 436.3 444.5 C435.5 444.3 434.4 443.6 434.1 443.2 C433.8 442.7 434 442 434.5 441.6 C435 441.2 436.1 440.8 436.9 440.7 C437.8 440.7 438.9 441 439.4 441.4 C440 441.8 440.1 442.7 440 443.2 Z" fill="#0fa00f"/><path d="M370 430 C370 430 380.7 429.7 384 432 C387.3 434.3 390.7 441.3 390 444 C389.3 446.7 383.3 447.7 380 448 C376.7 448.3 370 446 370 446 L370 430 Z" fill="#3c96f5" stroke="#3c96f5" stroke-width="4"/><path d="M370 430 C370 430 380.7 429.7 384 432 C387.3 434.3 390.7 441.3 390 444 C389.3 446.7 383.3 447.7 380 448 C376.7 448.3 370 446 370 446 L370 430 Z" fill="#1e6eeb"/><path d="M401.5 436 C405.8 433.7 427.8 434.8 434 436 C440.2 437.2 440.5 440.2 439 443 C437.5 445.8 430.1 451.3 425 452.5 C419.9 453.7 412.4 452.8 408.5 450 C404.6 447.2 397.2 438.3 401.5 436 Z" fill="#3c96f5" stroke="#3c96f5" stroke-width="4"/><path d="M401.5 436 C405.8 433.7 427.8 434.8 434 436 C440.2 437.2 440.5 440.2 439 443 C437.5 445.8 430.1 451.3 425 452.5 C419.9 453.7 412.4 452.8 408.5 450 C404.6 447.2 397.2 438.3 401.5 436 Z" fill="#1e6eeb"/><path d="M412 441 C413.7 440 422.3 440 424 441 C425.7 442 423.7 446 422 447 C420.3 448 415.7 448 414 447 C412.3 446 410.3 442 412 441 Z" fill="#3c96f5"/><path d="M455.5 445.4 C457.9 443.1 467.8 441.4 472 443 C476.2 444.6 481 451.7 481 454.8 C481 457.9 475.9 461.5 472 461.9 C468.1 462.3 460.6 459.8 457.8 457 C455.1 454.2 453.1 447.7 455.5 445.4 Z" fill="#96d2fa" stroke="#96d2fa" stroke-width="6"/><path d="M455.5 445.4 C457.9 443.1 467.8 441.4 472 443 C476.2 444.6 481 451.7 481 454.8 C481 457.9 475.9 461.5 472 461.9 C468.1 462.3 460.6 459.8 457.8 457 C455.1 454.2 453.1 447.7 455.5 445.4 Z" fill="#78b9fa" stroke="#78b9fa" stroke-width="3"/><path d="M455.5 445.4 C457.9 443.1 467.8 441.4 472 443 C476.2 444.6 481 451.7 481 454.8 C481 457.9 475.9 461.5 472 461.9 C468.1 462.3 460.6 459.8 457.8 457 C455.1 454.2 453.1 447.7 455.5 445.4 Z" fill="#3c96f5"/><path d="M462 449 C463 447.5 469 447 471 448 C473 449 475 453.5 474 455 C473 456.5 467 458 465 457 C463 456 461 450.5 462 449 Z" fill="#78b9fa"/><path d="M594 457 C596.8 455.8 602.5 457.2 606 459.5 C609.5 461.8 614.7 467.1 615 471 C615.3 474.9 611.5 480.2 608 483 C604.5 485.8 597.9 487.3 594 487.7 C590.1 488.1 586.7 487.3 584.7 485.4 C582.7 483.4 581.2 479.1 582 476 C582.8 472.9 587.4 469.8 589.4 466.6 C591.4 463.4 591.2 458.2 594 457 Z" fill="#3c96f5" stroke="#3c96f5" stroke-width="4"/><path d="M594 457 C596.8 455.8 602.5 457.2 606 459.5 C609.5 461.8 614.7 467.1 615 471 C615.3 474.9 611.5 480.2 608 483 C604.5 485.8 597.9 487.3 594 487.7 C590.1 488.1 586.7 487.3 584.7 485.4 C582.7 483.4 581.2 479.1 582 476 C582.8 472.9 587.4 469.8 589.4 466.6 C591.4 463.4 591.2 458.2 594 457 Z" fill="#1e6eeb"/><path d="M588 474 C588.7 472 595.3 469.3 598 470 C600.7 470.7 604.7 476 604 478 C603.3 480 596.7 482.7 594 482 C591.3 481.3 587.3 476 588 474 Z" fill="#96d2fa" stroke="#96d2fa" stroke-width="3"/><path d="M588 474 C588.7 472 595.3 469.3 598 470 C600.7 470.7 604.7 476 604 478 C603.3 480 596.7 482.7 594 482 C591.3 481.3 587.3 476 588 474 Z" fill="#78b9fa"/><path d="M631.7 447.8 C633.6 445.4 643.7 444.2 648 445.4 C652.3 446.6 657.1 452.1 657.5 454.8 C657.9 457.6 653.9 461.1 650.4 461.9 C646.9 462.7 639.5 461.9 636.4 459.5 C633.3 457.1 629.8 450.2 631.7 447.8 Z" fill="#3c96f5" stroke="#3c96f5" stroke-width="4"/><path d="M631.7 447.8 C633.6 445.4 643.7 444.2 648 445.4 C652.3 446.6 657.1 452.1 657.5 454.8 C657.9 457.6 653.9 461.1 650.4 461.9 C646.9 462.7 639.5 461.9 636.4 459.5 C633.3 457.1 629.8 450.2 631.7 447.8 Z" fill="#1e6eeb"/><path d="M598.8 433.7 C600.8 432.1 610.9 432.1 612.9 433.7 C614.9 435.2 612.5 441.4 610.5 443 C608.5 444.6 603 444.6 601 443 C599 441.4 596.8 435.2 598.8 433.7 Z" fill="#b4f0fa" stroke="#b4f0fa" stroke-width="6"/><path d="M598.8 433.7 C600.8 432.1 610.9 432.1 612.9 433.7 C614.9 435.2 612.5 441.4 610.5 443 C608.5 444.6 603 444.6 601 443 C599 441.4 596.8 435.2 598.8 433.7 Z" fill="#96d2fa" stroke="#96d2fa" stroke-width="3"/><path d="M598.8 433.7 C600.8 432.1 610.9 432.1 612.9 433.7 C614.9 435.2 612.5 441.4 610.5 443 C608.5 444.6 603 444.6 601 443 C599 441.4 596.8 435.2 598.8 433.7 Z" fill="#78b9fa"/><path d="M582 518 C583.6 516.8 590.5 520.7 591.7 523 C592.9 525.3 591 530.8 589.4 532 C587.8 533.2 583.2 532.3 582 530 C580.8 527.7 580.4 519.2 582 518 Z" fill="#3c96f5" stroke="#3c96f5" stroke-width="3"/><path d="M582 518 C583.6 516.8 590.5 520.7 591.7 523 C592.9 525.3 591 530.8 589.4 532 C587.8 533.2 583.2 532.3 582 530 C580.8 527.7 580.4 519.2 582 518 Z" fill="#1e6eeb"/><path d="M542.4 523 C544.5 522 554.1 524.2 556.5 526 C558.9 527.8 558.6 533 556.5 534 C554.4 535 546.4 533.8 544 532 C541.6 530.2 540.3 524 542.4 523 Z" fill="#3c96f5" stroke="#3c96f5" stroke-width="3"/><path d="M542.4 523 C544.5 522 554.1 524.2 556.5 526 C558.9 527.8 558.6 533 556.5 534 C554.4 535 546.4 533.8 544 532 C541.6 530.2 540.3 524 542.4 523 Z" fill="#1e6eeb"/><path d="M573 565 C574.8 562.7 582.8 562.8 585 566 C587.2 569.2 587.8 581.7 586 584 C584.2 586.3 576.2 583.2 574 580 C571.8 576.8 571.2 567.3 573 565 Z" fill="#3c96f5" stroke="#3c96f5" stroke-width="3"/><path d="M573 565 C574.8 562.7 582.8 562.8 585 566 C587.2 569.2 587.8 581.7 586 584 C584.2 586.3 576.2 583.2 574 580 C571.8 576.8 571.2 567.3 573 565 Z" fill="#1e6eeb"/><path d="M548 566 C549 564.8 553.7 566.3 555 568 C556.3 569.7 557 574.8 556 576 C555 577.2 550.3 576.7 549 575 C547.7 573.3 547 567.2 548 566 Z" fill="#3c96f5" stroke="#3c96f5" stroke-width="3"/><path d="M548 566 C549 564.8 553.7 566.3 555 568 C556.3 569.7 557 574.8 556 576 C555 577.2 550.3 576.7 549 575 C547.7 573.3 547 567.2 548 566 Z" fill="#1e6eeb"/><path d="M556.5 485.4 C560.4 481.1 573.2 475.2 577.6 473.6 C582 472 585 472.9 583 476 C581 479.1 570.6 488.5 565.8 492.4 C561 496.3 555.5 500.6 554 499.4 C552.5 498.2 552.6 489.7 556.5 485.4 Z" fill="#96d2fa" stroke="#96d2fa" stroke-width="6"/><path d="M556.5 485.4 C560.4 481.1 573.2 475.2 577.6 473.6 C582 472 585 472.9 583 476 C581 479.1 570.6 488.5 565.8 492.4 C561 496.3 555.5 500.6 554 499.4 C552.5 498.2 552.6 489.7 556.5 485.4 Z" fill="#78b9fa" stroke="#78b9fa" stroke-width="3"/><path d="M556.5 485.4 C560.4 481.1 573.2 475.2 577.6 473.6 C582 472 585 472.9 583 476 C581 479.1 570.6 488.5 565.8 492.4 C561 496.3 555.5 500.6 554 499.4 C552.5 498.2 552.6 489.7 556.5 485.4 Z" fill="#3c96f5"/><path d="M615 600 C616 596.7 623.8 592.7 628 592 C632.2 591.3 638.7 593.3 640 596 C641.3 598.7 639 605.3 636 608 C633 610.7 625.5 613.3 622 612 C618.5 610.7 614 603.3 615 600 Z" fill="#96d2fa"/><path d="M554 558 C556 560.7 561.3 568.7 566 574 C570.7 579.3 576.3 584.7 582 590 C587.7 595.3 594.3 601 600 606 C605.7 611 613.3 617.7 616 620" fill="none" stroke="#3c96f5" stroke-width="14"/><path d="M554 558 C556 560.7 561.3 568.7 566 574 C570.7 579.3 576.3 584.7 582 590 C587.7 595.3 594.3 601 600 606 C605.7 611 613.3 617.7 616 620" fill="none" stroke="#1e6eeb" stroke-width="10"/><path d="M560 566 C562.3 568.7 569 576.7 574 582 C579 587.3 587.3 595.3 590 598" fill="none" stroke="#3c96f5" stroke-width="3"/><path d="M566 560 C568 559.3 574.7 562.7 578 566 C581.3 569.3 586.3 578 586 580 C585.7 582 579.3 579.7 576 578 C572.7 576.3 567.7 573 566 570 C564.3 567 564 560.7 566 560 Z" fill="#28be28"/><path d="M646 602.5 C646.8 601.2 652.8 602.2 655 603.5 C657.2 604.8 659.8 608.7 659 610 C658.2 611.3 652.2 612.8 650 611.5 C647.8 610.2 645.2 603.8 646 602.5 Z" fill="#1464d2" stroke="#1464d2" stroke-width="6"/><path d="M646 602.5 C646.8 601.2 652.8 602.2 655 603.5 C657.2 604.8 659.8 608.7 659 610 C658.2 611.3 652.2 612.8 650 611.5 C647.8 610.2 645.2 603.8 646 602.5 Z" fill="#0fa00f" stroke="#0fa00f" stroke-width="3"/><path d="M646 602.5 C646.8 601.2 652.8 602.2 655 603.5 C657.2 604.8 659.8 608.7 659 610 C658.2 611.3 652.2 612.8 650 611.5 C647.8 610.2 645.2 603.8 646 602.5 Z" fill="#28be28"/><path d="M622 471 C625.2 468.8 635.1 467.7 641 467.7 C646.9 467.7 654.4 469.6 657.5 471 C660.6 472.4 661.8 474.4 659.8 476 C657.8 477.6 649.2 478.4 645.7 480.7 C642.2 483 641.4 488.4 638.7 490 C636 491.6 632.1 491.6 629.3 490 C626.5 488.4 623.2 483.9 622 480.7 C620.8 477.5 618.8 473.2 622 471 Z" fill="#73f06e" stroke="#73f06e" stroke-width="6"/><path d="M622 471 C625.2 468.8 635.1 467.7 641 467.7 C646.9 467.7 654.4 469.6 657.5 471 C660.6 472.4 661.8 474.4 659.8 476 C657.8 477.6 649.2 478.4 645.7 480.7 C642.2 483 641.4 488.4 638.7 490 C636 491.6 632.1 491.6 629.3 490 C626.5 488.4 623.2 483.9 622 480.7 C620.8 477.5 618.8 473.2 622 471 Z" fill="#b4fab4" stroke="#b4fab4" stroke-width="3"/><path d="M622 471 C625.2 468.8 635.1 467.7 641 467.7 C646.9 467.7 654.4 469.6 657.5 471 C660.6 472.4 661.8 474.4 659.8 476 C657.8 477.6 649.2 478.4 645.7 480.7 C642.2 483 641.4 488.4 638.7 490 C636 491.6 632.1 491.6 629.3 490 C626.5 488.4 623.2 483.9 622 480.7 C620.8 477.5 618.8 473.2 622 471 Z" fill="#fffaaa"/><path d="M624 472 C625 470.8 629.7 470.2 631 471 C632.3 471.8 633 475.8 632 477 C631 478.2 626.3 478.8 625 478 C623.7 477.2 623 473.2 624 472 Z" fill="#ffe878" stroke="#ffe878" stroke-width="4.8"/><path d="M624 472 C625 470.8 629.7 470.2 631 471 C632.3 471.8 633 475.8 632 477 C631 478.2 626.3 478.8 625 478 C623.7 477.2 623 473.2 624 472 Z" fill="#ffc03c" stroke="#ffc03c" stroke-width="2.4"/><path d="M624 472 C625 470.8 629.7 470.2 631 471 C632.3 471.8 633 475.8 632 477 C631 478.2 626.3 478.8 625 478 C623.7 477.2 623 473.2 624 472 Z" fill="#ffa000"/><path d="M547 464 C549.8 457.4 558.4 457.1 563.5 454.8 C568.6 452.5 574.4 450.4 577.6 450 C580.9 449.6 582.6 450.2 583 452.5 C583.4 454.8 582.9 461.2 580 464 C577.1 466.8 569.7 466.2 565.8 469 C561.9 471.8 558.5 476.4 556.5 480.7 C554.5 485 555.6 492.4 554 494.7 C552.4 497 548.2 499.8 547 494.7 C545.8 489.6 544.2 470.6 547 464 Z" fill="#73f06e" stroke="#73f06e" stroke-width="9"/><path d="M547 464 C549.8 457.4 558.4 457.1 563.5 454.8 C568.6 452.5 574.4 450.4 577.6 450 C580.9 449.6 582.6 450.2 583 452.5 C583.4 454.8 582.9 461.2 580 464 C577.1 466.8 569.7 466.2 565.8 469 C561.9 471.8 558.5 476.4 556.5 480.7 C554.5 485 555.6 492.4 554 494.7 C552.4 497 548.2 499.8 547 494.7 C545.8 489.6 544.2 470.6 547 464 Z" fill="#b4fab4" stroke="#b4fab4" stroke-width="6"/><path d="M547 464 C549.8 457.4 558.4 457.1 563.5 454.8 C568.6 452.5 574.4 450.4 577.6 450 C580.9 449.6 582.6 450.2 583 452.5 C583.4 454.8 582.9 461.2 580 464 C577.1 466.8 569.7 466.2 565.8 469 C561.9 471.8 558.5 476.4 556.5 480.7 C554.5 485 555.6 492.4 554 494.7 C552.4 497 548.2 499.8 547 494.7 C545.8 489.6 544.2 470.6 547 464 Z" fill="#fffaaa" stroke="#fffaaa" stroke-width="3"/><path d="M547 464 C549.8 457.4 558.4 457.1 563.5 454.8 C568.6 452.5 574.4 450.4 577.6 450 C580.9 449.6 582.6 450.2 583 452.5 C583.4 454.8 582.9 461.2 580 464 C577.1 466.8 569.7 466.2 565.8 469 C561.9 471.8 558.5 476.4 556.5 480.7 C554.5 485 555.6 492.4 554 494.7 C552.4 497 548.2 499.8 547 494.7 C545.8 489.6 544.2 470.6 547 464 Z" fill="#ffe878"/><path d="M552 468 C554.5 462.7 562 460.2 566 458 C570 455.8 574.7 454.3 576 455 C577.3 455.7 576.3 459.8 574 462 C571.7 464.2 565.2 465 562 468 C558.8 471 556.8 476.3 555 480 C553.2 483.7 551.5 492 551 490 C550.5 488 549.5 473.3 552 468 Z" fill="#ffa000"/><path d="M561 494.7 C565.3 492 571.4 490.8 573 492.4 C574.6 493.9 573.2 500.5 570.5 504 C567.8 507.5 560.4 512.7 556.5 513.5 C552.6 514.3 546.2 511.9 547 508.8 C547.8 505.7 556.7 497.4 561 494.7 Z" fill="#73f06e" stroke="#73f06e" stroke-width="7.8"/><path d="M561 494.7 C565.3 492 571.4 490.8 573 492.4 C574.6 493.9 573.2 500.5 570.5 504 C567.8 507.5 560.4 512.7 556.5 513.5 C552.6 514.3 546.2 511.9 547 508.8 C547.8 505.7 556.7 497.4 561 494.7 Z" fill="#b4fab4" stroke="#b4fab4" stroke-width="5.2"/><path d="M561 494.7 C565.3 492 571.4 490.8 573 492.4 C574.6 493.9 573.2 500.5 570.5 504 C567.8 507.5 560.4 512.7 556.5 513.5 C552.6 514.3 546.2 511.9 547 508.8 C547.8 505.7 556.7 497.4 561 494.7 Z" fill="#fffaaa" stroke="#fffaaa" stroke-width="2.6"/><path d="M561 494.7 C565.3 492 571.4 490.8 573 492.4 C574.6 493.9 573.2 500.5 570.5 504 C567.8 507.5 560.4 512.7 556.5 513.5 C552.6 514.3 546.2 511.9 547 508.8 C547.8 505.7 556.7 497.4 561 494.7 Z" fill="#ffe878"/><path d="M563 497 C564.7 495.2 569.2 495 570 496 C570.8 497 569.7 501.2 568 503 C566.3 504.8 560.8 508 560 507 C559.2 506 561.3 498.8 563 497 Z" fill="#ffa000"/><path d="M537.7 553.4 C539.2 553 545.6 554.7 547 555.8 C548.4 556.9 547.5 559.6 546 560 C544.5 560.4 539.4 559.1 538 558 C536.6 556.9 536.2 553.8 537.7 553.4 Z" fill="#73f06e" stroke="#73f06e" stroke-width="4.8"/><path d="M537.7 553.4 C539.2 553 545.6 554.7 547 555.8 C548.4 556.9 547.5 559.6 546 560 C544.5 560.4 539.4 559.1 538 558 C536.6 556.9 536.2 553.8 537.7 553.4 Z" fill="#b4fab4" stroke="#b4fab4" stroke-width="2.4"/><path d="M537.7 553.4 C539.2 553 545.6 554.7 547 555.8 C548.4 556.9 547.5 559.6 546 560 C544.5 560.4 539.4 559.1 538 558 C536.6 556.9 536.2 553.8 537.7 553.4 Z" fill="#fffaaa"/><path d="M481 476 C483.3 474.5 493.7 474.2 500 474.8 C506.3 475.4 512.7 477.7 519 479.5 C525.3 481.3 533.2 483.6 537.7 485.4 C542.2 487.1 545.2 488.4 546 490 C546.8 491.6 546.1 494.7 542.4 494.7 C538.7 494.7 529.9 491.4 523.6 490 C517.3 488.6 511.1 487.5 504.8 486.5 C498.5 485.5 490 485.8 486 484 C482 482.2 478.7 477.5 481 476 Z" fill="#73f06e" stroke="#73f06e" stroke-width="8.4"/><path d="M481 476 C483.3 474.5 493.7 474.2 500 474.8 C506.3 475.4 512.7 477.7 519 479.5 C525.3 481.3 533.2 483.6 537.7 485.4 C542.2 487.1 545.2 488.4 546 490 C546.8 491.6 546.1 494.7 542.4 494.7 C538.7 494.7 529.9 491.4 523.6 490 C517.3 488.6 511.1 487.5 504.8 486.5 C498.5 485.5 490 485.8 486 484 C482 482.2 478.7 477.5 481 476 Z" fill="#b4fab4" stroke="#b4fab4" stroke-width="5.6"/><path d="M481 476 C483.3 474.5 493.7 474.2 500 474.8 C506.3 475.4 512.7 477.7 519 479.5 C525.3 481.3 533.2 483.6 537.7 485.4 C542.2 487.1 545.2 488.4 546 490 C546.8 491.6 546.1 494.7 542.4 494.7 C538.7 494.7 529.9 491.4 523.6 490 C517.3 488.6 511.1 487.5 504.8 486.5 C498.5 485.5 490 485.8 486 484 C482 482.2 478.7 477.5 481 476 Z" fill="#fffaaa" stroke="#fffaaa" stroke-width="2.8"/><path d="M481 476 C483.3 474.5 493.7 474.2 500 474.8 C506.3 475.4 512.7 477.7 519 479.5 C525.3 481.3 533.2 483.6 537.7 485.4 C542.2 487.1 545.2 488.4 546 490 C546.8 491.6 546.1 494.7 542.4 494.7 C538.7 494.7 529.9 491.4 523.6 490 C517.3 488.6 511.1 487.5 504.8 486.5 C498.5 485.5 490 485.8 486 484 C482 482.2 478.7 477.5 481 476 Z" fill="#ffe878"/><path d="M486 478 C487.3 477.2 494 477.2 496 478 C498 478.8 499.3 482.2 498 483 C496.7 483.8 490 483.8 488 483 C486 482.2 484.7 478.8 486 478 Z" fill="#ffa000"/><path d="M530 486 C532 485.8 540.3 487.8 542 489 C543.7 490.2 542 492.8 540 493 C538 493.2 531.7 491.2 530 490 C528.3 488.8 528 486.2 530 486 Z" fill="#ffa000"/><path d="M474 428 L488 428 C488 428 488.3 437 490.7 440.7 C493.1 444.4 498.6 447.6 502.5 450 C506.4 452.4 510.9 453.2 514 454.8 C517.1 456.4 520.2 458 521 459.5 C521.8 461 520.9 464 519 464 C517.1 464 513 461 509.5 459.5 C506 458 501.7 456.8 497.8 454.8 C493.9 452.9 489.1 450.5 486 447.8 C482.9 445.1 481 441.7 479 438.4 C477 435.1 474 428 474 428 Z" fill="#b4fab4" stroke="#b4fab4" stroke-width="13"/><path d="M474 428 L488 428 C488 428 488.3 437 490.7 440.7 C493.1 444.4 498.6 447.6 502.5 450 C506.4 452.4 510.9 453.2 514 454.8 C517.1 456.4 520.2 458 521 459.5 C521.8 461 520.9 464 519 464 C517.1 464 513 461 509.5 459.5 C506 458 501.7 456.8 497.8 454.8 C493.9 452.9 489.1 450.5 486 447.8 C482.9 445.1 481 441.7 479 438.4 C477 435.1 474 428 474 428 Z" fill="#fffaaa" stroke="#fffaaa" stroke-width="10.4"/><path d="M474 428 L488 428 C488 428 488.3 437 490.7 440.7 C493.1 444.4 498.6 447.6 502.5 450 C506.4 452.4 510.9 453.2 514 454.8 C517.1 456.4 520.2 458 521 459.5 C521.8 461 520.9 464 519 464 C517.1 464 513 461 509.5 459.5 C506 458 501.7 456.8 497.8 454.8 C493.9 452.9 489.1 450.5 486 447.8 C482.9 445.1 481 441.7 479 438.4 C477 435.1 474 428 474 428 Z" fill="#ffe878" stroke="#ffe878" stroke-width="7.8"/><path d="M474 428 L488 428 C488 428 488.3 437 490.7 440.7 C493.1 444.4 498.6 447.6 502.5 450 C506.4 452.4 510.9 453.2 514 454.8 C517.1 456.4 520.2 458 521 459.5 C521.8 461 520.9 464 519 464 C517.1 464 513 461 509.5 459.5 C506 458 501.7 456.8 497.8 454.8 C493.9 452.9 489.1 450.5 486 447.8 C482.9 445.1 481 441.7 479 438.4 C477 435.1 474 428 474 428 Z" fill="#ffc03c" stroke="#ffc03c" stroke-width="5.2"/><path d="M474 428 L488 428 C488 428 488.3 437 490.7 440.7 C493.1 444.4 498.6 447.6 502.5 450 C506.4 452.4 510.9 453.2 514 454.8 C517.1 456.4 520.2 458 521 459.5 C521.8 461 520.9 464 519 464 C517.1 464 513 461 509.5 459.5 C506 458 501.7 456.8 497.8 454.8 C493.9 452.9 489.1 450.5 486 447.8 C482.9 445.1 481 441.7 479 438.4 C477 435.1 474 428 474 428 Z" fill="#ffa000" stroke="#ffa000" stroke-width="2.6"/><path d="M474 428 L488 428 C488 428 488.3 437 490.7 440.7 C493.1 444.4 498.6 447.6 502.5 450 C506.4 452.4 510.9 453.2 514 454.8 C517.1 456.4 520.2 458 521 459.5 C521.8 461 520.9 464 519 464 C517.1 464 513 461 509.5 459.5 C506 458 501.7 456.8 497.8 454.8 C493.9 452.9 489.1 450.5 486 447.8 C482.9 445.1 481 441.7 479 438.4 C477 435.1 474 428 474 428 Z" fill="#ff6000"/><path d="M504 426 L540 426 C540 426 534.8 433.3 530 434.5 C525.2 435.7 515.3 434.4 511 433 C506.7 431.6 504 426 504 426 Z" fill="#b4fab4" stroke="#b4fab4" stroke-width="8.8"/><path d="M504 426 L540 426 C540 426 534.8 433.3 530 434.5 C525.2 435.7 515.3 434.4 511 433 C506.7 431.6 504 426 504 426 Z" fill="#fffaaa" stroke="#fffaaa" stroke-width="6.6"/><path d="M504 426 L540 426 C540 426 534.8 433.3 530 434.5 C525.2 435.7 515.3 434.4 511 433 C506.7 431.6 504 426 504 426 Z" fill="#ffe878" stroke="#ffe878" stroke-width="4.4"/><path d="M504 426 L540 426 C540 426 534.8 433.3 530 434.5 C525.2 435.7 515.3 434.4 511 433 C506.7 431.6 504 426 504 426 Z" fill="#ffc03c" stroke="#ffc03c" stroke-width="2.2"/><path d="M504 426 L540 426 C540 426 534.8 433.3 530 434.5 C525.2 435.7 515.3 434.4 511 433 C506.7 431.6 504 426 504 426 Z" fill="#ffa000"/><path d="M430 470.5 C430.7 469.9 433.3 469.9 434 470.5 C434.7 471.1 434.7 473.4 434 474 C433.3 474.6 430.7 474.6 430 474 C429.3 473.4 429.3 471.1 430 470.5 Z" fill="#73f06e" stroke="#73f06e" stroke-width="4.8"/><path d="M430 470.5 C430.7 469.9 433.3 469.9 434 470.5 C434.7 471.1 434.7 473.4 434 474 C433.3 474.6 430.7 474.6 430 474 C429.3 473.4 429.3 471.1 430 470.5 Z" fill="#b4fab4" stroke="#b4fab4" stroke-width="2.4"/><path d="M430 470.5 C430.7 469.9 433.3 469.9 434 470.5 C434.7 471.1 434.7 473.4 434 474 C433.3 474.6 430.7 474.6 430 474 C429.3 473.4 429.3 471.1 430 470.5 Z" fill="#fffaaa"/><path d="M674 424 L995 424 L995 465.7 C995 465.7 963.9 466.9 957.8 467.2 C951.7 467.5 938.7 468.6 934 468.7 C929.3 468.8 915 468 910.8 468.6 C906.6 469.2 895.8 473.5 892 474.5 C888.2 475.5 876.8 477.7 873 478.2 C869.2 478.7 858.6 479.8 854.4 479.7 C850.2 479.6 835.7 478.2 831 477.7 C826.3 477.1 812.2 474.6 807.5 474.2 C802.8 473.8 788 473.7 784 473.2 C780 472.7 770.8 469.8 767.8 469.2 C764.8 468.6 756.1 468.1 753.8 467.2 C751.5 466.3 746.8 461.5 744.4 460.1 C742 458.7 732.8 454.3 730 453 C727.2 451.7 718.8 447.8 716 447.5 C713.2 447.2 704.6 450.4 702 450 C699.4 449.6 692.2 445.4 690 444 C687.8 442.6 681.6 438 680 436 C678.4 434 674 424 674 424 Z" fill="#73f06e"/><path d="M697.4 424 L995 424 L995 464.1 C995 464.1 963.9 465.3 957.8 465.6 C951.7 465.9 938.7 467 934 467.1 C929.3 467.2 915 466.4 910.8 467 C906.6 467.6 895.8 471.9 892 472.9 C888.2 473.9 876.8 476.1 873 476.6 C869.2 477.1 858.6 478.2 854.4 478.1 C850.2 478.1 835.7 476.7 831 476.1 C826.3 475.6 812.2 473.1 807.5 472.6 C802.8 472.2 788 472.1 784 471.6 C780 471.1 770.8 468.2 767.8 467.6 C764.8 467 756.1 466.5 753.8 465.6 C751.5 464.7 745.3 460.2 744.4 458.5 C743.5 456.8 746.3 450.6 744.4 449 C742.5 447.4 729.4 442.9 725.6 442 C721.8 441.1 709.6 441.8 706.8 440 C704 438.2 697.4 424 697.4 424 Z" fill="#fffaaa"/><path d="M720 424 L995 424 L995 463.1 C995 463.1 963.9 464.3 957.8 464.6 C951.7 464.9 938.7 466 934 466.1 C929.3 466.2 915 465.4 910.8 466 C906.6 466.6 895.8 470.9 892 471.9 C888.2 472.9 876.8 475.1 873 475.6 C869.2 476.1 858.6 477.2 854.4 477.1 C850.2 477.1 835.7 475.7 831 475.1 C826.3 474.6 812.2 472.1 807.5 471.6 C802.8 471.2 788 471.1 784 470.6 C780 470.1 770.8 467.2 767.8 466.6 C764.8 466 755 466.1 753.8 464.6 C752.6 463.1 757 454.2 756 452 C755 449.8 746.6 444.4 744 443 C741.4 441.6 732.4 439.9 730 438 C727.6 436.1 720 424 720 424 Z" fill="#ffe878"/><path d="M742 430 L760 428 C760 428 781.3 430.7 790 432 C798.7 433.3 807.8 434.2 812 436 C816.2 437.8 817.7 441.8 815 443 C812.3 444.2 803.2 443.5 795.7 443 C788.2 442.5 777.6 440.8 770 440 C762.4 439.2 754.7 439.7 750 438 C745.3 436.3 742 430 742 430 Z" fill="#73f06e" stroke="#73f06e" stroke-width="3"/><path d="M742 430 L760 428 C760 428 781.3 430.7 790 432 C798.7 433.3 807.8 434.2 812 436 C816.2 437.8 817.7 441.8 815 443 C812.3 444.2 803.2 443.5 795.7 443 C788.2 442.5 777.6 440.8 770 440 C762.4 439.2 754.7 439.7 750 438 C745.3 436.3 742 430 742 430 Z" fill="#b4fab4"/><path d="M790 434 C791.8 433.5 798.7 434.8 800 436 C801.3 437.2 799.8 440.5 798 441 C796.2 441.5 790.3 440.2 789 439 C787.7 437.8 788.2 434.5 790 434 Z" fill="#73f06e"/><path d="M878 440.7 C881.5 438.8 900.9 437.2 906 438.4 C911.1 439.6 912 445.9 908.5 447.8 C905 449.7 890.1 451.2 885 450 C879.9 448.8 874.5 442.6 878 440.7 Z" fill="#28be28" stroke="#28be28" stroke-width="6"/><path d="M878 440.7 C881.5 438.8 900.9 437.2 906 438.4 C911.1 439.6 912 445.9 908.5 447.8 C905 449.7 890.1 451.2 885 450 C879.9 448.8 874.5 442.6 878 440.7 Z" fill="#50f050" stroke="#50f050" stroke-width="3"/><path d="M878 440.7 C881.5 438.8 900.9 437.2 906 438.4 C911.1 439.6 912 445.9 908.5 447.8 C905 449.7 890.1 451.2 885 450 C879.9 448.8 874.5 442.6 878 440.7 Z" fill="#73f06e"/><path d="M886 442.5 C887.8 441.5 897.3 440.8 900 441.5 C902.7 442.2 903.8 445.5 902 446.5 C900.2 447.5 891.7 448.2 889 447.5 C886.3 446.8 884.2 443.5 886 442.5 Z" fill="#0fa00f"/><path d="M815 428 L881 428 C881 428 881.2 435 876 437 C870.8 439 858.3 439.8 850 440 C841.7 440.2 831.8 440 826 438 C820.2 436 815 428 815 428 Z" fill="#ffc03c"/><path d="M838 428 L866 428 C866 428 866 432 862 433 C858 434 846 434.8 842 434 C838 433.2 838 428 838 428 Z" fill="#ffa000"/><path d="M915 428 L995 428 L995 438 C995 438 962.2 440.7 950 441 C937.8 441.3 927.8 442.2 922 440 C916.2 437.8 915 428 915 428 Z" fill="#ffc03c"/><path d="M746.7 444 C747.7 443 755.9 440.1 758.5 440 C761.1 439.9 770 442.9 772.5 443.5 C775 444.1 781.5 445.6 784 445.5 C786.5 445.4 794.5 442.9 798 443 C801.5 443.1 814.5 446.1 819 447 C823.5 447.9 836.8 451.8 842.7 452.5 C848.6 453.2 872.1 454.7 878 454.5 C883.9 454.3 897.2 451.5 901.4 450.5 C905.6 449.5 915.3 445.3 920 444.5 C924.7 443.7 940.9 443.1 948.4 442.5 C955.9 441.9 995 438 995 438 L995 462.1 C995 462.1 963.9 463.3 957.8 463.6 C951.7 463.9 938.7 465 934 465.1 C929.3 465.2 915 464.4 910.8 465 C906.6 465.6 895.8 469.9 892 470.9 C888.2 471.9 876.8 474.1 873 474.6 C869.2 475.1 858.6 476.2 854.4 476.1 C850.2 476.1 835.7 474.7 831 474.1 C826.3 473.6 812.2 471.1 807.5 470.6 C802.8 470.2 788 470.1 784 469.6 C780 469.1 771.3 467.6 767.8 465.6 C764.3 463.6 751.1 452.2 749 450 C746.9 447.8 745.8 445 746.7 444 Z" fill="#ffc03c" stroke="#ffc03c" stroke-width="3"/><path d="M746.7 444 C747.7 443 755.9 440.1 758.5 440 C761.1 439.9 770 442.9 772.5 443.5 C775 444.1 781.5 445.6 784 445.5 C786.5 445.4 794.5 442.9 798 443 C801.5 443.1 814.5 446.1 819 447 C823.5 447.9 836.8 451.8 842.7 452.5 C848.6 453.2 872.1 454.7 878 454.5 C883.9 454.3 897.2 451.5 901.4 450.5 C905.6 449.5 915.3 445.3 920 444.5 C924.7 443.7 940.9 443.1 948.4 442.5 C955.9 441.9 995 438 995 438 L995 462.1 C995 462.1 963.9 463.3 957.8 463.6 C951.7 463.9 938.7 465 934 465.1 C929.3 465.2 915 464.4 910.8 465 C906.6 465.6 895.8 469.9 892 470.9 C888.2 471.9 876.8 474.1 873 474.6 C869.2 475.1 858.6 476.2 854.4 476.1 C850.2 476.1 835.7 474.7 831 474.1 C826.3 473.6 812.2 471.1 807.5 470.6 C802.8 470.2 788 470.1 784 469.6 C780 469.1 771.3 467.6 767.8 465.6 C764.3 463.6 751.1 452.2 749 450 C746.9 447.8 745.8 445 746.7 444 Z" fill="#ffa000"/><path d="M747.7 445.6 C748.6 444.8 756 441.7 758.5 441.6 C761 441.6 770 444.6 772.5 445.1 C775 445.7 781.5 447.2 784 447.1 C786.5 447.1 794.5 444.5 798 444.6 C801.5 444.8 814.5 447.7 819 448.6 C823.5 449.6 836.8 453.4 842.7 454.1 C848.6 454.9 872.1 456.3 878 456.1 C883.9 455.9 897.2 453.1 901.4 452.1 C905.6 451.1 915.3 446.9 920 446.1 C924.7 445.3 940.9 444.8 948.4 444.1 C955.9 443.5 995 439.6 995 439.6 L995 460.9 C995 460.9 963.9 462.1 957.8 462.4 C951.7 462.7 938.7 463.8 934 463.9 C929.3 464 915 463.2 910.8 463.8 C906.6 464.4 895.8 468.7 892 469.7 C888.2 470.7 876.8 472.9 873 473.4 C869.2 473.9 858.6 474.9 854.4 474.9 C850.2 474.8 835.7 473.4 831 472.9 C826.3 472.3 812.2 469.8 807.5 469.4 C802.8 468.9 788.9 470.2 784 468.4 C779.1 466.6 761.9 453.4 758.5 451.5 C755.1 449.6 751.1 450.1 750 449.5 C748.9 448.9 746.9 446.4 747.7 445.6 Z" fill="#ff6000" stroke="#ff6000" stroke-width="2"/><path d="M747.7 445.6 C748.6 444.8 756 441.7 758.5 441.6 C761 441.6 770 444.6 772.5 445.1 C775 445.7 781.5 447.2 784 447.1 C786.5 447.1 794.5 444.5 798 444.6 C801.5 444.8 814.5 447.7 819 448.6 C823.5 449.6 836.8 453.4 842.7 454.1 C848.6 454.9 872.1 456.3 878 456.1 C883.9 455.9 897.2 453.1 901.4 452.1 C905.6 451.1 915.3 446.9 920 446.1 C924.7 445.3 940.9 444.8 948.4 444.1 C955.9 443.5 995 439.6 995 439.6 L995 460.9 C995 460.9 963.9 462.1 957.8 462.4 C951.7 462.7 938.7 463.8 934 463.9 C929.3 464 915 463.2 910.8 463.8 C906.6 464.4 895.8 468.7 892 469.7 C888.2 470.7 876.8 472.9 873 473.4 C869.2 473.9 858.6 474.9 854.4 474.9 C850.2 474.8 835.7 473.4 831 472.9 C826.3 472.3 812.2 469.8 807.5 469.4 C802.8 468.9 788.9 470.2 784 468.4 C779.1 466.6 761.9 453.4 758.5 451.5 C755.1 449.6 751.1 450.1 750 449.5 C748.9 448.9 746.9 446.4 747.7 445.6 Z" fill="#ff3200"/><path d="M822 457 C824.1 455.7 843.5 458.2 850 458.5 C856.5 458.8 872.2 459.7 878 459.5 C883.8 459.3 895.3 457.4 900 456.5 C904.7 455.6 917.4 450.7 918 452 C918.6 453.3 909.4 465.6 905 468 C900.6 470.4 886.2 471.9 880 472.5 C873.8 473.1 857.6 473.3 852 473 C846.4 472.7 835.5 471.9 832 470 C828.5 468.1 819.9 458.3 822 457 Z" fill="#e11400"/><path d="M915 449 C917.9 447.6 940.7 447.6 950 447 C959.3 446.4 995 443.5 995 443.5 L995 460 C995 460 956.6 461.1 948.4 461 C940.2 460.9 928.9 460.4 925 459 C921.1 457.6 912.1 450.4 915 449 Z" fill="#e11400" stroke="#e11400" stroke-width="3"/><path d="M915 449 C917.9 447.6 940.7 447.6 950 447 C959.3 446.4 995 443.5 995 443.5 L995 460 C995 460 956.6 461.1 948.4 461 C940.2 460.9 928.9 460.4 925 459 C921.1 457.6 912.1 450.4 915 449 Z" fill="#c00000"/><path d="M806 452 C808 451.3 814.7 452.7 816 454 C817.3 455.3 816 459.3 814 460 C812 460.7 805.3 459.3 804 458 C802.7 456.7 804 452.7 806 452 Z" fill="#ffa000"/><path d="M776 452 C777.3 450.7 786.7 450.7 790 452 C793.3 453.3 797.3 458.7 796 460 C794.7 461.3 785.3 461.3 782 460 C778.7 458.7 774.7 453.3 776 452 Z" fill="#ffa000"/><path d="M746 742 C748.2 738.8 764.6 736.8 770 736 C775.4 735.2 796.4 732.4 800 734 C803.6 735.6 806 748.4 806 752 C806 755.6 801 766.8 800 770 C799 773.2 798 781 796 784 C794 787 784.4 797.2 780 800 C775.6 802.8 752 812 752 812 L728 815 C728 815 738 796.7 740 792 C742 787.3 747.4 773 748 768 C748.6 763 743.8 745.2 746 742 Z" fill="#78b9fa"/><path d="M760 742 C763.4 739.2 785.7 737.4 790 738 C794.3 738.6 802.2 745.2 803 748 C803.8 750.8 799.1 762.8 798 766 C796.9 769.2 794.2 777.2 792 780 C789.8 782.8 779.6 791.4 776 794 C772.4 796.6 759.4 804.4 756 806 C752.6 807.6 742 810 742 810 C742 810 748.6 794.4 750 790 C751.4 785.6 755 770.8 756 766 C757 761.2 756.6 744.8 760 742 Z" fill="#3c96f5"/><path d="M776 742 C778.8 740.2 795.4 741.2 798 742 C800.6 742.8 802.8 748.6 802 750 C801.2 751.4 790.2 754.6 790 756 C789.8 757.4 800.8 762.4 800 764 C799.2 765.6 782.8 770.4 782 772 C781.2 773.6 793 778.8 792 780 C791 781.2 773.6 782.4 772 784 C770.4 785.6 777.2 794.4 776 796 C774.8 797.6 761.2 801.6 760 800 C758.8 798.4 763 784 764 780 C765 776 768.8 763.8 770 760 C771.2 756.2 773.2 743.8 776 742 Z" fill="#1e6eeb"/><path d="M784 724.7 C784.6 724.9 791.4 728.4 793.4 729.4 C795.4 730.4 804.8 736 807.5 736.4 C810.2 736.8 822.9 734.8 826 734 C829.1 733.2 842.6 728 845 727 C847.4 726 851.6 722.7 854.4 722.3 C857.1 721.9 874.1 722 878 722.3 C881.9 722.6 897.5 725.2 901.4 725.8 C905.3 726.4 921.1 728.9 925 729.4 C928.9 729.9 944.5 731.1 948.4 731.7 C952.3 732.3 967.9 735.8 971.8 736.4 C975.7 737 995 738.7 995 738.7 L995 815 L748 815 C748 815 745.8 807.4 748 806 C750.2 804.6 773.8 799.8 775 798 C776.2 796.2 761.8 786.4 763 785 C764.2 783.6 789.2 782.1 790 781 C790.8 779.9 772.3 773.4 773 772 C773.7 770.6 797.4 765.2 798 764 C798.6 762.8 779.8 758.4 780 757 C780.2 755.6 799.2 748.7 800 747 C800.8 745.3 791.2 738.7 790 737 C788.8 735.3 786.5 728 786 727 C785.5 726 783.4 724.5 784 724.7 Z" fill="#1e6eeb" stroke="#1e6eeb" stroke-width="9.2"/><path d="M784 724.7 C784.6 724.9 791.4 728.4 793.4 729.4 C795.4 730.4 804.8 736 807.5 736.4 C810.2 736.8 822.9 734.8 826 734 C829.1 733.2 842.6 728 845 727 C847.4 726 851.6 722.7 854.4 722.3 C857.1 721.9 874.1 722 878 722.3 C881.9 722.6 897.5 725.2 901.4 725.8 C905.3 726.4 921.1 728.9 925 729.4 C928.9 729.9 944.5 731.1 948.4 731.7 C952.3 732.3 967.9 735.8 971.8 736.4 C975.7 737 995 738.7 995 738.7 L995 815 L748 815 C748 815 745.8 807.4 748 806 C750.2 804.6 773.8 799.8 775 798 C776.2 796.2 761.8 786.4 763 785 C764.2 783.6 789.2 782.1 790 781 C790.8 779.9 772.3 773.4 773 772 C773.7 770.6 797.4 765.2 798 764 C798.6 762.8 779.8 758.4 780 757 C780.2 755.6 799.2 748.7 800 747 C800.8 745.3 791.2 738.7 790 737 C788.8 735.3 786.5 728 786 727 C785.5 726 783.4 724.5 784 724.7 Z" fill="#1464d2" stroke="#1464d2" stroke-width="6.2"/><path d="M784 724.7 C784.6 724.9 791.4 728.4 793.4 729.4 C795.4 730.4 804.8 736 807.5 736.4 C810.2 736.8 822.9 734.8 826 734 C829.1 733.2 842.6 728 845 727 C847.4 726 851.6 722.7 854.4 722.3 C857.1 721.9 874.1 722 878 722.3 C881.9 722.6 897.5 725.2 901.4 725.8 C905.3 726.4 921.1 728.9 925 729.4 C928.9 729.9 944.5 731.1 948.4 731.7 C952.3 732.3 967.9 735.8 971.8 736.4 C975.7 737 995 738.7 995 738.7 L995 815 L748 815 C748 815 745.8 807.4 748 806 C750.2 804.6 773.8 799.8 775 798 C776.2 796.2 761.8 786.4 763 785 C764.2 783.6 789.2 782.1 790 781 C790.8 779.9 772.3 773.4 773 772 C773.7 770.6 797.4 765.2 798 764 C798.6 762.8 779.8 758.4 780 757 C780.2 755.6 799.2 748.7 800 747 C800.8 745.3 791.2 738.7 790 737 C788.8 735.3 786.5 728 786 727 C785.5 726 783.4 724.5 784 724.7 Z" fill="#0fa00f" stroke="#0fa00f" stroke-width="3.2"/><path d="M784 724.7 C784.6 724.9 791.4 728.4 793.4 729.4 C795.4 730.4 804.8 736 807.5 736.4 C810.2 736.8 822.9 734.8 826 734 C829.1 733.2 842.6 728 845 727 C847.4 726 851.6 722.7 854.4 722.3 C857.1 721.9 874.1 722 878 722.3 C881.9 722.6 897.5 725.2 901.4 725.8 C905.3 726.4 921.1 728.9 925 729.4 C928.9 729.9 944.5 731.1 948.4 731.7 C952.3 732.3 967.9 735.8 971.8 736.4 C975.7 737 995 738.7 995 738.7 L995 815 L748 815 C748 815 745.8 807.4 748 806 C750.2 804.6 773.8 799.8 775 798 C776.2 796.2 761.8 786.4 763 785 C764.2 783.6 789.2 782.1 790 781 C790.8 779.9 772.3 773.4 773 772 C773.7 770.6 797.4 765.2 798 764 C798.6 762.8 779.8 758.4 780 757 C780.2 755.6 799.2 748.7 800 747 C800.8 745.3 791.2 738.7 790 737 C788.8 735.3 786.5 728 786 727 C785.5 726 783.4 724.5 784 724.7 Z" fill="#28be28"/><path d="M971.6 745.3 C974.7 744.3 995 747.8 995 747.8 L995 758 C995 758 980.5 756.1 976.6 754 C972.7 751.9 968.5 746.3 971.6 745.3 Z" fill="#1e6eeb" stroke="#1e6eeb" stroke-width="4"/><path d="M971.6 745.3 C974.7 744.3 995 747.8 995 747.8 L995 758 C995 758 980.5 756.1 976.6 754 C972.7 751.9 968.5 746.3 971.6 745.3 Z" fill="#1464d2"/><path d="M812 744 C813.2 742.6 826.2 739.3 830 738 C833.8 736.7 846 732 850 731 C854 730 865 728 870 728 C875 728 894 730.2 900 731 C906 731.8 924 734.9 930 736 C936 737.1 955.5 740.7 960 742 C964.5 743.3 975 748.1 975 749 C975 749.9 964.5 751.2 960 751 C955.5 750.8 936 747.8 930 747 C924 746.2 905.5 743.6 900 743 C894.5 742.4 879.5 740.8 875 741 C870.5 741.2 859 744 855 745 C851 746 838.7 750.3 835 751 C831.3 751.7 820.3 752.7 818 752 C815.7 751.3 810.8 745.4 812 744 Z" fill="#50f050"/><path d="M798 760.4 C801.4 757.8 811.2 751.3 815.5 750 C819.8 748.7 836.5 747.3 840.7 747.8 C845 748.3 854 753.2 858 755 C862 756.8 876.4 763.5 881 765.5 C885.6 767.5 899.1 774.2 903.6 775.5 C908.1 776.8 921 777.2 926 778 C931 778.8 947.1 781.7 954 783 C960.9 784.3 995 790.6 995 790.6 L995 815 L760 815 C760 815 769 805.5 772 803 C775 800.5 789 792.7 790 790 C791 787.3 781.2 779 782 776 C782.8 773 794.6 763 798 760.4 Z" fill="#73f06e"/><path d="M806 764 C808.5 761.8 816.5 757.2 820 756 C823.5 754.8 837.1 751.7 840.7 752 C844.3 752.3 852.3 757.3 856 759 C859.7 760.7 873.6 767 878 769 C882.4 771 895.2 777.6 900 779 C904.8 780.4 920.6 782.1 926 783 C931.4 783.9 947.1 786.8 954 788 C960.9 789.2 995 795 995 795 L995 815 L775 815 C775 815 783.5 805.3 786 803 C788.5 800.7 799.1 794.5 800 792 C800.9 789.5 794.4 780.8 795 778 C795.6 775.2 803.5 766.2 806 764 Z" fill="#b4fab4"/><path d="M838 742.8 C841 742.8 865.7 748 871 750 C876.3 752 890 761.2 891 763 C892 764.8 884.3 768.5 881 768 C877.7 767.5 862 759.8 858 758 C854 756.2 842.7 751.5 840.7 750 C838.7 748.5 835 742.8 838 742.8 Z" fill="#0fa00f"/><path d="M896 758 C897 757.5 912 763.8 916 765.5 C920 767.2 935 774.2 936 775.5 C937 776.8 929 778.5 926 778 C923 777.5 909 772.5 906 770.5 C903 768.5 895 758.5 896 758 Z" fill="#28be28"/><path d="M946.4 763 C949.3 763 959.9 766.3 961.6 768 C963.3 769.7 959.4 773 956.5 773 C953.6 773 945.7 769.7 944 768 C942.3 766.3 943.5 763 946.4 763 Z" fill="#28be28"/><path d="M775 775.5 C777.7 775.1 794.9 776.2 800 777 C805.1 777.8 824.4 782 826 783 C827.6 784 819 787 816 787 C813 787 800.3 783.6 796 783 C791.7 782.4 775.1 781.4 773 780.6 C770.9 779.9 772.3 775.9 775 775.5 Z" fill="#28be28"/><path d="M765 788 C766.4 787.5 785.7 789.1 790 790 C794.3 790.9 807.4 796 808 797 C808.6 798 799.2 800.2 796 800 C792.8 799.8 779.1 796.2 776 795 C772.9 793.8 763.6 788.5 765 788 Z" fill="#28be28"/><path d="M808 770 C809.6 768.2 818.7 763 822 762 C825.3 761 837.3 759.6 840.7 760 C844.1 760.4 852.5 764.5 856 766 C859.5 767.5 871.6 773.2 876 775 C880.4 776.8 895 782.5 900 784 C905 785.5 920 788.8 926 790 C932 791.2 953.1 794.8 960 796 C966.9 797.2 995 802 995 802 L995 815 L790 815 C790 815 797.8 802.5 800 800 C802.2 797.5 811.4 792 812 790 C812.6 788 806.4 782 806 780 C805.6 778 806.4 771.8 808 770 Z" fill="#fffaaa"/><path d="M815.5 775 C817.6 772.9 836.2 768.5 840.7 768.5 C845.2 768.5 856.8 773.8 860.8 775.5 C864.8 777.2 876 783.9 881 785.6 C886 787.4 906 791.8 911 793 C916 794.2 926.1 797 931 798 C935.9 799 953.6 802 960 803 C966.4 804 995 808 995 808 L995 815 L806 815 C806 815 812.6 802.5 814 800 C815.4 797.5 819.9 792.5 820 790 C820.1 787.5 813.4 777.1 815.5 775 Z" fill="#ffe878"/><path d="M960 770 C962.8 769 970.8 770 975 772 C979.2 774 985.8 780 985 782 C984.2 784 974.5 784.7 970 784 C965.5 783.3 959.7 780.3 958 778 C956.3 775.7 957.2 771 960 770 Z" fill="#fffaaa"/><path d="M930 762 C932 761.3 940.3 762.7 942 764 C943.7 765.3 942 769.3 940 770 C938 770.7 931.7 769.3 930 768 C928.3 766.7 928 762.7 930 762 Z" fill="#fffaaa"/><path d="M835.7 775.5 C837.8 775.1 848.8 776.8 850.8 778 C852.8 779.2 850.1 782.6 848 783 C845.9 783.4 840 781.9 838 780.6 C836 779.4 833.6 775.9 835.7 775.5 Z" fill="#ffc03c"/><path d="M858 785.6 C859.5 785.3 872.2 787.3 876 788 C879.8 788.7 892 792.1 896 793 C900 793.9 913 796.2 916 797 C919 797.8 926.5 800.1 926 800.7 C925.5 801.3 914.5 803.1 911 803 C907.5 802.9 895 800.3 891 799.4 C887 798.5 874 795.3 871 794.4 C868 793.5 862.3 791.5 861 790.6 C859.7 789.7 856.5 785.9 858 785.6 Z" fill="#ffc03c"/><path d="M878 790.5 C880.7 790.5 891.3 793.2 896 794.5 C900.7 795.8 906.3 797.3 906 798 C905.7 798.7 898.3 799.1 894 798.5 C889.7 797.9 882.7 795.8 880 794.5 C877.3 793.2 875.3 790.5 878 790.5 Z" fill="#ffa000"/><path d="M823 800.7 C824.4 800.4 829.8 802 830.6 803 C831.4 804 829.4 806.7 828 807 C826.6 807.3 822.8 806 822 805 C821.2 804 821.6 801 823 800.7 Z" fill="#ffc03c"/><path d="M905 806 C908.3 804.7 921.7 805.5 925 807 C928.3 808.5 925 815 925 815 L905 815 C905 815 901.7 807.3 905 806 Z" fill="#ffc03c"/><path d="M863.4 732 C864.6 731.5 876.2 731.4 880 731.5 C883.8 731.6 896.9 733 901.4 733.5 C905.9 734 920.8 735.6 925 736.4 C929.2 737.1 940 739.6 943.7 741 C947.5 742.4 957.4 748.1 962.5 750.5 C967.6 752.9 995 764.6 995 764.6 L995 778.7 C995 778.7 976 773.2 971.8 771.6 C967.6 770 956.8 763.9 953 762.2 C949.2 760.5 937.8 756.2 934 755 C930.2 753.8 919.2 751.4 915.5 750.5 C911.8 749.6 900.5 746.8 896.7 745.8 C893 744.8 880.9 741.9 878 741 C875.1 740.1 869.5 737.3 868 736.4 C866.5 735.5 862.2 732.5 863.4 732 Z" fill="#73f06e" stroke="#73f06e" stroke-width="6"/><path d="M863.4 732 C864.6 731.5 876.2 731.4 880 731.5 C883.8 731.6 896.9 733 901.4 733.5 C905.9 734 920.8 735.6 925 736.4 C929.2 737.1 940 739.6 943.7 741 C947.5 742.4 957.4 748.1 962.5 750.5 C967.6 752.9 995 764.6 995 764.6 L995 778.7 C995 778.7 976 773.2 971.8 771.6 C967.6 770 956.8 763.9 953 762.2 C949.2 760.5 937.8 756.2 934 755 C930.2 753.8 919.2 751.4 915.5 750.5 C911.8 749.6 900.5 746.8 896.7 745.8 C893 744.8 880.9 741.9 878 741 C875.1 740.1 869.5 737.3 868 736.4 C866.5 735.5 862.2 732.5 863.4 732 Z" fill="#b4fab4" stroke="#b4fab4" stroke-width="3"/><path d="M863.4 732 C864.6 731.5 876.2 731.4 880 731.5 C883.8 731.6 896.9 733 901.4 733.5 C905.9 734 920.8 735.6 925 736.4 C929.2 737.1 940 739.6 943.7 741 C947.5 742.4 957.4 748.1 962.5 750.5 C967.6 752.9 995 764.6 995 764.6 L995 778.7 C995 778.7 976 773.2 971.8 771.6 C967.6 770 956.8 763.9 953 762.2 C949.2 760.5 937.8 756.2 934 755 C930.2 753.8 919.2 751.4 915.5 750.5 C911.8 749.6 900.5 746.8 896.7 745.8 C893 744.8 880.9 741.9 878 741 C875.1 740.1 869.5 737.3 868 736.4 C866.5 735.5 862.2 732.5 863.4 732 Z" fill="#fffaaa"/><path d="M880 735.4 C881.3 735 893.2 735.3 896.7 735.6 C900.2 735.9 911.8 737.5 915.5 738 C919.2 738.5 930.2 739.8 934 741 C937.8 742.2 949.2 748.6 953 750.5 C956.8 752.4 967.6 758.4 971.8 760 C976 761.6 995 767 995 767 L995 774 C995 774 976 770.7 971.8 769.3 C967.6 767.9 956.8 761.6 953 760 C949.2 758.4 937.8 754.1 934 752.8 C930.2 751.5 919.2 748 915.5 747 C911.8 746 899.9 743.8 896.7 743 C893.6 742.2 885.7 740.3 884 739.5 C882.3 738.7 878.7 735.8 880 735.4 Z" fill="#ffe878" stroke="#ffe878" stroke-width="4"/><path d="M880 735.4 C881.3 735 893.2 735.3 896.7 735.6 C900.2 735.9 911.8 737.5 915.5 738 C919.2 738.5 930.2 739.8 934 741 C937.8 742.2 949.2 748.6 953 750.5 C956.8 752.4 967.6 758.4 971.8 760 C976 761.6 995 767 995 767 L995 774 C995 774 976 770.7 971.8 769.3 C967.6 767.9 956.8 761.6 953 760 C949.2 758.4 937.8 754.1 934 752.8 C930.2 751.5 919.2 748 915.5 747 C911.8 746 899.9 743.8 896.7 743 C893.6 742.2 885.7 740.3 884 739.5 C882.3 738.7 878.7 735.8 880 735.4 Z" fill="#ffc03c" stroke="#ffc03c" stroke-width="2"/><path d="M880 735.4 C881.3 735 893.2 735.3 896.7 735.6 C900.2 735.9 911.8 737.5 915.5 738 C919.2 738.5 930.2 739.8 934 741 C937.8 742.2 949.2 748.6 953 750.5 C956.8 752.4 967.6 758.4 971.8 760 C976 761.6 995 767 995 767 L995 774 C995 774 976 770.7 971.8 769.3 C967.6 767.9 956.8 761.6 953 760 C949.2 758.4 937.8 754.1 934 752.8 C930.2 751.5 919.2 748 915.5 747 C911.8 746 899.9 743.8 896.7 743 C893.6 742.2 885.7 740.3 884 739.5 C882.3 738.7 878.7 735.8 880 735.4 Z" fill="#ffa000"/><path d="M896 737.8 C896.9 737.4 907.4 737.7 910.8 738.2 C914.2 738.7 925.8 741.6 929.6 743 C933.4 744.4 944.7 750.1 948.4 752 C952.1 753.9 962.3 759.8 967 761.5 C971.7 763.2 995 769 995 769 L995 773 C995 773 976 769.4 971.8 768 C967.6 766.6 956.8 760.5 953 758.7 C949.2 757 937.8 751.9 934 750.5 C930.2 749.1 918.8 745.5 915.5 744.6 C912.2 743.8 903.4 742.7 901.4 742 C899.4 741.3 895.1 738.2 896 737.8 Z" fill="#ff6000" stroke="#ff6000" stroke-width="2"/><path d="M896 737.8 C896.9 737.4 907.4 737.7 910.8 738.2 C914.2 738.7 925.8 741.6 929.6 743 C933.4 744.4 944.7 750.1 948.4 752 C952.1 753.9 962.3 759.8 967 761.5 C971.7 763.2 995 769 995 769 L995 773 C995 773 976 769.4 971.8 768 C967.6 766.6 956.8 760.5 953 758.7 C949.2 757 937.8 751.9 934 750.5 C930.2 749.1 918.8 745.5 915.5 744.6 C912.2 743.8 903.4 742.7 901.4 742 C899.4 741.3 895.1 738.2 896 737.8 Z" fill="#ff3200"/><path d="M833 615 C834.6 613.2 848 613.5 850 615 C852 616.5 846.6 621.9 845 623.7 C843.4 625.5 842.4 627.5 840.4 626 C838.4 624.5 831.4 616.8 833 615 Z" fill="#1464d2" stroke="#1464d2" stroke-width="6"/><path d="M833 615 C834.6 613.2 848 613.5 850 615 C852 616.5 846.6 621.9 845 623.7 C843.4 625.5 842.4 627.5 840.4 626 C838.4 624.5 831.4 616.8 833 615 Z" fill="#0fa00f" stroke="#0fa00f" stroke-width="3"/><path d="M833 615 C834.6 613.2 848 613.5 850 615 C852 616.5 846.6 621.9 845 623.7 C843.4 625.5 842.4 627.5 840.4 626 C838.4 624.5 831.4 616.8 833 615 Z" fill="#28be28"/><path d="M370 764 C370 764 376.3 764.3 380 765 C383.7 765.7 387.7 765.8 392 768 C396.3 770.2 401.5 775 406 778.5 C410.5 782 414 785.9 419 789 C424 792.1 430 794.5 436 797 C442 799.5 448.5 801.5 455 804 C461.5 806.5 475 812 475 812" fill="none" stroke="#78b9fa" stroke-width="33"/><path d="M370 764 C370 764 376.3 764.3 380 765 C383.7 765.7 387.7 765.8 392 768 C396.3 770.2 401.5 775 406 778.5 C410.5 782 414 785.9 419 789 C424 792.1 430 794.5 436 797 C442 799.5 448.5 801.5 455 804 C461.5 806.5 475 812 475 812" fill="none" stroke="#3c96f5" stroke-width="29"/><path d="M370 764 C370 764 376.3 764.3 380 765 C383.7 765.7 387.7 765.8 392 768 C396.3 770.2 401.5 775 406 778.5 C410.5 782 414 785.9 419 789 C424 792.1 430 794.5 436 797 C442 799.5 448.5 801.5 455 804 C461.5 806.5 475 812 475 812" fill="none" stroke="#1e6eeb" stroke-width="25"/><path d="M370 764 C370 764 376.3 764.3 380 765 C383.7 765.7 387.7 765.8 392 768 C396.3 770.2 401.5 775 406 778.5 C410.5 782 414 785.9 419 789 C424 792.1 430 794.5 436 797 C442 799.5 448.5 801.5 455 804 C461.5 806.5 475 812 475 812" fill="none" stroke="#1464d2" stroke-width="21"/><path d="M370 764 C370 764 376.3 764.3 380 765 C383.7 765.7 387.7 765.8 392 768 C396.3 770.2 401.5 775 406 778.5 C410.5 782 414 785.9 419 789 C424 792.1 430 794.5 436 797 C442 799.5 448.5 801.5 455 804 C461.5 806.5 475 812 475 812" fill="none" stroke="#0fa00f" stroke-width="17"/><path d="M370 764 C370 764 376.3 764.3 380 765 C383.7 765.7 387.7 765.8 392 768 C396.3 770.2 401.5 775 406 778.5 C410.5 782 414 785.9 419 789 C424 792.1 430 794.5 436 797 C442 799.5 448.5 801.5 455 804 C461.5 806.5 475 812 475 812" fill="none" stroke="#28be28" stroke-width="13"/><path d="M370 770 C370 770 375.7 769.7 380 771 C384.3 772.3 391 774.8 396 778 C401 781.2 405.2 786.3 410 790 C414.8 793.7 422.5 798.3 425 800" fill="none" stroke="#73f06e" stroke-width="5"/><path d="M376 768 L386 770" fill="none" stroke="#b4fab4" stroke-width="4"/><path d="M370 776 C370 776 386 777.3 392 780 C398 782.7 401.7 787.7 406 792 C410.3 796.3 415 802.2 418 806 C421 809.8 424 815 424 815 L370 815 L370 776 Z" fill="#1e6eeb"/><path d="M370 786 C370 786 384.7 786.7 390 790 C395.3 793.3 399.7 801.8 402 806 C404.3 810.2 404 815 404 815 L370 815 L370 786 Z" fill="#3c96f5"/></g><g stroke="#a8a8a8" stroke-width="1" stroke-dasharray="2 8.46" fill="none" opacity="0.8"><path d="M381.5 445.0 H990"/><path d="M381.5 517.7 H990"/><path d="M381.5 590.3 H990"/><path d="M381.5 663.0 H990"/><path d="M381.5 735.6 H990"/><path d="M448.4 431 V809"/><path d="M525.6 431 V809"/><path d="M602.8 431 V809"/><path d="M680.0 431 V809"/><path d="M757.2 431 V809"/><path d="M834.4 431 V809"/><path d="M911.6 431 V809"/><path d="M988.8 431 V809"/></g><g stroke-linejoin="round" stroke-linecap="round"><path d="M474 431 L481 436 L485 442 L488 445 L494 450 L498 452.5 L505 451 L509 456 L512 455 L519 462 L523.6 455 L528 450 L533 450 L537.7 451 L542.4 455 L546 459.5 L544.7 469 L547 483 L546 490 L540 497 L535 501.8 L528 508.8 L522.4 515.9 L521 521.7 L519 527.6 L521 534.7 L526 539.4 L521 546.4 L516.5 548.7 L516.5 560.5 L523.6 567.5 L530.6 574.6 L537.7 584 L542.4 593.4 L547 602.8 L551.8 612 L554 619 L565.8 628.4 L580 636.6 L591.7 641.3 L600 649.5 L601 666 L598.8 689.4 L596.4 708 L590.6 729.4 L588 745.8 L582 769 L577.6 783.4 L575 792.7 L576.4 810" fill="none" stroke="#000" stroke-width="1.25"/><path d="M489 431 L495.4 436 L502.5 443 L509.5 449 L519 452.5 L523 448 L528 450" fill="none" stroke="#000" stroke-width="1.25"/><path d="M542.4 455 L546 450 L551.8 447.8 L558 442 L563.5 440.7 L568 436 L573 433.7 L580 431" fill="none" stroke="#000" stroke-width="1.25"/><path d="M580 438.4 L587 433.7 L594 436 L610.5 433.7 L617.6 440.7 L634 442 L645.7 439.6 L657.5 442 L671.6 450 L678.6 456 L690.4 466.6 L697.4 473.6 L711.5 474.8 L725.6 476 L739.7 480.7 L746.7 487.7 L751.4 499.4 L756 508.8 L755 515.9 L749 520.6 L742 527.6" fill="none" stroke="#000" stroke-width="1.25"/><path d="M587 433.7 L594 438.4 L591.7 447.8 L587 450 L584.7 443 L587 433.7" fill="none" stroke="#000" stroke-width="1.25"/><path d="M646 438 L657 437" fill="none" stroke="#000" stroke-width="1.25"/><path d="M668 436 L671 434 L672 438 L669 439 Z" fill="none" stroke="#000" stroke-width="1.25"/><path d="M739.7 527.6 L749 518 L753.8 513.5 L756 518 L765.5 517 L767.8 523 L765.5 530 L758.5 532.3 L751.4 527.6 L744.4 523 L750 530 L746 534" fill="none" stroke="#000" stroke-width="1.25"/><path d="M753 521 L762 520 L764 526 L757 528 L753 521" fill="none" stroke="#000" stroke-width="1.25"/><path d="M767.8 523 L777 521.7 L784 525 L798 530 L800.4 537 L812 535.8 L831 539 L842.7 546.4 L854.4 553.5 L868.5 557 L874.4 569.9 L870.9 584 L861.5 593.4 L852 602.8 L845 612 L842 624 L841.5 637.8 L838 649.5 L831 663.6 L824 677.7 L807.5 684.7 L784 691.8 L775 698.8 L767.8 703.5 L765.5 717.6 L758.5 729.4 L751.4 738.7 L744.4 748 L735 757.5 L730 762 L721 769 L706.8 771.6 L695 769" fill="none" stroke="#000" stroke-width="1.25"/><path d="M528 508.8 L542.4 513.5 L556.5 515.9 L563.5 523 L558.8 532.3 L551.8 539.4 L542.4 541.7 L533 551 L528 548.7" fill="none" stroke="#000" stroke-width="1.25"/><path d="M563.5 523 L573 527.6 L580 534.7 L583 532.3 L594 537 L603.5 546.4 L598.8 548.7 L590 554 L583 560.5 L573 570 L577.6 584 L583 586 L594 588.7 L596.4 593.4 L608 598 L636.4 588.7 L638.7 602.8 L650.4 609.8 L669 614.5 L678.6 619 L676 624 L678.6 634 L690.4 635.4 L692.7 640 L697.4 649.5 L695 661" fill="none" stroke="#000" stroke-width="1.25"/><path d="M580 454.8 L584.7 464 L594 466.6 L608 469 L620 473.6 L622 483 L620 497 L629.3 508.8 L636.4 511 L645.7 506.5 L650.4 499.4 L643.4 490 L648 486.5 L659.8 487.7 L671.6 484 L678.6 485.4 L676 471 L671.6 469 L674 459.5 L669 450" fill="none" stroke="#000" stroke-width="1.25"/><path d="M603.5 546.4 L607 532.3 L602 523 L603.5 513.5 L608 511 L603.5 506.5 L622 504 L627 508.8 L636.4 511" fill="none" stroke="#000" stroke-width="1.25"/><path d="M678.6 485.4 L681 499.4 L688 506.5 L702 504 L706.8 504 L723 499.4 L737.3 499.4 L744.4 492.4 L748 487.7" fill="none" stroke="#000" stroke-width="1.25"/><path d="M690.4 466.6 L697.4 473.6 L695 483 L702 494.7 L706.8 504" fill="none" stroke="#000" stroke-width="1.25"/><path d="M723 476 L724.4 487.7 L723 499.4" fill="none" stroke="#000" stroke-width="1.25"/><path d="M608 598 L610.5 619 L610.5 630.7 L603.5 635.4 L608 644.8 L612.9 659 L617.6 673 L620 682.4 L624.6 687 L615 694 L611.7 708 L605.8 722.3 L601 736.4 L600 750.5 L603.5 759.9 L601 771.6 L596.4 783.4 L591.7 802 L590.6 810" fill="none" stroke="#000" stroke-width="1.25"/><path d="M603 631 L610 633 L609 638 L604 636 Z" fill="none" stroke="#000" stroke-width="1.25"/><path d="M624.6 687 L634 677.7 L645.7 680 L648 684.7 L652.8 677.7 L659.8 677.7 L662 666 L667 660 L681 657.7 L695 661 L695 676.5 L711.5 680 L716 688 L723 691.8 L722 703.5 L728 705.9 L728 709.4" fill="none" stroke="#000" stroke-width="1.25"/><path d="M659.8 677.7 L674 689.4 L683.3 694 L695 701 L697.4 705.9 L690.4 715 L709 716.4 L721 710.6 L728 709.4 L721 717.6 L711.5 727 L702 736.4 L695 745.8 L692.7 759.9 L695 769 L702 774 L704.5 783.4 L697.4 792.7 L685.7 797.5 L669 799.8 L662 802 L662 810" fill="none" stroke="#000" stroke-width="1.25"/><path d="M702 736.4 L711.5 738.7 L721 745.8 L730 755 L735 757.5" fill="none" stroke="#000" stroke-width="1.25"/><path d="M744 748 L748 740 L752 736 L750 744 L745 750" fill="none" stroke="#000" stroke-width="1.25"/><path d="M435 517 L437 515 L438.5 518 L436 521 L438 524 L435.5 525 L434.5 521 Z" fill="none" stroke="#000" stroke-width="1.2"/><path d="M441 523.5 L444 522.5" fill="none" stroke="#000" stroke-width="1.2"/><path d="M792 651 L794 649 L795 653" fill="none" stroke="#000" stroke-width="1.2"/><path d="M785 666 L789 670 L793 667 L790 672 L787 675" fill="none" stroke="#000" stroke-width="1.4"/><path d="M718 485 L720 483 L721 487 Z" fill="none" stroke="#000" stroke-width="1.25"/><path d="M659 739.5 L663 738.5 L664 740.5 L660 741.5 Z" fill="none" stroke="#000" stroke-width="1.3"/></g></g>
<g fill="none" stroke="#000" stroke-width="2.2"><rect x="378.1" y="46.1" width="612" height="378.4"/><rect x="378.1" y="430.1" width="612" height="377.9"/></g>
</svg></body></html>
